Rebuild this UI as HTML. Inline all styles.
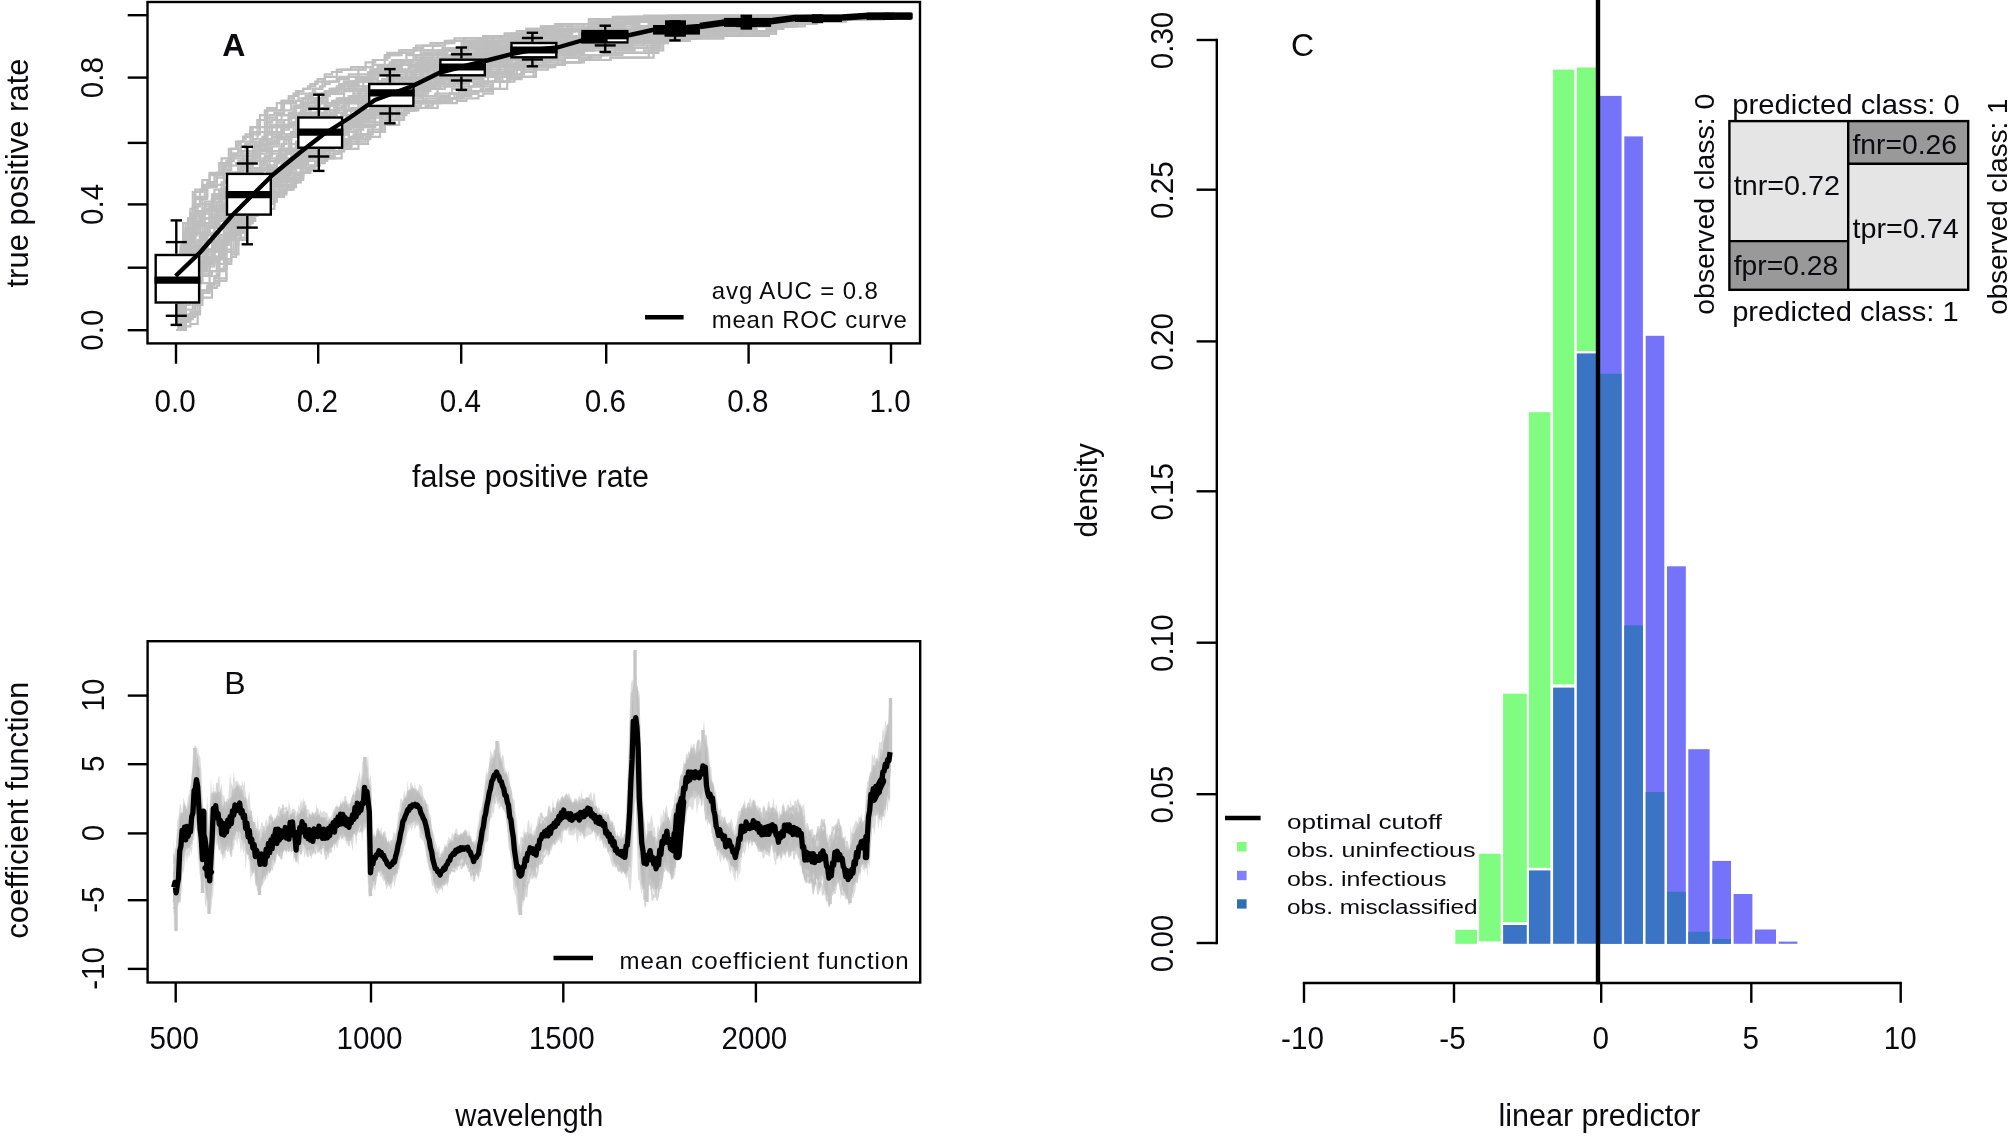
<!DOCTYPE html>
<html lang="en">
<head>
<meta charset="utf-8">
<title>Figure: ROC curves, coefficient function and linear predictor densities</title>
<style>
html,body{margin:0;padding:0;background:#fff;}
body{width:2010px;height:1136px;overflow:hidden;}
svg{display:block;filter:blur(0.55px);font-family:"Liberation Sans",Arial,sans-serif;fill:#000;}
svg text{fill:#0b0b0f;}
</style>
</head>
<body>
<svg width="2010" height="1136" viewBox="0 0 2010 1136">
<rect x="0" y="0" width="2010" height="1136" fill="#ffffff"/>
<g id="panelA">
<path d="M176 330 L183.2 330 L183.2 326.4 L185.6 326.4 L190.4 326.4 L190.4 324 L197.6 324 L197.6 300 L200 300 L202.4 300 L202.4 297.6 L204.8 297.6 L212 297.6 L212 288 L214.4 288 L216.8 288 L216.8 285.6 L219.2 285.6 L219.2 278.4 L226.4 278.4 L226.4 261.6 L228.8 261.6 L231.2 261.6 L231.2 256.8 L236 256.8 L236 244.8 L238.4 244.8 L238.4 240 L245.6 240 L245.6 220.8 L255.2 220.8 L255.2 211.2 L262.4 211.2 L262.4 206.4 L269.6 206.4 L269.6 201.6 L276.8 201.6 L276.8 194.4 L279.2 194.4 L284 194.4 L284 189.6 L291.2 189.6 L291.2 180 L296 180 L296 175.2 L303.2 175.2 L303.2 168 L305.6 168 L315.2 168 L315.2 160.8 L317.6 160.8 L324.8 160.8 L324.8 158.4 L329.6 158.4 L341.6 158.4 L341.6 146.4 L344 146.4 L346.4 146.4 L351.2 146.4 L351.2 144 L356 144 L368 144 L368 132 L370.4 132 L384.8 132 L384.8 120 L389.6 120 L396.8 120 L396.8 115.2 L406.4 115.2 L406.4 110.4 L408.8 110.4 L413.6 110.4 L413.6 108 L416 108 L428 108 L428 103.2 L440 103.2 L440 98.4 L454.4 98.4 L454.4 93.6 L466.4 93.6 L466.4 91.2 L471.2 91.2 L476 91.2 L485.6 91.2 L485.6 88.8 L500 88.8 L500 81.6 L504.8 81.6 L514.4 81.6 L514.4 76.8 L533.6 76.8 L533.6 67.2 L543.2 67.2 L555.2 67.2 L555.2 64.8 L564.8 64.8 L564.8 62.4 L584 62.4 L584 60 L591.2 60 L605.6 60 L610.4 60 L610.4 57.6 L612.8 57.6 L617.6 57.6 L620 57.6 L627.2 57.6 L634.4 57.6 L641.6 57.6 L653.6 57.6 L653.6 43.2 L668 43.2 L668 40.8 L687.2 40.8 L687.2 38.4 L701.6 38.4 L701.6 36 L716 36 L735.2 36 L754.4 36 L754.4 33.6 L764 33.6 L764 31.2 L773.6 31.2 L773.6 28.8 L783.2 28.8 L783.2 26.4 L785.6 26.4 L795.2 26.4 L795.2 24 L800 24 L802.4 24 L804.8 24 L812 24 L812 21.6 L824 21.6 L836 21.6 L845.6 21.6 L845.6 19.2 L852.8 19.2 L864.8 19.2 L884 19.2 L884 16.8 L888 16.8 L888 15.5" fill="none" stroke="#bebebe" stroke-width="2.2" stroke-linejoin="miter"/>
<path d="M176 330 L180.8 330 L180.8 321.6 L188 321.6 L188 319.2 L192.8 319.2 L192.8 314.4 L200 314.4 L200 290.4 L202.4 290.4 L209.6 290.4 L209.6 283.2 L214.4 283.2 L214.4 280.8 L216.8 280.8 L226.4 280.8 L226.4 252 L236 252 L236 232.8 L238.4 232.8 L243.2 232.8 L243.2 225.6 L245.6 225.6 L245.6 223.2 L252.8 223.2 L252.8 213.6 L262.4 213.6 L262.4 201.6 L269.6 201.6 L269.6 196.8 L279.2 196.8 L279.2 189.6 L281.6 189.6 L291.2 189.6 L291.2 177.6 L300.8 177.6 L300.8 168 L303.2 168 L310.4 168 L310.4 165.6 L312.8 165.6 L317.6 165.6 L317.6 163.2 L322.4 163.2 L322.4 160.8 L327.2 160.8 L327.2 158.4 L334.4 158.4 L334.4 153.6 L339.2 153.6 L339.2 151.2 L344 151.2 L344 148.8 L351.2 148.8 L351.2 144 L356 144 L356 141.6 L365.6 141.6 L365.6 136.8 L380 136.8 L380 124.8 L384.8 124.8 L399.2 124.8 L399.2 112.8 L401.6 112.8 L408.8 112.8 L408.8 110.4 L416 110.4 L416 105.6 L420.8 105.6 L420.8 103.2 L423.2 103.2 L437.6 103.2 L437.6 100.8 L444.8 100.8 L452 100.8 L452 98.4 L456.8 98.4 L456.8 96 L461.6 96 L471.2 96 L471.2 93.6 L478.4 93.6 L478.4 91.2 L492.8 91.2 L492.8 81.6 L502.4 81.6 L509.6 81.6 L509.6 79.2 L514.4 79.2 L514.4 76.8 L516.8 76.8 L536 76.8 L536 67.2 L548 67.2 L548 64.8 L562.4 64.8 L562.4 62.4 L581.6 62.4 L581.6 60 L586.4 60 L593.6 60 L598.4 60 L610.4 60 L610.4 57.6 L617.6 57.6 L622.4 57.6 L624.8 57.6 L634.4 57.6 L648.8 57.6 L648.8 50.4 L658.4 50.4 L658.4 40.8 L677.6 40.8 L689.6 40.8 L689.6 38.4 L694.4 38.4 L704 38.4 L723.2 38.4 L723.2 36 L742.4 36 L742.4 33.6 L747.2 33.6 L761.6 33.6 L764 33.6 L776 33.6 L776 26.4 L788 26.4 L788 24 L790.4 24 L802.4 24 L802.4 21.6 L804.8 21.6 L824 21.6 L826.4 21.6 L845.6 21.6 L845.6 19.2 L852.8 19.2 L864.8 19.2 L869.6 19.2 L884 19.2 L884 16.8 L888 16.8 L888 15.5" fill="none" stroke="#bebebe" stroke-width="2.2" stroke-linejoin="miter"/>
<path d="M176 330 L183.2 330 L183.2 316.8 L190.4 316.8 L195.2 316.8 L195.2 304.8 L202.4 304.8 L202.4 290.4 L207.2 290.4 L207.2 285.6 L209.6 285.6 L209.6 283.2 L214.4 283.2 L214.4 278.4 L216.8 278.4 L216.8 273.6 L219.2 273.6 L219.2 268.8 L226.4 268.8 L226.4 252 L236 252 L236 232.8 L238.4 232.8 L243.2 232.8 L243.2 228 L245.6 228 L245.6 225.6 L250.4 225.6 L250.4 218.4 L252.8 218.4 L252.8 216 L257.6 216 L257.6 211.2 L260 211.2 L262.4 211.2 L269.6 211.2 L269.6 199.2 L274.4 199.2 L274.4 196.8 L279.2 196.8 L279.2 194.4 L286.4 194.4 L286.4 187.2 L291.2 187.2 L296 187.2 L296 180 L303.2 180 L303.2 172.8 L310.4 172.8 L310.4 165.6 L315.2 165.6 L315.2 163.2 L324.8 163.2 L324.8 156 L329.6 156 L334.4 156 L334.4 153.6 L339.2 153.6 L339.2 151.2 L344 151.2 L344 148.8 L358.4 148.8 L358.4 139.2 L370.4 139.2 L370.4 132 L384.8 132 L384.8 122.4 L394.4 122.4 L394.4 117.6 L404 117.6 L404 110.4 L406.4 110.4 L411.2 110.4 L418.4 110.4 L418.4 108 L420.8 108 L423.2 108 L437.6 108 L437.6 103.2 L442.4 103.2 L444.8 103.2 L447.2 103.2 L452 103.2 L456.8 103.2 L456.8 100.8 L466.4 100.8 L466.4 98.4 L471.2 98.4 L473.6 98.4 L478.4 98.4 L478.4 96 L483.2 96 L483.2 93.6 L492.8 93.6 L492.8 88.8 L507.2 88.8 L507.2 79.2 L521.6 79.2 L521.6 72 L526.4 72 L533.6 72 L533.6 69.6 L536 69.6 L548 69.6 L548 67.2 L552.8 67.2 L552.8 64.8 L562.4 64.8 L564.8 64.8 L564.8 62.4 L579.2 62.4 L579.2 60 L588.8 60 L588.8 57.6 L600.8 57.6 L600.8 55.2 L608 55.2 L608 52.8 L615.2 52.8 L615.2 50.4 L620 50.4 L634.4 50.4 L634.4 48 L639.2 48 L641.6 48 L660.8 48 L660.8 38.4 L675.2 38.4 L682.4 38.4 L696.8 38.4 L696.8 36 L716 36 L716 33.6 L723.2 33.6 L735.2 33.6 L744.8 33.6 L749.6 33.6 L756.8 33.6 L764 33.6 L776 33.6 L776 26.4 L783.2 26.4 L790.4 26.4 L795.2 26.4 L804.8 26.4 L804.8 24 L807.2 24 L812 24 L812 21.6 L816.8 21.6 L824 21.6 L843.2 21.6 L843.2 19.2 L845.6 19.2 L855.2 19.2 L860 19.2 L862.4 19.2 L881.6 19.2 L881.6 16.8 L886.4 16.8 L888 16.8 L888 15.5" fill="none" stroke="#bebebe" stroke-width="2.2" stroke-linejoin="miter"/>
<path d="M176 330 L180.8 330 L180.8 244.8 L183.2 244.8 L183.2 237.6 L185.6 237.6 L185.6 228 L188 228 L188 218.4 L195.2 218.4 L195.2 192 L202.4 192 L202.4 180 L209.6 180 L209.6 172.8 L212 172.8 L219.2 172.8 L219.2 163.2 L228.8 163.2 L228.8 148.8 L236 148.8 L236 141.6 L243.2 141.6 L243.2 136.8 L250.4 136.8 L250.4 127.2 L257.6 127.2 L257.6 120 L260 120 L267.2 120 L267.2 108 L276.8 108 L276.8 103.2 L281.6 103.2 L281.6 100.8 L288.8 100.8 L288.8 96 L296 96 L296 91.2 L298.4 91.2 L303.2 91.2 L303.2 88.8 L310.4 88.8 L310.4 84 L317.6 84 L317.6 79.2 L324.8 79.2 L324.8 76.8 L336.8 76.8 L336.8 69.6 L351.2 69.6 L351.2 67.2 L356 67.2 L360.8 67.2 L372.8 67.2 L372.8 60 L387.2 60 L387.2 52.8 L394.4 52.8 L399.2 52.8 L413.6 52.8 L413.6 50.4 L418.4 50.4 L420.8 50.4 L432.8 50.4 L432.8 45.6 L444.8 45.6 L444.8 43.2 L449.6 43.2 L449.6 40.8 L452 40.8 L464 40.8 L464 38.4 L466.4 38.4 L471.2 38.4 L483.2 38.4 L483.2 36 L490.4 36 L504.8 36 L504.8 33.6 L509.6 33.6 L516.8 33.6 L519.2 33.6 L526.4 33.6 L526.4 28.8 L536 28.8 L543.2 28.8 L543.2 26.4 L548 26.4 L550.4 26.4 L562.4 26.4 L562.4 24 L569.6 24 L588.8 24 L588.8 19.2 L603.2 19.2 L617.6 19.2 L617.6 16.8 L624.8 16.8 L634.4 16.8 L644 16.8 L653.6 16.8 L668 16.8 L668 15.5 L672.8 15.5 L682.4 15.5 L701.6 15.5 L708.8 15.5 L728 15.5 L737.6 15.5 L752 15.5 L754.4 15.5 L761.6 15.5 L764 15.5 L776 15.5 L778.4 15.5 L785.6 15.5 L804.8 15.5 L824 15.5 L838.4 15.5 L843.2 15.5 L850.4 15.5 L869.6 15.5 L876.8 15.5 L879.2 15.5 L888 15.5 L888 15.5" fill="none" stroke="#bebebe" stroke-width="2.2" stroke-linejoin="miter"/>
<path d="M176 330 L183.2 330 L183.2 223.2 L185.6 223.2 L192.8 223.2 L192.8 192 L195.2 192 L202.4 192 L202.4 184.8 L209.6 184.8 L209.6 175.2 L212 175.2 L216.8 175.2 L216.8 172.8 L221.6 172.8 L221.6 165.6 L228.8 165.6 L228.8 160.8 L233.6 160.8 L233.6 153.6 L238.4 153.6 L238.4 151.2 L245.6 151.2 L245.6 141.6 L252.8 141.6 L252.8 132 L255.2 132 L264.8 132 L264.8 122.4 L269.6 122.4 L269.6 115.2 L274.4 115.2 L274.4 112.8 L284 112.8 L284 103.2 L286.4 103.2 L288.8 103.2 L291.2 103.2 L296 103.2 L296 100.8 L303.2 100.8 L303.2 98.4 L305.6 98.4 L310.4 98.4 L310.4 93.6 L315.2 93.6 L315.2 88.8 L320 88.8 L320 86.4 L324.8 86.4 L324.8 84 L329.6 84 L329.6 81.6 L339.2 81.6 L339.2 76.8 L348.8 76.8 L348.8 74.4 L358.4 74.4 L358.4 69.6 L363.2 69.6 L363.2 67.2 L365.6 67.2 L372.8 67.2 L372.8 64.8 L384.8 64.8 L384.8 55.2 L399.2 55.2 L399.2 50.4 L413.6 50.4 L413.6 48 L416 48 L423.2 48 L423.2 45.6 L430.4 45.6 L430.4 43.2 L440 43.2 L454.4 43.2 L454.4 38.4 L464 38.4 L468.8 38.4 L483.2 38.4 L483.2 36 L492.8 36 L504.8 36 L519.2 36 L519.2 33.6 L533.6 33.6 L533.6 31.2 L536 31.2 L548 31.2 L548 26.4 L552.8 26.4 L557.6 26.4 L572 26.4 L572 24 L579.2 24 L591.2 24 L591.2 21.6 L605.6 21.6 L605.6 19.2 L608 19.2 L610.4 19.2 L615.2 19.2 L624.8 19.2 L627.2 19.2 L629.6 19.2 L629.6 16.8 L636.8 16.8 L644 16.8 L644 15.5 L653.6 15.5 L665.6 15.5 L675.2 15.5 L689.6 15.5 L694.4 15.5 L704 15.5 L706.4 15.5 L713.6 15.5 L720.8 15.5 L725.6 15.5 L740 15.5 L749.6 15.5 L752 15.5 L771.2 15.5 L773.6 15.5 L778.4 15.5 L797.6 15.5 L816.8 15.5 L824 15.5 L843.2 15.5 L855.2 15.5 L864.8 15.5 L874.4 15.5 L884 15.5 L888 15.5 L888 15.5" fill="none" stroke="#bebebe" stroke-width="2.2" stroke-linejoin="miter"/>
<path d="M176 330 L178.4 330 L178.4 290.4 L180.8 290.4 L180.8 259.2 L183.2 259.2 L183.2 244.8 L190.4 244.8 L190.4 213.6 L197.6 213.6 L197.6 204 L202.4 204 L202.4 199.2 L204.8 199.2 L204.8 187.2 L209.6 187.2 L209.6 182.4 L216.8 182.4 L216.8 175.2 L224 175.2 L224 163.2 L231.2 163.2 L231.2 156 L236 156 L240.8 156 L240.8 146.4 L243.2 146.4 L245.6 146.4 L245.6 144 L250.4 144 L250.4 134.4 L257.6 134.4 L257.6 127.2 L267.2 127.2 L267.2 117.6 L276.8 117.6 L276.8 115.2 L281.6 115.2 L284 115.2 L284 110.4 L291.2 110.4 L291.2 103.2 L296 103.2 L296 100.8 L298.4 100.8 L298.4 98.4 L303.2 98.4 L305.6 98.4 L305.6 96 L312.8 96 L312.8 88.8 L322.4 88.8 L322.4 81.6 L329.6 81.6 L332 81.6 L336.8 81.6 L336.8 79.2 L348.8 79.2 L348.8 76.8 L353.6 76.8 L358.4 76.8 L358.4 74.4 L360.8 74.4 L365.6 74.4 L370.4 74.4 L370.4 69.6 L375.2 69.6 L389.6 69.6 L389.6 62.4 L401.6 62.4 L401.6 60 L416 60 L416 55.2 L420.8 55.2 L428 55.2 L442.4 55.2 L442.4 50.4 L449.6 50.4 L449.6 48 L464 48 L464 43.2 L468.8 43.2 L471.2 43.2 L485.6 43.2 L485.6 38.4 L497.6 38.4 L502.4 38.4 L502.4 36 L521.6 36 L521.6 31.2 L540.8 31.2 L540.8 28.8 L552.8 28.8 L572 28.8 L572 24 L576.8 24 L579.2 24 L588.8 24 L598.4 24 L598.4 21.6 L600.8 21.6 L603.2 21.6 L608 21.6 L622.4 21.6 L632 21.6 L632 19.2 L641.6 19.2 L653.6 19.2 L665.6 19.2 L684.8 19.2 L704 19.2 L704 16.8 L723.2 16.8 L730.4 16.8 L737.6 16.8 L747.2 16.8 L752 16.8 L759.2 16.8 L771.2 16.8 L778.4 16.8 L783.2 16.8 L802.4 16.8 L804.8 16.8 L807.2 16.8 L807.2 15.5 L809.6 15.5 L828.8 15.5 L838.4 15.5 L845.6 15.5 L850.4 15.5 L869.6 15.5 L881.6 15.5 L888 15.5 L888 15.5" fill="none" stroke="#bebebe" stroke-width="2.2" stroke-linejoin="miter"/>
<path d="M176 330 L180.8 330 L180.8 249.6 L190.4 249.6 L190.4 208.8 L192.8 208.8 L192.8 206.4 L200 206.4 L200 189.6 L202.4 189.6 L204.8 189.6 L204.8 187.2 L207.2 187.2 L212 187.2 L212 184.8 L214.4 184.8 L224 184.8 L224 170.4 L231.2 170.4 L231.2 165.6 L236 165.6 L236 163.2 L238.4 163.2 L240.8 163.2 L240.8 160.8 L243.2 160.8 L243.2 156 L248 156 L248 151.2 L255.2 151.2 L255.2 144 L257.6 144 L260 144 L260 139.2 L264.8 139.2 L264.8 132 L269.6 132 L269.6 124.8 L276.8 124.8 L276.8 115.2 L281.6 115.2 L288.8 115.2 L288.8 112.8 L293.6 112.8 L293.6 108 L296 108 L300.8 108 L300.8 103.2 L308 103.2 L308 98.4 L310.4 98.4 L312.8 98.4 L315.2 98.4 L324.8 98.4 L324.8 93.6 L329.6 93.6 L336.8 93.6 L336.8 91.2 L339.2 91.2 L339.2 88.8 L348.8 88.8 L348.8 86.4 L356 86.4 L358.4 86.4 L358.4 81.6 L370.4 81.6 L370.4 72 L380 72 L380 69.6 L384.8 69.6 L394.4 69.6 L394.4 64.8 L401.6 64.8 L401.6 62.4 L408.8 62.4 L408.8 60 L423.2 60 L423.2 52.8 L428 52.8 L430.4 52.8 L437.6 52.8 L437.6 50.4 L449.6 50.4 L456.8 50.4 L468.8 50.4 L468.8 48 L483.2 48 L483.2 45.6 L497.6 45.6 L497.6 43.2 L502.4 43.2 L502.4 40.8 L507.2 40.8 L507.2 38.4 L526.4 38.4 L526.4 33.6 L528.8 33.6 L538.4 33.6 L545.6 33.6 L545.6 31.2 L548 31.2 L567.2 31.2 L572 31.2 L591.2 31.2 L591.2 26.4 L605.6 26.4 L608 26.4 L617.6 26.4 L617.6 24 L632 24 L632 21.6 L651.2 21.6 L663.2 21.6 L668 21.6 L668 19.2 L677.6 19.2 L689.6 19.2 L701.6 19.2 L711.2 19.2 L711.2 16.8 L723.2 16.8 L742.4 16.8 L761.6 16.8 L771.2 16.8 L778.4 16.8 L788 16.8 L800 16.8 L812 16.8 L816.8 16.8 L819.2 16.8 L833.6 16.8 L845.6 16.8 L855.2 16.8 L869.6 16.8 L888 16.8 L888 15.5" fill="none" stroke="#bebebe" stroke-width="2.2" stroke-linejoin="miter"/>
<path d="M176 330 L183.2 330 L183.2 240 L192.8 240 L192.8 216 L197.6 216 L197.6 213.6 L202.4 213.6 L204.8 213.6 L204.8 211.2 L212 211.2 L212 199.2 L214.4 199.2 L214.4 194.4 L224 194.4 L224 172.8 L226.4 172.8 L231.2 172.8 L240.8 172.8 L240.8 160.8 L245.6 160.8 L250.4 160.8 L250.4 158.4 L252.8 158.4 L252.8 153.6 L255.2 153.6 L255.2 146.4 L260 146.4 L260 139.2 L264.8 139.2 L264.8 136.8 L267.2 136.8 L267.2 134.4 L272 134.4 L272 127.2 L276.8 127.2 L279.2 127.2 L288.8 127.2 L288.8 117.6 L293.6 117.6 L293.6 115.2 L303.2 115.2 L303.2 103.2 L310.4 103.2 L310.4 100.8 L312.8 100.8 L322.4 100.8 L322.4 96 L329.6 96 L329.6 93.6 L336.8 93.6 L336.8 88.8 L341.6 88.8 L341.6 84 L356 84 L356 76.8 L358.4 76.8 L370.4 76.8 L370.4 72 L372.8 72 L377.6 72 L389.6 72 L389.6 69.6 L401.6 69.6 L401.6 64.8 L406.4 64.8 L411.2 64.8 L411.2 60 L416 60 L416 57.6 L423.2 57.6 L432.8 57.6 L432.8 52.8 L440 52.8 L444.8 52.8 L447.2 52.8 L447.2 50.4 L449.6 50.4 L459.2 50.4 L459.2 48 L464 48 L464 45.6 L468.8 45.6 L478.4 45.6 L478.4 43.2 L492.8 43.2 L500 43.2 L500 40.8 L519.2 40.8 L519.2 36 L524 36 L526.4 36 L540.8 36 L540.8 33.6 L548 33.6 L557.6 33.6 L560 33.6 L560 31.2 L574.4 31.2 L574.4 28.8 L586.4 28.8 L586.4 26.4 L600.8 26.4 L600.8 21.6 L612.8 21.6 L627.2 21.6 L627.2 19.2 L629.6 19.2 L632 19.2 L636.8 19.2 L641.6 19.2 L644 19.2 L646.4 19.2 L651.2 19.2 L656 19.2 L670.4 19.2 L682.4 19.2 L694.4 19.2 L699.2 19.2 L699.2 16.8 L713.6 16.8 L716 16.8 L725.6 16.8 L740 16.8 L749.6 16.8 L764 16.8 L778.4 16.8 L788 16.8 L795.2 16.8 L800 16.8 L814.4 16.8 L828.8 16.8 L831.2 16.8 L838.4 16.8 L852.8 16.8 L872 16.8 L879.2 16.8 L888 16.8 L888 15.5" fill="none" stroke="#bebebe" stroke-width="2.2" stroke-linejoin="miter"/>
<path d="M176 330 L178.4 330 L178.4 290.4 L183.2 290.4 L183.2 247.2 L185.6 247.2 L185.6 244.8 L188 244.8 L188 235.2 L195.2 235.2 L195.2 218.4 L200 218.4 L200 213.6 L204.8 213.6 L204.8 206.4 L214.4 206.4 L214.4 189.6 L221.6 189.6 L231.2 189.6 L231.2 172.8 L238.4 172.8 L238.4 160.8 L245.6 160.8 L245.6 156 L248 156 L255.2 156 L255.2 146.4 L257.6 146.4 L257.6 144 L260 144 L260 141.6 L264.8 141.6 L264.8 134.4 L267.2 134.4 L269.6 134.4 L276.8 134.4 L276.8 127.2 L279.2 127.2 L281.6 127.2 L284 127.2 L291.2 127.2 L291.2 124.8 L293.6 124.8 L293.6 122.4 L296 122.4 L296 117.6 L305.6 117.6 L305.6 105.6 L315.2 105.6 L315.2 98.4 L324.8 98.4 L324.8 91.2 L339.2 91.2 L339.2 84 L353.6 84 L356 84 L356 81.6 L360.8 81.6 L363.2 81.6 L377.6 81.6 L377.6 74.4 L380 74.4 L394.4 74.4 L394.4 67.2 L401.6 67.2 L401.6 64.8 L404 64.8 L416 64.8 L416 62.4 L420.8 62.4 L425.6 62.4 L428 62.4 L428 60 L430.4 60 L442.4 60 L442.4 55.2 L456.8 55.2 L456.8 50.4 L466.4 50.4 L466.4 45.6 L476 45.6 L488 45.6 L495.2 45.6 L495.2 43.2 L504.8 43.2 L519.2 43.2 L519.2 38.4 L521.6 38.4 L540.8 38.4 L540.8 33.6 L560 33.6 L560 31.2 L564.8 31.2 L574.4 31.2 L593.6 31.2 L593.6 28.8 L612.8 28.8 L612.8 26.4 L622.4 26.4 L624.8 26.4 L624.8 24 L629.6 24 L639.2 24 L639.2 21.6 L651.2 21.6 L651.2 19.2 L658.4 19.2 L677.6 19.2 L682.4 19.2 L687.2 19.2 L689.6 19.2 L699.2 19.2 L718.4 19.2 L720.8 19.2 L735.2 19.2 L744.8 19.2 L759.2 19.2 L761.6 19.2 L768.8 19.2 L780.8 19.2 L780.8 16.8 L792.8 16.8 L807.2 16.8 L812 16.8 L824 16.8 L843.2 16.8 L845.6 16.8 L852.8 16.8 L872 16.8 L888 16.8 L888 15.5" fill="none" stroke="#bebebe" stroke-width="2.2" stroke-linejoin="miter"/>
<path d="M176 330 L180.8 330 L180.8 280.8 L190.4 280.8 L190.4 268.8 L195.2 268.8 L195.2 266.4 L200 266.4 L200 256.8 L207.2 256.8 L207.2 249.6 L209.6 249.6 L214.4 249.6 L214.4 240 L224 240 L224 228 L231.2 228 L231.2 220.8 L233.6 220.8 L240.8 220.8 L240.8 208.8 L243.2 208.8 L245.6 208.8 L245.6 206.4 L252.8 206.4 L252.8 196.8 L255.2 196.8 L257.6 196.8 L262.4 196.8 L262.4 192 L267.2 192 L267.2 187.2 L274.4 187.2 L274.4 177.6 L276.8 177.6 L284 177.6 L284 172.8 L288.8 172.8 L288.8 168 L293.6 168 L293.6 165.6 L303.2 165.6 L303.2 153.6 L308 153.6 L308 151.2 L315.2 151.2 L315.2 144 L320 144 L320 139.2 L329.6 139.2 L329.6 132 L341.6 132 L341.6 122.4 L356 122.4 L356 112.8 L363.2 112.8 L363.2 110.4 L375.2 110.4 L375.2 100.8 L382.4 100.8 L382.4 98.4 L394.4 98.4 L394.4 91.2 L408.8 91.2 L408.8 84 L413.6 84 L425.6 84 L425.6 76.8 L432.8 76.8 L437.6 76.8 L437.6 74.4 L444.8 74.4 L449.6 74.4 L461.6 74.4 L461.6 67.2 L466.4 67.2 L473.6 67.2 L476 67.2 L488 67.2 L488 60 L500 60 L500 57.6 L514.4 57.6 L514.4 55.2 L521.6 55.2 L521.6 52.8 L531.2 52.8 L531.2 50.4 L533.6 50.4 L538.4 50.4 L552.8 50.4 L564.8 50.4 L564.8 45.6 L572 45.6 L584 45.6 L584 43.2 L588.8 43.2 L603.2 43.2 L603.2 38.4 L622.4 38.4 L622.4 36 L632 36 L646.4 36 L646.4 33.6 L660.8 33.6 L660.8 31.2 L665.6 31.2 L665.6 28.8 L668 28.8 L682.4 28.8 L684.8 28.8 L692 28.8 L694.4 28.8 L696.8 28.8 L711.2 28.8 L711.2 26.4 L725.6 26.4 L725.6 24 L730.4 24 L737.6 24 L749.6 24 L749.6 21.6 L754.4 21.6 L764 21.6 L768.8 21.6 L771.2 21.6 L790.4 21.6 L790.4 19.2 L804.8 19.2 L816.8 19.2 L821.6 19.2 L828.8 19.2 L828.8 16.8 L848 16.8 L867.2 16.8 L886.4 16.8 L888 16.8 L888 15.5" fill="none" stroke="#bebebe" stroke-width="2.2" stroke-linejoin="miter"/>
<path d="M176 330 L180.8 330 L180.8 252 L185.6 252 L185.6 237.6 L192.8 237.6 L192.8 216 L197.6 216 L197.6 213.6 L204.8 213.6 L204.8 204 L212 204 L212 194.4 L221.6 194.4 L221.6 182.4 L226.4 182.4 L226.4 180 L231.2 180 L231.2 172.8 L238.4 172.8 L238.4 163.2 L240.8 163.2 L245.6 163.2 L245.6 153.6 L255.2 153.6 L255.2 141.6 L262.4 141.6 L262.4 136.8 L267.2 136.8 L267.2 132 L276.8 132 L276.8 122.4 L281.6 122.4 L284 122.4 L284 120 L286.4 120 L291.2 120 L291.2 117.6 L298.4 117.6 L298.4 112.8 L300.8 112.8 L303.2 112.8 L305.6 112.8 L305.6 110.4 L308 110.4 L310.4 110.4 L310.4 108 L317.6 108 L317.6 103.2 L327.2 103.2 L327.2 96 L329.6 96 L329.6 93.6 L344 93.6 L344 81.6 L356 81.6 L356 79.2 L368 79.2 L368 72 L372.8 72 L372.8 69.6 L380 69.6 L380 67.2 L392 67.2 L392 62.4 L396.8 62.4 L404 62.4 L404 60 L411.2 60 L420.8 60 L420.8 57.6 L425.6 57.6 L437.6 57.6 L437.6 52.8 L447.2 52.8 L447.2 50.4 L456.8 50.4 L456.8 48 L471.2 48 L471.2 45.6 L476 45.6 L488 45.6 L488 43.2 L492.8 43.2 L500 43.2 L500 40.8 L512 40.8 L526.4 40.8 L526.4 38.4 L540.8 38.4 L540.8 36 L555.2 36 L555.2 33.6 L569.6 33.6 L569.6 31.2 L572 31.2 L584 31.2 L584 28.8 L588.8 28.8 L591.2 28.8 L596 28.8 L603.2 28.8 L603.2 26.4 L610.4 26.4 L620 26.4 L624.8 26.4 L624.8 24 L632 24 L632 21.6 L644 21.6 L646.4 21.6 L665.6 21.6 L665.6 19.2 L675.2 19.2 L682.4 19.2 L701.6 19.2 L701.6 16.8 L716 16.8 L725.6 16.8 L732.8 16.8 L747.2 16.8 L761.6 16.8 L764 16.8 L778.4 16.8 L790.4 16.8 L792.8 16.8 L802.4 16.8 L807.2 16.8 L826.4 16.8 L840.8 16.8 L843.2 16.8 L855.2 16.8 L864.8 16.8 L879.2 16.8 L888 16.8 L888 15.5 L888 15.5" fill="none" stroke="#bebebe" stroke-width="2.2" stroke-linejoin="miter"/>
<path d="M176 330 L178.4 330 L178.4 290.4 L185.6 290.4 L185.6 247.2 L195.2 247.2 L195.2 232.8 L204.8 232.8 L204.8 225.6 L207.2 225.6 L214.4 225.6 L214.4 213.6 L216.8 213.6 L216.8 208.8 L226.4 208.8 L226.4 196.8 L231.2 196.8 L231.2 192 L236 192 L236 184.8 L238.4 184.8 L238.4 182.4 L243.2 182.4 L243.2 177.6 L250.4 177.6 L250.4 163.2 L252.8 163.2 L252.8 158.4 L257.6 158.4 L257.6 153.6 L260 153.6 L260 151.2 L269.6 151.2 L269.6 141.6 L274.4 141.6 L274.4 136.8 L279.2 136.8 L286.4 136.8 L286.4 134.4 L293.6 134.4 L296 134.4 L296 132 L300.8 132 L300.8 129.6 L303.2 129.6 L303.2 124.8 L310.4 124.8 L310.4 112.8 L317.6 112.8 L317.6 108 L320 108 L327.2 108 L327.2 103.2 L329.6 103.2 L334.4 103.2 L348.8 103.2 L348.8 96 L353.6 96 L365.6 96 L365.6 88.8 L377.6 88.8 L377.6 81.6 L382.4 81.6 L394.4 81.6 L394.4 76.8 L406.4 76.8 L406.4 72 L420.8 72 L420.8 64.8 L423.2 64.8 L430.4 64.8 L437.6 64.8 L437.6 60 L440 60 L440 57.6 L452 57.6 L452 55.2 L464 55.2 L464 52.8 L476 52.8 L476 50.4 L480.8 50.4 L485.6 50.4 L500 50.4 L500 45.6 L514.4 45.6 L514.4 43.2 L521.6 43.2 L521.6 40.8 L533.6 40.8 L533.6 38.4 L538.4 38.4 L543.2 38.4 L557.6 38.4 L557.6 36 L562.4 36 L562.4 33.6 L572 33.6 L572 31.2 L591.2 31.2 L591.2 28.8 L610.4 28.8 L610.4 24 L629.6 24 L629.6 21.6 L632 21.6 L644 21.6 L663.2 21.6 L675.2 21.6 L677.6 21.6 L696.8 21.6 L708.8 21.6 L718.4 21.6 L728 21.6 L728 19.2 L742.4 19.2 L747.2 19.2 L766.4 19.2 L773.6 19.2 L780.8 19.2 L780.8 16.8 L800 16.8 L819.2 16.8 L838.4 16.8 L843.2 16.8 L855.2 16.8 L860 16.8 L879.2 16.8 L888 16.8 L888 15.5" fill="none" stroke="#bebebe" stroke-width="2.2" stroke-linejoin="miter"/>
<path d="M176 330 L180.8 330 L180.8 247.2 L185.6 247.2 L185.6 223.2 L195.2 223.2 L195.2 189.6 L202.4 189.6 L202.4 187.2 L204.8 187.2 L209.6 187.2 L209.6 182.4 L214.4 182.4 L214.4 175.2 L221.6 175.2 L221.6 158.4 L231.2 158.4 L231.2 148.8 L238.4 148.8 L238.4 144 L240.8 144 L240.8 141.6 L243.2 141.6 L243.2 139.2 L245.6 139.2 L245.6 134.4 L250.4 134.4 L250.4 132 L260 132 L260 115.2 L267.2 115.2 L267.2 110.4 L269.6 110.4 L272 110.4 L281.6 110.4 L281.6 103.2 L288.8 103.2 L288.8 98.4 L293.6 98.4 L293.6 93.6 L296 93.6 L298.4 93.6 L303.2 93.6 L312.8 93.6 L322.4 93.6 L324.8 93.6 L329.6 93.6 L334.4 93.6 L334.4 88.8 L336.8 88.8 L341.6 88.8 L348.8 88.8 L348.8 86.4 L358.4 86.4 L358.4 79.2 L372.8 79.2 L372.8 69.6 L377.6 69.6 L377.6 67.2 L392 67.2 L392 60 L401.6 60 L406.4 60 L406.4 55.2 L420.8 55.2 L420.8 50.4 L425.6 50.4 L432.8 50.4 L442.4 50.4 L442.4 48 L447.2 48 L461.6 48 L461.6 43.2 L464 43.2 L466.4 43.2 L478.4 43.2 L478.4 40.8 L488 40.8 L492.8 40.8 L492.8 38.4 L504.8 38.4 L504.8 33.6 L516.8 33.6 L516.8 31.2 L521.6 31.2 L528.8 31.2 L533.6 31.2 L538.4 31.2 L545.6 31.2 L548 31.2 L567.2 31.2 L567.2 26.4 L569.6 26.4 L584 26.4 L584 24 L598.4 24 L600.8 24 L600.8 21.6 L605.6 21.6 L610.4 21.6 L624.8 21.6 L624.8 19.2 L634.4 19.2 L634.4 16.8 L653.6 16.8 L660.8 16.8 L668 16.8 L677.6 16.8 L682.4 16.8 L682.4 15.5 L696.8 15.5 L699.2 15.5 L718.4 15.5 L720.8 15.5 L723.2 15.5 L735.2 15.5 L740 15.5 L759.2 15.5 L768.8 15.5 L788 15.5 L795.2 15.5 L802.4 15.5 L816.8 15.5 L824 15.5 L826.4 15.5 L831.2 15.5 L836 15.5 L845.6 15.5 L855.2 15.5 L860 15.5 L879.2 15.5 L886.4 15.5 L888 15.5 L888 15.5" fill="none" stroke="#bebebe" stroke-width="2.2" stroke-linejoin="miter"/>
<path d="M176 330 L180.8 330 L180.8 292.8 L183.2 292.8 L190.4 292.8 L190.4 285.6 L200 285.6 L200 266.4 L204.8 266.4 L204.8 264 L214.4 264 L214.4 247.2 L216.8 247.2 L221.6 247.2 L221.6 242.4 L224 242.4 L226.4 242.4 L226.4 240 L228.8 240 L228.8 237.6 L231.2 237.6 L233.6 237.6 L233.6 228 L240.8 228 L240.8 216 L245.6 216 L245.6 211.2 L252.8 211.2 L252.8 201.6 L262.4 201.6 L262.4 192 L269.6 192 L269.6 187.2 L272 187.2 L276.8 187.2 L276.8 182.4 L279.2 182.4 L288.8 182.4 L288.8 172.8 L296 172.8 L296 168 L298.4 168 L300.8 168 L300.8 165.6 L308 165.6 L308 156 L310.4 156 L310.4 153.6 L312.8 153.6 L320 153.6 L320 148.8 L329.6 148.8 L329.6 141.6 L332 141.6 L334.4 141.6 L348.8 141.6 L348.8 124.8 L360.8 124.8 L360.8 120 L365.6 120 L365.6 117.6 L370.4 117.6 L370.4 115.2 L377.6 115.2 L377.6 112.8 L380 112.8 L387.2 112.8 L387.2 110.4 L392 110.4 L392 108 L396.8 108 L396.8 103.2 L406.4 103.2 L406.4 98.4 L411.2 98.4 L411.2 96 L423.2 96 L423.2 88.8 L425.6 88.8 L430.4 88.8 L430.4 86.4 L440 86.4 L440 84 L442.4 84 L456.8 84 L456.8 81.6 L471.2 81.6 L471.2 79.2 L483.2 79.2 L483.2 74.4 L497.6 74.4 L497.6 64.8 L500 64.8 L504.8 64.8 L514.4 64.8 L514.4 62.4 L524 62.4 L524 57.6 L536 57.6 L536 55.2 L540.8 55.2 L545.6 55.2 L557.6 55.2 L557.6 52.8 L564.8 52.8 L576.8 52.8 L576.8 50.4 L579.2 50.4 L593.6 50.4 L593.6 48 L612.8 48 L612.8 43.2 L624.8 43.2 L629.6 43.2 L629.6 40.8 L644 40.8 L644 36 L646.4 36 L660.8 36 L660.8 33.6 L670.4 33.6 L680 33.6 L680 31.2 L682.4 31.2 L684.8 31.2 L696.8 31.2 L708.8 31.2 L708.8 28.8 L723.2 28.8 L735.2 28.8 L735.2 26.4 L754.4 26.4 L756.8 26.4 L766.4 26.4 L778.4 26.4 L778.4 21.6 L788 21.6 L790.4 21.6 L795.2 21.6 L795.2 19.2 L814.4 19.2 L826.4 19.2 L845.6 19.2 L845.6 16.8 L855.2 16.8 L874.4 16.8 L879.2 16.8 L888 16.8 L888 15.5" fill="none" stroke="#bebebe" stroke-width="2.2" stroke-linejoin="miter"/>
<path d="M176 330 L180.8 330 L180.8 268.8 L183.2 268.8 L183.2 266.4 L190.4 266.4 L190.4 249.6 L192.8 249.6 L200 249.6 L200 240 L204.8 240 L204.8 232.8 L209.6 232.8 L209.6 228 L216.8 228 L216.8 211.2 L219.2 211.2 L221.6 211.2 L221.6 206.4 L224 206.4 L231.2 206.4 L231.2 194.4 L238.4 194.4 L238.4 187.2 L240.8 187.2 L248 187.2 L248 182.4 L250.4 182.4 L255.2 182.4 L255.2 180 L257.6 180 L257.6 177.6 L262.4 177.6 L262.4 170.4 L264.8 170.4 L272 170.4 L272 168 L276.8 168 L276.8 163.2 L279.2 163.2 L279.2 158.4 L281.6 158.4 L286.4 158.4 L286.4 153.6 L291.2 153.6 L291.2 151.2 L296 151.2 L296 144 L303.2 144 L303.2 136.8 L305.6 136.8 L310.4 136.8 L310.4 129.6 L317.6 129.6 L317.6 124.8 L322.4 124.8 L322.4 120 L327.2 120 L327.2 115.2 L336.8 115.2 L336.8 108 L341.6 108 L341.6 105.6 L346.4 105.6 L346.4 103.2 L348.8 103.2 L358.4 103.2 L358.4 98.4 L368 98.4 L368 91.2 L370.4 91.2 L375.2 91.2 L380 91.2 L389.6 91.2 L389.6 88.8 L394.4 88.8 L399.2 88.8 L399.2 86.4 L408.8 86.4 L408.8 81.6 L411.2 81.6 L423.2 81.6 L423.2 72 L425.6 72 L430.4 72 L430.4 69.6 L442.4 69.6 L442.4 64.8 L454.4 64.8 L454.4 60 L466.4 60 L466.4 57.6 L478.4 57.6 L478.4 55.2 L483.2 55.2 L492.8 55.2 L492.8 52.8 L507.2 52.8 L507.2 50.4 L509.6 50.4 L524 50.4 L524 48 L533.6 48 L533.6 45.6 L540.8 45.6 L555.2 45.6 L555.2 40.8 L560 40.8 L569.6 40.8 L569.6 38.4 L588.8 38.4 L588.8 33.6 L598.4 33.6 L610.4 33.6 L617.6 33.6 L636.8 33.6 L636.8 28.8 L656 28.8 L656 26.4 L665.6 26.4 L672.8 26.4 L680 26.4 L680 24 L692 24 L701.6 24 L716 24 L716 21.6 L735.2 21.6 L742.4 21.6 L747.2 21.6 L756.8 21.6 L756.8 19.2 L768.8 19.2 L788 19.2 L788 16.8 L795.2 16.8 L814.4 16.8 L819.2 16.8 L828.8 16.8 L831.2 16.8 L840.8 16.8 L848 16.8 L860 16.8 L872 16.8 L884 16.8 L888 16.8 L888 15.5" fill="none" stroke="#bebebe" stroke-width="2.2" stroke-linejoin="miter"/>
<path d="M176 330 L180.8 330 L180.8 261.6 L185.6 261.6 L185.6 249.6 L188 249.6 L188 247.2 L190.4 247.2 L190.4 237.6 L195.2 237.6 L195.2 225.6 L202.4 225.6 L202.4 218.4 L209.6 218.4 L209.6 211.2 L214.4 211.2 L214.4 208.8 L219.2 208.8 L219.2 199.2 L226.4 199.2 L226.4 192 L231.2 192 L231.2 184.8 L233.6 184.8 L233.6 180 L236 180 L236 177.6 L238.4 177.6 L248 177.6 L248 163.2 L255.2 163.2 L255.2 158.4 L260 158.4 L260 153.6 L267.2 153.6 L267.2 139.2 L272 139.2 L272 136.8 L281.6 136.8 L281.6 124.8 L288.8 124.8 L293.6 124.8 L296 124.8 L298.4 124.8 L303.2 124.8 L303.2 122.4 L310.4 122.4 L310.4 115.2 L312.8 115.2 L315.2 115.2 L315.2 112.8 L320 112.8 L320 108 L324.8 108 L324.8 103.2 L332 103.2 L332 100.8 L344 100.8 L344 91.2 L346.4 91.2 L356 91.2 L365.6 91.2 L365.6 86.4 L375.2 86.4 L375.2 84 L384.8 84 L384.8 81.6 L392 81.6 L392 79.2 L401.6 79.2 L401.6 76.8 L416 76.8 L416 69.6 L425.6 69.6 L425.6 67.2 L430.4 67.2 L440 67.2 L440 60 L447.2 60 L461.6 60 L461.6 55.2 L473.6 55.2 L473.6 52.8 L488 52.8 L488 48 L492.8 48 L497.6 48 L509.6 48 L509.6 43.2 L512 43.2 L514.4 43.2 L521.6 43.2 L524 43.2 L526.4 43.2 L545.6 43.2 L545.6 40.8 L548 40.8 L552.8 40.8 L552.8 38.4 L557.6 38.4 L576.8 38.4 L576.8 36 L581.6 36 L581.6 33.6 L600.8 33.6 L600.8 31.2 L610.4 31.2 L620 31.2 L622.4 31.2 L636.8 31.2 L636.8 28.8 L648.8 28.8 L648.8 26.4 L663.2 26.4 L672.8 26.4 L675.2 26.4 L680 26.4 L682.4 26.4 L689.6 26.4 L689.6 24 L696.8 24 L708.8 24 L708.8 21.6 L723.2 21.6 L725.6 21.6 L732.8 21.6 L744.8 21.6 L744.8 19.2 L752 19.2 L759.2 19.2 L773.6 19.2 L776 19.2 L790.4 19.2 L790.4 16.8 L795.2 16.8 L814.4 16.8 L833.6 16.8 L852.8 16.8 L872 16.8 L879.2 16.8 L884 16.8 L888 16.8 L888 15.5" fill="none" stroke="#bebebe" stroke-width="2.2" stroke-linejoin="miter"/>
<path d="M176 330 L183.2 330 L183.2 288 L185.6 288 L188 288 L195.2 288 L195.2 276 L200 276 L200 268.8 L207.2 268.8 L207.2 264 L212 264 L212 259.2 L219.2 259.2 L219.2 244.8 L228.8 244.8 L228.8 230.4 L231.2 230.4 L240.8 230.4 L240.8 211.2 L245.6 211.2 L245.6 208.8 L248 208.8 L248 204 L255.2 204 L255.2 194.4 L257.6 194.4 L262.4 194.4 L262.4 187.2 L272 187.2 L272 175.2 L281.6 175.2 L281.6 168 L284 168 L286.4 168 L293.6 168 L293.6 158.4 L303.2 158.4 L303.2 148.8 L308 148.8 L310.4 148.8 L317.6 148.8 L317.6 141.6 L322.4 141.6 L322.4 139.2 L329.6 139.2 L329.6 134.4 L344 134.4 L344 122.4 L358.4 122.4 L358.4 110.4 L363.2 110.4 L368 110.4 L380 110.4 L380 103.2 L387.2 103.2 L387.2 98.4 L389.6 98.4 L394.4 98.4 L394.4 93.6 L408.8 93.6 L408.8 84 L411.2 84 L416 84 L425.6 84 L425.6 81.6 L437.6 81.6 L437.6 76.8 L444.8 76.8 L447.2 76.8 L461.6 76.8 L461.6 72 L466.4 72 L476 72 L480.8 72 L480.8 69.6 L490.4 69.6 L490.4 62.4 L504.8 62.4 L504.8 57.6 L516.8 57.6 L524 57.6 L536 57.6 L536 52.8 L543.2 52.8 L562.4 52.8 L562.4 48 L581.6 48 L581.6 43.2 L600.8 43.2 L600.8 38.4 L612.8 38.4 L617.6 38.4 L632 38.4 L636.8 38.4 L656 38.4 L656 33.6 L658.4 33.6 L668 33.6 L668 31.2 L682.4 31.2 L682.4 28.8 L694.4 28.8 L696.8 28.8 L704 28.8 L711.2 28.8 L711.2 26.4 L725.6 26.4 L725.6 24 L744.8 24 L759.2 24 L773.6 24 L773.6 21.6 L788 21.6 L788 19.2 L807.2 19.2 L826.4 19.2 L828.8 19.2 L843.2 19.2 L843.2 16.8 L848 16.8 L860 16.8 L864.8 16.8 L876.8 16.8 L881.6 16.8 L888 16.8 L888 15.5" fill="none" stroke="#bebebe" stroke-width="2.2" stroke-linejoin="miter"/>
<path d="M176 330 L183.2 330 L183.2 276 L190.4 276 L190.4 268.8 L195.2 268.8 L195.2 261.6 L197.6 261.6 L197.6 259.2 L200 259.2 L200 254.4 L207.2 254.4 L207.2 242.4 L212 242.4 L212 237.6 L219.2 237.6 L219.2 228 L221.6 228 L228.8 228 L228.8 216 L238.4 216 L238.4 206.4 L240.8 206.4 L248 206.4 L248 196.8 L252.8 196.8 L252.8 192 L262.4 192 L262.4 180 L264.8 180 L272 180 L272 170.4 L274.4 170.4 L276.8 170.4 L279.2 170.4 L281.6 170.4 L281.6 168 L284 168 L284 165.6 L286.4 165.6 L286.4 163.2 L291.2 163.2 L291.2 160.8 L296 160.8 L296 156 L298.4 156 L303.2 156 L303.2 153.6 L305.6 153.6 L305.6 151.2 L312.8 151.2 L312.8 144 L320 144 L320 134.4 L324.8 134.4 L332 134.4 L332 129.6 L339.2 129.6 L339.2 124.8 L341.6 124.8 L346.4 124.8 L358.4 124.8 L358.4 112.8 L368 112.8 L368 110.4 L372.8 110.4 L372.8 108 L384.8 108 L384.8 100.8 L387.2 100.8 L389.6 100.8 L394.4 100.8 L394.4 96 L399.2 96 L399.2 93.6 L413.6 93.6 L413.6 86.4 L425.6 86.4 L425.6 84 L440 84 L440 79.2 L444.8 79.2 L449.6 79.2 L449.6 76.8 L461.6 76.8 L461.6 72 L466.4 72 L471.2 72 L471.2 69.6 L485.6 69.6 L485.6 62.4 L490.4 62.4 L500 62.4 L500 60 L514.4 60 L514.4 52.8 L528.8 52.8 L528.8 50.4 L538.4 50.4 L548 50.4 L548 48 L557.6 48 L557.6 45.6 L564.8 45.6 L576.8 45.6 L576.8 40.8 L591.2 40.8 L591.2 38.4 L596 38.4 L605.6 38.4 L608 38.4 L617.6 38.4 L622.4 38.4 L624.8 38.4 L644 38.4 L644 33.6 L656 33.6 L656 31.2 L665.6 31.2 L665.6 28.8 L668 28.8 L680 28.8 L682.4 28.8 L682.4 26.4 L692 26.4 L696.8 26.4 L711.2 26.4 L720.8 26.4 L740 26.4 L740 24 L744.8 24 L754.4 24 L764 24 L773.6 24 L773.6 21.6 L792.8 21.6 L792.8 19.2 L797.6 19.2 L809.6 19.2 L812 19.2 L826.4 19.2 L833.6 19.2 L845.6 19.2 L845.6 16.8 L855.2 16.8 L869.6 16.8 L874.4 16.8 L888 16.8 L888 15.5" fill="none" stroke="#bebebe" stroke-width="2.2" stroke-linejoin="miter"/>
<path d="M176 330 L183.2 330 L183.2 283.2 L190.4 283.2 L190.4 273.6 L197.6 273.6 L197.6 261.6 L204.8 261.6 L204.8 252 L209.6 252 L214.4 252 L214.4 242.4 L219.2 242.4 L219.2 235.2 L224 235.2 L224 232.8 L226.4 232.8 L233.6 232.8 L233.6 218.4 L243.2 218.4 L243.2 204 L248 204 L248 201.6 L255.2 201.6 L255.2 192 L260 192 L260 189.6 L264.8 189.6 L264.8 184.8 L267.2 184.8 L267.2 182.4 L274.4 182.4 L274.4 172.8 L281.6 172.8 L281.6 168 L291.2 168 L291.2 158.4 L296 158.4 L296 156 L298.4 156 L298.4 153.6 L308 153.6 L308 141.6 L317.6 141.6 L317.6 134.4 L327.2 134.4 L327.2 132 L339.2 132 L339.2 122.4 L348.8 122.4 L348.8 120 L356 120 L356 117.6 L365.6 117.6 L365.6 112.8 L375.2 112.8 L375.2 110.4 L382.4 110.4 L382.4 108 L396.8 108 L396.8 98.4 L406.4 98.4 L406.4 96 L411.2 96 L411.2 93.6 L413.6 93.6 L418.4 93.6 L425.6 93.6 L425.6 88.8 L432.8 88.8 L435.2 88.8 L435.2 84 L444.8 84 L444.8 79.2 L447.2 79.2 L452 79.2 L456.8 79.2 L456.8 76.8 L471.2 76.8 L471.2 69.6 L483.2 69.6 L483.2 67.2 L485.6 67.2 L485.6 64.8 L490.4 64.8 L490.4 62.4 L495.2 62.4 L507.2 62.4 L507.2 55.2 L514.4 55.2 L516.8 55.2 L528.8 55.2 L528.8 52.8 L531.2 52.8 L536 52.8 L543.2 52.8 L545.6 52.8 L564.8 52.8 L564.8 48 L584 48 L584 45.6 L586.4 45.6 L593.6 45.6 L598.4 45.6 L617.6 45.6 L632 45.6 L632 40.8 L644 40.8 L644 38.4 L651.2 38.4 L651.2 36 L670.4 36 L670.4 31.2 L677.6 31.2 L684.8 31.2 L684.8 28.8 L689.6 28.8 L692 28.8 L711.2 28.8 L711.2 26.4 L723.2 26.4 L723.2 24 L742.4 24 L761.6 24 L761.6 21.6 L771.2 21.6 L780.8 21.6 L790.4 21.6 L790.4 19.2 L802.4 19.2 L804.8 19.2 L812 19.2 L816.8 19.2 L821.6 19.2 L840.8 19.2 L840.8 16.8 L852.8 16.8 L862.4 16.8 L864.8 16.8 L872 16.8 L874.4 16.8 L879.2 16.8 L881.6 16.8 L888 16.8 L888 15.5" fill="none" stroke="#bebebe" stroke-width="2.2" stroke-linejoin="miter"/>
<path d="M176 330 L180.8 330 L180.8 297.6 L185.6 297.6 L185.6 295.2 L190.4 295.2 L190.4 288 L192.8 288 L192.8 285.6 L200 285.6 L200 271.2 L209.6 271.2 L209.6 261.6 L212 261.6 L219.2 261.6 L219.2 249.6 L226.4 249.6 L226.4 237.6 L231.2 237.6 L231.2 232.8 L240.8 232.8 L240.8 216 L243.2 216 L250.4 216 L250.4 206.4 L255.2 206.4 L255.2 204 L262.4 204 L262.4 194.4 L264.8 194.4 L269.6 194.4 L269.6 192 L274.4 192 L274.4 187.2 L276.8 187.2 L276.8 184.8 L286.4 184.8 L286.4 172.8 L291.2 172.8 L291.2 168 L300.8 168 L300.8 156 L303.2 156 L305.6 156 L308 156 L312.8 156 L312.8 151.2 L317.6 151.2 L317.6 146.4 L320 146.4 L329.6 146.4 L329.6 141.6 L334.4 141.6 L334.4 139.2 L339.2 139.2 L339.2 136.8 L344 136.8 L344 132 L346.4 132 L348.8 132 L358.4 132 L358.4 122.4 L365.6 122.4 L370.4 122.4 L382.4 122.4 L382.4 112.8 L396.8 112.8 L396.8 105.6 L401.6 105.6 L401.6 103.2 L406.4 103.2 L406.4 100.8 L408.8 100.8 L423.2 100.8 L423.2 96 L435.2 96 L435.2 93.6 L437.6 93.6 L442.4 93.6 L452 93.6 L452 88.8 L454.4 88.8 L459.2 88.8 L464 88.8 L464 86.4 L473.6 86.4 L473.6 84 L488 84 L488 76.8 L497.6 76.8 L497.6 74.4 L502.4 74.4 L509.6 74.4 L509.6 67.2 L524 67.2 L524 60 L531.2 60 L538.4 60 L538.4 57.6 L557.6 57.6 L557.6 52.8 L567.2 52.8 L579.2 52.8 L579.2 48 L581.6 48 L600.8 48 L600.8 45.6 L615.2 45.6 L627.2 45.6 L627.2 43.2 L639.2 43.2 L648.8 43.2 L648.8 40.8 L651.2 40.8 L653.6 40.8 L660.8 40.8 L660.8 36 L663.2 36 L682.4 36 L682.4 33.6 L689.6 33.6 L694.4 33.6 L699.2 33.6 L699.2 31.2 L706.4 31.2 L725.6 31.2 L725.6 28.8 L740 28.8 L740 26.4 L752 26.4 L764 26.4 L776 26.4 L776 24 L783.2 24 L783.2 21.6 L802.4 21.6 L802.4 19.2 L821.6 19.2 L836 19.2 L850.4 19.2 L850.4 16.8 L860 16.8 L872 16.8 L879.2 16.8 L888 16.8 L888 15.5" fill="none" stroke="#bebebe" stroke-width="2.2" stroke-linejoin="miter"/>
<path d="M176 330 L180.8 330 L180.8 309.6 L183.2 309.6 L192.8 309.6 L192.8 292.8 L195.2 292.8 L197.6 292.8 L200 292.8 L200 283.2 L209.6 283.2 L209.6 271.2 L212 271.2 L219.2 271.2 L219.2 259.2 L221.6 259.2 L231.2 259.2 L231.2 240 L240.8 240 L240.8 223.2 L250.4 223.2 L250.4 211.2 L257.6 211.2 L257.6 206.4 L262.4 206.4 L264.8 206.4 L264.8 204 L274.4 204 L274.4 189.6 L279.2 189.6 L279.2 187.2 L281.6 187.2 L284 187.2 L284 184.8 L293.6 184.8 L293.6 172.8 L300.8 172.8 L300.8 168 L305.6 168 L305.6 163.2 L308 163.2 L308 160.8 L312.8 160.8 L312.8 158.4 L320 158.4 L320 153.6 L324.8 153.6 L324.8 148.8 L327.2 148.8 L332 148.8 L332 146.4 L336.8 146.4 L336.8 144 L348.8 144 L348.8 136.8 L353.6 136.8 L353.6 134.4 L358.4 134.4 L368 134.4 L368 129.6 L382.4 129.6 L382.4 115.2 L396.8 115.2 L396.8 108 L411.2 108 L411.2 103.2 L416 103.2 L423.2 103.2 L423.2 100.8 L437.6 100.8 L437.6 98.4 L449.6 98.4 L449.6 93.6 L459.2 93.6 L459.2 88.8 L468.8 88.8 L468.8 86.4 L471.2 86.4 L483.2 86.4 L483.2 81.6 L488 81.6 L495.2 81.6 L495.2 79.2 L500 79.2 L500 76.8 L507.2 76.8 L507.2 74.4 L521.6 74.4 L521.6 67.2 L524 67.2 L528.8 67.2 L528.8 64.8 L543.2 64.8 L543.2 60 L550.4 60 L564.8 60 L564.8 57.6 L574.4 57.6 L588.8 57.6 L588.8 55.2 L603.2 55.2 L603.2 52.8 L605.6 52.8 L617.6 52.8 L632 52.8 L634.4 52.8 L639.2 52.8 L651.2 52.8 L651.2 45.6 L653.6 45.6 L656 45.6 L658.4 45.6 L658.4 43.2 L660.8 43.2 L660.8 40.8 L672.8 40.8 L672.8 38.4 L682.4 38.4 L694.4 38.4 L694.4 36 L699.2 36 L701.6 36 L713.6 36 L713.6 33.6 L716 33.6 L723.2 33.6 L728 33.6 L742.4 33.6 L742.4 31.2 L744.8 31.2 L752 31.2 L756.8 31.2 L768.8 31.2 L776 31.2 L776 28.8 L783.2 28.8 L783.2 26.4 L797.6 26.4 L797.6 24 L807.2 24 L807.2 21.6 L821.6 21.6 L821.6 19.2 L831.2 19.2 L845.6 19.2 L852.8 19.2 L862.4 19.2 L872 19.2 L872 16.8 L881.6 16.8 L888 16.8 L888 15.5" fill="none" stroke="#bebebe" stroke-width="2.2" stroke-linejoin="miter"/>
<path d="M176 330 L183.2 330 L183.2 232.8 L188 232.8 L188 218.4 L195.2 218.4 L195.2 199.2 L197.6 199.2 L207.2 199.2 L207.2 182.4 L216.8 182.4 L216.8 172.8 L224 172.8 L224 168 L226.4 168 L226.4 160.8 L231.2 160.8 L231.2 153.6 L238.4 153.6 L238.4 141.6 L243.2 141.6 L243.2 136.8 L250.4 136.8 L250.4 129.6 L252.8 129.6 L252.8 127.2 L257.6 127.2 L257.6 120 L264.8 120 L264.8 110.4 L269.6 110.4 L272 110.4 L281.6 110.4 L281.6 100.8 L286.4 100.8 L293.6 100.8 L293.6 96 L298.4 96 L298.4 91.2 L303.2 91.2 L303.2 88.8 L305.6 88.8 L308 88.8 L308 86.4 L315.2 86.4 L315.2 81.6 L324.8 81.6 L324.8 74.4 L332 74.4 L332 72 L341.6 72 L341.6 69.6 L348.8 69.6 L351.2 69.6 L365.6 69.6 L365.6 62.4 L375.2 62.4 L375.2 60 L380 60 L384.8 60 L384.8 57.6 L389.6 57.6 L389.6 55.2 L401.6 55.2 L401.6 50.4 L416 50.4 L416 45.6 L418.4 45.6 L423.2 45.6 L437.6 45.6 L437.6 43.2 L444.8 43.2 L444.8 40.8 L449.6 40.8 L456.8 40.8 L471.2 40.8 L480.8 40.8 L480.8 38.4 L483.2 38.4 L488 38.4 L488 36 L500 36 L502.4 36 L521.6 36 L521.6 31.2 L526.4 31.2 L540.8 31.2 L540.8 26.4 L545.6 26.4 L550.4 26.4 L562.4 26.4 L562.4 24 L572 24 L579.2 24 L591.2 24 L591.2 21.6 L598.4 21.6 L612.8 21.6 L612.8 19.2 L624.8 19.2 L629.6 19.2 L636.8 19.2 L651.2 19.2 L660.8 19.2 L670.4 19.2 L670.4 16.8 L689.6 16.8 L692 16.8 L706.4 16.8 L720.8 16.8 L740 16.8 L754.4 16.8 L766.4 16.8 L776 16.8 L795.2 16.8 L800 16.8 L819.2 16.8 L819.2 15.5 L833.6 15.5 L838.4 15.5 L857.6 15.5 L867.2 15.5 L876.8 15.5 L888 15.5 L888 15.5" fill="none" stroke="#bebebe" stroke-width="2.2" stroke-linejoin="miter"/>
<path d="M176 330 L183.2 330 L183.2 259.2 L190.4 259.2 L190.4 242.4 L200 242.4 L200 223.2 L202.4 223.2 L204.8 223.2 L212 223.2 L212 216 L221.6 216 L221.6 206.4 L228.8 206.4 L228.8 196.8 L231.2 196.8 L238.4 196.8 L238.4 187.2 L243.2 187.2 L243.2 180 L252.8 180 L252.8 168 L257.6 168 L260 168 L267.2 168 L267.2 160.8 L269.6 160.8 L279.2 160.8 L279.2 151.2 L281.6 151.2 L281.6 148.8 L291.2 148.8 L291.2 136.8 L296 136.8 L296 134.4 L305.6 134.4 L305.6 129.6 L310.4 129.6 L320 129.6 L320 115.2 L334.4 115.2 L334.4 100.8 L336.8 100.8 L341.6 100.8 L346.4 100.8 L356 100.8 L356 96 L360.8 96 L368 96 L368 91.2 L372.8 91.2 L372.8 88.8 L380 88.8 L380 84 L389.6 84 L394.4 84 L394.4 81.6 L399.2 81.6 L399.2 79.2 L406.4 79.2 L420.8 79.2 L420.8 69.6 L425.6 69.6 L428 69.6 L435.2 69.6 L447.2 69.6 L447.2 62.4 L452 62.4 L466.4 62.4 L466.4 57.6 L478.4 57.6 L488 57.6 L488 55.2 L490.4 55.2 L490.4 52.8 L500 52.8 L519.2 52.8 L519.2 48 L526.4 48 L536 48 L543.2 48 L555.2 48 L555.2 45.6 L567.2 45.6 L567.2 40.8 L576.8 40.8 L576.8 38.4 L581.6 38.4 L591.2 38.4 L591.2 36 L610.4 36 L610.4 33.6 L629.6 33.6 L629.6 31.2 L632 31.2 L634.4 31.2 L648.8 31.2 L648.8 26.4 L658.4 26.4 L663.2 26.4 L670.4 26.4 L670.4 24 L689.6 24 L694.4 24 L713.6 24 L713.6 21.6 L716 21.6 L725.6 21.6 L728 21.6 L737.6 21.6 L752 21.6 L761.6 21.6 L764 21.6 L778.4 21.6 L778.4 19.2 L788 19.2 L795.2 19.2 L795.2 16.8 L814.4 16.8 L821.6 16.8 L828.8 16.8 L836 16.8 L840.8 16.8 L860 16.8 L862.4 16.8 L869.6 16.8 L874.4 16.8 L888 16.8 L888 15.5" fill="none" stroke="#bebebe" stroke-width="2.2" stroke-linejoin="miter"/>
<path d="M176 330 L180.8 330 L180.8 271.2 L185.6 271.2 L185.6 264 L192.8 264 L192.8 252 L197.6 252 L197.6 249.6 L200 249.6 L200 247.2 L207.2 247.2 L207.2 232.8 L214.4 232.8 L214.4 223.2 L219.2 223.2 L219.2 218.4 L221.6 218.4 L224 218.4 L224 211.2 L226.4 211.2 L226.4 204 L233.6 204 L233.6 194.4 L240.8 194.4 L240.8 187.2 L243.2 187.2 L248 187.2 L248 182.4 L257.6 182.4 L257.6 177.6 L260 177.6 L267.2 177.6 L267.2 165.6 L274.4 165.6 L274.4 160.8 L276.8 160.8 L279.2 160.8 L279.2 158.4 L284 158.4 L284 153.6 L288.8 153.6 L288.8 148.8 L296 148.8 L296 144 L300.8 144 L305.6 144 L315.2 144 L315.2 136.8 L317.6 136.8 L324.8 136.8 L324.8 127.2 L334.4 127.2 L334.4 120 L341.6 120 L341.6 115.2 L351.2 115.2 L351.2 108 L360.8 108 L360.8 105.6 L365.6 105.6 L372.8 105.6 L372.8 98.4 L377.6 98.4 L377.6 96 L389.6 96 L389.6 88.8 L394.4 88.8 L394.4 86.4 L406.4 86.4 L406.4 84 L420.8 84 L420.8 74.4 L432.8 74.4 L432.8 72 L437.6 72 L437.6 69.6 L442.4 69.6 L444.8 69.6 L449.6 69.6 L449.6 67.2 L452 67.2 L456.8 67.2 L456.8 64.8 L466.4 64.8 L466.4 62.4 L468.8 62.4 L473.6 62.4 L473.6 60 L478.4 60 L483.2 60 L483.2 57.6 L488 57.6 L492.8 57.6 L492.8 55.2 L495.2 55.2 L502.4 55.2 L521.6 55.2 L521.6 50.4 L536 50.4 L536 48 L550.4 48 L550.4 45.6 L555.2 45.6 L574.4 45.6 L574.4 40.8 L584 40.8 L584 38.4 L596 38.4 L596 36 L598.4 36 L600.8 36 L605.6 36 L617.6 36 L617.6 33.6 L636.8 33.6 L636.8 28.8 L639.2 28.8 L646.4 28.8 L648.8 28.8 L663.2 28.8 L663.2 26.4 L668 26.4 L687.2 26.4 L687.2 24 L706.4 24 L706.4 21.6 L708.8 21.6 L716 21.6 L725.6 21.6 L728 21.6 L742.4 21.6 L754.4 21.6 L761.6 21.6 L780.8 21.6 L780.8 19.2 L785.6 19.2 L800 19.2 L800 16.8 L802.4 16.8 L821.6 16.8 L833.6 16.8 L852.8 16.8 L864.8 16.8 L879.2 16.8 L881.6 16.8 L888 16.8 L888 15.5" fill="none" stroke="#bebebe" stroke-width="2.2" stroke-linejoin="miter"/>
<path d="M176 330 L183.2 330 L183.2 285.6 L185.6 285.6 L185.6 283.2 L195.2 283.2 L195.2 268.8 L202.4 268.8 L202.4 261.6 L207.2 261.6 L212 261.6 L212 259.2 L214.4 259.2 L214.4 256.8 L224 256.8 L224 232.8 L231.2 232.8 L231.2 223.2 L240.8 223.2 L240.8 208.8 L248 208.8 L248 201.6 L252.8 201.6 L252.8 196.8 L260 196.8 L260 189.6 L267.2 189.6 L267.2 182.4 L269.6 182.4 L279.2 182.4 L279.2 175.2 L284 175.2 L284 172.8 L286.4 172.8 L286.4 170.4 L288.8 170.4 L288.8 168 L293.6 168 L293.6 160.8 L300.8 160.8 L300.8 156 L308 156 L308 148.8 L310.4 148.8 L320 148.8 L320 139.2 L327.2 139.2 L327.2 134.4 L341.6 134.4 L341.6 120 L348.8 120 L360.8 120 L360.8 110.4 L372.8 110.4 L372.8 103.2 L382.4 103.2 L382.4 100.8 L396.8 100.8 L396.8 91.2 L401.6 91.2 L408.8 91.2 L408.8 88.8 L423.2 88.8 L423.2 79.2 L430.4 79.2 L430.4 76.8 L437.6 76.8 L437.6 74.4 L442.4 74.4 L447.2 74.4 L454.4 74.4 L459.2 74.4 L459.2 72 L464 72 L476 72 L476 69.6 L483.2 69.6 L483.2 67.2 L488 67.2 L490.4 67.2 L497.6 67.2 L497.6 64.8 L512 64.8 L512 60 L519.2 60 L524 60 L524 57.6 L543.2 57.6 L543.2 52.8 L555.2 52.8 L562.4 52.8 L562.4 50.4 L572 50.4 L572 48 L591.2 48 L591.2 45.6 L603.2 45.6 L608 45.6 L617.6 45.6 L622.4 45.6 L624.8 45.6 L644 45.6 L644 40.8 L658.4 40.8 L658.4 36 L660.8 36 L672.8 36 L672.8 33.6 L687.2 33.6 L687.2 31.2 L696.8 31.2 L704 31.2 L718.4 31.2 L718.4 28.8 L725.6 28.8 L735.2 28.8 L735.2 26.4 L742.4 26.4 L756.8 26.4 L768.8 26.4 L768.8 24 L788 24 L788 19.2 L797.6 19.2 L807.2 19.2 L809.6 19.2 L828.8 19.2 L838.4 19.2 L848 19.2 L848 16.8 L852.8 16.8 L867.2 16.8 L874.4 16.8 L884 16.8 L888 16.8 L888 15.5" fill="none" stroke="#bebebe" stroke-width="2.2" stroke-linejoin="miter"/>
<path d="M176 330 L183.2 330 L183.2 290.4 L190.4 290.4 L190.4 285.6 L197.6 285.6 L197.6 271.2 L204.8 271.2 L204.8 261.6 L214.4 261.6 L214.4 247.2 L216.8 247.2 L221.6 247.2 L221.6 242.4 L228.8 242.4 L228.8 235.2 L238.4 235.2 L238.4 218.4 L245.6 218.4 L245.6 208.8 L252.8 208.8 L252.8 199.2 L257.6 199.2 L257.6 196.8 L260 196.8 L260 194.4 L269.6 194.4 L269.6 180 L279.2 180 L279.2 170.4 L286.4 170.4 L286.4 165.6 L293.6 165.6 L293.6 160.8 L303.2 160.8 L303.2 151.2 L310.4 151.2 L310.4 146.4 L317.6 146.4 L317.6 144 L320 144 L327.2 144 L327.2 136.8 L332 136.8 L344 136.8 L344 127.2 L351.2 127.2 L351.2 124.8 L356 124.8 L356 120 L363.2 120 L363.2 112.8 L365.6 112.8 L370.4 112.8 L370.4 108 L377.6 108 L377.6 105.6 L380 105.6 L380 103.2 L384.8 103.2 L394.4 103.2 L394.4 96 L408.8 96 L408.8 88.8 L413.6 88.8 L416 88.8 L423.2 88.8 L435.2 88.8 L435.2 81.6 L449.6 81.6 L449.6 76.8 L452 76.8 L459.2 76.8 L468.8 76.8 L471.2 76.8 L471.2 74.4 L476 74.4 L476 72 L485.6 72 L485.6 67.2 L500 67.2 L500 62.4 L509.6 62.4 L509.6 60 L516.8 60 L516.8 57.6 L519.2 57.6 L531.2 57.6 L531.2 55.2 L550.4 55.2 L550.4 52.8 L560 52.8 L567.2 52.8 L567.2 50.4 L572 50.4 L572 48 L586.4 48 L586.4 43.2 L600.8 43.2 L600.8 40.8 L610.4 40.8 L610.4 38.4 L629.6 38.4 L636.8 38.4 L636.8 36 L646.4 36 L646.4 33.6 L653.6 33.6 L672.8 33.6 L672.8 31.2 L684.8 31.2 L699.2 31.2 L699.2 28.8 L706.4 28.8 L711.2 28.8 L720.8 28.8 L723.2 28.8 L723.2 26.4 L737.6 26.4 L742.4 26.4 L754.4 26.4 L754.4 24 L768.8 24 L768.8 21.6 L788 21.6 L788 19.2 L807.2 19.2 L821.6 19.2 L840.8 19.2 L840.8 16.8 L848 16.8 L850.4 16.8 L864.8 16.8 L874.4 16.8 L888 16.8 L888 15.5" fill="none" stroke="#bebebe" stroke-width="2.2" stroke-linejoin="miter"/>
<path d="M176 330 L180.8 330 L180.8 285.6 L188 285.6 L188 280.8 L197.6 280.8 L197.6 264 L204.8 264 L204.8 259.2 L207.2 259.2 L212 259.2 L212 256.8 L221.6 256.8 L221.6 240 L224 240 L226.4 240 L228.8 240 L228.8 237.6 L231.2 237.6 L231.2 232.8 L236 232.8 L236 220.8 L240.8 220.8 L240.8 213.6 L248 213.6 L248 204 L255.2 204 L255.2 199.2 L262.4 199.2 L262.4 192 L272 192 L272 180 L276.8 180 L284 180 L284 172.8 L288.8 172.8 L291.2 172.8 L291.2 170.4 L293.6 170.4 L293.6 165.6 L298.4 165.6 L298.4 158.4 L308 158.4 L308 151.2 L315.2 151.2 L315.2 146.4 L317.6 146.4 L327.2 146.4 L327.2 139.2 L336.8 139.2 L336.8 132 L348.8 132 L348.8 124.8 L353.6 124.8 L360.8 124.8 L360.8 115.2 L368 115.2 L368 110.4 L372.8 110.4 L372.8 108 L384.8 108 L384.8 103.2 L399.2 103.2 L399.2 93.6 L404 93.6 L408.8 93.6 L411.2 93.6 L411.2 91.2 L418.4 91.2 L418.4 86.4 L425.6 86.4 L435.2 86.4 L435.2 81.6 L442.4 81.6 L442.4 79.2 L444.8 79.2 L452 79.2 L454.4 79.2 L466.4 79.2 L480.8 79.2 L480.8 72 L485.6 72 L500 72 L500 64.8 L504.8 64.8 L524 64.8 L524 57.6 L531.2 57.6 L545.6 57.6 L545.6 52.8 L560 52.8 L560 50.4 L567.2 50.4 L567.2 48 L572 48 L572 45.6 L586.4 45.6 L586.4 43.2 L600.8 43.2 L612.8 43.2 L612.8 40.8 L620 40.8 L620 38.4 L627.2 38.4 L634.4 38.4 L634.4 36 L639.2 36 L653.6 36 L653.6 31.2 L672.8 31.2 L687.2 31.2 L687.2 28.8 L689.6 28.8 L708.8 28.8 L708.8 26.4 L718.4 26.4 L728 26.4 L747.2 26.4 L754.4 26.4 L759.2 26.4 L778.4 26.4 L778.4 21.6 L790.4 21.6 L800 21.6 L800 19.2 L802.4 19.2 L807.2 19.2 L819.2 19.2 L828.8 19.2 L833.6 19.2 L852.8 19.2 L852.8 16.8 L857.6 16.8 L860 16.8 L872 16.8 L881.6 16.8 L888 16.8 L888 15.5" fill="none" stroke="#bebebe" stroke-width="2.2" stroke-linejoin="miter"/>
<path d="M176 330 L178.4 330 L178.4 314.4 L185.6 314.4 L185.6 304.8 L190.4 304.8 L190.4 300 L195.2 300 L195.2 288 L200 288 L200 273.6 L209.6 273.6 L209.6 261.6 L212 261.6 L214.4 261.6 L216.8 261.6 L216.8 259.2 L219.2 259.2 L219.2 254.4 L221.6 254.4 L221.6 252 L226.4 252 L226.4 240 L233.6 240 L233.6 228 L240.8 228 L240.8 218.4 L243.2 218.4 L250.4 218.4 L250.4 206.4 L255.2 206.4 L255.2 201.6 L257.6 201.6 L264.8 201.6 L264.8 192 L267.2 192 L272 192 L272 187.2 L279.2 187.2 L279.2 182.4 L286.4 182.4 L286.4 177.6 L291.2 177.6 L293.6 177.6 L293.6 175.2 L296 175.2 L296 172.8 L305.6 172.8 L305.6 160.8 L308 160.8 L310.4 160.8 L310.4 156 L312.8 156 L322.4 156 L322.4 151.2 L324.8 151.2 L329.6 151.2 L329.6 148.8 L334.4 148.8 L334.4 146.4 L344 146.4 L344 139.2 L356 139.2 L356 129.6 L358.4 129.6 L363.2 129.6 L363.2 124.8 L365.6 124.8 L380 124.8 L380 115.2 L384.8 115.2 L389.6 115.2 L389.6 112.8 L399.2 112.8 L399.2 105.6 L404 105.6 L411.2 105.6 L411.2 103.2 L413.6 103.2 L425.6 103.2 L425.6 98.4 L440 98.4 L440 96 L449.6 96 L449.6 93.6 L459.2 93.6 L459.2 91.2 L471.2 91.2 L471.2 86.4 L473.6 86.4 L480.8 86.4 L480.8 81.6 L488 81.6 L488 76.8 L492.8 76.8 L492.8 74.4 L495.2 74.4 L509.6 74.4 L509.6 69.6 L519.2 69.6 L519.2 67.2 L533.6 67.2 L533.6 62.4 L538.4 62.4 L550.4 62.4 L550.4 57.6 L552.8 57.6 L555.2 57.6 L555.2 55.2 L557.6 55.2 L576.8 55.2 L576.8 48 L579.2 48 L586.4 48 L605.6 48 L617.6 48 L624.8 48 L627.2 48 L629.6 48 L641.6 48 L646.4 48 L646.4 45.6 L656 45.6 L656 38.4 L668 38.4 L668 36 L687.2 36 L687.2 33.6 L701.6 33.6 L704 33.6 L723.2 33.6 L723.2 31.2 L737.6 31.2 L752 31.2 L771.2 31.2 L771.2 26.4 L773.6 26.4 L783.2 26.4 L790.4 26.4 L790.4 24 L797.6 24 L816.8 24 L816.8 19.2 L819.2 19.2 L824 19.2 L838.4 19.2 L852.8 19.2 L872 19.2 L872 16.8 L888 16.8 L888 15.5" fill="none" stroke="#bebebe" stroke-width="2.2" stroke-linejoin="miter"/>
<path d="M176 330 L180.8 330 L180.8 271.2 L188 271.2 L188 259.2 L190.4 259.2 L190.4 256.8 L195.2 256.8 L195.2 252 L204.8 252 L204.8 235.2 L214.4 235.2 L214.4 228 L216.8 228 L224 228 L224 218.4 L226.4 218.4 L231.2 218.4 L236 218.4 L236 211.2 L243.2 211.2 L243.2 199.2 L245.6 199.2 L252.8 199.2 L252.8 192 L255.2 192 L255.2 189.6 L260 189.6 L260 180 L267.2 180 L267.2 168 L269.6 168 L269.6 160.8 L276.8 160.8 L276.8 156 L279.2 156 L286.4 156 L286.4 151.2 L288.8 151.2 L296 151.2 L296 144 L303.2 144 L303.2 141.6 L310.4 141.6 L310.4 136.8 L315.2 136.8 L320 136.8 L320 134.4 L329.6 134.4 L329.6 124.8 L334.4 124.8 L334.4 122.4 L346.4 122.4 L346.4 110.4 L358.4 110.4 L358.4 100.8 L360.8 100.8 L370.4 100.8 L370.4 96 L372.8 96 L375.2 96 L377.6 96 L377.6 93.6 L382.4 93.6 L394.4 93.6 L394.4 88.8 L401.6 88.8 L401.6 86.4 L406.4 86.4 L406.4 84 L420.8 84 L420.8 72 L425.6 72 L430.4 72 L430.4 69.6 L435.2 69.6 L442.4 69.6 L456.8 69.6 L456.8 64.8 L464 64.8 L464 62.4 L466.4 62.4 L473.6 62.4 L488 62.4 L488 57.6 L492.8 57.6 L497.6 57.6 L497.6 55.2 L507.2 55.2 L507.2 52.8 L509.6 52.8 L514.4 52.8 L521.6 52.8 L521.6 48 L536 48 L536 45.6 L545.6 45.6 L548 45.6 L555.2 45.6 L569.6 45.6 L569.6 40.8 L572 40.8 L574.4 40.8 L579.2 40.8 L586.4 40.8 L586.4 38.4 L591.2 38.4 L598.4 38.4 L605.6 38.4 L605.6 36 L610.4 36 L615.2 36 L634.4 36 L634.4 31.2 L653.6 31.2 L653.6 28.8 L656 28.8 L660.8 28.8 L680 28.8 L680 26.4 L694.4 26.4 L704 26.4 L704 24 L706.4 24 L720.8 24 L720.8 21.6 L728 21.6 L730.4 21.6 L732.8 21.6 L742.4 21.6 L752 21.6 L754.4 21.6 L759.2 21.6 L759.2 19.2 L768.8 19.2 L771.2 19.2 L778.4 19.2 L785.6 19.2 L797.6 19.2 L797.6 16.8 L807.2 16.8 L821.6 16.8 L840.8 16.8 L850.4 16.8 L862.4 16.8 L864.8 16.8 L884 16.8 L888 16.8 L888 15.5" fill="none" stroke="#bebebe" stroke-width="2.2" stroke-linejoin="miter"/>
<path d="M176 330 L180.8 330 L180.8 276 L190.4 276 L190.4 261.6 L197.6 261.6 L197.6 256.8 L204.8 256.8 L204.8 252 L209.6 252 L209.6 249.6 L219.2 249.6 L219.2 235.2 L224 235.2 L228.8 235.2 L228.8 230.4 L233.6 230.4 L233.6 223.2 L240.8 223.2 L240.8 213.6 L248 213.6 L248 204 L255.2 204 L255.2 194.4 L260 194.4 L260 192 L267.2 192 L267.2 182.4 L269.6 182.4 L272 182.4 L272 177.6 L279.2 177.6 L279.2 170.4 L284 170.4 L284 168 L291.2 168 L291.2 163.2 L298.4 163.2 L298.4 158.4 L305.6 158.4 L305.6 151.2 L312.8 151.2 L312.8 146.4 L317.6 146.4 L317.6 144 L320 144 L320 141.6 L329.6 141.6 L329.6 134.4 L334.4 134.4 L348.8 134.4 L348.8 122.4 L358.4 122.4 L358.4 120 L363.2 120 L363.2 117.6 L375.2 117.6 L375.2 108 L380 108 L384.8 108 L387.2 108 L387.2 105.6 L399.2 105.6 L399.2 96 L406.4 96 L406.4 93.6 L411.2 93.6 L411.2 91.2 L416 91.2 L416 88.8 L430.4 88.8 L430.4 79.2 L437.6 79.2 L452 79.2 L452 76.8 L456.8 76.8 L464 76.8 L476 76.8 L476 69.6 L490.4 69.6 L490.4 64.8 L495.2 64.8 L500 64.8 L509.6 64.8 L509.6 60 L519.2 60 L519.2 57.6 L531.2 57.6 L531.2 52.8 L538.4 52.8 L543.2 52.8 L543.2 50.4 L552.8 50.4 L557.6 50.4 L562.4 50.4 L562.4 48 L574.4 48 L574.4 43.2 L579.2 43.2 L584 43.2 L603.2 43.2 L603.2 40.8 L612.8 40.8 L624.8 40.8 L624.8 38.4 L639.2 38.4 L639.2 36 L653.6 36 L653.6 31.2 L660.8 31.2 L663.2 31.2 L665.6 31.2 L668 31.2 L675.2 31.2 L680 31.2 L699.2 31.2 L699.2 28.8 L708.8 28.8 L728 28.8 L728 26.4 L742.4 26.4 L754.4 26.4 L754.4 24 L764 24 L778.4 24 L778.4 19.2 L785.6 19.2 L797.6 19.2 L800 19.2 L812 19.2 L816.8 19.2 L836 19.2 L836 16.8 L840.8 16.8 L850.4 16.8 L864.8 16.8 L884 16.8 L888 16.8 L888 15.5" fill="none" stroke="#bebebe" stroke-width="2.2" stroke-linejoin="miter"/>
<path d="M176 330 L180.8 330 L180.8 268.8 L190.4 268.8 L190.4 249.6 L195.2 249.6 L195.2 244.8 L202.4 244.8 L202.4 235.2 L204.8 235.2 L204.8 228 L209.6 228 L212 228 L212 225.6 L216.8 225.6 L224 225.6 L224 218.4 L228.8 218.4 L228.8 211.2 L236 211.2 L236 204 L238.4 204 L238.4 201.6 L243.2 201.6 L243.2 196.8 L250.4 196.8 L250.4 184.8 L252.8 184.8 L260 184.8 L260 175.2 L262.4 175.2 L269.6 175.2 L269.6 170.4 L274.4 170.4 L274.4 168 L281.6 168 L281.6 163.2 L286.4 163.2 L286.4 160.8 L293.6 160.8 L293.6 151.2 L303.2 151.2 L303.2 141.6 L308 141.6 L308 139.2 L315.2 139.2 L315.2 136.8 L317.6 136.8 L317.6 134.4 L322.4 134.4 L322.4 124.8 L327.2 124.8 L332 124.8 L332 122.4 L346.4 122.4 L346.4 110.4 L351.2 110.4 L363.2 110.4 L363.2 96 L368 96 L368 93.6 L382.4 93.6 L382.4 86.4 L387.2 86.4 L401.6 86.4 L401.6 81.6 L413.6 81.6 L413.6 76.8 L428 76.8 L428 69.6 L430.4 69.6 L440 69.6 L440 64.8 L444.8 64.8 L444.8 62.4 L447.2 62.4 L452 62.4 L454.4 62.4 L459.2 62.4 L459.2 60 L464 60 L468.8 60 L471.2 60 L473.6 60 L478.4 60 L488 60 L488 57.6 L492.8 57.6 L492.8 55.2 L500 55.2 L519.2 55.2 L519.2 48 L521.6 48 L528.8 48 L540.8 48 L543.2 48 L562.4 48 L562.4 40.8 L581.6 40.8 L581.6 36 L591.2 36 L596 36 L608 36 L627.2 36 L627.2 33.6 L641.6 33.6 L641.6 31.2 L651.2 31.2 L651.2 28.8 L656 28.8 L663.2 28.8 L665.6 28.8 L665.6 26.4 L668 26.4 L682.4 26.4 L682.4 24 L692 24 L696.8 24 L708.8 24 L708.8 21.6 L720.8 21.6 L730.4 21.6 L742.4 21.6 L747.2 21.6 L752 21.6 L771.2 21.6 L771.2 19.2 L783.2 19.2 L790.4 19.2 L804.8 19.2 L804.8 16.8 L807.2 16.8 L821.6 16.8 L836 16.8 L840.8 16.8 L845.6 16.8 L852.8 16.8 L857.6 16.8 L876.8 16.8 L884 16.8 L888 16.8 L888 15.5" fill="none" stroke="#bebebe" stroke-width="2.2" stroke-linejoin="miter"/>
<path d="M176 330 L180.8 330 L180.8 276 L188 276 L188 264 L195.2 264 L195.2 254.4 L200 254.4 L200 252 L207.2 252 L207.2 242.4 L209.6 242.4 L212 242.4 L216.8 242.4 L226.4 242.4 L226.4 225.6 L233.6 225.6 L233.6 216 L240.8 216 L240.8 204 L248 204 L248 196.8 L250.4 196.8 L252.8 196.8 L252.8 194.4 L257.6 194.4 L257.6 184.8 L262.4 184.8 L269.6 184.8 L269.6 177.6 L272 177.6 L272 175.2 L279.2 175.2 L279.2 168 L284 168 L284 165.6 L288.8 165.6 L288.8 160.8 L298.4 160.8 L298.4 151.2 L305.6 151.2 L305.6 146.4 L308 146.4 L315.2 146.4 L315.2 141.6 L320 141.6 L320 139.2 L327.2 139.2 L327.2 136.8 L332 136.8 L332 134.4 L334.4 134.4 L339.2 134.4 L339.2 129.6 L351.2 129.6 L351.2 115.2 L365.6 115.2 L365.6 103.2 L370.4 103.2 L377.6 103.2 L377.6 100.8 L389.6 100.8 L389.6 93.6 L392 93.6 L404 93.6 L404 91.2 L408.8 91.2 L408.8 88.8 L413.6 88.8 L413.6 86.4 L418.4 86.4 L418.4 84 L425.6 84 L425.6 79.2 L430.4 79.2 L430.4 76.8 L444.8 76.8 L444.8 72 L452 72 L456.8 72 L456.8 69.6 L464 69.6 L464 67.2 L468.8 67.2 L480.8 67.2 L480.8 64.8 L488 64.8 L488 62.4 L495.2 62.4 L495.2 60 L509.6 60 L509.6 55.2 L516.8 55.2 L521.6 55.2 L521.6 52.8 L536 52.8 L536 50.4 L545.6 50.4 L545.6 48 L548 48 L567.2 48 L567.2 40.8 L572 40.8 L591.2 40.8 L591.2 38.4 L605.6 38.4 L612.8 38.4 L620 38.4 L627.2 38.4 L641.6 38.4 L660.8 38.4 L660.8 33.6 L663.2 33.6 L665.6 33.6 L665.6 31.2 L684.8 31.2 L684.8 28.8 L687.2 28.8 L694.4 28.8 L701.6 28.8 L708.8 28.8 L708.8 26.4 L718.4 26.4 L728 26.4 L728 24 L730.4 24 L744.8 24 L756.8 24 L776 24 L776 21.6 L790.4 21.6 L790.4 19.2 L809.6 19.2 L814.4 19.2 L833.6 19.2 L845.6 19.2 L845.6 16.8 L860 16.8 L867.2 16.8 L872 16.8 L886.4 16.8 L888 16.8 L888 15.5" fill="none" stroke="#bebebe" stroke-width="2.2" stroke-linejoin="miter"/>
<path d="M176 330 L178.4 330 L178.4 302.4 L180.8 302.4 L180.8 288 L190.4 288 L190.4 276 L197.6 276 L197.6 264 L204.8 264 L204.8 256.8 L214.4 256.8 L214.4 242.4 L224 242.4 L224 228 L228.8 228 L228.8 225.6 L233.6 225.6 L233.6 220.8 L243.2 220.8 L243.2 204 L252.8 204 L252.8 194.4 L255.2 194.4 L257.6 194.4 L260 194.4 L269.6 194.4 L269.6 182.4 L276.8 182.4 L276.8 177.6 L279.2 177.6 L288.8 177.6 L288.8 165.6 L293.6 165.6 L293.6 163.2 L298.4 163.2 L298.4 158.4 L303.2 158.4 L303.2 153.6 L310.4 153.6 L310.4 148.8 L315.2 148.8 L315.2 146.4 L324.8 146.4 L324.8 139.2 L329.6 139.2 L329.6 136.8 L332 136.8 L341.6 136.8 L341.6 124.8 L351.2 124.8 L351.2 117.6 L353.6 117.6 L365.6 117.6 L365.6 105.6 L370.4 105.6 L375.2 105.6 L387.2 105.6 L387.2 98.4 L396.8 98.4 L396.8 96 L399.2 96 L399.2 93.6 L401.6 93.6 L413.6 93.6 L413.6 91.2 L418.4 91.2 L428 91.2 L428 88.8 L440 88.8 L440 86.4 L444.8 86.4 L454.4 86.4 L454.4 84 L468.8 84 L468.8 81.6 L480.8 81.6 L480.8 76.8 L488 76.8 L490.4 76.8 L497.6 76.8 L497.6 72 L502.4 72 L514.4 72 L514.4 64.8 L526.4 64.8 L526.4 60 L545.6 60 L545.6 55.2 L550.4 55.2 L562.4 55.2 L574.4 55.2 L574.4 50.4 L593.6 50.4 L593.6 48 L608 48 L620 48 L620 45.6 L632 45.6 L632 43.2 L639.2 43.2 L651.2 43.2 L651.2 38.4 L653.6 38.4 L668 38.4 L668 33.6 L682.4 33.6 L687.2 33.6 L699.2 33.6 L699.2 31.2 L708.8 31.2 L728 31.2 L728 28.8 L742.4 28.8 L742.4 26.4 L749.6 26.4 L754.4 26.4 L766.4 26.4 L766.4 24 L785.6 24 L785.6 19.2 L788 19.2 L792.8 19.2 L807.2 19.2 L812 19.2 L824 19.2 L828.8 19.2 L848 19.2 L848 16.8 L862.4 16.8 L864.8 16.8 L879.2 16.8 L884 16.8 L888 16.8 L888 15.5" fill="none" stroke="#bebebe" stroke-width="2.2" stroke-linejoin="miter"/>
<path d="M176 330 L180.8 330 L180.8 321.6 L190.4 321.6 L190.4 312 L200 312 L200 292.8 L207.2 292.8 L207.2 288 L212 288 L212 283.2 L214.4 283.2 L214.4 276 L219.2 276 L219.2 259.2 L224 259.2 L224 254.4 L226.4 254.4 L226.4 252 L228.8 252 L236 252 L236 235.2 L240.8 235.2 L240.8 230.4 L243.2 230.4 L243.2 228 L248 228 L248 218.4 L252.8 218.4 L252.8 216 L255.2 216 L255.2 213.6 L260 213.6 L260 208.8 L269.6 208.8 L269.6 194.4 L274.4 194.4 L279.2 194.4 L279.2 192 L281.6 192 L286.4 192 L286.4 184.8 L288.8 184.8 L291.2 184.8 L293.6 184.8 L293.6 182.4 L298.4 182.4 L298.4 177.6 L303.2 177.6 L303.2 172.8 L308 172.8 L308 168 L315.2 168 L315.2 160.8 L317.6 160.8 L317.6 158.4 L324.8 158.4 L324.8 153.6 L327.2 153.6 L334.4 153.6 L334.4 151.2 L339.2 151.2 L339.2 146.4 L351.2 146.4 L351.2 136.8 L358.4 136.8 L363.2 136.8 L363.2 134.4 L372.8 134.4 L372.8 124.8 L375.2 124.8 L387.2 124.8 L387.2 115.2 L401.6 115.2 L401.6 108 L408.8 108 L420.8 108 L420.8 103.2 L425.6 103.2 L425.6 100.8 L435.2 100.8 L444.8 100.8 L444.8 98.4 L447.2 98.4 L452 98.4 L454.4 98.4 L464 98.4 L464 93.6 L471.2 93.6 L476 93.6 L476 91.2 L480.8 91.2 L490.4 91.2 L490.4 81.6 L502.4 81.6 L502.4 76.8 L512 76.8 L512 74.4 L524 74.4 L524 69.6 L536 69.6 L536 64.8 L538.4 64.8 L545.6 64.8 L545.6 62.4 L564.8 62.4 L564.8 57.6 L579.2 57.6 L579.2 55.2 L586.4 55.2 L593.6 55.2 L608 55.2 L608 52.8 L617.6 52.8 L620 52.8 L634.4 52.8 L639.2 52.8 L644 52.8 L658.4 52.8 L658.4 40.8 L672.8 40.8 L677.6 40.8 L689.6 40.8 L689.6 36 L708.8 36 L708.8 33.6 L713.6 33.6 L728 33.6 L737.6 33.6 L740 33.6 L740 31.2 L754.4 31.2 L766.4 31.2 L766.4 28.8 L771.2 28.8 L773.6 28.8 L778.4 28.8 L778.4 26.4 L792.8 26.4 L792.8 24 L807.2 24 L807.2 21.6 L812 21.6 L814.4 21.6 L828.8 21.6 L828.8 19.2 L833.6 19.2 L843.2 19.2 L850.4 19.2 L855.2 19.2 L864.8 19.2 L879.2 19.2 L879.2 16.8 L884 16.8 L888 16.8 L888 15.5" fill="none" stroke="#bebebe" stroke-width="2.2" stroke-linejoin="miter"/>
<path d="M176 330 L178.4 330 L178.4 290.4 L183.2 290.4 L183.2 252 L185.6 252 L185.6 249.6 L195.2 249.6 L195.2 216 L202.4 216 L202.4 213.6 L204.8 213.6 L204.8 208.8 L212 208.8 L212 199.2 L219.2 199.2 L219.2 189.6 L221.6 189.6 L231.2 189.6 L231.2 182.4 L238.4 182.4 L238.4 180 L240.8 180 L240.8 175.2 L243.2 175.2 L243.2 172.8 L250.4 172.8 L250.4 160.8 L260 160.8 L260 146.4 L267.2 146.4 L267.2 141.6 L276.8 141.6 L276.8 134.4 L281.6 134.4 L281.6 129.6 L288.8 129.6 L288.8 124.8 L293.6 124.8 L298.4 124.8 L298.4 117.6 L305.6 117.6 L305.6 115.2 L310.4 115.2 L310.4 112.8 L315.2 112.8 L317.6 112.8 L327.2 112.8 L327.2 108 L329.6 108 L329.6 105.6 L339.2 105.6 L339.2 98.4 L353.6 98.4 L353.6 88.8 L363.2 88.8 L363.2 86.4 L368 86.4 L377.6 86.4 L377.6 81.6 L382.4 81.6 L382.4 79.2 L396.8 79.2 L396.8 72 L411.2 72 L411.2 67.2 L425.6 67.2 L425.6 62.4 L428 62.4 L437.6 62.4 L437.6 60 L447.2 60 L447.2 57.6 L454.4 57.6 L464 57.6 L464 55.2 L478.4 55.2 L478.4 50.4 L480.8 50.4 L490.4 50.4 L502.4 50.4 L502.4 45.6 L521.6 45.6 L521.6 43.2 L536 43.2 L536 40.8 L543.2 40.8 L557.6 40.8 L557.6 38.4 L564.8 38.4 L572 38.4 L591.2 38.4 L591.2 31.2 L603.2 31.2 L615.2 31.2 L615.2 28.8 L634.4 28.8 L634.4 26.4 L648.8 26.4 L648.8 24 L668 24 L675.2 24 L675.2 21.6 L684.8 21.6 L687.2 21.6 L706.4 21.6 L720.8 21.6 L720.8 19.2 L740 19.2 L752 19.2 L759.2 19.2 L773.6 19.2 L780.8 19.2 L780.8 16.8 L800 16.8 L802.4 16.8 L804.8 16.8 L807.2 16.8 L812 16.8 L826.4 16.8 L828.8 16.8 L840.8 16.8 L845.6 16.8 L864.8 16.8 L867.2 16.8 L874.4 16.8 L881.6 16.8 L886.4 16.8 L888 16.8 L888 15.5" fill="none" stroke="#bebebe" stroke-width="2.2" stroke-linejoin="miter"/>
<path d="M176 330 L180.8 330 L180.8 266.4 L188 266.4 L188 247.2 L192.8 247.2 L200 247.2 L200 235.2 L204.8 235.2 L204.8 225.6 L209.6 225.6 L209.6 218.4 L212 218.4 L221.6 218.4 L221.6 211.2 L226.4 211.2 L226.4 204 L228.8 204 L228.8 199.2 L236 199.2 L236 182.4 L238.4 182.4 L243.2 182.4 L250.4 182.4 L250.4 177.6 L255.2 177.6 L255.2 172.8 L257.6 172.8 L262.4 172.8 L262.4 158.4 L269.6 158.4 L269.6 153.6 L274.4 153.6 L281.6 153.6 L281.6 148.8 L286.4 148.8 L291.2 148.8 L296 148.8 L298.4 148.8 L303.2 148.8 L303.2 136.8 L308 136.8 L308 129.6 L315.2 129.6 L315.2 120 L317.6 120 L322.4 120 L322.4 117.6 L327.2 117.6 L327.2 115.2 L334.4 115.2 L334.4 108 L346.4 108 L346.4 98.4 L358.4 98.4 L358.4 91.2 L370.4 91.2 L370.4 86.4 L375.2 86.4 L375.2 84 L387.2 84 L387.2 76.8 L392 76.8 L396.8 76.8 L401.6 76.8 L411.2 76.8 L411.2 72 L413.6 72 L416 72 L420.8 72 L420.8 67.2 L435.2 67.2 L435.2 60 L449.6 60 L449.6 57.6 L454.4 57.6 L456.8 57.6 L468.8 57.6 L480.8 57.6 L480.8 55.2 L488 55.2 L488 52.8 L490.4 52.8 L500 52.8 L500 50.4 L514.4 50.4 L514.4 48 L528.8 48 L528.8 45.6 L540.8 45.6 L540.8 43.2 L552.8 43.2 L552.8 40.8 L557.6 40.8 L562.4 40.8 L564.8 40.8 L576.8 40.8 L576.8 38.4 L591.2 38.4 L591.2 33.6 L600.8 33.6 L610.4 33.6 L610.4 31.2 L622.4 31.2 L641.6 31.2 L641.6 26.4 L660.8 26.4 L660.8 24 L675.2 24 L684.8 24 L692 24 L694.4 24 L696.8 24 L711.2 24 L711.2 21.6 L720.8 21.6 L732.8 21.6 L737.6 21.6 L744.8 21.6 L756.8 21.6 L761.6 21.6 L764 21.6 L764 19.2 L768.8 19.2 L776 19.2 L788 19.2 L788 16.8 L797.6 16.8 L800 16.8 L814.4 16.8 L819.2 16.8 L838.4 16.8 L845.6 16.8 L850.4 16.8 L862.4 16.8 L872 16.8 L874.4 16.8 L879.2 16.8 L881.6 16.8 L888 16.8 L888 15.5" fill="none" stroke="#bebebe" stroke-width="2.2" stroke-linejoin="miter"/>
<path d="M176 330 L178.4 330 L178.4 288 L180.8 288 L180.8 273.6 L185.6 273.6 L185.6 264 L188 264 L192.8 264 L192.8 254.4 L197.6 254.4 L197.6 244.8 L200 244.8 L200 237.6 L202.4 237.6 L202.4 235.2 L209.6 235.2 L209.6 225.6 L214.4 225.6 L216.8 225.6 L216.8 223.2 L219.2 223.2 L219.2 218.4 L226.4 218.4 L226.4 208.8 L236 208.8 L236 199.2 L243.2 199.2 L243.2 192 L250.4 192 L250.4 184.8 L260 184.8 L260 177.6 L264.8 177.6 L264.8 175.2 L267.2 175.2 L274.4 175.2 L274.4 170.4 L276.8 170.4 L284 170.4 L284 163.2 L286.4 163.2 L286.4 158.4 L288.8 158.4 L291.2 158.4 L291.2 156 L293.6 156 L293.6 153.6 L300.8 153.6 L300.8 144 L303.2 144 L310.4 144 L310.4 134.4 L315.2 134.4 L315.2 124.8 L317.6 124.8 L320 124.8 L322.4 124.8 L329.6 124.8 L329.6 120 L332 120 L341.6 120 L341.6 115.2 L346.4 115.2 L348.8 115.2 L356 115.2 L356 108 L360.8 108 L360.8 105.6 L363.2 105.6 L363.2 103.2 L377.6 103.2 L377.6 91.2 L384.8 91.2 L384.8 88.8 L399.2 88.8 L399.2 86.4 L406.4 86.4 L413.6 86.4 L413.6 84 L418.4 84 L418.4 81.6 L423.2 81.6 L423.2 79.2 L432.8 79.2 L432.8 74.4 L447.2 74.4 L447.2 69.6 L459.2 69.6 L459.2 67.2 L473.6 67.2 L473.6 62.4 L478.4 62.4 L490.4 62.4 L490.4 57.6 L495.2 57.6 L500 57.6 L507.2 57.6 L507.2 55.2 L516.8 55.2 L516.8 50.4 L526.4 50.4 L538.4 50.4 L538.4 48 L552.8 48 L552.8 45.6 L557.6 45.6 L572 45.6 L572 40.8 L574.4 40.8 L593.6 40.8 L593.6 36 L596 36 L600.8 36 L620 36 L627.2 36 L641.6 36 L641.6 31.2 L660.8 31.2 L660.8 26.4 L670.4 26.4 L684.8 26.4 L696.8 26.4 L696.8 24 L701.6 24 L716 24 L716 21.6 L723.2 21.6 L735.2 21.6 L747.2 21.6 L761.6 21.6 L773.6 21.6 L773.6 19.2 L783.2 19.2 L797.6 19.2 L797.6 16.8 L804.8 16.8 L812 16.8 L821.6 16.8 L840.8 16.8 L855.2 16.8 L874.4 16.8 L881.6 16.8 L888 16.8 L888 15.5" fill="none" stroke="#bebebe" stroke-width="2.2" stroke-linejoin="miter"/>
<path d="M176 330 L185.6 330 L185.6 285.6 L192.8 285.6 L192.8 280.8 L195.2 280.8 L202.4 280.8 L202.4 259.2 L207.2 259.2 L207.2 256.8 L212 256.8 L212 252 L219.2 252 L219.2 237.6 L228.8 237.6 L228.8 220.8 L233.6 220.8 L233.6 218.4 L240.8 218.4 L240.8 206.4 L245.6 206.4 L245.6 204 L248 204 L248 201.6 L252.8 201.6 L252.8 196.8 L260 196.8 L260 189.6 L267.2 189.6 L267.2 184.8 L272 184.8 L272 180 L281.6 180 L281.6 170.4 L286.4 170.4 L286.4 168 L288.8 168 L291.2 168 L291.2 163.2 L296 163.2 L296 158.4 L300.8 158.4 L300.8 156 L303.2 156 L312.8 156 L312.8 141.6 L317.6 141.6 L322.4 141.6 L322.4 139.2 L327.2 139.2 L327.2 134.4 L332 134.4 L344 134.4 L344 127.2 L356 127.2 L356 120 L370.4 120 L370.4 110.4 L375.2 110.4 L377.6 110.4 L392 110.4 L392 100.8 L406.4 100.8 L406.4 93.6 L411.2 93.6 L418.4 93.6 L418.4 86.4 L423.2 86.4 L425.6 86.4 L425.6 84 L440 84 L440 79.2 L442.4 79.2 L447.2 79.2 L447.2 76.8 L452 76.8 L464 76.8 L464 74.4 L468.8 74.4 L478.4 74.4 L488 74.4 L488 69.6 L500 69.6 L500 67.2 L519.2 67.2 L519.2 60 L528.8 60 L528.8 57.6 L540.8 57.6 L540.8 55.2 L543.2 55.2 L545.6 55.2 L545.6 52.8 L564.8 52.8 L564.8 48 L576.8 48 L581.6 48 L586.4 48 L586.4 43.2 L593.6 43.2 L596 43.2 L605.6 43.2 L610.4 43.2 L617.6 43.2 L617.6 40.8 L629.6 40.8 L641.6 40.8 L641.6 38.4 L660.8 38.4 L660.8 33.6 L670.4 33.6 L670.4 31.2 L689.6 31.2 L689.6 28.8 L692 28.8 L694.4 28.8 L706.4 28.8 L706.4 26.4 L718.4 26.4 L728 26.4 L740 26.4 L742.4 26.4 L749.6 26.4 L752 26.4 L759.2 26.4 L759.2 24 L761.6 24 L764 24 L771.2 24 L773.6 24 L780.8 24 L780.8 21.6 L795.2 21.6 L795.2 19.2 L809.6 19.2 L814.4 19.2 L816.8 19.2 L824 19.2 L828.8 19.2 L838.4 19.2 L850.4 19.2 L850.4 16.8 L862.4 16.8 L864.8 16.8 L876.8 16.8 L879.2 16.8 L886.4 16.8 L888 16.8 L888 15.5" fill="none" stroke="#bebebe" stroke-width="2.2" stroke-linejoin="miter"/>
<path d="M176 330 L178.4 330 L178.4 307.2 L183.2 307.2 L183.2 295.2 L188 295.2 L188 290.4 L190.4 290.4 L190.4 288 L197.6 288 L197.6 271.2 L200 271.2 L204.8 271.2 L204.8 261.6 L209.6 261.6 L209.6 259.2 L214.4 259.2 L214.4 256.8 L216.8 256.8 L224 256.8 L224 240 L226.4 240 L231.2 240 L231.2 232.8 L238.4 232.8 L238.4 220.8 L245.6 220.8 L245.6 208.8 L250.4 208.8 L250.4 206.4 L252.8 206.4 L252.8 204 L260 204 L260 194.4 L269.6 194.4 L269.6 184.8 L276.8 184.8 L276.8 177.6 L286.4 177.6 L286.4 170.4 L288.8 170.4 L293.6 170.4 L293.6 163.2 L300.8 163.2 L300.8 153.6 L308 153.6 L308 148.8 L315.2 148.8 L315.2 144 L320 144 L320 141.6 L332 141.6 L332 134.4 L346.4 134.4 L346.4 127.2 L360.8 127.2 L360.8 122.4 L372.8 122.4 L372.8 112.8 L380 112.8 L380 110.4 L384.8 110.4 L384.8 108 L399.2 108 L399.2 98.4 L408.8 98.4 L408.8 96 L413.6 96 L416 96 L416 93.6 L418.4 93.6 L418.4 91.2 L430.4 91.2 L430.4 86.4 L440 86.4 L440 84 L454.4 84 L454.4 76.8 L456.8 76.8 L466.4 76.8 L468.8 76.8 L476 76.8 L478.4 76.8 L488 76.8 L488 74.4 L492.8 74.4 L504.8 74.4 L504.8 67.2 L512 67.2 L512 64.8 L519.2 64.8 L519.2 62.4 L521.6 62.4 L536 62.4 L536 57.6 L538.4 57.6 L552.8 57.6 L552.8 55.2 L560 55.2 L560 52.8 L562.4 52.8 L581.6 52.8 L581.6 50.4 L593.6 50.4 L612.8 50.4 L615.2 50.4 L634.4 50.4 L634.4 48 L641.6 48 L644 48 L653.6 48 L653.6 40.8 L665.6 40.8 L665.6 36 L675.2 36 L675.2 33.6 L689.6 33.6 L689.6 31.2 L708.8 31.2 L708.8 28.8 L718.4 28.8 L723.2 28.8 L730.4 28.8 L730.4 26.4 L742.4 26.4 L747.2 26.4 L749.6 26.4 L754.4 26.4 L773.6 26.4 L773.6 24 L780.8 24 L790.4 24 L790.4 21.6 L792.8 21.6 L812 21.6 L812 19.2 L826.4 19.2 L833.6 19.2 L843.2 19.2 L852.8 19.2 L852.8 16.8 L857.6 16.8 L862.4 16.8 L872 16.8 L876.8 16.8 L888 16.8 L888 15.5" fill="none" stroke="#bebebe" stroke-width="2.2" stroke-linejoin="miter"/>
<path d="M176 330 L185.6 330 L185.6 240 L190.4 240 L190.4 235.2 L197.6 235.2 L197.6 225.6 L204.8 225.6 L204.8 218.4 L212 218.4 L212 211.2 L221.6 211.2 L221.6 196.8 L224 196.8 L233.6 196.8 L233.6 182.4 L243.2 182.4 L243.2 175.2 L250.4 175.2 L250.4 170.4 L257.6 170.4 L257.6 168 L260 168 L260 163.2 L264.8 163.2 L264.8 156 L272 156 L272 146.4 L276.8 146.4 L284 146.4 L284 136.8 L291.2 136.8 L291.2 132 L293.6 132 L296 132 L296 127.2 L298.4 127.2 L303.2 127.2 L303.2 124.8 L308 124.8 L312.8 124.8 L312.8 122.4 L320 122.4 L320 117.6 L329.6 117.6 L329.6 110.4 L339.2 110.4 L339.2 108 L344 108 L344 103.2 L358.4 103.2 L358.4 93.6 L360.8 93.6 L365.6 93.6 L372.8 93.6 L382.4 93.6 L382.4 88.8 L384.8 88.8 L384.8 86.4 L399.2 86.4 L399.2 79.2 L404 79.2 L404 76.8 L413.6 76.8 L413.6 69.6 L418.4 69.6 L418.4 67.2 L425.6 67.2 L425.6 62.4 L440 62.4 L440 60 L452 60 L452 57.6 L456.8 57.6 L468.8 57.6 L468.8 55.2 L483.2 55.2 L483.2 52.8 L497.6 52.8 L497.6 50.4 L500 50.4 L504.8 50.4 L512 50.4 L512 48 L516.8 48 L524 48 L528.8 48 L528.8 45.6 L536 45.6 L545.6 45.6 L548 45.6 L550.4 45.6 L550.4 40.8 L557.6 40.8 L567.2 40.8 L567.2 36 L586.4 36 L586.4 31.2 L593.6 31.2 L596 31.2 L610.4 31.2 L610.4 28.8 L622.4 28.8 L624.8 28.8 L636.8 28.8 L636.8 26.4 L646.4 26.4 L660.8 26.4 L660.8 24 L680 24 L680 21.6 L699.2 21.6 L708.8 21.6 L728 21.6 L728 19.2 L740 19.2 L744.8 19.2 L749.6 19.2 L761.6 19.2 L776 19.2 L776 16.8 L783.2 16.8 L785.6 16.8 L788 16.8 L792.8 16.8 L812 16.8 L831.2 16.8 L838.4 16.8 L843.2 16.8 L848 16.8 L862.4 16.8 L869.6 16.8 L876.8 16.8 L888 16.8 L888 15.5" fill="none" stroke="#bebebe" stroke-width="2.2" stroke-linejoin="miter"/>
<path d="M176 330 L178.4 330 L178.4 288 L180.8 288 L180.8 271.2 L190.4 271.2 L190.4 242.4 L197.6 242.4 L197.6 240 L207.2 240 L207.2 228 L214.4 228 L214.4 220.8 L216.8 220.8 L226.4 220.8 L226.4 206.4 L233.6 206.4 L233.6 204 L240.8 204 L240.8 192 L245.6 192 L245.6 184.8 L248 184.8 L248 180 L250.4 180 L250.4 175.2 L255.2 175.2 L255.2 170.4 L260 170.4 L264.8 170.4 L267.2 170.4 L267.2 165.6 L276.8 165.6 L276.8 158.4 L281.6 158.4 L281.6 151.2 L286.4 151.2 L296 151.2 L296 141.6 L300.8 141.6 L300.8 139.2 L305.6 139.2 L305.6 136.8 L310.4 136.8 L310.4 132 L315.2 132 L315.2 127.2 L317.6 127.2 L317.6 124.8 L324.8 124.8 L324.8 115.2 L329.6 115.2 L329.6 112.8 L344 112.8 L344 103.2 L351.2 103.2 L353.6 103.2 L368 103.2 L368 93.6 L372.8 93.6 L387.2 93.6 L387.2 86.4 L389.6 86.4 L396.8 86.4 L401.6 86.4 L401.6 81.6 L416 81.6 L416 74.4 L423.2 74.4 L423.2 69.6 L425.6 69.6 L428 69.6 L440 69.6 L440 67.2 L442.4 67.2 L452 67.2 L452 62.4 L461.6 62.4 L461.6 60 L468.8 60 L476 60 L476 57.6 L490.4 57.6 L490.4 55.2 L492.8 55.2 L492.8 52.8 L502.4 52.8 L502.4 48 L516.8 48 L516.8 43.2 L536 43.2 L536 40.8 L538.4 40.8 L552.8 40.8 L557.6 40.8 L557.6 38.4 L564.8 38.4 L564.8 36 L579.2 36 L579.2 33.6 L588.8 33.6 L588.8 31.2 L591.2 31.2 L598.4 31.2 L610.4 31.2 L612.8 31.2 L615.2 31.2 L620 31.2 L627.2 31.2 L639.2 31.2 L639.2 28.8 L646.4 28.8 L646.4 26.4 L656 26.4 L668 26.4 L668 24 L672.8 24 L682.4 24 L701.6 24 L720.8 24 L720.8 21.6 L732.8 21.6 L747.2 21.6 L749.6 21.6 L752 21.6 L759.2 21.6 L766.4 21.6 L776 21.6 L776 19.2 L785.6 19.2 L785.6 16.8 L792.8 16.8 L807.2 16.8 L821.6 16.8 L836 16.8 L840.8 16.8 L850.4 16.8 L857.6 16.8 L872 16.8 L886.4 16.8 L888 16.8 L888 15.5" fill="none" stroke="#bebebe" stroke-width="2.2" stroke-linejoin="miter"/>
<path d="M176 330 L183.2 330 L183.2 283.2 L185.6 283.2 L192.8 283.2 L192.8 276 L197.6 276 L197.6 261.6 L200 261.6 L207.2 261.6 L207.2 249.6 L209.6 249.6 L219.2 249.6 L219.2 228 L224 228 L233.6 228 L233.6 213.6 L238.4 213.6 L238.4 208.8 L243.2 208.8 L243.2 206.4 L252.8 206.4 L252.8 194.4 L260 194.4 L260 187.2 L267.2 187.2 L267.2 182.4 L274.4 182.4 L274.4 175.2 L281.6 175.2 L281.6 170.4 L284 170.4 L291.2 170.4 L291.2 165.6 L293.6 165.6 L303.2 165.6 L303.2 156 L308 156 L308 151.2 L312.8 151.2 L312.8 148.8 L315.2 148.8 L320 148.8 L320 144 L324.8 144 L324.8 141.6 L339.2 141.6 L339.2 129.6 L341.6 129.6 L346.4 129.6 L346.4 124.8 L356 124.8 L356 117.6 L358.4 117.6 L370.4 117.6 L370.4 108 L380 108 L380 105.6 L384.8 105.6 L387.2 105.6 L387.2 100.8 L401.6 100.8 L401.6 96 L404 96 L416 96 L416 88.8 L428 88.8 L428 81.6 L435.2 81.6 L435.2 76.8 L444.8 76.8 L454.4 76.8 L454.4 74.4 L461.6 74.4 L466.4 74.4 L468.8 74.4 L483.2 74.4 L483.2 67.2 L495.2 67.2 L495.2 62.4 L500 62.4 L500 60 L514.4 60 L514.4 55.2 L516.8 55.2 L528.8 55.2 L536 55.2 L543.2 55.2 L543.2 52.8 L557.6 52.8 L557.6 48 L564.8 48 L564.8 45.6 L584 45.6 L584 38.4 L596 38.4 L615.2 38.4 L615.2 36 L627.2 36 L639.2 36 L639.2 33.6 L644 33.6 L658.4 33.6 L658.4 31.2 L672.8 31.2 L672.8 28.8 L677.6 28.8 L682.4 28.8 L689.6 28.8 L704 28.8 L704 26.4 L718.4 26.4 L718.4 24 L737.6 24 L742.4 24 L752 24 L754.4 24 L764 24 L766.4 24 L776 24 L776 21.6 L778.4 21.6 L790.4 21.6 L790.4 19.2 L804.8 19.2 L814.4 19.2 L826.4 19.2 L828.8 19.2 L838.4 19.2 L843.2 19.2 L845.6 19.2 L848 19.2 L867.2 19.2 L867.2 16.8 L886.4 16.8 L888 16.8 L888 15.5" fill="none" stroke="#bebebe" stroke-width="2.2" stroke-linejoin="miter"/>
<path d="M176 330 L183.2 330 L183.2 280.8 L188 280.8 L192.8 280.8 L192.8 273.6 L197.6 273.6 L197.6 266.4 L204.8 266.4 L204.8 254.4 L212 254.4 L212 244.8 L216.8 244.8 L216.8 242.4 L224 242.4 L224 235.2 L233.6 235.2 L233.6 220.8 L240.8 220.8 L240.8 213.6 L248 213.6 L248 204 L252.8 204 L262.4 204 L262.4 187.2 L267.2 187.2 L274.4 187.2 L274.4 182.4 L281.6 182.4 L281.6 175.2 L291.2 175.2 L291.2 168 L296 168 L303.2 168 L303.2 158.4 L308 158.4 L308 153.6 L317.6 153.6 L317.6 146.4 L324.8 146.4 L324.8 141.6 L334.4 141.6 L334.4 134.4 L339.2 134.4 L348.8 134.4 L348.8 124.8 L363.2 124.8 L363.2 112.8 L370.4 112.8 L370.4 110.4 L380 110.4 L380 105.6 L384.8 105.6 L384.8 103.2 L394.4 103.2 L394.4 96 L404 96 L404 91.2 L406.4 91.2 L408.8 91.2 L408.8 88.8 L413.6 88.8 L413.6 86.4 L416 86.4 L430.4 86.4 L430.4 79.2 L442.4 79.2 L442.4 76.8 L447.2 76.8 L454.4 76.8 L454.4 74.4 L468.8 74.4 L468.8 69.6 L478.4 69.6 L488 69.6 L488 67.2 L492.8 67.2 L492.8 64.8 L507.2 64.8 L507.2 60 L512 60 L512 57.6 L521.6 57.6 L521.6 52.8 L528.8 52.8 L533.6 52.8 L545.6 52.8 L545.6 50.4 L564.8 50.4 L564.8 45.6 L576.8 45.6 L584 45.6 L584 43.2 L586.4 43.2 L591.2 43.2 L610.4 43.2 L610.4 40.8 L622.4 40.8 L622.4 38.4 L629.6 38.4 L629.6 36 L636.8 36 L644 36 L656 36 L656 31.2 L658.4 31.2 L677.6 31.2 L677.6 28.8 L682.4 28.8 L692 28.8 L696.8 28.8 L701.6 28.8 L701.6 26.4 L704 26.4 L706.4 26.4 L708.8 26.4 L728 26.4 L728 24 L740 24 L759.2 24 L778.4 24 L778.4 19.2 L783.2 19.2 L797.6 19.2 L807.2 19.2 L819.2 19.2 L819.2 16.8 L828.8 16.8 L840.8 16.8 L845.6 16.8 L850.4 16.8 L855.2 16.8 L874.4 16.8 L876.8 16.8 L879.2 16.8 L886.4 16.8 L888 16.8 L888 15.5" fill="none" stroke="#bebebe" stroke-width="2.2" stroke-linejoin="miter"/>
<path d="M176 330 L183.2 330 L183.2 247.2 L185.6 247.2 L190.4 247.2 L190.4 235.2 L192.8 235.2 L192.8 232.8 L202.4 232.8 L202.4 218.4 L204.8 218.4 L207.2 218.4 L209.6 218.4 L219.2 218.4 L219.2 208.8 L224 208.8 L224 204 L228.8 204 L228.8 196.8 L233.6 196.8 L233.6 192 L238.4 192 L245.6 192 L245.6 180 L250.4 180 L250.4 177.6 L257.6 177.6 L257.6 172.8 L260 172.8 L260 165.6 L264.8 165.6 L264.8 158.4 L267.2 158.4 L269.6 158.4 L269.6 151.2 L272 151.2 L281.6 151.2 L281.6 144 L286.4 144 L286.4 139.2 L291.2 139.2 L291.2 134.4 L293.6 134.4 L293.6 132 L298.4 132 L303.2 132 L303.2 129.6 L308 129.6 L308 122.4 L310.4 122.4 L317.6 122.4 L317.6 115.2 L324.8 115.2 L324.8 105.6 L332 105.6 L332 103.2 L339.2 103.2 L339.2 100.8 L353.6 100.8 L353.6 93.6 L360.8 93.6 L360.8 88.8 L372.8 88.8 L372.8 84 L384.8 84 L384.8 81.6 L387.2 81.6 L392 81.6 L392 79.2 L399.2 79.2 L399.2 74.4 L406.4 74.4 L406.4 72 L420.8 72 L420.8 62.4 L435.2 62.4 L435.2 60 L444.8 60 L444.8 55.2 L449.6 55.2 L454.4 55.2 L468.8 55.2 L468.8 50.4 L471.2 50.4 L473.6 50.4 L478.4 50.4 L483.2 50.4 L497.6 50.4 L497.6 45.6 L500 45.6 L507.2 45.6 L521.6 45.6 L521.6 43.2 L540.8 43.2 L540.8 38.4 L555.2 38.4 L555.2 36 L560 36 L567.2 36 L579.2 36 L579.2 31.2 L588.8 31.2 L603.2 31.2 L603.2 26.4 L608 26.4 L610.4 26.4 L624.8 26.4 L634.4 26.4 L648.8 26.4 L648.8 21.6 L656 21.6 L660.8 21.6 L675.2 21.6 L675.2 19.2 L684.8 19.2 L692 19.2 L701.6 19.2 L716 19.2 L728 19.2 L740 19.2 L744.8 19.2 L747.2 19.2 L752 19.2 L756.8 19.2 L768.8 19.2 L778.4 19.2 L778.4 16.8 L780.8 16.8 L785.6 16.8 L795.2 16.8 L800 16.8 L807.2 16.8 L814.4 16.8 L828.8 16.8 L838.4 16.8 L848 16.8 L855.2 16.8 L869.6 16.8 L884 16.8 L888 16.8 L888 15.5" fill="none" stroke="#bebebe" stroke-width="2.2" stroke-linejoin="miter"/>
<path d="M176 330 L178.4 330 L178.4 288 L188 288 L188 259.2 L192.8 259.2 L192.8 249.6 L202.4 249.6 L202.4 235.2 L209.6 235.2 L209.6 225.6 L219.2 225.6 L219.2 211.2 L221.6 211.2 L226.4 211.2 L233.6 211.2 L233.6 204 L236 204 L240.8 204 L240.8 196.8 L245.6 196.8 L245.6 192 L248 192 L250.4 192 L250.4 189.6 L260 189.6 L260 177.6 L267.2 177.6 L267.2 170.4 L269.6 170.4 L269.6 168 L276.8 168 L276.8 160.8 L284 160.8 L284 153.6 L291.2 153.6 L291.2 144 L298.4 144 L303.2 144 L308 144 L308 134.4 L310.4 134.4 L320 134.4 L320 124.8 L322.4 124.8 L322.4 122.4 L334.4 122.4 L334.4 110.4 L348.8 110.4 L348.8 100.8 L356 100.8 L356 98.4 L370.4 98.4 L370.4 88.8 L375.2 88.8 L375.2 86.4 L382.4 86.4 L387.2 86.4 L392 86.4 L392 84 L396.8 84 L401.6 84 L401.6 79.2 L413.6 79.2 L413.6 72 L428 72 L428 64.8 L440 64.8 L440 62.4 L454.4 62.4 L454.4 60 L464 60 L468.8 60 L473.6 60 L473.6 57.6 L480.8 57.6 L485.6 57.6 L485.6 55.2 L497.6 55.2 L497.6 52.8 L504.8 52.8 L519.2 52.8 L519.2 48 L531.2 48 L536 48 L555.2 48 L555.2 43.2 L567.2 43.2 L567.2 40.8 L576.8 40.8 L576.8 38.4 L584 38.4 L596 38.4 L596 36 L603.2 36 L603.2 33.6 L617.6 33.6 L620 33.6 L639.2 33.6 L639.2 31.2 L644 31.2 L651.2 31.2 L651.2 28.8 L653.6 28.8 L660.8 28.8 L660.8 26.4 L663.2 26.4 L668 26.4 L672.8 26.4 L672.8 24 L680 24 L682.4 24 L684.8 24 L696.8 24 L704 24 L716 24 L716 21.6 L718.4 21.6 L725.6 21.6 L732.8 21.6 L744.8 21.6 L749.6 21.6 L754.4 21.6 L756.8 21.6 L761.6 21.6 L764 21.6 L768.8 21.6 L780.8 21.6 L780.8 19.2 L795.2 19.2 L795.2 16.8 L804.8 16.8 L812 16.8 L826.4 16.8 L831.2 16.8 L836 16.8 L838.4 16.8 L845.6 16.8 L852.8 16.8 L864.8 16.8 L869.6 16.8 L881.6 16.8 L888 16.8 L888 15.5" fill="none" stroke="#bebebe" stroke-width="2.2" stroke-linejoin="miter"/>
<path d="M176 330 L180.8 330 L180.8 290.4 L185.6 290.4 L188 290.4 L192.8 290.4 L192.8 283.2 L195.2 283.2 L200 283.2 L200 268.8 L204.8 268.8 L204.8 266.4 L207.2 266.4 L214.4 266.4 L214.4 256.8 L221.6 256.8 L221.6 242.4 L224 242.4 L226.4 242.4 L226.4 237.6 L228.8 237.6 L228.8 235.2 L236 235.2 L236 223.2 L240.8 223.2 L240.8 218.4 L243.2 218.4 L243.2 216 L252.8 216 L252.8 199.2 L260 199.2 L260 194.4 L264.8 194.4 L264.8 189.6 L269.6 189.6 L269.6 184.8 L279.2 184.8 L279.2 172.8 L288.8 172.8 L288.8 168 L291.2 168 L293.6 168 L303.2 168 L303.2 153.6 L305.6 153.6 L312.8 153.6 L312.8 151.2 L315.2 151.2 L322.4 151.2 L322.4 144 L332 144 L332 134.4 L336.8 134.4 L344 134.4 L344 132 L353.6 132 L353.6 122.4 L356 122.4 L363.2 122.4 L363.2 117.6 L365.6 117.6 L370.4 117.6 L370.4 115.2 L382.4 115.2 L382.4 110.4 L396.8 110.4 L396.8 103.2 L408.8 103.2 L408.8 98.4 L420.8 98.4 L420.8 93.6 L428 93.6 L428 88.8 L435.2 88.8 L435.2 84 L442.4 84 L449.6 84 L449.6 81.6 L452 81.6 L459.2 81.6 L471.2 81.6 L471.2 76.8 L485.6 76.8 L485.6 72 L492.8 72 L507.2 72 L507.2 64.8 L519.2 64.8 L519.2 60 L528.8 60 L528.8 57.6 L538.4 57.6 L538.4 55.2 L545.6 55.2 L555.2 55.2 L555.2 52.8 L569.6 52.8 L569.6 50.4 L588.8 50.4 L588.8 45.6 L600.8 45.6 L612.8 45.6 L612.8 43.2 L617.6 43.2 L622.4 43.2 L629.6 43.2 L634.4 43.2 L636.8 43.2 L656 43.2 L656 36 L670.4 36 L670.4 33.6 L689.6 33.6 L689.6 31.2 L699.2 31.2 L699.2 28.8 L704 28.8 L708.8 28.8 L728 28.8 L728 26.4 L737.6 26.4 L756.8 26.4 L761.6 26.4 L764 26.4 L764 24 L778.4 24 L778.4 21.6 L792.8 21.6 L792.8 19.2 L807.2 19.2 L826.4 19.2 L838.4 19.2 L838.4 16.8 L852.8 16.8 L867.2 16.8 L869.6 16.8 L879.2 16.8 L881.6 16.8 L886.4 16.8 L888 16.8 L888 15.5" fill="none" stroke="#bebebe" stroke-width="2.2" stroke-linejoin="miter"/>
<path d="M176 330 L180.8 330 L180.8 259.2 L188 259.2 L188 228 L192.8 228 L192.8 225.6 L197.6 225.6 L197.6 220.8 L200 220.8 L200 218.4 L204.8 218.4 L204.8 211.2 L209.6 211.2 L209.6 204 L212 204 L212 199.2 L214.4 199.2 L214.4 196.8 L221.6 196.8 L221.6 189.6 L228.8 189.6 L228.8 182.4 L233.6 182.4 L236 182.4 L236 177.6 L238.4 177.6 L238.4 175.2 L243.2 175.2 L243.2 168 L252.8 168 L252.8 153.6 L257.6 153.6 L257.6 146.4 L262.4 146.4 L262.4 139.2 L272 139.2 L272 132 L281.6 132 L281.6 129.6 L284 129.6 L284 124.8 L288.8 124.8 L288.8 115.2 L296 115.2 L296 105.6 L305.6 105.6 L305.6 98.4 L308 98.4 L312.8 98.4 L322.4 98.4 L322.4 93.6 L329.6 93.6 L329.6 88.8 L344 88.8 L344 81.6 L353.6 81.6 L356 81.6 L363.2 81.6 L363.2 79.2 L375.2 79.2 L375.2 74.4 L387.2 74.4 L387.2 72 L394.4 72 L394.4 69.6 L399.2 69.6 L401.6 69.6 L408.8 69.6 L408.8 67.2 L420.8 67.2 L420.8 60 L432.8 60 L432.8 52.8 L444.8 52.8 L444.8 50.4 L447.2 50.4 L449.6 50.4 L454.4 50.4 L466.4 50.4 L466.4 48 L476 48 L478.4 48 L483.2 48 L483.2 45.6 L488 45.6 L497.6 45.6 L497.6 40.8 L507.2 40.8 L507.2 38.4 L514.4 38.4 L521.6 38.4 L531.2 38.4 L531.2 36 L538.4 36 L552.8 36 L552.8 31.2 L557.6 31.2 L569.6 31.2 L569.6 28.8 L574.4 28.8 L588.8 28.8 L588.8 26.4 L608 26.4 L615.2 26.4 L615.2 24 L624.8 24 L629.6 24 L639.2 24 L639.2 21.6 L658.4 21.6 L670.4 21.6 L670.4 19.2 L677.6 19.2 L684.8 19.2 L704 19.2 L711.2 19.2 L725.6 19.2 L737.6 19.2 L742.4 19.2 L756.8 19.2 L776 19.2 L776 16.8 L790.4 16.8 L804.8 16.8 L812 16.8 L814.4 16.8 L826.4 16.8 L836 16.8 L843.2 16.8 L862.4 16.8 L881.6 16.8 L888 16.8 L888 15.5" fill="none" stroke="#bebebe" stroke-width="2.2" stroke-linejoin="miter"/>
<path d="M176 330 L183.2 330 L183.2 237.6 L185.6 237.6 L188 237.6 L188 230.4 L195.2 230.4 L195.2 211.2 L197.6 211.2 L202.4 211.2 L202.4 204 L204.8 204 L204.8 201.6 L214.4 201.6 L214.4 194.4 L224 194.4 L224 182.4 L228.8 182.4 L228.8 180 L233.6 180 L233.6 177.6 L238.4 177.6 L238.4 172.8 L245.6 172.8 L245.6 163.2 L252.8 163.2 L252.8 151.2 L257.6 151.2 L257.6 144 L267.2 144 L267.2 127.2 L276.8 127.2 L276.8 124.8 L284 124.8 L284 120 L288.8 120 L288.8 117.6 L291.2 117.6 L293.6 117.6 L300.8 117.6 L300.8 110.4 L305.6 110.4 L305.6 108 L310.4 108 L310.4 105.6 L315.2 105.6 L317.6 105.6 L317.6 103.2 L327.2 103.2 L327.2 91.2 L336.8 91.2 L336.8 86.4 L341.6 86.4 L344 86.4 L353.6 86.4 L363.2 86.4 L363.2 81.6 L372.8 81.6 L372.8 74.4 L384.8 74.4 L384.8 69.6 L392 69.6 L394.4 69.6 L394.4 67.2 L399.2 67.2 L399.2 64.8 L404 64.8 L418.4 64.8 L418.4 60 L432.8 60 L432.8 55.2 L437.6 55.2 L452 55.2 L452 52.8 L466.4 52.8 L466.4 50.4 L478.4 50.4 L478.4 48 L483.2 48 L488 48 L488 45.6 L497.6 45.6 L497.6 43.2 L502.4 43.2 L502.4 40.8 L512 40.8 L512 38.4 L516.8 38.4 L524 38.4 L524 36 L536 36 L540.8 36 L540.8 33.6 L543.2 33.6 L555.2 33.6 L555.2 31.2 L574.4 31.2 L574.4 28.8 L588.8 28.8 L600.8 28.8 L600.8 26.4 L612.8 26.4 L612.8 24 L615.2 24 L627.2 24 L627.2 21.6 L634.4 21.6 L641.6 21.6 L644 21.6 L646.4 21.6 L656 21.6 L675.2 21.6 L677.6 21.6 L682.4 21.6 L684.8 21.6 L684.8 19.2 L692 19.2 L711.2 19.2 L720.8 19.2 L720.8 16.8 L728 16.8 L735.2 16.8 L749.6 16.8 L756.8 16.8 L771.2 16.8 L783.2 16.8 L802.4 16.8 L814.4 16.8 L821.6 16.8 L826.4 16.8 L833.6 16.8 L848 16.8 L857.6 16.8 L860 16.8 L867.2 16.8 L879.2 16.8 L888 16.8 L888 15.5" fill="none" stroke="#bebebe" stroke-width="2.2" stroke-linejoin="miter"/>
<path d="M176 330 L178.4 330 L178.4 290.4 L180.8 290.4 L180.8 268.8 L185.6 268.8 L185.6 247.2 L192.8 247.2 L192.8 228 L195.2 228 L195.2 225.6 L197.6 225.6 L200 225.6 L200 223.2 L209.6 223.2 L209.6 208.8 L216.8 208.8 L216.8 201.6 L226.4 201.6 L226.4 192 L236 192 L236 189.6 L245.6 189.6 L245.6 180 L250.4 180 L250.4 175.2 L260 175.2 L260 160.8 L269.6 160.8 L269.6 158.4 L272 158.4 L279.2 158.4 L279.2 148.8 L288.8 148.8 L288.8 136.8 L293.6 136.8 L298.4 136.8 L303.2 136.8 L303.2 129.6 L305.6 129.6 L305.6 124.8 L312.8 124.8 L312.8 117.6 L317.6 117.6 L317.6 115.2 L324.8 115.2 L324.8 110.4 L336.8 110.4 L336.8 98.4 L341.6 98.4 L344 98.4 L358.4 98.4 L358.4 91.2 L365.6 91.2 L365.6 86.4 L377.6 86.4 L377.6 84 L384.8 84 L387.2 84 L389.6 84 L389.6 81.6 L394.4 81.6 L394.4 79.2 L406.4 79.2 L406.4 74.4 L416 74.4 L416 69.6 L430.4 69.6 L430.4 64.8 L440 64.8 L440 62.4 L444.8 62.4 L444.8 60 L452 60 L452 57.6 L466.4 57.6 L466.4 55.2 L480.8 55.2 L480.8 52.8 L488 52.8 L492.8 52.8 L504.8 52.8 L504.8 48 L519.2 48 L519.2 45.6 L538.4 45.6 L538.4 43.2 L543.2 43.2 L548 43.2 L555.2 43.2 L557.6 43.2 L572 43.2 L572 38.4 L591.2 38.4 L591.2 33.6 L598.4 33.6 L617.6 33.6 L617.6 31.2 L632 31.2 L632 26.4 L636.8 26.4 L644 26.4 L653.6 26.4 L665.6 26.4 L665.6 24 L672.8 24 L675.2 24 L694.4 24 L713.6 24 L713.6 21.6 L718.4 21.6 L730.4 21.6 L742.4 21.6 L749.6 21.6 L749.6 19.2 L756.8 19.2 L776 19.2 L783.2 19.2 L802.4 19.2 L802.4 16.8 L809.6 16.8 L812 16.8 L824 16.8 L833.6 16.8 L845.6 16.8 L850.4 16.8 L862.4 16.8 L872 16.8 L884 16.8 L888 16.8 L888 15.5" fill="none" stroke="#bebebe" stroke-width="2.2" stroke-linejoin="miter"/>
<path d="M176 330 L180.8 330 L180.8 321.6 L188 321.6 L188 314.4 L195.2 314.4 L195.2 297.6 L202.4 297.6 L202.4 292.8 L209.6 292.8 L209.6 285.6 L214.4 285.6 L214.4 283.2 L219.2 283.2 L219.2 271.2 L224 271.2 L224 266.4 L226.4 266.4 L226.4 264 L231.2 264 L231.2 254.4 L238.4 254.4 L238.4 237.6 L245.6 237.6 L245.6 220.8 L252.8 220.8 L252.8 213.6 L257.6 213.6 L262.4 213.6 L262.4 211.2 L264.8 211.2 L264.8 208.8 L274.4 208.8 L274.4 196.8 L284 196.8 L284 189.6 L286.4 189.6 L288.8 189.6 L293.6 189.6 L293.6 182.4 L300.8 182.4 L300.8 172.8 L305.6 172.8 L305.6 170.4 L312.8 170.4 L312.8 165.6 L320 165.6 L320 158.4 L327.2 158.4 L327.2 153.6 L329.6 153.6 L329.6 151.2 L344 151.2 L344 141.6 L358.4 141.6 L358.4 134.4 L368 134.4 L368 132 L382.4 132 L382.4 122.4 L389.6 122.4 L389.6 120 L404 120 L404 110.4 L413.6 110.4 L413.6 108 L425.6 108 L425.6 105.6 L428 105.6 L432.8 105.6 L432.8 103.2 L437.6 103.2 L437.6 100.8 L449.6 100.8 L449.6 98.4 L461.6 98.4 L461.6 93.6 L476 93.6 L476 91.2 L478.4 91.2 L480.8 91.2 L480.8 88.8 L483.2 88.8 L483.2 86.4 L492.8 86.4 L492.8 81.6 L495.2 81.6 L497.6 81.6 L509.6 81.6 L509.6 74.4 L514.4 74.4 L516.8 74.4 L516.8 69.6 L524 69.6 L524 67.2 L533.6 67.2 L533.6 64.8 L538.4 64.8 L557.6 64.8 L557.6 57.6 L564.8 57.6 L574.4 57.6 L576.8 57.6 L591.2 57.6 L591.2 55.2 L600.8 55.2 L603.2 55.2 L622.4 55.2 L622.4 52.8 L629.6 52.8 L644 52.8 L644 50.4 L663.2 50.4 L663.2 38.4 L672.8 38.4 L687.2 38.4 L696.8 38.4 L701.6 38.4 L704 38.4 L716 38.4 L723.2 38.4 L723.2 36 L730.4 36 L744.8 36 L749.6 36 L768.8 36 L768.8 28.8 L778.4 28.8 L778.4 26.4 L790.4 26.4 L790.4 24 L804.8 24 L804.8 21.6 L809.6 21.6 L816.8 21.6 L819.2 21.6 L826.4 21.6 L836 21.6 L836 19.2 L850.4 19.2 L860 19.2 L862.4 19.2 L874.4 19.2 L874.4 16.8 L884 16.8 L888 16.8 L888 15.5" fill="none" stroke="#bebebe" stroke-width="2.2" stroke-linejoin="miter"/>
<path d="M176 330 L180.8 330 L180.8 302.4 L185.6 302.4 L185.6 297.6 L192.8 297.6 L192.8 288 L200 288 L200 276 L202.4 276 L212 276 L212 271.2 L216.8 271.2 L216.8 264 L224 264 L224 252 L226.4 252 L226.4 249.6 L233.6 249.6 L233.6 232.8 L243.2 232.8 L243.2 216 L245.6 216 L252.8 216 L252.8 211.2 L262.4 211.2 L262.4 199.2 L272 199.2 L272 192 L274.4 192 L281.6 192 L281.6 184.8 L286.4 184.8 L286.4 180 L296 180 L296 168 L305.6 168 L305.6 158.4 L310.4 158.4 L310.4 156 L317.6 156 L317.6 148.8 L324.8 148.8 L332 148.8 L332 144 L336.8 144 L336.8 141.6 L339.2 141.6 L346.4 141.6 L346.4 139.2 L360.8 139.2 L360.8 127.2 L375.2 127.2 L375.2 117.6 L377.6 117.6 L392 117.6 L392 105.6 L406.4 105.6 L406.4 100.8 L411.2 100.8 L413.6 100.8 L423.2 100.8 L423.2 96 L437.6 96 L437.6 88.8 L444.8 88.8 L444.8 86.4 L459.2 86.4 L459.2 81.6 L468.8 81.6 L471.2 81.6 L483.2 81.6 L483.2 74.4 L497.6 74.4 L497.6 69.6 L502.4 69.6 L514.4 69.6 L514.4 64.8 L516.8 64.8 L516.8 62.4 L519.2 62.4 L524 62.4 L531.2 62.4 L531.2 60 L550.4 60 L550.4 55.2 L552.8 55.2 L564.8 55.2 L564.8 52.8 L584 52.8 L584 48 L596 48 L598.4 48 L608 48 L608 45.6 L612.8 45.6 L617.6 45.6 L617.6 43.2 L624.8 43.2 L634.4 43.2 L646.4 43.2 L646.4 40.8 L656 40.8 L656 38.4 L658.4 38.4 L670.4 38.4 L670.4 36 L672.8 36 L675.2 36 L689.6 36 L689.6 33.6 L692 33.6 L706.4 33.6 L706.4 31.2 L718.4 31.2 L723.2 31.2 L728 31.2 L728 28.8 L735.2 28.8 L742.4 28.8 L756.8 28.8 L756.8 26.4 L766.4 26.4 L773.6 26.4 L773.6 24 L792.8 24 L792.8 21.6 L800 21.6 L807.2 21.6 L807.2 19.2 L819.2 19.2 L838.4 19.2 L857.6 19.2 L857.6 16.8 L872 16.8 L884 16.8 L886.4 16.8 L888 16.8 L888 15.5" fill="none" stroke="#bebebe" stroke-width="2.2" stroke-linejoin="miter"/>
<path d="M176 330 L185.6 330 L185.6 230.4 L188 230.4 L195.2 230.4 L195.2 216 L197.6 216 L202.4 216 L202.4 213.6 L204.8 213.6 L204.8 211.2 L214.4 211.2 L214.4 194.4 L219.2 194.4 L224 194.4 L224 187.2 L233.6 187.2 L233.6 172.8 L238.4 172.8 L238.4 170.4 L240.8 170.4 L240.8 165.6 L248 165.6 L248 156 L252.8 156 L260 156 L260 148.8 L262.4 148.8 L264.8 148.8 L267.2 148.8 L269.6 148.8 L269.6 144 L276.8 144 L276.8 139.2 L279.2 139.2 L279.2 134.4 L284 134.4 L284 127.2 L291.2 127.2 L291.2 122.4 L300.8 122.4 L300.8 112.8 L308 112.8 L310.4 112.8 L310.4 108 L320 108 L320 100.8 L322.4 100.8 L327.2 100.8 L327.2 93.6 L341.6 93.6 L341.6 84 L348.8 84 L348.8 81.6 L356 81.6 L365.6 81.6 L365.6 79.2 L370.4 79.2 L377.6 79.2 L377.6 74.4 L387.2 74.4 L387.2 69.6 L392 69.6 L396.8 69.6 L408.8 69.6 L408.8 64.8 L423.2 64.8 L423.2 60 L437.6 60 L437.6 52.8 L444.8 52.8 L444.8 48 L454.4 48 L459.2 48 L464 48 L464 45.6 L476 45.6 L480.8 45.6 L485.6 45.6 L485.6 43.2 L488 43.2 L490.4 43.2 L490.4 40.8 L502.4 40.8 L514.4 40.8 L514.4 38.4 L533.6 38.4 L533.6 36 L538.4 36 L550.4 36 L550.4 33.6 L557.6 33.6 L572 33.6 L572 28.8 L584 28.8 L603.2 28.8 L603.2 24 L617.6 24 L629.6 24 L632 24 L632 21.6 L639.2 21.6 L651.2 21.6 L651.2 19.2 L660.8 19.2 L680 19.2 L689.6 19.2 L699.2 19.2 L718.4 19.2 L718.4 16.8 L732.8 16.8 L740 16.8 L759.2 16.8 L773.6 16.8 L783.2 16.8 L797.6 16.8 L804.8 16.8 L816.8 16.8 L828.8 16.8 L848 16.8 L857.6 16.8 L860 16.8 L869.6 16.8 L876.8 16.8 L884 16.8 L888 16.8 L888 15.5" fill="none" stroke="#bebebe" stroke-width="2.2" stroke-linejoin="miter"/>
<path d="M176 330 L183.2 330 L183.2 247.2 L188 247.2 L188 235.2 L190.4 235.2 L190.4 232.8 L197.6 232.8 L197.6 220.8 L202.4 220.8 L202.4 213.6 L204.8 213.6 L207.2 213.6 L212 213.6 L212 208.8 L214.4 208.8 L214.4 206.4 L221.6 206.4 L221.6 194.4 L226.4 194.4 L226.4 189.6 L228.8 189.6 L228.8 187.2 L236 187.2 L236 172.8 L238.4 172.8 L238.4 170.4 L243.2 170.4 L243.2 163.2 L245.6 163.2 L245.6 160.8 L252.8 160.8 L252.8 156 L260 156 L260 148.8 L264.8 148.8 L264.8 144 L269.6 144 L274.4 144 L279.2 144 L279.2 139.2 L286.4 139.2 L286.4 134.4 L291.2 134.4 L291.2 132 L293.6 132 L293.6 124.8 L296 124.8 L298.4 124.8 L298.4 117.6 L303.2 117.6 L303.2 115.2 L310.4 115.2 L310.4 112.8 L320 112.8 L320 103.2 L322.4 103.2 L327.2 103.2 L334.4 103.2 L341.6 103.2 L341.6 98.4 L346.4 98.4 L353.6 98.4 L353.6 96 L358.4 96 L372.8 96 L372.8 84 L377.6 84 L377.6 81.6 L382.4 81.6 L382.4 79.2 L387.2 79.2 L387.2 76.8 L389.6 76.8 L396.8 76.8 L396.8 72 L408.8 72 L413.6 72 L413.6 69.6 L428 69.6 L428 62.4 L430.4 62.4 L432.8 62.4 L437.6 62.4 L442.4 62.4 L442.4 60 L454.4 60 L454.4 57.6 L464 57.6 L471.2 57.6 L471.2 55.2 L476 55.2 L488 55.2 L488 52.8 L492.8 52.8 L492.8 50.4 L507.2 50.4 L507.2 45.6 L514.4 45.6 L524 45.6 L533.6 45.6 L533.6 43.2 L538.4 43.2 L540.8 43.2 L545.6 43.2 L550.4 43.2 L569.6 43.2 L569.6 38.4 L579.2 38.4 L579.2 36 L586.4 36 L586.4 33.6 L591.2 33.6 L596 33.6 L596 31.2 L598.4 31.2 L617.6 31.2 L636.8 31.2 L636.8 26.4 L639.2 26.4 L644 26.4 L658.4 26.4 L658.4 24 L660.8 24 L668 24 L677.6 24 L689.6 24 L689.6 21.6 L692 21.6 L711.2 21.6 L711.2 19.2 L713.6 19.2 L723.2 19.2 L730.4 19.2 L732.8 19.2 L735.2 19.2 L744.8 19.2 L752 19.2 L764 19.2 L771.2 19.2 L771.2 16.8 L790.4 16.8 L809.6 16.8 L828.8 16.8 L833.6 16.8 L845.6 16.8 L860 16.8 L864.8 16.8 L884 16.8 L888 16.8 L888 15.5" fill="none" stroke="#bebebe" stroke-width="2.2" stroke-linejoin="miter"/>
<path d="M176 330 L178.4 330 L178.4 290.4 L183.2 290.4 L183.2 237.6 L185.6 237.6 L185.6 232.8 L195.2 232.8 L195.2 196.8 L200 196.8 L207.2 196.8 L207.2 187.2 L216.8 187.2 L216.8 177.6 L224 177.6 L224 170.4 L228.8 170.4 L228.8 165.6 L231.2 165.6 L231.2 160.8 L233.6 160.8 L233.6 158.4 L236 158.4 L243.2 158.4 L243.2 151.2 L252.8 151.2 L252.8 139.2 L257.6 139.2 L257.6 134.4 L260 134.4 L260 132 L267.2 132 L267.2 122.4 L272 122.4 L272 120 L281.6 120 L281.6 115.2 L286.4 115.2 L293.6 115.2 L293.6 105.6 L298.4 105.6 L300.8 105.6 L308 105.6 L308 103.2 L312.8 103.2 L322.4 103.2 L322.4 93.6 L332 93.6 L332 88.8 L339.2 88.8 L353.6 88.8 L353.6 84 L356 84 L356 81.6 L360.8 81.6 L360.8 79.2 L363.2 79.2 L372.8 79.2 L372.8 72 L387.2 72 L387.2 64.8 L394.4 64.8 L394.4 62.4 L399.2 62.4 L413.6 62.4 L413.6 55.2 L418.4 55.2 L423.2 55.2 L432.8 55.2 L432.8 52.8 L435.2 52.8 L440 52.8 L444.8 52.8 L444.8 50.4 L449.6 50.4 L449.6 48 L454.4 48 L456.8 48 L468.8 48 L468.8 43.2 L471.2 43.2 L476 43.2 L476 40.8 L480.8 40.8 L480.8 38.4 L492.8 38.4 L492.8 36 L500 36 L512 36 L512 33.6 L514.4 33.6 L526.4 33.6 L526.4 28.8 L528.8 28.8 L538.4 28.8 L543.2 28.8 L545.6 28.8 L545.6 26.4 L555.2 26.4 L555.2 24 L562.4 24 L564.8 24 L574.4 24 L586.4 24 L588.8 24 L591.2 24 L591.2 21.6 L600.8 21.6 L600.8 19.2 L612.8 19.2 L612.8 16.8 L617.6 16.8 L620 16.8 L632 16.8 L651.2 16.8 L670.4 16.8 L672.8 16.8 L680 16.8 L687.2 16.8 L701.6 16.8 L716 16.8 L723.2 16.8 L735.2 16.8 L754.4 16.8 L756.8 16.8 L768.8 16.8 L776 16.8 L780.8 16.8 L795.2 16.8 L814.4 16.8 L833.6 16.8 L833.6 15.5 L836 15.5 L848 15.5 L857.6 15.5 L860 15.5 L867.2 15.5 L886.4 15.5 L888 15.5 L888 15.5" fill="none" stroke="#bebebe" stroke-width="2.2" stroke-linejoin="miter"/>
<line x1="176.3" y1="220.4" x2="176.3" y2="253.8" stroke="#000" stroke-width="2.4"/>
<line x1="176.3" y1="303.7" x2="176.3" y2="324.9" stroke="#000" stroke-width="2.4"/>
<line x1="170.6" y1="220.4" x2="182" y2="220.4" stroke="#000" stroke-width="2.4"/>
<line x1="165.8" y1="242.1" x2="186.8" y2="242.1" stroke="#000" stroke-width="2.4"/>
<line x1="165.8" y1="315.8" x2="186.8" y2="315.8" stroke="#000" stroke-width="2.4"/>
<line x1="170.6" y1="324.9" x2="182" y2="324.9" stroke="#000" stroke-width="2.4"/>
<rect x="155.7" y="255" width="43.4" height="47.5" fill="#fff" stroke="#000" stroke-width="2.4"/>
<line x1="154.5" y1="280.2" x2="200.3" y2="280.2" stroke="#000" stroke-width="7.2"/>
<line x1="247.3" y1="146.8" x2="247.3" y2="172.7" stroke="#000" stroke-width="2.4"/>
<line x1="247.3" y1="215.8" x2="247.3" y2="244.3" stroke="#000" stroke-width="2.4"/>
<line x1="241.6" y1="146.8" x2="253" y2="146.8" stroke="#000" stroke-width="2.4"/>
<line x1="236.8" y1="163.5" x2="257.8" y2="163.5" stroke="#000" stroke-width="2.4"/>
<line x1="236.8" y1="227.6" x2="257.8" y2="227.6" stroke="#000" stroke-width="2.4"/>
<line x1="241.6" y1="244.3" x2="253" y2="244.3" stroke="#000" stroke-width="2.4"/>
<rect x="227" y="173.9" width="43.8" height="40.7" fill="#fff" stroke="#000" stroke-width="2.4"/>
<line x1="225.8" y1="194.7" x2="272" y2="194.7" stroke="#000" stroke-width="7.2"/>
<line x1="318.8" y1="94.7" x2="318.8" y2="116.3" stroke="#000" stroke-width="2.4"/>
<line x1="318.8" y1="148.9" x2="318.8" y2="170.9" stroke="#000" stroke-width="2.4"/>
<line x1="313.1" y1="94.7" x2="324.5" y2="94.7" stroke="#000" stroke-width="2.4"/>
<line x1="308.3" y1="108.8" x2="329.3" y2="108.8" stroke="#000" stroke-width="2.4"/>
<line x1="308.3" y1="156.5" x2="329.3" y2="156.5" stroke="#000" stroke-width="2.4"/>
<line x1="313.1" y1="170.9" x2="324.5" y2="170.9" stroke="#000" stroke-width="2.4"/>
<rect x="298.3" y="117.5" width="43.8" height="30.2" fill="#fff" stroke="#000" stroke-width="2.4"/>
<line x1="297.1" y1="132.2" x2="343.3" y2="132.2" stroke="#000" stroke-width="7.2"/>
<line x1="389.9" y1="69.1" x2="389.9" y2="82.8" stroke="#000" stroke-width="2.4"/>
<line x1="389.9" y1="107.1" x2="389.9" y2="123.3" stroke="#000" stroke-width="2.4"/>
<line x1="384.2" y1="69.1" x2="395.6" y2="69.1" stroke="#000" stroke-width="2.4"/>
<line x1="379.4" y1="75.4" x2="400.4" y2="75.4" stroke="#000" stroke-width="2.4"/>
<line x1="379.4" y1="113.5" x2="400.4" y2="113.5" stroke="#000" stroke-width="2.4"/>
<line x1="384.2" y1="123.3" x2="395.6" y2="123.3" stroke="#000" stroke-width="2.4"/>
<rect x="369.2" y="84" width="44.2" height="21.9" fill="#fff" stroke="#000" stroke-width="2.4"/>
<line x1="368" y1="92.9" x2="414.6" y2="92.9" stroke="#000" stroke-width="7.2"/>
<line x1="461.4" y1="47.5" x2="461.4" y2="58.5" stroke="#000" stroke-width="2.4"/>
<line x1="461.4" y1="76.5" x2="461.4" y2="89.9" stroke="#000" stroke-width="2.4"/>
<line x1="455.7" y1="47.5" x2="467.1" y2="47.5" stroke="#000" stroke-width="2.4"/>
<line x1="450.9" y1="54.3" x2="471.9" y2="54.3" stroke="#000" stroke-width="2.4"/>
<line x1="450.9" y1="80.5" x2="471.9" y2="80.5" stroke="#000" stroke-width="2.4"/>
<line x1="455.7" y1="89.9" x2="467.1" y2="89.9" stroke="#000" stroke-width="2.4"/>
<rect x="440.4" y="59.7" width="44.4" height="15.6" fill="#fff" stroke="#000" stroke-width="2.4"/>
<line x1="439.2" y1="67" x2="486" y2="67" stroke="#000" stroke-width="7.2"/>
<line x1="532.4" y1="32.8" x2="532.4" y2="41.8" stroke="#000" stroke-width="2.4"/>
<line x1="532.4" y1="58.5" x2="532.4" y2="66.3" stroke="#000" stroke-width="2.4"/>
<line x1="526.7" y1="32.8" x2="538.1" y2="32.8" stroke="#000" stroke-width="2.4"/>
<line x1="521.9" y1="38" x2="542.9" y2="38" stroke="#000" stroke-width="2.4"/>
<line x1="521.9" y1="59.5" x2="542.9" y2="59.5" stroke="#000" stroke-width="2.4"/>
<line x1="526.7" y1="66.3" x2="538.1" y2="66.3" stroke="#000" stroke-width="2.4"/>
<rect x="511.5" y="43" width="44.8" height="14.3" fill="#fff" stroke="#000" stroke-width="2.4"/>
<line x1="510.3" y1="50" x2="557.5" y2="50" stroke="#000" stroke-width="7.2"/>
<line x1="605.2" y1="25.7" x2="605.2" y2="29.9" stroke="#000" stroke-width="2.4"/>
<line x1="605.2" y1="43.6" x2="605.2" y2="52" stroke="#000" stroke-width="2.4"/>
<line x1="599.5" y1="25.7" x2="610.9" y2="25.7" stroke="#000" stroke-width="2.4"/>
<line x1="594.7" y1="33" x2="615.7" y2="33" stroke="#000" stroke-width="2.4"/>
<line x1="594.7" y1="45.4" x2="615.7" y2="45.4" stroke="#000" stroke-width="2.4"/>
<line x1="599.5" y1="52" x2="610.9" y2="52" stroke="#000" stroke-width="2.4"/>
<rect x="582.5" y="31.1" width="44.8" height="11.3" fill="#000" stroke="#000" stroke-width="2.4"/>
<line x1="581.3" y1="36" x2="628.5" y2="36" stroke="#000" stroke-width="7.2"/>
<line x1="675" y1="21.3" x2="675" y2="25" stroke="#000" stroke-width="2.4"/>
<line x1="675" y1="34.6" x2="675" y2="40.4" stroke="#000" stroke-width="2.4"/>
<line x1="669.3" y1="21.3" x2="680.7" y2="21.3" stroke="#000" stroke-width="2.4"/>
<line x1="664.5" y1="28" x2="685.5" y2="28" stroke="#000" stroke-width="2.4"/>
<line x1="664.5" y1="35.4" x2="685.5" y2="35.4" stroke="#000" stroke-width="2.4"/>
<line x1="669.3" y1="40.4" x2="680.7" y2="40.4" stroke="#000" stroke-width="2.4"/>
<rect x="654.2" y="26.2" width="44.6" height="7.2" fill="#000" stroke="#000" stroke-width="2.4"/>
<line x1="653" y1="29.5" x2="700" y2="29.5" stroke="#000" stroke-width="7.2"/>
<line x1="746.4" y1="15.9" x2="746.4" y2="17.9" stroke="#000" stroke-width="2.4"/>
<line x1="746.4" y1="26.9" x2="746.4" y2="28.3" stroke="#000" stroke-width="2.4"/>
<line x1="740.7" y1="15.9" x2="752.1" y2="15.9" stroke="#000" stroke-width="2.4"/>
<line x1="735.9" y1="20" x2="756.9" y2="20" stroke="#000" stroke-width="2.4"/>
<line x1="735.9" y1="26" x2="756.9" y2="26" stroke="#000" stroke-width="2.4"/>
<line x1="740.7" y1="28.3" x2="752.1" y2="28.3" stroke="#000" stroke-width="2.4"/>
<rect x="725.1" y="19.1" width="44.8" height="6.6" fill="#000" stroke="#000" stroke-width="2.4"/>
<line x1="723.9" y1="22" x2="771.1" y2="22" stroke="#000" stroke-width="7.2"/>
<line x1="817.5" y1="15.5" x2="817.5" y2="15.5" stroke="#000" stroke-width="2.4"/>
<line x1="817.5" y1="22" x2="817.5" y2="22" stroke="#000" stroke-width="2.4"/>
<line x1="811.8" y1="15.5" x2="823.2" y2="15.5" stroke="#000" stroke-width="2.4"/>
<line x1="807" y1="18" x2="828" y2="18" stroke="#000" stroke-width="2.4"/>
<line x1="807" y1="20" x2="828" y2="20" stroke="#000" stroke-width="2.4"/>
<line x1="811.8" y1="22" x2="823.2" y2="22" stroke="#000" stroke-width="2.4"/>
<rect x="796.2" y="16.7" width="44.6" height="4.1" fill="#000" stroke="#000" stroke-width="2.4"/>
<line x1="795" y1="18.5" x2="842" y2="18.5" stroke="#000" stroke-width="7.2"/>
<line x1="888.5" y1="13.9" x2="888.5" y2="12.9" stroke="#000" stroke-width="2.4"/>
<line x1="888.5" y1="19.7" x2="888.5" y2="18.7" stroke="#000" stroke-width="2.4"/>
<line x1="882.8" y1="13.9" x2="894.2" y2="13.9" stroke="#000" stroke-width="2.4"/>
<line x1="878" y1="15.5" x2="899" y2="15.5" stroke="#000" stroke-width="2.4"/>
<line x1="878" y1="17" x2="899" y2="17" stroke="#000" stroke-width="2.4"/>
<line x1="882.8" y1="18.7" x2="894.2" y2="18.7" stroke="#000" stroke-width="2.4"/>
<rect x="867.9" y="14.1" width="42.4" height="4.4" fill="#000" stroke="#000" stroke-width="2.4"/>
<line x1="866.7" y1="16" x2="911.5" y2="16" stroke="#000" stroke-width="7.2"/>
<rect x="665" y="20.3" width="21" height="16.1" fill="#000"/>
<rect x="740.7" y="14.9" width="11.3" height="14.4" fill="#000"/>
<line x1="607.6" y1="40.3" x2="626.5" y2="40.3" stroke="#fff" stroke-width="1.9"/>
<path d="M175.6 276 L200 252.5 L232.5 215 L250 197.5 L272.5 175 L300 152.5 L322.5 135 L350 117.5 L375 100 L412.5 86 L440 72.5 L461 67 L485 61 L512.5 53.8 L532 50 L557.5 47.5 L580 41 L605 37 L630 35 L652.5 30 L675 28 L700 26 L725 22.5 L746 22 L772.5 21 L795 18 L842.5 17.5 L865 16 L912.5 16" fill="none" stroke="#000" stroke-width="4.4" stroke-linejoin="round"/>
<path d="M700 26 L725 22.5 L746 22 L772.5 21 L795 18 L842.5 17.5 L865 16 L912.5 16" fill="none" stroke="#000" stroke-width="6.4" stroke-linejoin="round"/>
<rect x="147.5" y="2" width="772.5" height="341.4" fill="none" stroke="#000" stroke-width="2.4"/>
<line x1="176" y1="343.4" x2="176" y2="363.7" stroke="#000" stroke-width="2.4"/>
<text x="175.2" y="411.6" font-size="31" text-anchor="middle" textLength="41.2" lengthAdjust="spacingAndGlyphs">0.0</text>
<line x1="127.7" y1="330.2" x2="147.5" y2="330.2" stroke="#000" stroke-width="2.4"/>
<text transform="translate(103 330.2) rotate(-90)" font-size="31" text-anchor="middle" textLength="41.2" lengthAdjust="spacingAndGlyphs">0.0</text>
<line x1="318.2" y1="343.4" x2="318.2" y2="363.7" stroke="#000" stroke-width="2.4"/>
<text x="317.4" y="411.6" font-size="31" text-anchor="middle" textLength="41.2" lengthAdjust="spacingAndGlyphs">0.2</text>
<line x1="127.7" y1="267.7" x2="147.5" y2="267.7" stroke="#000" stroke-width="2.4"/>
<line x1="461.2" y1="343.4" x2="461.2" y2="363.7" stroke="#000" stroke-width="2.4"/>
<text x="460.4" y="411.6" font-size="31" text-anchor="middle" textLength="41.2" lengthAdjust="spacingAndGlyphs">0.4</text>
<line x1="127.7" y1="204.4" x2="147.5" y2="204.4" stroke="#000" stroke-width="2.4"/>
<text transform="translate(103 204.4) rotate(-90)" font-size="31" text-anchor="middle" textLength="41.2" lengthAdjust="spacingAndGlyphs">0.4</text>
<line x1="606.2" y1="343.4" x2="606.2" y2="363.7" stroke="#000" stroke-width="2.4"/>
<text x="605.4" y="411.6" font-size="31" text-anchor="middle" textLength="41.2" lengthAdjust="spacingAndGlyphs">0.6</text>
<line x1="127.7" y1="142.9" x2="147.5" y2="142.9" stroke="#000" stroke-width="2.4"/>
<line x1="748.6" y1="343.4" x2="748.6" y2="363.7" stroke="#000" stroke-width="2.4"/>
<text x="747.8" y="411.6" font-size="31" text-anchor="middle" textLength="41.2" lengthAdjust="spacingAndGlyphs">0.8</text>
<line x1="127.7" y1="77.6" x2="147.5" y2="77.6" stroke="#000" stroke-width="2.4"/>
<text transform="translate(103 77.6) rotate(-90)" font-size="31" text-anchor="middle" textLength="41.2" lengthAdjust="spacingAndGlyphs">0.8</text>
<line x1="891" y1="343.4" x2="891" y2="363.7" stroke="#000" stroke-width="2.4"/>
<text x="890.2" y="411.6" font-size="31" text-anchor="middle" textLength="41.2" lengthAdjust="spacingAndGlyphs">1.0</text>
<line x1="127.7" y1="15.2" x2="147.5" y2="15.2" stroke="#000" stroke-width="2.4"/>
<text x="530.5" y="487.3" font-size="31" text-anchor="middle" textLength="237" lengthAdjust="spacingAndGlyphs">false positive rate</text>
<text transform="translate(27.9 173) rotate(-90)" font-size="31" text-anchor="middle" textLength="229" lengthAdjust="spacingAndGlyphs">true positive rate</text>
<text x="222.3" y="55.6" font-size="32" font-weight="bold">A</text>
<line x1="645" y1="317.2" x2="683.6" y2="317.2" stroke="#000" stroke-width="4.4"/>
<text x="711.8" y="299" font-size="24" textLength="166" lengthAdjust="spacing">avg AUC = 0.8</text>
<text x="711.8" y="328.2" font-size="24" textLength="195" lengthAdjust="spacing">mean ROC curve</text>
</g>
<g id="panelB">
<path d="M173.7 840.7 L174.9 856.3 L176.1 843.8 L177.3 820.3 L178.5 817.7 L179.7 804.9 L180.9 804.3 L182.1 813.8 L183.3 797.9 L184.5 800.6 L185.7 807.9 L186.9 805.2 L188.1 796.3 L189.3 793.8 L190.5 785.2 L191.7 776 L192.9 754.6 L194.1 756.6 L195.3 755.3 L196.5 764.8 L197.7 745.8 L198.9 753.9 L200.1 756.6 L201.3 768.2 L202.5 797.4 L203.7 815 L204.9 807.1 L206.1 814.3 L207.3 794.9 L208.5 824.3 L209.7 809 L210.9 777.6 L212.1 796.4 L213.3 782.8 L214.5 797.2 L215.7 791.8 L216.9 795.4 L218.1 777.9 L219.3 775.9 L220.5 789.8 L221.7 782.7 L222.9 796.8 L224.1 794.2 L225.3 802.2 L226.5 806.5 L227.7 805 L228.9 789.2 L230.1 773.7 L231.3 783 L232.5 787 L233.7 770.8 L234.9 781.1 L236.1 781.5 L237.3 780.6 L238.5 783.1 L239.7 784.3 L240.9 791.5 L242.1 779.9 L243.3 786.2 L244.5 780.4 L245.7 792.8 L246.9 802.4 L248.1 797.6 L249.3 790.3 L250.5 807.4 L251.7 814.6 L252.9 820.5 L254.1 822.7 L255.3 820.8 L256.5 829.1 L257.7 815.2 L258.9 829 L260.1 829.4 L261.3 822.5 L262.5 821.9 L263.7 830.6 L264.9 824.3 L266.1 819 L267.3 821.1 L268.5 827.2 L269.7 815 L270.9 813.3 L272.1 815.4 L273.3 821.6 L274.5 817.5 L275.7 818.7 L276.9 816.4 L278.1 807.6 L279.3 805.4 L280.5 808.4 L281.7 807.9 L282.9 807.3 L284.1 810.6 L285.3 811 L286.5 813.9 L287.7 811 L288.9 800.2 L290.1 807.1 L291.3 813 L292.5 813.9 L293.7 816 L294.9 810.4 L296.1 810.6 L297.3 816.9 L298.5 804.3 L299.7 807.7 L300.9 798.6 L302.1 804.6 L303.3 797.6 L304.5 807.6 L305.7 809.6 L306.9 809.7 L308.1 808.8 L309.3 810.6 L310.5 818 L311.7 811.5 L312.9 811.8 L314.1 813.4 L315.3 814 L316.5 804.2 L317.7 813.2 L318.9 815.2 L320.1 809.3 L321.3 811.8 L322.5 813.1 L323.7 810.2 L324.9 811.8 L326.1 812.7 L327.3 813.1 L328.5 816.4 L329.7 818.5 L330.9 816 L332.1 814.2 L333.3 808.8 L334.5 811.2 L335.7 810.3 L336.9 803.3 L338.1 808.1 L339.3 808 L340.5 799.6 L341.7 803.9 L342.9 798.8 L344.1 802.9 L345.3 805.2 L346.5 805.6 L347.7 804.1 L348.9 802.7 L350.1 803.4 L351.3 797.1 L352.5 799.2 L353.7 788 L354.9 794.1 L356.1 786.4 L357.3 780.7 L358.5 776.9 L359.7 770.2 L360.9 783.2 L362.1 763.2 L363.3 758.4 L364.5 758.2 L365.7 770.7 L366.9 761.9 L368.1 754.2 L369.3 781.1 L370.5 773.9 L371.7 786.7 L372.9 838.6 L374.1 830.3 L375.3 837.2 L376.5 834.2 L377.7 834.4 L378.9 829.4 L380.1 830.9 L381.3 825.9 L382.5 835.9 L383.7 833.6 L384.9 830 L386.1 833.7 L387.3 845.1 L388.5 838.2 L389.7 845.9 L390.9 840.8 L392.1 840.2 L393.3 832.6 L394.5 832.2 L395.7 834 L396.9 827.7 L398.1 812.3 L399.3 810.7 L400.5 798.4 L401.7 798.7 L402.9 800.4 L404.1 789.3 L405.3 794.8 L406.5 796.8 L407.7 779.8 L408.9 794.9 L410.1 784.3 L411.3 781.9 L412.5 785.3 L413.7 792.8 L414.9 781.1 L416.1 792.6 L417.3 792.2 L418.5 788.1 L419.7 783.4 L420.9 786.1 L422.1 786.4 L423.3 795.7 L424.5 798.1 L425.7 805.2 L426.9 804.3 L428.1 803.5 L429.3 813.2 L430.5 815.5 L431.7 825.8 L432.9 831.7 L434.1 834.8 L435.3 841.7 L436.5 844.2 L437.7 849.9 L438.9 844.6 L440.1 853.9 L441.3 852.5 L442.5 854.4 L443.7 848.5 L444.9 843.5 L446.1 847 L447.3 841.9 L448.5 836.6 L449.7 838.5 L450.9 839.1 L452.1 832.4 L453.3 834.9 L454.5 832.9 L455.7 829.1 L456.9 828.7 L458.1 834.2 L459.3 834.9 L460.5 832 L461.7 833.5 L462.9 838.4 L464.1 828.7 L465.3 833.1 L466.5 830.8 L467.7 837.4 L468.9 829.3 L470.1 835.7 L471.3 835.7 L472.5 842.7 L473.7 840.8 L474.9 841.5 L476.1 838 L477.3 828 L478.5 821.9 L479.7 810.5 L480.9 809.2 L482.1 804.7 L483.3 793.9 L484.5 784.3 L485.7 774.7 L486.9 770.6 L488.1 775.8 L489.3 761.2 L490.5 749.7 L491.7 754.1 L492.9 755 L494.1 748.1 L495.3 751.1 L496.5 742.6 L497.7 747.1 L498.9 739.9 L500.1 746.9 L501.3 757.5 L502.5 754.2 L503.7 756.6 L504.9 767.7 L506.1 770.1 L507.3 778.2 L508.5 769.4 L509.7 779.7 L510.9 790.2 L512.1 797.9 L513.3 798.4 L514.5 800.2 L515.7 814.2 L516.9 820.2 L518.1 839.6 L519.3 847 L520.5 836.8 L521.7 837.2 L522.9 836.9 L524.1 826.8 L525.3 837.9 L526.5 832.6 L527.7 822.7 L528.9 819.3 L530.1 829.8 L531.3 822.2 L532.5 834.2 L533.7 830.5 L534.9 829.6 L536.1 831.7 L537.3 820.2 L538.5 815.5 L539.7 819.3 L540.9 818.1 L542.1 810.9 L543.3 821.4 L544.5 821.6 L545.7 817.1 L546.9 818.5 L548.1 806.7 L549.3 810 L550.5 813.7 L551.7 811.6 L552.9 797.7 L554.1 809.3 L555.3 808.2 L556.5 801.9 L557.7 798.7 L558.9 798.4 L560.1 801.4 L561.3 802.3 L562.5 795.1 L563.7 797.7 L564.9 803.5 L566.1 792.6 L567.3 794.4 L568.5 798.7 L569.7 798.9 L570.9 797 L572.1 801 L573.3 804 L574.5 796.9 L575.7 804.7 L576.9 796.9 L578.1 805 L579.3 799.2 L580.5 798.8 L581.7 790.1 L582.9 801.8 L584.1 802.7 L585.3 799 L586.5 800.4 L587.7 798.6 L588.9 795 L590.1 794 L591.3 791.2 L592.5 801.2 L593.7 791.5 L594.9 795.2 L596.1 804.4 L597.3 810.3 L598.5 807.2 L599.7 808.1 L600.9 814 L602.1 809.9 L603.3 811.9 L604.5 815 L605.7 811.6 L606.9 811.5 L608.1 817.7 L609.3 816.4 L610.5 820.7 L611.7 822.6 L612.9 822.3 L614.1 823.4 L615.3 830 L616.5 836.2 L617.7 831.2 L618.9 840.1 L620.1 834.9 L621.3 829.4 L622.5 837.1 L623.7 837.8 L624.9 833.1 L626.1 807.5 L627.3 783.7 L628.5 749.1 L629.7 710 L630.9 684.1 L632.1 679.3 L633.3 682.6 L634.5 689.4 L635.7 693.4 L636.9 683 L638.1 690 L639.3 691.9 L640.5 729.2 L641.7 768.8 L642.9 792.3 L644.1 819.8 L645.3 827.9 L646.5 837.3 L647.7 818.5 L648.9 824.4 L650.1 821.2 L651.3 814.7 L652.5 818.2 L653.7 828.7 L654.9 826.6 L656.1 842.8 L657.3 827.4 L658.5 825.3 L659.7 831.5 L660.9 811.4 L662.1 820.1 L663.3 808.8 L664.5 813.8 L665.7 806.2 L666.9 804.9 L668.1 816.9 L669.3 820.8 L670.5 817.8 L671.7 809.5 L672.9 808.1 L674.1 801.5 L675.3 790.8 L676.5 797.8 L677.7 789.6 L678.9 789.8 L680.1 775.4 L681.3 774.6 L682.5 770.2 L683.7 760.7 L684.9 764.5 L686.1 753.8 L687.3 755.1 L688.5 751.1 L689.7 752.9 L690.9 743 L692.1 748.4 L693.3 743.9 L694.5 743.6 L695.7 751.2 L696.9 741.7 L698.1 741.3 L699.3 739.1 L700.5 741.7 L701.7 739.6 L702.9 730.3 L704.1 719.3 L705.3 741.5 L706.5 733.2 L707.7 744.2 L708.9 751.8 L710.1 766.4 L711.3 767 L712.5 784.7 L713.7 783.7 L714.9 789.2 L716.1 792.5 L717.3 802.4 L718.5 809.2 L719.7 810.4 L720.9 807.5 L722.1 824 L723.3 819.7 L724.5 817.9 L725.7 820.4 L726.9 823.1 L728.1 828.7 L729.3 827.4 L730.5 820.1 L731.7 818.9 L732.9 824.3 L734.1 831.6 L735.3 826.9 L736.5 823.2 L737.7 814.1 L738.9 810.8 L740.1 811.3 L741.3 806.7 L742.5 812.7 L743.7 802.4 L744.9 800.1 L746.1 811.1 L747.3 802.8 L748.5 809.1 L749.7 798.5 L750.9 798.8 L752.1 804.2 L753.3 798.2 L754.5 805.1 L755.7 806.2 L756.9 805.8 L758.1 805.4 L759.3 808 L760.5 807.4 L761.7 812.9 L762.9 806.7 L764.1 804.3 L765.3 810.5 L766.5 814 L767.7 803 L768.9 800.5 L770.1 806.4 L771.3 811.4 L772.5 803.8 L773.7 797.7 L774.9 812.4 L776.1 802.8 L777.3 808.9 L778.5 815.1 L779.7 810 L780.9 816.7 L782.1 807.6 L783.3 802.2 L784.5 807.3 L785.7 812.2 L786.9 814.9 L788.1 813.4 L789.3 814.2 L790.5 798.1 L791.7 807.4 L792.9 811.4 L794.1 812.6 L795.3 811.3 L796.5 807.8 L797.7 813 L798.9 797.6 L800.1 810.7 L801.3 811.1 L802.5 805.5 L803.7 803.8 L804.9 810.9 L806.1 827.2 L807.3 829.7 L808.5 830.8 L809.7 829.3 L810.9 831.4 L812.1 838.6 L813.3 841 L814.5 833.5 L815.7 841.6 L816.9 827.1 L818.1 832.6 L819.3 836.7 L820.5 830.6 L821.7 831.6 L822.9 829.3 L824.1 822.9 L825.3 836.8 L826.5 838.1 L827.7 832.5 L828.9 840.7 L830.1 837.7 L831.3 831.7 L832.5 832.2 L833.7 826.4 L834.9 836.5 L836.1 830.8 L837.3 836.1 L838.5 837.9 L839.7 827.5 L840.9 827.8 L842.1 840.1 L843.3 840.6 L844.5 836.4 L845.7 836 L846.9 850.5 L848.1 848.6 L849.3 853.3 L850.5 825.7 L851.7 833.6 L852.9 827 L854.1 825.5 L855.3 821.2 L856.5 820.4 L857.7 823.1 L858.9 815.2 L860.1 819.1 L861.3 812.5 L862.5 824 L863.7 823.1 L864.9 810.1 L866.1 791 L867.3 781.3 L868.5 780.9 L869.7 773.7 L870.9 770.8 L872.1 753.3 L873.3 757.8 L874.5 754.2 L875.7 759.1 L876.9 763.8 L878.1 751.5 L879.3 741.4 L880.5 742.7 L881.7 740.9 L882.9 726 L884.1 733.2 L885.3 719.1 L886.5 726.7 L887.7 724.2 L888.9 707.6 L890.1 707.8 L890.1 806 L888.9 795.4 L887.7 813 L886.5 804.4 L885.3 815.5 L884.1 819.1 L882.9 812.2 L881.7 829.9 L880.5 811.8 L879.3 823.6 L878.1 829.2 L876.9 809.8 L875.7 823.7 L874.5 834.7 L873.3 826.9 L872.1 828.6 L870.9 845.8 L869.7 869.4 L868.5 861.1 L867.3 879.1 L866.1 861.4 L864.9 874 L863.7 863.2 L862.5 865.7 L861.3 862.7 L860.1 881.2 L858.9 868.9 L857.7 884.2 L856.5 880.8 L855.3 891.4 L854.1 895 L852.9 899.4 L851.7 895.8 L850.5 898.5 L849.3 900.7 L848.1 903.4 L846.9 891.1 L845.7 895 L844.5 889.2 L843.3 889 L842.1 887.3 L840.9 900.4 L839.7 889 L838.5 882.3 L837.3 880.2 L836.1 885.7 L834.9 889.3 L833.7 891.8 L832.5 892.3 L831.3 902.5 L830.1 905.9 L828.9 907.9 L827.7 893.8 L826.5 905.1 L825.3 893.5 L824.1 896 L822.9 881.6 L821.7 878.9 L820.5 891.3 L819.3 890.9 L818.1 886.9 L816.9 877.2 L815.7 885.3 L814.5 880.5 L813.3 895.2 L812.1 883.9 L810.9 883.5 L809.7 882.2 L808.5 877.7 L807.3 874.7 L806.1 880.2 L804.9 872.8 L803.7 874.5 L802.5 875.3 L801.3 862.6 L800.1 867.5 L798.9 859.8 L797.7 850.6 L796.5 854.6 L795.3 854.2 L794.1 844.3 L792.9 850.1 L791.7 852 L790.5 851.6 L789.3 852.8 L788.1 855.4 L786.9 848.9 L785.7 858 L784.5 852.6 L783.3 855.4 L782.1 857.2 L780.9 862.3 L779.7 851.4 L778.5 857.6 L777.3 851.4 L776.1 866.1 L774.9 862.6 L773.7 858.6 L772.5 846.5 L771.3 846 L770.1 856.8 L768.9 856.4 L767.7 855.3 L766.5 855.1 L765.3 854 L764.1 858.4 L762.9 858.5 L761.7 852.9 L760.5 846.6 L759.3 852.2 L758.1 851.8 L756.9 847.4 L755.7 843.9 L754.5 840.9 L753.3 838 L752.1 839.7 L750.9 841.1 L749.7 839.1 L748.5 850.2 L747.3 840.1 L746.1 848.2 L744.9 854.4 L743.7 852 L742.5 853 L741.3 860.2 L740.1 874.9 L738.9 871.9 L737.7 882.6 L736.5 869.2 L735.3 881.9 L734.1 878.7 L732.9 874.2 L731.7 867.9 L730.5 874.8 L729.3 870.2 L728.1 862.7 L726.9 861.4 L725.7 857 L724.5 859.3 L723.3 861 L722.1 854.3 L720.9 862.6 L719.7 860.6 L718.5 851.5 L717.3 857.4 L716.1 847.2 L714.9 847 L713.7 839 L712.5 832.8 L711.3 833.3 L710.1 822.7 L708.9 817.8 L707.7 826.7 L706.5 821.8 L705.3 814.7 L704.1 810.5 L702.9 796.2 L701.7 807.9 L700.5 794.1 L699.3 804.1 L698.1 804.9 L696.9 815.5 L695.7 797.9 L694.5 800.3 L693.3 808.6 L692.1 810.4 L690.9 806.8 L689.7 806.3 L688.5 806.8 L687.3 808.8 L686.1 822.1 L684.9 824.3 L683.7 826.1 L682.5 834.3 L681.3 827.3 L680.1 833 L678.9 848.4 L677.7 858.4 L676.5 850.7 L675.3 873.9 L674.1 877.4 L672.9 872.1 L671.7 867.4 L670.5 874.8 L669.3 873.5 L668.1 866.3 L666.9 860.7 L665.7 869.5 L664.5 866.5 L663.3 871.5 L662.1 888.9 L660.9 888.9 L659.7 889.5 L658.5 898.6 L657.3 886.5 L656.1 897.9 L654.9 888.5 L653.7 889 L652.5 887.3 L651.3 891.6 L650.1 885.6 L648.9 883.6 L647.7 901.8 L646.5 898.6 L645.3 887.6 L644.1 888.8 L642.9 880.4 L641.7 894.4 L640.5 888.5 L639.3 880.1 L638.1 879.4 L636.9 843.8 L635.7 797.9 L634.5 806.1 L633.3 837.5 L632.1 870.7 L630.9 889.1 L629.7 891.2 L628.5 882.1 L627.3 875.9 L626.1 879.3 L624.9 874.2 L623.7 867.9 L622.5 872.3 L621.3 869.4 L620.1 869.6 L618.9 872.5 L617.7 871.1 L616.5 863.3 L615.3 868.8 L614.1 865.7 L612.9 867.6 L611.7 864.6 L610.5 860.2 L609.3 855.8 L608.1 853.1 L606.9 846.5 L605.7 849.1 L604.5 847 L603.3 848.5 L602.1 840.4 L600.9 840.6 L599.7 842.1 L598.5 835.9 L597.3 835.2 L596.1 842.3 L594.9 835.1 L593.7 829.6 L592.5 833.5 L591.3 834.6 L590.1 834.6 L588.9 835.1 L587.7 835.4 L586.5 836.6 L585.3 837.6 L584.1 839.8 L582.9 835.6 L581.7 833.2 L580.5 832.1 L579.3 832.2 L578.1 840.6 L576.9 843.2 L575.7 832.2 L574.5 834.5 L573.3 835.4 L572.1 835.2 L570.9 834.8 L569.7 835.4 L568.5 833.5 L567.3 828.9 L566.1 830 L564.9 829.3 L563.7 831.6 L562.5 840.1 L561.3 844.2 L560.1 841.6 L558.9 839.8 L557.7 842.3 L556.5 841.7 L555.3 839.3 L554.1 845.4 L552.9 845.3 L551.7 851.5 L550.5 848.5 L549.3 854.7 L548.1 857.6 L546.9 853.5 L545.7 847.1 L544.5 853.2 L543.3 857.8 L542.1 860.7 L540.9 864.8 L539.7 864.8 L538.5 866.1 L537.3 868.7 L536.1 869.6 L534.9 882.4 L533.7 866.3 L532.5 867.8 L531.3 880.7 L530.1 875.4 L528.9 881 L527.7 889.2 L526.5 886.2 L525.3 891.8 L524.1 898.6 L522.9 907.6 L521.7 895.8 L520.5 901.2 L519.3 898 L518.1 915.3 L516.9 904.5 L515.7 896.6 L514.5 892.3 L513.3 889.3 L512.1 868.4 L510.9 856.3 L509.7 851.8 L508.5 848.1 L507.3 829.9 L506.1 821.9 L504.9 812.4 L503.7 811.6 L502.5 808.4 L501.3 806.4 L500.1 807.6 L498.9 810.1 L497.7 795.7 L496.5 795.9 L495.3 794.6 L494.1 813.6 L492.9 812.7 L491.7 818 L490.5 818.1 L489.3 828.8 L488.1 841.4 L486.9 841.7 L485.7 842.6 L484.5 851.4 L483.3 850.2 L482.1 863.3 L480.9 872.3 L479.7 870.9 L478.5 880 L477.3 876.1 L476.1 874.1 L474.9 882.9 L473.7 877.9 L472.5 869.7 L471.3 881.1 L470.1 876.9 L468.9 869.1 L467.7 863.9 L466.5 866.1 L465.3 860.8 L464.1 864.6 L462.9 868.6 L461.7 863.3 L460.5 860 L459.3 868.8 L458.1 865.6 L456.9 865.1 L455.7 868 L454.5 870.2 L453.3 872.2 L452.1 871.5 L450.9 871.4 L449.7 875.7 L448.5 882 L447.3 887.3 L446.1 884.3 L444.9 885.8 L443.7 883 L442.5 893.5 L441.3 885.7 L440.1 889.9 L438.9 890.2 L437.7 894.3 L436.5 893.1 L435.3 891.8 L434.1 884.2 L432.9 887.3 L431.7 884 L430.5 874.8 L429.3 870.5 L428.1 864.9 L426.9 860.9 L425.7 853.3 L424.5 845 L423.3 841.2 L422.1 840.3 L420.9 838.6 L419.7 837 L418.5 824.6 L417.3 825.9 L416.1 826 L414.9 829.4 L413.7 824.4 L412.5 827.2 L411.3 830.9 L410.1 826.6 L408.9 830.2 L407.7 832.6 L406.5 838.6 L405.3 845.1 L404.1 846.8 L402.9 854.8 L401.7 856.6 L400.5 859.9 L399.3 870.4 L398.1 869.5 L396.9 876.5 L395.7 879.2 L394.5 887.9 L393.3 879.9 L392.1 885.5 L390.9 890 L389.7 886.9 L388.5 885.6 L387.3 887.3 L386.1 890.1 L384.9 876.8 L383.7 881.8 L382.5 879 L381.3 876.2 L380.1 877.1 L378.9 869.7 L377.7 873.6 L376.5 880 L375.3 890.7 L374.1 889.5 L372.9 885.2 L371.7 891.7 L370.5 893.8 L369.3 898 L368.1 891.9 L366.9 856.4 L365.7 828.2 L364.5 829.9 L363.3 831.8 L362.1 842.5 L360.9 826.1 L359.7 825.4 L358.5 829.9 L357.3 834.8 L356.1 847.8 L354.9 833.2 L353.7 839 L352.5 851.8 L351.3 844.4 L350.1 840.3 L348.9 836 L347.7 838.5 L346.5 845.8 L345.3 835.2 L344.1 840.7 L342.9 838.1 L341.7 840.4 L340.5 835.6 L339.3 837.3 L338.1 845.7 L336.9 848.7 L335.7 843.8 L334.5 851.1 L333.3 843.6 L332.1 845.6 L330.9 847.3 L329.7 853 L328.5 858.5 L327.3 852 L326.1 849 L324.9 857.3 L323.7 852.6 L322.5 843.4 L321.3 845 L320.1 840.7 L318.9 852.8 L317.7 845.9 L316.5 842 L315.3 846.1 L314.1 852.6 L312.9 852.2 L311.7 859.4 L310.5 856.1 L309.3 847.7 L308.1 849 L306.9 857.5 L305.7 852.7 L304.5 858.4 L303.3 849.6 L302.1 851.2 L300.9 857.1 L299.7 849.3 L298.5 865.3 L297.3 862.5 L296.1 859 L294.9 857.8 L293.7 861.9 L292.5 848.6 L291.3 852.8 L290.1 847 L288.9 850.7 L287.7 845.5 L286.5 854.9 L285.3 849.4 L284.1 849.7 L282.9 850.7 L281.7 860.5 L280.5 859.1 L279.3 856.8 L278.1 850.7 L276.9 855.9 L275.7 861.7 L274.5 866 L273.3 857.4 L272.1 860.9 L270.9 870.8 L269.7 872.6 L268.5 870.7 L267.3 879 L266.1 871.5 L264.9 880.4 L263.7 882.9 L262.5 885.6 L261.3 885.4 L260.1 877.8 L258.9 875.4 L257.7 880.4 L256.5 885.1 L255.3 884 L254.1 871.1 L252.9 874.8 L251.7 876 L250.5 881.3 L249.3 861.8 L248.1 858.2 L246.9 852 L245.7 870 L244.5 849.8 L243.3 854.3 L242.1 846.5 L240.9 853.8 L239.7 842.4 L238.5 835.1 L237.3 845.7 L236.1 838.5 L234.9 841.2 L233.7 849.7 L232.5 849.2 L231.3 853.2 L230.1 855.3 L228.9 849.2 L227.7 847.1 L226.5 846.9 L225.3 860 L224.1 856.3 L222.9 861.7 L221.7 853.6 L220.5 845.8 L219.3 851.3 L218.1 843.5 L216.9 847.1 L215.7 841.6 L214.5 869.9 L213.3 894.5 L212.1 900.2 L210.9 913.5 L209.7 894.2 L208.5 907.4 L207.3 898.8 L206.1 908.3 L204.9 904.1 L203.7 871.2 L202.5 885 L201.3 883.5 L200.1 877.6 L198.9 866 L197.7 852.8 L196.5 830.9 L195.3 826.7 L194.1 841.1 L192.9 839.7 L191.7 855.5 L190.5 849.6 L189.3 857.9 L188.1 854.4 L186.9 864 L185.7 854.2 L184.5 866.4 L183.3 873.5 L182.1 871.2 L180.9 903.8 L179.7 901 L178.5 902.3 L177.3 906.1 L176.1 915.7 L174.9 914.1 L173.7 930.9Z" fill="#dedede"/>
<path d="M173.7 865.8 L174.9 863.6 L176.1 845.3 L177.3 832.1 L178.5 826.2 L179.7 814.4 L180.9 816.2 L182.1 812.8 L183.3 812 L184.5 812.1 L185.7 811.9 L186.9 813.9 L188.1 805.1 L189.3 796.2 L190.5 793.2 L191.7 775.7 L192.9 764.7 L194.1 760.5 L195.3 760.7 L196.5 766.5 L197.7 763.3 L198.9 768.6 L200.1 766.3 L201.3 789.8 L202.5 803.5 L203.7 810.4 L204.9 815.1 L206.1 819.3 L207.3 810.9 L208.5 832.1 L209.7 811.6 L210.9 794.2 L212.1 792.3 L213.3 793 L214.5 792.7 L215.7 798.3 L216.9 792.4 L218.1 798.5 L219.3 796.2 L220.5 789 L221.7 795.7 L222.9 809.2 L224.1 800.7 L225.3 802.1 L226.5 801 L227.7 803.2 L228.9 799.2 L230.1 798 L231.3 796.4 L232.5 786.2 L233.7 793.3 L234.9 793.3 L236.1 792.7 L237.3 783.6 L238.5 787.5 L239.7 792.5 L240.9 791.2 L242.1 789.8 L243.3 790.8 L244.5 802.5 L245.7 795.6 L246.9 802.4 L248.1 808.2 L249.3 811 L250.5 810.4 L251.7 810.7 L252.9 820.9 L254.1 822.5 L255.3 830.6 L256.5 828.3 L257.7 829.8 L258.9 841.4 L260.1 840.4 L261.3 836.5 L262.5 844.5 L263.7 838.6 L264.9 831.9 L266.1 836 L267.3 828.9 L268.5 826.3 L269.7 822.8 L270.9 829.2 L272.1 820.9 L273.3 822.8 L274.5 819.6 L275.7 818.9 L276.9 820.5 L278.1 819 L279.3 823.8 L280.5 822.2 L281.7 820 L282.9 818.1 L284.1 814.3 L285.3 821.5 L286.5 818.1 L287.7 821 L288.9 821.8 L290.1 813.3 L291.3 817.6 L292.5 813.3 L293.7 814.9 L294.9 821.2 L296.1 823.1 L297.3 810.6 L298.5 814 L299.7 814.6 L300.9 809.4 L302.1 811.1 L303.3 813.5 L304.5 812.7 L305.7 813.9 L306.9 816.8 L308.1 817.3 L309.3 819.9 L310.5 819.5 L311.7 816.5 L312.9 816.9 L314.1 814.4 L315.3 817.6 L316.5 817.3 L317.7 820.1 L318.9 813.5 L320.1 820.9 L321.3 817.3 L322.5 820.4 L323.7 817.8 L324.9 817.2 L326.1 823 L327.3 822.5 L328.5 826.2 L329.7 818 L330.9 820.8 L332.1 820.9 L333.3 816.5 L334.5 809.2 L335.7 806.2 L336.9 805.9 L338.1 810.2 L339.3 807.8 L340.5 802.5 L341.7 808.4 L342.9 807.3 L344.1 808.8 L345.3 809.2 L346.5 802.9 L347.7 806.1 L348.9 806.3 L350.1 804.3 L351.3 799.2 L352.5 794 L353.7 794.8 L354.9 794.4 L356.1 795.7 L357.3 787.9 L358.5 791.9 L359.7 793.3 L360.9 783.4 L362.1 776.7 L363.3 772.3 L364.5 770.4 L365.7 777.2 L366.9 778.1 L368.1 777.2 L369.3 784.9 L370.5 785 L371.7 798.5 L372.9 842 L374.1 845.3 L375.3 842.6 L376.5 832.9 L377.7 840.3 L378.9 834.9 L380.1 835.4 L381.3 838.4 L382.5 841.1 L383.7 839 L384.9 844 L386.1 843.6 L387.3 845 L388.5 849.9 L389.7 850.8 L390.9 849.9 L392.1 851.5 L393.3 845.1 L394.5 840.8 L395.7 837.6 L396.9 828.6 L398.1 822.4 L399.3 817.2 L400.5 813.5 L401.7 803.8 L402.9 801.2 L404.1 798.4 L405.3 796.4 L406.5 799.7 L407.7 794.9 L408.9 796.9 L410.1 787.2 L411.3 793.9 L412.5 790.3 L413.7 796.5 L414.9 795.5 L416.1 793.7 L417.3 790.2 L418.5 791.2 L419.7 792.4 L420.9 797.8 L422.1 793.1 L423.3 802.4 L424.5 799 L425.7 801 L426.9 806.6 L428.1 809.4 L429.3 821.2 L430.5 816.8 L431.7 828.7 L432.9 832.3 L434.1 843.1 L435.3 846.8 L436.5 855.6 L437.7 857 L438.9 857.7 L440.1 858.1 L441.3 853.7 L442.5 854.5 L443.7 853.5 L444.9 851.7 L446.1 844.5 L447.3 848.6 L448.5 841.9 L449.7 846.9 L450.9 844.5 L452.1 840.4 L453.3 840.8 L454.5 833.7 L455.7 832.8 L456.9 841.4 L458.1 840.4 L459.3 838.3 L460.5 834.1 L461.7 835.4 L462.9 837.2 L464.1 840.9 L465.3 839.6 L466.5 841.1 L467.7 841.2 L468.9 837.3 L470.1 836.6 L471.3 842.7 L472.5 842.3 L473.7 841.4 L474.9 845.3 L476.1 843.2 L477.3 833.5 L478.5 826.2 L479.7 819.8 L480.9 814.3 L482.1 807.4 L483.3 799.4 L484.5 794.6 L485.7 782.7 L486.9 778.1 L488.1 771.9 L489.3 763.5 L490.5 758.9 L491.7 756.9 L492.9 758.5 L494.1 758.6 L495.3 747.6 L496.5 758.2 L497.7 758.2 L498.9 759.9 L500.1 756.8 L501.3 759.5 L502.5 761 L503.7 768.2 L504.9 775.3 L506.1 773.5 L507.3 774.6 L508.5 780.5 L509.7 784.1 L510.9 787.6 L512.1 792.3 L513.3 805 L514.5 817.6 L515.7 823.8 L516.9 832.1 L518.1 847.1 L519.3 844 L520.5 854.6 L521.7 847 L522.9 844.3 L524.1 843.9 L525.3 834.4 L526.5 839.9 L527.7 838.1 L528.9 835.3 L530.1 834.1 L531.3 837.3 L532.5 840.7 L533.7 836.3 L534.9 833.2 L536.1 825.5 L537.3 827.9 L538.5 824.9 L539.7 826.1 L540.9 827.6 L542.1 822.6 L543.3 819.6 L544.5 823.6 L545.7 821.8 L546.9 822.2 L548.1 814.6 L549.3 818.5 L550.5 814.3 L551.7 816.8 L552.9 813.3 L554.1 813.9 L555.3 814.4 L556.5 808.5 L557.7 805.4 L558.9 808.5 L560.1 803.6 L561.3 804.2 L562.5 805.7 L563.7 803.6 L564.9 806.7 L566.1 802.4 L567.3 800.2 L568.5 806.6 L569.7 803.7 L570.9 800 L572.1 803.5 L573.3 805.4 L574.5 806.6 L575.7 803.8 L576.9 804.8 L578.1 802.9 L579.3 808.9 L580.5 801.3 L581.7 804.7 L582.9 801.4 L584.1 804.3 L585.3 805.2 L586.5 802.7 L587.7 803.9 L588.9 802.7 L590.1 800.5 L591.3 799.8 L592.5 803 L593.7 806.2 L594.9 807.6 L596.1 807 L597.3 807.5 L598.5 811.9 L599.7 812.8 L600.9 815 L602.1 814.1 L603.3 813.7 L604.5 819.9 L605.7 817.6 L606.9 820.5 L608.1 823.7 L609.3 821.2 L610.5 823.3 L611.7 823.8 L612.9 830.4 L614.1 825.4 L615.3 832.6 L616.5 836.4 L617.7 834.9 L618.9 838.1 L620.1 838.6 L621.3 838.7 L622.5 845.9 L623.7 834.4 L624.9 833.5 L626.1 819.6 L627.3 788.7 L628.5 767.2 L629.7 728.9 L630.9 692.7 L632.1 691.8 L633.3 683.9 L634.5 699.6 L635.7 700.2 L636.9 703.1 L638.1 698.2 L639.3 693.5 L640.5 735.8 L641.7 778.9 L642.9 806.1 L644.1 819 L645.3 832 L646.5 841 L647.7 829.6 L648.9 833.7 L650.1 830.1 L651.3 839.7 L652.5 839.9 L653.7 834.7 L654.9 846 L656.1 840.9 L657.3 837.1 L658.5 833.8 L659.7 829.4 L660.9 826.4 L662.1 822.3 L663.3 822 L664.5 819.2 L665.7 810.7 L666.9 815.7 L668.1 817.8 L669.3 818.7 L670.5 826.7 L671.7 820.5 L672.9 814.2 L674.1 802.4 L675.3 803.8 L676.5 802.1 L677.7 795.3 L678.9 787.3 L680.1 776.2 L681.3 774.5 L682.5 774.9 L683.7 767.1 L684.9 767.2 L686.1 762.1 L687.3 762.1 L688.5 762 L689.7 755 L690.9 755.6 L692.1 756.5 L693.3 754.2 L694.5 747.2 L695.7 754.2 L696.9 755.8 L698.1 749.2 L699.3 756.9 L700.5 745.2 L701.7 749.7 L702.9 749.5 L704.1 745 L705.3 737.8 L706.5 749.7 L707.7 746.9 L708.9 763.9 L710.1 782.1 L711.3 777.3 L712.5 786.6 L713.7 791.7 L714.9 793 L716.1 800.1 L717.3 803.6 L718.5 814.4 L719.7 815.4 L720.9 821.6 L722.1 825.3 L723.3 826.8 L724.5 824.9 L725.7 831 L726.9 832.1 L728.1 831.3 L729.3 827.5 L730.5 829.3 L731.7 830.3 L732.9 831.8 L734.1 838.5 L735.3 834.8 L736.5 833 L737.7 820.8 L738.9 818 L740.1 815.2 L741.3 813 L742.5 812.6 L743.7 812.3 L744.9 811.4 L746.1 813.7 L747.3 815.4 L748.5 809.8 L749.7 806 L750.9 806.8 L752.1 810.3 L753.3 807.8 L754.5 811 L755.7 808.5 L756.9 811.5 L758.1 810.9 L759.3 807.1 L760.5 812.5 L761.7 812 L762.9 819.4 L764.1 817.9 L765.3 814.8 L766.5 812 L767.7 813.8 L768.9 809.6 L770.1 813.9 L771.3 807.6 L772.5 808.8 L773.7 815.1 L774.9 810 L776.1 812.4 L777.3 810.9 L778.5 819.2 L779.7 818.1 L780.9 815.4 L782.1 820.2 L783.3 819.9 L784.5 814.6 L785.7 815 L786.9 811.1 L788.1 813.1 L789.3 817.4 L790.5 812.1 L791.7 815.4 L792.9 813.7 L794.1 814.5 L795.3 811.7 L796.5 817.7 L797.7 817 L798.9 818.5 L800.1 806.9 L801.3 817.5 L802.5 817.3 L803.7 822.7 L804.9 827.6 L806.1 833.4 L807.3 836.4 L808.5 838.5 L809.7 838.6 L810.9 842.3 L812.1 841.2 L813.3 837.3 L814.5 842.2 L815.7 841.6 L816.9 847.8 L818.1 838.7 L819.3 837.7 L820.5 832 L821.7 841.8 L822.9 836.3 L824.1 836.8 L825.3 836 L826.5 839.6 L827.7 841.8 L828.9 845.2 L830.1 846.7 L831.3 843.6 L832.5 840.1 L833.7 840.8 L834.9 839.2 L836.1 842 L837.3 844.8 L838.5 834.3 L839.7 844.8 L840.9 839.8 L842.1 844.2 L843.3 843.2 L844.5 849.9 L845.7 850.7 L846.9 857.9 L848.1 860.5 L849.3 851.9 L850.5 843.9 L851.7 843.3 L852.9 840 L854.1 841.1 L855.3 834.9 L856.5 830.2 L857.7 831.4 L858.9 824.1 L860.1 827.5 L861.3 826.3 L862.5 829.3 L863.7 829.4 L864.9 820.6 L866.1 804.1 L867.3 788.4 L868.5 787.8 L869.7 782.8 L870.9 775.8 L872.1 777.3 L873.3 767.6 L874.5 769.5 L875.7 769.9 L876.9 772.3 L878.1 765.8 L879.3 764.6 L880.5 748.6 L881.7 749.6 L882.9 752.7 L884.1 737.9 L885.3 740.2 L886.5 735.6 L887.7 729.6 L888.9 727.7 L890.1 724 L890.1 797.7 L888.9 801.3 L887.7 796.2 L886.5 795.8 L885.3 805.4 L884.1 806.5 L882.9 813.8 L881.7 817.9 L880.5 814.1 L879.3 808.9 L878.1 807 L876.9 810.3 L875.7 811.9 L874.5 814.4 L873.3 815.5 L872.1 822.3 L870.9 843.7 L869.7 851.8 L868.5 863.8 L867.3 860.7 L866.1 862.1 L864.9 859.9 L863.7 860.4 L862.5 857.5 L861.3 868.5 L860.1 863.1 L858.9 875 L857.7 873.5 L856.5 877.9 L855.3 881.3 L854.1 884.2 L852.9 894.1 L851.7 892.7 L850.5 886.6 L849.3 894.7 L848.1 890.9 L846.9 896.4 L845.7 895.1 L844.5 892.8 L843.3 889.3 L842.1 882.6 L840.9 880 L839.7 880.6 L838.5 881.4 L837.3 867.5 L836.1 875.7 L834.9 881.8 L833.7 884.6 L832.5 887.8 L831.3 894 L830.1 890.6 L828.9 897.5 L827.7 894.5 L826.5 892.3 L825.3 889.4 L824.1 876.7 L822.9 873.4 L821.7 874.3 L820.5 875.8 L819.3 872.3 L818.1 881.6 L816.9 878.9 L815.7 874.8 L814.5 875.1 L813.3 873.5 L812.1 879 L810.9 873.3 L809.7 868.3 L808.5 869.9 L807.3 875.3 L806.1 878.3 L804.9 868.1 L803.7 869 L802.5 873.5 L801.3 865.8 L800.1 853.3 L798.9 849.5 L797.7 843.9 L796.5 847.2 L795.3 844.7 L794.1 841.3 L792.9 840.2 L791.7 839.7 L790.5 838.1 L789.3 843.5 L788.1 846.2 L786.9 840.1 L785.7 842.1 L784.5 852.3 L783.3 849.3 L782.1 849.3 L780.9 852.3 L779.7 851.2 L778.5 855.5 L777.3 856.2 L776.1 850.8 L774.9 853.1 L773.7 849.7 L772.5 843.2 L771.3 836.4 L770.1 839.5 L768.9 841.9 L767.7 841.9 L766.5 849.2 L765.3 850 L764.1 846.1 L762.9 843.6 L761.7 845.1 L760.5 848.4 L759.3 844.6 L758.1 852.1 L756.9 843.8 L755.7 838.6 L754.5 842.6 L753.3 841.6 L752.1 840.2 L750.9 834.7 L749.7 841.3 L748.5 845.4 L747.3 840.1 L746.1 838.5 L744.9 838.6 L743.7 845.3 L742.5 849 L741.3 858.1 L740.1 857.4 L738.9 861.6 L737.7 871.2 L736.5 867.7 L735.3 865.8 L734.1 868.2 L732.9 866.2 L731.7 864.7 L730.5 865.4 L729.3 861.1 L728.1 859.5 L726.9 857 L725.7 855.6 L724.5 857.4 L723.3 858.9 L722.1 853.9 L720.9 854.6 L719.7 847.1 L718.5 851.7 L717.3 849.4 L716.1 846 L714.9 846.2 L713.7 841 L712.5 837.4 L711.3 821 L710.1 825 L708.9 822.5 L707.7 818.7 L706.5 819 L705.3 821 L704.1 806.6 L702.9 787.1 L701.7 794.6 L700.5 799.5 L699.3 797.2 L698.1 791.6 L696.9 793.5 L695.7 789.7 L694.5 790.9 L693.3 790.1 L692.1 797.9 L690.9 793.9 L689.7 799.6 L688.5 796.8 L687.3 797.9 L686.1 808.5 L684.9 810.7 L683.7 822.4 L682.5 821.7 L681.3 831.3 L680.1 837.4 L678.9 843.4 L677.7 843 L676.5 854.6 L675.3 864.6 L674.1 870.4 L672.9 868 L671.7 868.8 L670.5 866.7 L669.3 861.9 L668.1 857.8 L666.9 858.9 L665.7 855.1 L664.5 858.2 L663.3 867.3 L662.1 870.9 L660.9 870.9 L659.7 876 L658.5 883.3 L657.3 886.3 L656.1 890.2 L654.9 884.3 L653.7 881.3 L652.5 883 L651.3 886.7 L650.1 874.2 L648.9 875.6 L647.7 880 L646.5 877.9 L645.3 876.2 L644.1 878.4 L642.9 882.7 L641.7 876.4 L640.5 866.8 L639.3 854.4 L638.1 848.6 L636.9 831 L635.7 785.9 L634.5 805 L633.3 818.5 L632.1 841 L630.9 867.6 L629.7 867.7 L628.5 864 L627.3 872.2 L626.1 875.5 L624.9 867.8 L623.7 869.6 L622.5 866.2 L621.3 868.8 L620.1 862.4 L618.9 865.2 L617.7 865.7 L616.5 862.7 L615.3 862.7 L614.1 859.2 L612.9 861 L611.7 853.3 L610.5 850.9 L609.3 851.4 L608.1 845.9 L606.9 844.6 L605.7 845.2 L604.5 837.6 L603.3 838.1 L602.1 840.5 L600.9 835.5 L599.7 832.7 L598.5 833.2 L597.3 837.6 L596.1 831.1 L594.9 832.1 L593.7 828.7 L592.5 830.2 L591.3 829.8 L590.1 828.7 L588.9 828.4 L587.7 822.3 L586.5 828.2 L585.3 830.5 L584.1 829.3 L582.9 830.3 L581.7 826 L580.5 829.4 L579.3 830.9 L578.1 829.3 L576.9 831.9 L575.7 825.5 L574.5 829.9 L573.3 828.8 L572.1 825.4 L570.9 832.1 L569.7 825.8 L568.5 827.2 L567.3 827.7 L566.1 827.2 L564.9 829.3 L563.7 829.9 L562.5 831.4 L561.3 831.4 L560.1 834.5 L558.9 835.3 L557.7 834.4 L556.5 833.8 L555.3 837 L554.1 841.1 L552.9 841.3 L551.7 848.8 L550.5 842.5 L549.3 846 L548.1 849 L546.9 848.8 L545.7 849.4 L544.5 850.3 L543.3 850.4 L542.1 851.3 L540.9 858.9 L539.7 860 L538.5 863.6 L537.3 868 L536.1 862.3 L534.9 868.7 L533.7 866.7 L532.5 868.4 L531.3 866.1 L530.1 867 L528.9 873 L527.7 878.5 L526.5 881.8 L525.3 889 L524.1 888.2 L522.9 897 L521.7 905.8 L520.5 895.5 L519.3 891 L518.1 890.7 L516.9 886.4 L515.7 888.6 L514.5 883.2 L513.3 875.8 L512.1 859.7 L510.9 858.6 L509.7 845.6 L508.5 839.9 L507.3 826.7 L506.1 816.1 L504.9 809.7 L503.7 809.5 L502.5 807.4 L501.3 804.6 L500.1 803.4 L498.9 800 L497.7 805.3 L496.5 798 L495.3 794 L494.1 796.1 L492.9 802 L491.7 803.6 L490.5 810.5 L489.3 817.9 L488.1 825.4 L486.9 831.3 L485.7 836.8 L484.5 840.1 L483.3 853.7 L482.1 857.6 L480.9 870.4 L479.7 865.9 L478.5 869 L477.3 870.9 L476.1 868.5 L474.9 871 L473.7 867.1 L472.5 872.3 L471.3 868.4 L470.1 866 L468.9 862 L467.7 858.7 L466.5 861.1 L465.3 856.9 L464.1 861.3 L462.9 854.9 L461.7 858.7 L460.5 860.7 L459.3 858.2 L458.1 861.5 L456.9 863.1 L455.7 864.3 L454.5 864.8 L453.3 863.6 L452.1 865.6 L450.9 875.3 L449.7 870.5 L448.5 873.9 L447.3 876.6 L446.1 880.5 L444.9 878.1 L443.7 884.2 L442.5 884.1 L441.3 889.7 L440.1 886.6 L438.9 882.3 L437.7 884 L436.5 880 L435.3 878.9 L434.1 880.7 L432.9 876.4 L431.7 872.8 L430.5 870.3 L429.3 869.8 L428.1 863.1 L426.9 856.6 L425.7 847.4 L424.5 844.1 L423.3 834.8 L422.1 835.4 L420.9 831.2 L419.7 828.2 L418.5 824.6 L417.3 822.8 L416.1 825 L414.9 823.2 L413.7 819.5 L412.5 821.2 L411.3 818.8 L410.1 819 L408.9 824.6 L407.7 824.1 L406.5 833.9 L405.3 837.2 L404.1 840.1 L402.9 848.6 L401.7 853.7 L400.5 858.1 L399.3 860.2 L398.1 867.4 L396.9 870.6 L395.7 871.7 L394.5 873.9 L393.3 873.3 L392.1 878.6 L390.9 879.6 L389.7 886.3 L388.5 882.4 L387.3 882.1 L386.1 875.6 L384.9 881.9 L383.7 877.5 L382.5 873.4 L381.3 868 L380.1 867.1 L378.9 869 L377.7 876 L376.5 877 L375.3 875.9 L374.1 882 L372.9 881.9 L371.7 880.8 L370.5 882 L369.3 885.9 L368.1 883.2 L366.9 836.3 L365.7 823.9 L364.5 822.3 L363.3 824.1 L362.1 822.9 L360.9 823.1 L359.7 828.2 L358.5 823 L357.3 829.8 L356.1 832.5 L354.9 831.7 L353.7 831.5 L352.5 836.4 L351.3 833.2 L350.1 834.8 L348.9 843.5 L347.7 832.9 L346.5 832.8 L345.3 837.1 L344.1 835.6 L342.9 829.4 L341.7 828.6 L340.5 831.6 L339.3 832.5 L338.1 838.5 L336.9 838 L335.7 839.9 L334.5 844.7 L333.3 842.7 L332.1 848.2 L330.9 845.3 L329.7 847.2 L328.5 847.7 L327.3 844.9 L326.1 850.8 L324.9 850.5 L323.7 845.2 L322.5 843.4 L321.3 842.9 L320.1 842.1 L318.9 841.3 L317.7 847.6 L316.5 841.7 L315.3 841.3 L314.1 843.2 L312.9 839.7 L311.7 842.3 L310.5 840.9 L309.3 844.4 L308.1 844.7 L306.9 841.6 L305.7 843.4 L304.5 847.2 L303.3 844 L302.1 843.3 L300.9 843.9 L299.7 851.2 L298.5 850.9 L297.3 857.5 L296.1 849.4 L294.9 854.5 L293.7 850.2 L292.5 848.4 L291.3 845.5 L290.1 845.5 L288.9 843.7 L287.7 846.9 L286.5 845.7 L285.3 840.6 L284.1 845.5 L282.9 849.4 L281.7 852.4 L280.5 850.6 L279.3 849.8 L278.1 846.9 L276.9 850 L275.7 860.2 L274.5 861.6 L273.3 851.1 L272.1 858.9 L270.9 859.9 L269.7 863 L268.5 863.9 L267.3 870.1 L266.1 878.1 L264.9 880.1 L263.7 872.4 L262.5 880.9 L261.3 878.5 L260.1 873.1 L258.9 875.4 L257.7 881.4 L256.5 879.1 L255.3 875.1 L254.1 868 L252.9 871.9 L251.7 869 L250.5 861.7 L249.3 856.6 L248.1 852.7 L246.9 847.2 L245.7 843.1 L244.5 841.7 L243.3 845.7 L242.1 840.8 L240.9 832.8 L239.7 829.4 L238.5 840 L237.3 825.3 L236.1 832.3 L234.9 832.9 L233.7 839.7 L232.5 841.3 L231.3 844.8 L230.1 839.7 L228.9 843.1 L227.7 843.6 L226.5 843.7 L225.3 845.7 L224.1 847 L222.9 853.2 L221.7 841.3 L220.5 848 L219.3 840 L218.1 843.8 L216.9 835.7 L215.7 831.3 L214.5 849.2 L213.3 880.4 L212.1 885.8 L210.9 894.9 L209.7 890.6 L208.5 901.2 L207.3 894.9 L206.1 891.9 L204.9 884.6 L203.7 871.4 L202.5 867.1 L201.3 874 L200.1 866.2 L198.9 855.6 L197.7 837.1 L196.5 821.8 L195.3 827.1 L194.1 833.6 L192.9 838.6 L191.7 840.7 L190.5 842.5 L189.3 843.5 L188.1 845.9 L186.9 845.1 L185.7 846.8 L184.5 849.7 L183.3 852.8 L182.1 876.8 L180.9 895.3 L179.7 903.2 L178.5 899.6 L177.3 898.5 L176.1 902.5 L174.9 908.1 L173.7 910Z" fill="#cacaca"/>
<path d="M173.7 863.9 L174.9 857.9 L176.1 864.1 L177.3 863.2 L178.5 848.8 L179.7 833.4 L180.9 813.7 L182.1 818.5 L183.3 823 L184.5 804.3 L185.7 810.4 L186.9 812.5 L188.1 811.8 L189.3 813.8 L190.5 814.3 L191.7 800.6 L192.9 791.2 L194.1 791.5 L195.3 773.5 L196.5 761.7 L197.7 765.3 L198.9 801.8 L200.1 808.3 L201.3 827 L202.5 846.9 L203.7 814.5 L204.9 833.4 L206.1 842.4 L207.3 847 L208.5 869.8 L209.7 871.1 L210.9 862.1 L212.1 808.9 L213.3 812 L214.5 818 L215.7 813 L216.9 797 L218.1 809.9 L219.3 811.7 L220.5 819.8 L221.7 816.1 L222.9 832.6 L224.1 825.2 L225.3 825.5 L226.5 823.7 L227.7 820.2 L228.9 819.1 L230.1 835.3 L231.3 817.1 L232.5 806.7 L233.7 808.4 L234.9 835 L236.1 815.3 L237.3 805.9 L238.5 801.8 L239.7 803.7 L240.9 811.2 L242.1 799.4 L243.3 814.8 L244.5 814.2 L245.7 814.6 L246.9 822 L248.1 821.6 L249.3 825 L250.5 823.5 L251.7 836.7 L252.9 830.6 L254.1 840.4 L255.3 840 L256.5 845.9 L257.7 840.6 L258.9 845.4 L260.1 850.2 L261.3 846.8 L262.5 838.1 L263.7 833.1 L264.9 831.3 L266.1 845.6 L267.3 830.9 L268.5 842.7 L269.7 833.7 L270.9 836.4 L272.1 835.4 L273.3 823.2 L274.5 835.8 L275.7 827.1 L276.9 825.7 L278.1 823 L279.3 827.3 L280.5 811 L281.7 818.3 L282.9 815.4 L284.1 819.7 L285.3 823.1 L286.5 817.9 L287.7 827.8 L288.9 819.8 L290.1 818.7 L291.3 825.7 L292.5 810.5 L293.7 809.4 L294.9 829.3 L296.1 824.2 L297.3 827.3 L298.5 828.4 L299.7 822.3 L300.9 823.4 L302.1 811.5 L303.3 821 L304.5 821.8 L305.7 819.1 L306.9 825.8 L308.1 829.7 L309.3 840.3 L310.5 816.7 L311.7 826 L312.9 825.2 L314.1 835.7 L315.3 829.2 L316.5 827.9 L317.7 821.1 L318.9 817.3 L320.1 824.7 L321.3 821 L322.5 829.8 L323.7 835.3 L324.9 824 L326.1 829.9 L327.3 834.8 L328.5 833.5 L329.7 829.4 L330.9 833.8 L332.1 826.6 L333.3 825.6 L334.5 822.1 L335.7 819.8 L336.9 833.2 L338.1 832.5 L339.3 808.3 L340.5 809.2 L341.7 828.7 L342.9 821.4 L344.1 833.5 L345.3 817.8 L346.5 815.1 L347.7 820.5 L348.9 829.1 L350.1 813.2 L351.3 821.9 L352.5 825.4 L353.7 812.2 L354.9 806.7 L356.1 806.3 L357.3 803.7 L358.5 804.2 L359.7 808.5 L360.9 816.7 L362.1 800.4 L363.3 802.3 L364.5 794.6 L365.7 788.8 L366.9 791 L368.1 792.5 L369.3 816.6 L370.5 875.6 L371.7 863.8 L372.9 865.4 L374.1 853.6 L375.3 857.7 L376.5 853.6 L377.7 847.4 L378.9 845.5 L380.1 846.3 L381.3 847.7 L382.5 846.9 L383.7 859.2 L384.9 855.7 L386.1 859.3 L387.3 853.9 L388.5 862.5 L389.7 858.8 L390.9 853.5 L392.1 862.2 L393.3 858.3 L394.5 850.2 L395.7 849.9 L396.9 842.9 L398.1 836.4 L399.3 828 L400.5 824.2 L401.7 821 L402.9 820.2 L404.1 821 L405.3 812.2 L406.5 804 L407.7 799.2 L408.9 797.8 L410.1 800 L411.3 791.4 L412.5 787.1 L413.7 801.5 L414.9 797 L416.1 793.4 L417.3 803.6 L418.5 794 L419.7 797.3 L420.9 807.9 L422.1 798.5 L423.3 814.3 L424.5 812.1 L425.7 803.5 L426.9 817.7 L428.1 819.7 L429.3 834.1 L430.5 835.6 L431.7 842.7 L432.9 849.4 L434.1 854.4 L435.3 850.3 L436.5 855.3 L437.7 857.8 L438.9 861.1 L440.1 860.3 L441.3 861.2 L442.5 851.9 L443.7 855.2 L444.9 847.8 L446.1 858.6 L447.3 850.6 L448.5 855.1 L449.7 847.8 L450.9 844.1 L452.1 846.9 L453.3 847.3 L454.5 842.2 L455.7 834.2 L456.9 839.4 L458.1 842.5 L459.3 840.1 L460.5 837.9 L461.7 834.8 L462.9 840.7 L464.1 837.6 L465.3 838.1 L466.5 840.2 L467.7 836.9 L468.9 841.2 L470.1 847.4 L471.3 842.1 L472.5 851.9 L473.7 853.8 L474.9 853.1 L476.1 852.5 L477.3 843.2 L478.5 840.9 L479.7 832.6 L480.9 828 L482.1 825.6 L483.3 810.8 L484.5 812 L485.7 806.5 L486.9 793 L488.1 785.9 L489.3 782.5 L490.5 781 L491.7 765.6 L492.9 765.5 L494.1 763.3 L495.3 759.1 L496.5 762.6 L497.7 752.9 L498.9 767.2 L500.1 760.8 L501.3 770.9 L502.5 769.1 L503.7 772.7 L504.9 778.4 L506.1 775 L507.3 787.7 L508.5 796.4 L509.7 800.9 L510.9 804.6 L512.1 812 L513.3 811.7 L514.5 835.1 L515.7 845.1 L516.9 850.2 L518.1 850.1 L519.3 853.1 L520.5 858.5 L521.7 863.7 L522.9 839.5 L524.1 841.2 L525.3 833.1 L526.5 844.3 L527.7 833 L528.9 837.7 L530.1 834.1 L531.3 836.3 L532.5 840.8 L533.7 838.3 L534.9 836.7 L536.1 842.4 L537.3 833.2 L538.5 826.4 L539.7 820.6 L540.9 813.3 L542.1 816.8 L543.3 817.8 L544.5 818.8 L545.7 820.4 L546.9 817.2 L548.1 816.9 L549.3 806.6 L550.5 814.2 L551.7 817.5 L552.9 811 L554.1 808.2 L555.3 810.4 L556.5 813.5 L557.7 803.6 L558.9 809.1 L560.1 801.1 L561.3 805.5 L562.5 797.2 L563.7 807.2 L564.9 802.1 L566.1 794.9 L567.3 805.1 L568.5 794.3 L569.7 799.4 L570.9 811.7 L572.1 809.6 L573.3 802.9 L574.5 806.4 L575.7 799.5 L576.9 807.1 L578.1 801.4 L579.3 806.2 L580.5 806.1 L581.7 800.3 L582.9 800 L584.1 799.5 L585.3 802.8 L586.5 800.5 L587.7 798.2 L588.9 801.1 L590.1 801.4 L591.3 802.6 L592.5 801.9 L593.7 809.2 L594.9 811.1 L596.1 807.5 L597.3 813.7 L598.5 817.5 L599.7 815.2 L600.9 816.9 L602.1 815.4 L603.3 820 L604.5 826.9 L605.7 823.6 L606.9 818.3 L608.1 814.8 L609.3 832.7 L610.5 838.1 L611.7 821.3 L612.9 831.6 L614.1 830.9 L615.3 843.3 L616.5 839.6 L617.7 843.5 L618.9 844 L620.1 849.8 L621.3 840.3 L622.5 838.4 L623.7 847.9 L624.9 847.1 L626.1 840.7 L627.3 828.5 L628.5 830.3 L629.7 775 L630.9 752.9 L632.1 743 L633.3 712.6 L634.5 700.1 L635.7 714.4 L636.9 716.1 L638.1 729.3 L639.3 788.1 L640.5 811.7 L641.7 824.2 L642.9 839.7 L644.1 846.9 L645.3 846.7 L646.5 839.8 L647.7 850.4 L648.9 835.2 L650.1 838.7 L651.3 835.4 L652.5 837.7 L653.7 854.9 L654.9 855.5 L656.1 853.2 L657.3 848.9 L658.5 842 L659.7 839.5 L660.9 832.3 L662.1 834.8 L663.3 831.9 L664.5 824.7 L665.7 821.6 L666.9 827.9 L668.1 828.3 L669.3 821.9 L670.5 832.6 L671.7 836 L672.9 826.7 L674.1 815.1 L675.3 815 L676.5 807.8 L677.7 803.5 L678.9 804 L680.1 805.9 L681.3 788.6 L682.5 789.1 L683.7 783 L684.9 777.9 L686.1 766.5 L687.3 764.3 L688.5 761.9 L689.7 770.9 L690.9 764.1 L692.1 762.8 L693.3 757.9 L694.5 754.5 L695.7 770.5 L696.9 750.1 L698.1 740.5 L699.3 755.6 L700.5 770 L701.7 754.9 L702.9 754.2 L704.1 761.8 L705.3 744.7 L706.5 757.7 L707.7 778.1 L708.9 784.9 L710.1 782.7 L711.3 798 L712.5 782.7 L713.7 795.4 L714.9 804.2 L716.1 816.3 L717.3 820.1 L718.5 819.7 L719.7 823.6 L720.9 822.3 L722.1 817.4 L723.3 824.9 L724.5 829.8 L725.7 828.1 L726.9 827.6 L728.1 829.7 L729.3 823 L730.5 827.4 L731.7 830.8 L732.9 833.7 L734.1 840.3 L735.3 844 L736.5 842.2 L737.7 836.8 L738.9 823.5 L740.1 819.6 L741.3 814.7 L742.5 808.4 L743.7 805.4 L744.9 813.9 L746.1 809.5 L747.3 810.1 L748.5 803.1 L749.7 812.3 L750.9 811.7 L752.1 812.9 L753.3 813.6 L754.5 801.4 L755.7 808.1 L756.9 810.2 L758.1 812.5 L759.3 816.6 L760.5 817.1 L761.7 826.7 L762.9 826.1 L764.1 808.4 L765.3 821.2 L766.5 811 L767.7 813.7 L768.9 807.3 L770.1 809 L771.3 811.9 L772.5 817.3 L773.7 808.7 L774.9 809.3 L776.1 814.1 L777.3 816.8 L778.5 824.3 L779.7 822 L780.9 822.1 L782.1 817.6 L783.3 806.1 L784.5 816.3 L785.7 814.6 L786.9 810.7 L788.1 805.4 L789.3 811.4 L790.5 808.2 L791.7 809.4 L792.9 806.8 L794.1 811.7 L795.3 801.7 L796.5 810.8 L797.7 818.3 L798.9 817.4 L800.1 804.8 L801.3 809.3 L802.5 824.3 L803.7 816.2 L804.9 831.8 L806.1 837.2 L807.3 823.9 L808.5 830.3 L809.7 839.3 L810.9 834.6 L812.1 842.8 L813.3 838.1 L814.5 841.7 L815.7 840.5 L816.9 839.8 L818.1 826.8 L819.3 839.5 L820.5 826.2 L821.7 836.7 L822.9 822.4 L824.1 819.8 L825.3 834.4 L826.5 842.1 L827.7 847.7 L828.9 852.2 L830.1 852.8 L831.3 839.7 L832.5 838.5 L833.7 838.5 L834.9 834.7 L836.1 839.3 L837.3 827 L838.5 830.4 L839.7 828.8 L840.9 837.9 L842.1 839.2 L843.3 841.2 L844.5 849.3 L845.7 855.2 L846.9 851 L848.1 858.5 L849.3 850.7 L850.5 850.8 L851.7 852.1 L852.9 833.8 L854.1 842.7 L855.3 834.2 L856.5 829.8 L857.7 839.7 L858.9 835 L860.1 833.8 L861.3 825.7 L862.5 830.1 L863.7 828.2 L864.9 834.8 L866.1 846.8 L867.3 819.9 L868.5 813.3 L869.7 792.2 L870.9 788.2 L872.1 780.7 L873.3 770.7 L874.5 779.3 L875.7 780.3 L876.9 788.9 L878.1 778.6 L879.3 776.7 L880.5 774.9 L881.7 763.8 L882.9 777.5 L884.1 754.5 L885.3 751.2 L886.5 747.1 L887.7 740.7 L888.9 738.8 L890.1 716.5" fill="none" stroke="#bcbcbc" stroke-width="1.8" stroke-linejoin="round" opacity="0.6"/>
<path d="M173.7 912.6 L174.9 910.8 L176.1 894.4 L177.3 889 L178.5 882.7 L179.7 868.5 L180.9 852.8 L182.1 845.5 L183.3 849.7 L184.5 850.7 L185.7 837 L186.9 840.6 L188.1 838.5 L189.3 838.5 L190.5 824.2 L191.7 843.7 L192.9 824.6 L194.1 801.5 L195.3 783.4 L196.5 786.3 L197.7 775 L198.9 817.5 L200.1 835.7 L201.3 843.1 L202.5 862.3 L203.7 840.3 L204.9 842.2 L206.1 845 L207.3 887.3 L208.5 878.5 L209.7 894.5 L210.9 875.3 L212.1 828.5 L213.3 828.2 L214.5 820.2 L215.7 815.3 L216.9 817.5 L218.1 826.4 L219.3 828.1 L220.5 826.2 L221.7 832.3 L222.9 837.7 L224.1 816.5 L225.3 821 L226.5 824.7 L227.7 827.8 L228.9 830.8 L230.1 810.2 L231.3 824.5 L232.5 817.6 L233.7 822.1 L234.9 812.7 L236.1 812.6 L237.3 806.5 L238.5 804.9 L239.7 809.6 L240.9 809.6 L242.1 810.3 L243.3 815.4 L244.5 818.7 L245.7 823.2 L246.9 829.2 L248.1 825.7 L249.3 847.8 L250.5 845.5 L251.7 847.2 L252.9 847 L254.1 850.8 L255.3 848.7 L256.5 854.3 L257.7 865.3 L258.9 864.6 L260.1 869.2 L261.3 857 L262.5 855 L263.7 865.6 L264.9 862 L266.1 865.5 L267.3 865.8 L268.5 862.5 L269.7 860.6 L270.9 847.3 L272.1 853.7 L273.3 848.2 L274.5 850.8 L275.7 846.5 L276.9 850.1 L278.1 836.7 L279.3 846.2 L280.5 838.9 L281.7 832.5 L282.9 845.8 L284.1 849.7 L285.3 844.5 L286.5 849 L287.7 843.3 L288.9 841.2 L290.1 843.6 L291.3 840.2 L292.5 838.3 L293.7 841.7 L294.9 849.6 L296.1 861.7 L297.3 847.4 L298.5 850.5 L299.7 841.2 L300.9 838.2 L302.1 839.5 L303.3 838.2 L304.5 834.7 L305.7 844.4 L306.9 845.1 L308.1 856.3 L309.3 847.4 L310.5 847.9 L311.7 848.9 L312.9 844.9 L314.1 846.9 L315.3 842.6 L316.5 844.2 L317.7 840 L318.9 843.1 L320.1 838.8 L321.3 835.8 L322.5 847.6 L323.7 835.9 L324.9 833.6 L326.1 842.3 L327.3 851.6 L328.5 839.9 L329.7 847 L330.9 834.1 L332.1 844.5 L333.3 842.7 L334.5 838 L335.7 828.9 L336.9 839.3 L338.1 838.2 L339.3 831.3 L340.5 825 L341.7 832 L342.9 823.3 L344.1 823.1 L345.3 830.6 L346.5 834.7 L347.7 835.8 L348.9 831.8 L350.1 824.1 L351.3 830.4 L352.5 830.7 L353.7 832.6 L354.9 827.6 L356.1 820.9 L357.3 813.4 L358.5 827.6 L359.7 822.5 L360.9 830.8 L362.1 818.9 L363.3 816.8 L364.5 813.6 L365.7 817.9 L366.9 819.5 L368.1 833.6 L369.3 839.9 L370.5 879.5 L371.7 879.7 L372.9 880.6 L374.1 878.5 L375.3 874.2 L376.5 870.6 L377.7 860 L378.9 859.1 L380.1 870.5 L381.3 864.8 L382.5 868 L383.7 873.9 L384.9 864.9 L386.1 866.2 L387.3 879.6 L388.5 877.3 L389.7 877.4 L390.9 883.2 L392.1 875.8 L393.3 874.5 L394.5 873.6 L395.7 863 L396.9 873.1 L398.1 861.7 L399.3 851 L400.5 851 L401.7 838.4 L402.9 832.8 L404.1 827.6 L405.3 829.3 L406.5 823.4 L407.7 824.5 L408.9 819.1 L410.1 822.7 L411.3 821.8 L412.5 822.1 L413.7 820.3 L414.9 820.2 L416.1 815.4 L417.3 811.4 L418.5 820.6 L419.7 816.9 L420.9 826.3 L422.1 829.6 L423.3 831.5 L424.5 832.6 L425.7 838.2 L426.9 838.6 L428.1 849.1 L429.3 859 L430.5 861.4 L431.7 868.7 L432.9 869 L434.1 875.5 L435.3 887.9 L436.5 882.4 L437.7 881.5 L438.9 887.7 L440.1 880.9 L441.3 881.1 L442.5 882.2 L443.7 879 L444.9 883.4 L446.1 878.3 L447.3 876.8 L448.5 868.1 L449.7 868.3 L450.9 866.6 L452.1 867.2 L453.3 866.4 L454.5 862.1 L455.7 864.1 L456.9 869.3 L458.1 862.4 L459.3 859.2 L460.5 863.2 L461.7 864.4 L462.9 862.1 L464.1 864.3 L465.3 855 L466.5 864.2 L467.7 860.2 L468.9 871.2 L470.1 867.4 L471.3 875.3 L472.5 871.4 L473.7 874.8 L474.9 874.9 L476.1 870.7 L477.3 872.2 L478.5 875.6 L479.7 858.6 L480.9 858.4 L482.1 855 L483.3 844.7 L484.5 839.4 L485.7 832.1 L486.9 827.4 L488.1 810.3 L489.3 820.5 L490.5 809.2 L491.7 799.6 L492.9 794.9 L494.1 797.4 L495.3 803.1 L496.5 788.9 L497.7 784.3 L498.9 788.5 L500.1 799.1 L501.3 792.3 L502.5 798.1 L503.7 795.2 L504.9 801.3 L506.1 802.4 L507.3 806.5 L508.5 819 L509.7 824.5 L510.9 825.2 L512.1 850.6 L513.3 842.4 L514.5 853.6 L515.7 858.5 L516.9 882.7 L518.1 882 L519.3 886.3 L520.5 894.5 L521.7 884 L522.9 884 L524.1 885.1 L525.3 873.2 L526.5 870.6 L527.7 866.6 L528.9 859.2 L530.1 865.7 L531.3 860.3 L532.5 862.1 L533.7 851.4 L534.9 860.9 L536.1 856.4 L537.3 855.7 L538.5 848.9 L539.7 846 L540.9 847.6 L542.1 845.6 L543.3 848.4 L544.5 846.3 L545.7 837.9 L546.9 845.1 L548.1 850.2 L549.3 846.8 L550.5 840.4 L551.7 834.5 L552.9 835.5 L554.1 843.1 L555.3 837.4 L556.5 828.8 L557.7 818.8 L558.9 833.2 L560.1 837.2 L561.3 819.3 L562.5 822.4 L563.7 827.7 L564.9 827.6 L566.1 829.9 L567.3 820.8 L568.5 826.5 L569.7 826.9 L570.9 830.5 L572.1 826.1 L573.3 829.1 L574.5 822 L575.7 823 L576.9 826.9 L578.1 821.5 L579.3 827.3 L580.5 826.1 L581.7 824.8 L582.9 823.2 L584.1 828.3 L585.3 822.8 L586.5 818.4 L587.7 826.8 L588.9 818.8 L590.1 826.3 L591.3 820.7 L592.5 831.1 L593.7 826 L594.9 825.7 L596.1 832.7 L597.3 832.9 L598.5 832.3 L599.7 823.4 L600.9 831.3 L602.1 830.9 L603.3 843 L604.5 835 L605.7 842.9 L606.9 841.5 L608.1 834.7 L609.3 840.2 L610.5 849.3 L611.7 850.2 L612.9 852.7 L614.1 854.3 L615.3 859.5 L616.5 857.3 L617.7 858.5 L618.9 852.6 L620.1 862.5 L621.3 863 L622.5 870 L623.7 859.3 L624.9 861.7 L626.1 853.8 L627.3 863.9 L628.5 832.9 L629.7 824.1 L630.9 781.6 L632.1 756.5 L633.3 742.2 L634.5 744.6 L635.7 734.6 L636.9 736.1 L638.1 762.2 L639.3 811.6 L640.5 831.7 L641.7 866.5 L642.9 874 L644.1 868.5 L645.3 882.2 L646.5 864.7 L647.7 875.9 L648.9 872 L650.1 876.6 L651.3 869.9 L652.5 880.7 L653.7 879.3 L654.9 884.9 L656.1 886.6 L657.3 885.8 L658.5 882.8 L659.7 880.2 L660.9 876.4 L662.1 860.7 L663.3 864.4 L664.5 858.2 L665.7 860.3 L666.9 861.7 L668.1 864.2 L669.3 860 L670.5 872.9 L671.7 870.4 L672.9 877.9 L674.1 854.7 L675.3 855.4 L676.5 839 L677.7 839.7 L678.9 835.4 L680.1 821.1 L681.3 827.5 L682.5 824.9 L683.7 817.4 L684.9 807.1 L686.1 810.8 L687.3 806.7 L688.5 790.4 L689.7 798.5 L690.9 788.1 L692.1 788.8 L693.3 790.1 L694.5 785.6 L695.7 788.4 L696.9 796.6 L698.1 788.8 L699.3 782.9 L700.5 781.2 L701.7 804.7 L702.9 778.6 L704.1 784.4 L705.3 786.5 L706.5 803.3 L707.7 801.5 L708.9 805.7 L710.1 811.6 L711.3 808.6 L712.5 806.9 L713.7 813.5 L714.9 826 L716.1 831.6 L717.3 848.7 L718.5 840.3 L719.7 846.1 L720.9 852.4 L722.1 843.6 L723.3 849.6 L724.5 849.7 L725.7 847.1 L726.9 855.4 L728.1 852.4 L729.3 847.4 L730.5 858 L731.7 865.3 L732.9 865.3 L734.1 865.4 L735.3 865.3 L736.5 859.3 L737.7 858.7 L738.9 850.1 L740.1 852 L741.3 847.6 L742.5 829.4 L743.7 834.4 L744.9 839.4 L746.1 835 L747.3 834.3 L748.5 837.6 L749.7 836.2 L750.9 832.3 L752.1 832.3 L753.3 830.5 L754.5 828.8 L755.7 830.6 L756.9 831.6 L758.1 821.6 L759.3 838.8 L760.5 841.1 L761.7 838.5 L762.9 847.9 L764.1 841.6 L765.3 841.1 L766.5 840.9 L767.7 831.7 L768.9 841.7 L770.1 843.9 L771.3 842.1 L772.5 841.4 L773.7 837.9 L774.9 844.2 L776.1 846 L777.3 841.2 L778.5 854.6 L779.7 853.1 L780.9 850.2 L782.1 849.6 L783.3 845.5 L784.5 851.4 L785.7 852 L786.9 841.6 L788.1 843.7 L789.3 840.2 L790.5 855 L791.7 846.7 L792.9 842.3 L794.1 849.7 L795.3 844 L796.5 838.5 L797.7 845.5 L798.9 848.5 L800.1 846.6 L801.3 855.4 L802.5 859.3 L803.7 872.3 L804.9 878.7 L806.1 880.4 L807.3 875.4 L808.5 875.8 L809.7 875.8 L810.9 871.9 L812.1 881.8 L813.3 893.4 L814.5 883.5 L815.7 882.3 L816.9 884.7 L818.1 894 L819.3 882.5 L820.5 883.2 L821.7 884.1 L822.9 894.6 L824.1 881.4 L825.3 881.1 L826.5 899.4 L827.7 900.6 L828.9 899.7 L830.1 892.8 L831.3 881.6 L832.5 894.5 L833.7 888.6 L834.9 893.1 L836.1 886.4 L837.3 881.6 L838.5 880.6 L839.7 883.5 L840.9 890.4 L842.1 894.2 L843.3 895.1 L844.5 882.8 L845.7 898 L846.9 898.8 L848.1 894.1 L849.3 903.9 L850.5 891.9 L851.7 889.7 L852.9 880.8 L854.1 883.9 L855.3 874.5 L856.5 882 L857.7 877.5 L858.9 869.2 L860.1 858.1 L861.3 857.6 L862.5 853.7 L863.7 868.8 L864.9 853.5 L866.1 852.4 L867.3 844.8 L868.5 839 L869.7 818 L870.9 822.1 L872.1 808.4 L873.3 815.8 L874.5 796.5 L875.7 804.4 L876.9 814.1 L878.1 808.5 L879.3 808 L880.5 819.4 L881.7 794.8 L882.9 794.5 L884.1 809.3 L885.3 807 L886.5 790.5 L887.7 779.2 L888.9 774.5 L890.1 776.4" fill="none" stroke="#bcbcbc" stroke-width="1.8" stroke-linejoin="round" opacity="0.6"/>
<path d="M173.7 901.8 L174.9 886.5 L176.1 895.6 L177.3 888.9 L178.5 881.3 L179.7 861.3 L180.9 849.8 L182.1 839.2 L183.3 826.2 L184.5 849.8 L185.7 836.1 L186.9 844.9 L188.1 841 L189.3 831.1 L190.5 822.6 L191.7 825.2 L192.9 809.6 L194.1 806 L195.3 782.5 L196.5 781.9 L197.7 776.5 L198.9 809.3 L200.1 823.3 L201.3 851 L202.5 849.2 L203.7 838.3 L204.9 835.4 L206.1 853.8 L207.3 866.7 L208.5 872.1 L209.7 884.8 L210.9 869.2 L212.1 833 L213.3 819 L214.5 823.8 L215.7 814.2 L216.9 829.7 L218.1 815.4 L219.3 805 L220.5 829.2 L221.7 824.6 L222.9 848 L224.1 824.3 L225.3 831.9 L226.5 827.2 L227.7 835.6 L228.9 825.3 L230.1 829.5 L231.3 828.5 L232.5 813.6 L233.7 826.7 L234.9 821.7 L236.1 813.1 L237.3 821.9 L238.5 831.1 L239.7 814.2 L240.9 822.4 L242.1 820.3 L243.3 832.9 L244.5 824.5 L245.7 827.2 L246.9 828.7 L248.1 841.2 L249.3 838.4 L250.5 841.3 L251.7 847.8 L252.9 858.5 L254.1 834.6 L255.3 850.2 L256.5 862 L257.7 848.7 L258.9 859.9 L260.1 858.7 L261.3 846 L262.5 861.1 L263.7 847.1 L264.9 853.1 L266.1 849.5 L267.3 850.4 L268.5 842.1 L269.7 835.2 L270.9 842.2 L272.1 842.9 L273.3 840.2 L274.5 838.6 L275.7 838.4 L276.9 837.1 L278.1 823.9 L279.3 834.5 L280.5 830.7 L281.7 818.1 L282.9 836.4 L284.1 831.1 L285.3 838.2 L286.5 822.3 L287.7 821.3 L288.9 818.7 L290.1 832.4 L291.3 829 L292.5 832.5 L293.7 824.9 L294.9 835 L296.1 841.4 L297.3 839.2 L298.5 837.6 L299.7 831 L300.9 828.6 L302.1 821.5 L303.3 819.9 L304.5 826.8 L305.7 827 L306.9 837.6 L308.1 832.3 L309.3 831.9 L310.5 835.3 L311.7 838.6 L312.9 824.2 L314.1 836.5 L315.3 821.2 L316.5 832.3 L317.7 825.9 L318.9 837.6 L320.1 827.4 L321.3 829.5 L322.5 833.4 L323.7 826.4 L324.9 831.4 L326.1 838.5 L327.3 846.7 L328.5 833.4 L329.7 835.4 L330.9 827.2 L332.1 836.3 L333.3 832.1 L334.5 839.2 L335.7 838.1 L336.9 824.7 L338.1 827.3 L339.3 828.9 L340.5 834.9 L341.7 821.8 L342.9 831.1 L344.1 821.6 L345.3 829.5 L346.5 840.3 L347.7 836.7 L348.9 833.3 L350.1 831.1 L351.3 828.2 L352.5 822.1 L353.7 822.3 L354.9 828.5 L356.1 825.9 L357.3 824.4 L358.5 815.5 L359.7 816.3 L360.9 815.1 L362.1 824.9 L363.3 809.2 L364.5 808.3 L365.7 812.8 L366.9 803.5 L368.1 822.6 L369.3 824.4 L370.5 870.5 L371.7 869.7 L372.9 869 L374.1 861.8 L375.3 867.5 L376.5 859.6 L377.7 850.7 L378.9 849.5 L380.1 852.9 L381.3 853.6 L382.5 862.6 L383.7 853.5 L384.9 850.6 L386.1 846.4 L387.3 863.5 L388.5 859.7 L389.7 860.6 L390.9 856 L392.1 859.4 L393.3 855.2 L394.5 859.9 L395.7 852.6 L396.9 850.6 L398.1 846.5 L399.3 837.4 L400.5 836.1 L401.7 825.8 L402.9 815.8 L404.1 811.5 L405.3 816.3 L406.5 815.9 L407.7 815.7 L408.9 810.8 L410.1 805.6 L411.3 806.5 L412.5 811.7 L413.7 803.3 L414.9 808.9 L416.1 805.5 L417.3 805.1 L418.5 812.9 L419.7 810.9 L420.9 807.6 L422.1 805.9 L423.3 822 L424.5 823.1 L425.7 834.8 L426.9 840.1 L428.1 845.3 L429.3 843.4 L430.5 856 L431.7 859.6 L432.9 864.7 L434.1 877.2 L435.3 868.8 L436.5 881.1 L437.7 878.5 L438.9 873.6 L440.1 875.7 L441.3 881.8 L442.5 878 L443.7 868.3 L444.9 872.1 L446.1 868.6 L447.3 866.2 L448.5 862.6 L449.7 865.2 L450.9 862.7 L452.1 854.6 L453.3 856.1 L454.5 859.9 L455.7 856.7 L456.9 858.8 L458.1 850.5 L459.3 851.7 L460.5 847 L461.7 856.4 L462.9 855.3 L464.1 853.3 L465.3 855.7 L466.5 851 L467.7 849.2 L468.9 852 L470.1 859.2 L471.3 848.5 L472.5 860.1 L473.7 868.5 L474.9 858.3 L476.1 866.6 L477.3 865.5 L478.5 862.7 L479.7 849.6 L480.9 844.1 L482.1 837 L483.3 826.8 L484.5 819.4 L485.7 813.7 L486.9 803.2 L488.1 797.8 L489.3 802.5 L490.5 787.7 L491.7 780.2 L492.9 779.8 L494.1 771.3 L495.3 769.9 L496.5 775.2 L497.7 775.8 L498.9 777.8 L500.1 777.6 L501.3 782.6 L502.5 784.2 L503.7 789 L504.9 789.5 L506.1 792.5 L507.3 801.4 L508.5 801.6 L509.7 814.6 L510.9 829.7 L512.1 824.8 L513.3 835.4 L514.5 847.4 L515.7 863.3 L516.9 864.8 L518.1 875.8 L519.3 877.3 L520.5 881.9 L521.7 877.2 L522.9 876.4 L524.1 877 L525.3 869.2 L526.5 860.7 L527.7 865.7 L528.9 858.2 L530.1 858.7 L531.3 855.5 L532.5 859.3 L533.7 860 L534.9 866 L536.1 859.6 L537.3 850.7 L538.5 850.5 L539.7 837.3 L540.9 842.4 L542.1 844.1 L543.3 839.8 L544.5 842.9 L545.7 835.5 L546.9 834 L548.1 829.6 L549.3 830.3 L550.5 831.4 L551.7 831.8 L552.9 829.1 L554.1 823.8 L555.3 824.7 L556.5 822.8 L557.7 819 L558.9 823.1 L560.1 819.9 L561.3 817.3 L562.5 819.1 L563.7 818.8 L564.9 823.9 L566.1 820 L567.3 827 L568.5 820.1 L569.7 822.9 L570.9 816.1 L572.1 819.8 L573.3 817.6 L574.5 824 L575.7 826 L576.9 819.7 L578.1 820.4 L579.3 819 L580.5 824.5 L581.7 821 L582.9 816.4 L584.1 817.4 L585.3 817.3 L586.5 823 L587.7 814.8 L588.9 820.9 L590.1 819.4 L591.3 811.2 L592.5 820.3 L593.7 821.6 L594.9 826.8 L596.1 821.3 L597.3 823.2 L598.5 829.2 L599.7 821.9 L600.9 830 L602.1 828.8 L603.3 835.4 L604.5 833.2 L605.7 825.7 L606.9 840.7 L608.1 836.3 L609.3 838.4 L610.5 841.2 L611.7 841.9 L612.9 849.8 L614.1 851.5 L615.3 853.6 L616.5 865.2 L617.7 855.7 L618.9 859.8 L620.1 863.8 L621.3 865.7 L622.5 871.3 L623.7 869.9 L624.9 866.8 L626.1 862.2 L627.3 864.9 L628.5 852.8 L629.7 835.8 L630.9 820.3 L632.1 801.6 L633.3 764.9 L634.5 752.4 L635.7 777.3 L636.9 758.1 L638.1 791 L639.3 820.5 L640.5 854.2 L641.7 852.9 L642.9 888.3 L644.1 880 L645.3 881.3 L646.5 881.9 L647.7 879.3 L648.9 870.4 L650.1 873.3 L651.3 877.5 L652.5 869.1 L653.7 878.8 L654.9 881 L656.1 882.2 L657.3 876.3 L658.5 871.3 L659.7 868.4 L660.9 858.4 L662.1 857.7 L663.3 854.7 L664.5 849.2 L665.7 842.8 L666.9 834.4 L668.1 849 L669.3 848.5 L670.5 852.4 L671.7 862.5 L672.9 841.8 L674.1 848.6 L675.3 826 L676.5 818.1 L677.7 825.1 L678.9 816.2 L680.1 803 L681.3 811.2 L682.5 798.4 L683.7 783.7 L684.9 784.1 L686.1 794.1 L687.3 783.3 L688.5 782 L689.7 779.1 L690.9 772.6 L692.1 783.9 L693.3 775.3 L694.5 777.9 L695.7 768.6 L696.9 780.4 L698.1 775.4 L699.3 764.6 L700.5 778 L701.7 781.6 L702.9 763.1 L704.1 760.9 L705.3 774.4 L706.5 801.5 L707.7 797.5 L708.9 810.2 L710.1 801.7 L711.3 807.1 L712.5 815.7 L713.7 816.5 L714.9 820 L716.1 840.2 L717.3 838.1 L718.5 839.3 L719.7 845.3 L720.9 839.2 L722.1 845.3 L723.3 845 L724.5 845.3 L725.7 849.9 L726.9 859.3 L728.1 855.4 L729.3 848.1 L730.5 853.6 L731.7 855.6 L732.9 865 L734.1 862.1 L735.3 861.4 L736.5 863.1 L737.7 851.8 L738.9 853.1 L740.1 844.7 L741.3 842.3 L742.5 841 L743.7 832.3 L744.9 826.1 L746.1 837.3 L747.3 834.3 L748.5 830.2 L749.7 842.5 L750.9 831.6 L752.1 841.4 L753.3 829.7 L754.5 841.1 L755.7 840.1 L756.9 838.5 L758.1 845.2 L759.3 836.6 L760.5 850.6 L761.7 843.4 L762.9 846.8 L764.1 848 L765.3 834.8 L766.5 851.3 L767.7 851.2 L768.9 836 L770.1 833 L771.3 841.1 L772.5 839.4 L773.7 851.6 L774.9 839.7 L776.1 845.5 L777.3 843.5 L778.5 851.7 L779.7 833.6 L780.9 847.9 L782.1 847.2 L783.3 842.8 L784.5 846.5 L785.7 838.1 L786.9 847.4 L788.1 841.6 L789.3 841.5 L790.5 834.8 L791.7 838.1 L792.9 842.4 L794.1 842.4 L795.3 838.9 L796.5 839.6 L797.7 836.3 L798.9 840.3 L800.1 846.8 L801.3 847.8 L802.5 855.2 L803.7 857.9 L804.9 868.1 L806.1 858.1 L807.3 866.8 L808.5 870.1 L809.7 868 L810.9 863.8 L812.1 870.5 L813.3 855.3 L814.5 863.6 L815.7 870.3 L816.9 862.4 L818.1 857.3 L819.3 867.5 L820.5 861.9 L821.7 861.1 L822.9 860.1 L824.1 852.5 L825.3 861.6 L826.5 866.8 L827.7 871.5 L828.9 873.1 L830.1 866.7 L831.3 871.7 L832.5 878 L833.7 854.1 L834.9 858.8 L836.1 873.6 L837.3 856.9 L838.5 858.3 L839.7 855.9 L840.9 861.2 L842.1 876.5 L843.3 869.1 L844.5 871.6 L845.7 881.9 L846.9 877.5 L848.1 878.2 L849.3 883.3 L850.5 875.5 L851.7 875.4 L852.9 878.2 L854.1 864.7 L855.3 862.8 L856.5 858.9 L857.7 848.7 L858.9 844.6 L860.1 857.8 L861.3 848.6 L862.5 849.6 L863.7 860 L864.9 862.2 L866.1 847.2 L867.3 843.5 L868.5 826.4 L869.7 802.5 L870.9 798.8 L872.1 805.1 L873.3 787.5 L874.5 799.4 L875.7 797.9 L876.9 799.3 L878.1 795.3 L879.3 803.3 L880.5 796.2 L881.7 780.9 L882.9 783.8 L884.1 785.1 L885.3 763.4 L886.5 756.8 L887.7 772.3 L888.9 755.2 L890.1 757.3" fill="none" stroke="#bcbcbc" stroke-width="1.8" stroke-linejoin="round" opacity="0.6"/>
<path d="M173.7 886 L174.9 882.8 L176.1 878.3 L177.3 883.2 L178.5 865.1 L179.7 840.8 L180.9 845 L182.1 821.1 L183.3 824.4 L184.5 818.6 L185.7 825.1 L186.9 823.4 L188.1 816.4 L189.3 816.5 L190.5 817.4 L191.7 807.1 L192.9 797.7 L194.1 785.8 L195.3 771.7 L196.5 758.7 L197.7 772.5 L198.9 790.8 L200.1 809.5 L201.3 823.3 L202.5 838.5 L203.7 838.8 L204.9 814.8 L206.1 852.6 L207.3 853 L208.5 865.4 L209.7 868.3 L210.9 858.6 L212.1 817.8 L213.3 799.8 L214.5 810.9 L215.7 804.2 L216.9 783.3 L218.1 800.7 L219.3 801.6 L220.5 810.8 L221.7 823.5 L222.9 814.9 L224.1 808.1 L225.3 829.2 L226.5 811.7 L227.7 814.1 L228.9 820.7 L230.1 808.2 L231.3 802.2 L232.5 801.6 L233.7 806.7 L234.9 802.8 L236.1 808.5 L237.3 796.3 L238.5 797.5 L239.7 807.7 L240.9 806.8 L242.1 795.2 L243.3 798.8 L244.5 808.7 L245.7 812.8 L246.9 816.4 L248.1 822.1 L249.3 823.6 L250.5 815.8 L251.7 847.2 L252.9 850.9 L254.1 844.2 L255.3 838.5 L256.5 838.6 L257.7 850.7 L258.9 845.7 L260.1 864.6 L261.3 843.9 L262.5 859.6 L263.7 848.2 L264.9 847 L266.1 849 L267.3 842 L268.5 840.9 L269.7 837.1 L270.9 834.4 L272.1 829.8 L273.3 831 L274.5 834.5 L275.7 839.9 L276.9 829.3 L278.1 825.6 L279.3 833 L280.5 832.8 L281.7 833.1 L282.9 830.4 L284.1 834.2 L285.3 831.6 L286.5 824.6 L287.7 826.7 L288.9 836.4 L290.1 834.5 L291.3 832.2 L292.5 834.4 L293.7 832.1 L294.9 832.5 L296.1 845.8 L297.3 832 L298.5 834.5 L299.7 831.8 L300.9 829.1 L302.1 822.7 L303.3 830.5 L304.5 834.5 L305.7 826.3 L306.9 836.2 L308.1 837.6 L309.3 836.2 L310.5 844.2 L311.7 838.6 L312.9 828.5 L314.1 841.5 L315.3 836.5 L316.5 826.5 L317.7 825.1 L318.9 832.1 L320.1 828.4 L321.3 831.8 L322.5 830.2 L323.7 830.8 L324.9 826.3 L326.1 836.5 L327.3 840.5 L328.5 838.4 L329.7 831.9 L330.9 838 L332.1 828.2 L333.3 830.2 L334.5 819.5 L335.7 821.6 L336.9 815.3 L338.1 822 L339.3 824.4 L340.5 811.9 L341.7 823.9 L342.9 810.1 L344.1 811.1 L345.3 811.8 L346.5 815.8 L347.7 804.7 L348.9 817.4 L350.1 813.8 L351.3 811.6 L352.5 807.3 L353.7 805 L354.9 802.1 L356.1 803.1 L357.3 787.5 L358.5 791.7 L359.7 794.6 L360.9 789.1 L362.1 788.9 L363.3 783.7 L364.5 782.5 L365.7 765.7 L366.9 768.3 L368.1 790.5 L369.3 791.4 L370.5 856.1 L371.7 847.1 L372.9 848.7 L374.1 842.6 L375.3 842.2 L376.5 856.5 L377.7 840.6 L378.9 847.8 L380.1 841.8 L381.3 846.2 L382.5 843 L383.7 849 L384.9 846.9 L386.1 840.8 L387.3 843.5 L388.5 857.1 L389.7 859.8 L390.9 852.4 L392.1 850.6 L393.3 851 L394.5 860.8 L395.7 842.9 L396.9 848.7 L398.1 843.6 L399.3 827.6 L400.5 824.3 L401.7 819.2 L402.9 812.9 L404.1 814.9 L405.3 807.6 L406.5 803.2 L407.7 803.9 L408.9 806.8 L410.1 798.5 L411.3 796 L412.5 802.1 L413.7 803.5 L414.9 802.2 L416.1 799.5 L417.3 795 L418.5 800.4 L419.7 802 L420.9 804.8 L422.1 805.2 L423.3 811.4 L424.5 814.4 L425.7 809 L426.9 820 L428.1 821.6 L429.3 831.1 L430.5 834 L431.7 842.4 L432.9 844.3 L434.1 850.6 L435.3 853.2 L436.5 854.9 L437.7 852.6 L438.9 862.5 L440.1 857.7 L441.3 859.7 L442.5 858 L443.7 857.3 L444.9 856.5 L446.1 848 L447.3 849.7 L448.5 848.4 L449.7 842.9 L450.9 840.6 L452.1 842.9 L453.3 846.6 L454.5 841.9 L455.7 841 L456.9 838.6 L458.1 844.4 L459.3 836.5 L460.5 839.8 L461.7 846.3 L462.9 836.5 L464.1 836.8 L465.3 830.7 L466.5 831.9 L467.7 843.8 L468.9 838.5 L470.1 838.8 L471.3 842.5 L472.5 842.9 L473.7 848.8 L474.9 844.9 L476.1 847.5 L477.3 849.3 L478.5 843.1 L479.7 834.1 L480.9 826.4 L482.1 823.6 L483.3 807.2 L484.5 802.4 L485.7 797.1 L486.9 787.6 L488.1 790.5 L489.3 777.2 L490.5 771.6 L491.7 772.2 L492.9 764.6 L494.1 765.8 L495.3 760.9 L496.5 755.2 L497.7 753 L498.9 763.1 L500.1 760.6 L501.3 772.7 L502.5 773.9 L503.7 774.3 L504.9 777.4 L506.1 791.4 L507.3 786.3 L508.5 795.7 L509.7 797.8 L510.9 814.9 L512.1 821.9 L513.3 831.8 L514.5 840.1 L515.7 845.6 L516.9 848.6 L518.1 859.9 L519.3 858.9 L520.5 866.8 L521.7 877.4 L522.9 865.7 L524.1 860.2 L525.3 857.3 L526.5 858.1 L527.7 852.2 L528.9 847.8 L530.1 844.1 L531.3 847.8 L532.5 855.7 L533.7 843.1 L534.9 847.9 L536.1 845.5 L537.3 853.5 L538.5 838.3 L539.7 839.4 L540.9 835.8 L542.1 832.9 L543.3 835 L544.5 833.9 L545.7 828.7 L546.9 836 L548.1 825.8 L549.3 819.1 L550.5 822.9 L551.7 824.3 L552.9 822.3 L554.1 821.8 L555.3 825.3 L556.5 823 L557.7 818.5 L558.9 820 L560.1 810.4 L561.3 813.6 L562.5 806.2 L563.7 816.5 L564.9 814.4 L566.1 812.4 L567.3 816.5 L568.5 816.2 L569.7 812.8 L570.9 808.8 L572.1 805.4 L573.3 812.9 L574.5 815.6 L575.7 818.5 L576.9 807.2 L578.1 809.5 L579.3 803.6 L580.5 805.2 L581.7 816.2 L582.9 807.5 L584.1 816 L585.3 816.6 L586.5 804.8 L587.7 809.5 L588.9 806.1 L590.1 809.3 L591.3 816.2 L592.5 813.7 L593.7 813.3 L594.9 815.4 L596.1 816 L597.3 823.8 L598.5 816.4 L599.7 823.5 L600.9 824.2 L602.1 822.2 L603.3 820.8 L604.5 825.2 L605.7 825.9 L606.9 826.9 L608.1 825.2 L609.3 838 L610.5 837.5 L611.7 832.9 L612.9 835.3 L614.1 841.2 L615.3 845.6 L616.5 844 L617.7 842.7 L618.9 842.5 L620.1 844.2 L621.3 849 L622.5 848.4 L623.7 856.6 L624.9 847.8 L626.1 832.1 L627.3 821.9 L628.5 814 L629.7 792.2 L630.9 765.2 L632.1 735.8 L633.3 708.5 L634.5 690.7 L635.7 689.6 L636.9 702.3 L638.1 743.1 L639.3 778.3 L640.5 827.9 L641.7 813.2 L642.9 830.6 L644.1 846.9 L645.3 846.1 L646.5 841.3 L647.7 846.9 L648.9 852.1 L650.1 840.7 L651.3 843.9 L652.5 852.4 L653.7 842 L654.9 847.4 L656.1 855.8 L657.3 851.5 L658.5 846.7 L659.7 846.1 L660.9 841.7 L662.1 830.8 L663.3 828.9 L664.5 829.3 L665.7 832.1 L666.9 830.4 L668.1 834.2 L669.3 823.1 L670.5 833.2 L671.7 837.5 L672.9 836.2 L674.1 832.7 L675.3 821 L676.5 812.9 L677.7 805.1 L678.9 808.9 L680.1 807.2 L681.3 796.3 L682.5 791.4 L683.7 797.7 L684.9 782.4 L686.1 779.3 L687.3 774.4 L688.5 769.1 L689.7 766.8 L690.9 756.1 L692.1 760 L693.3 755.4 L694.5 767.2 L695.7 756 L696.9 760.3 L698.1 758.7 L699.3 762.3 L700.5 761 L701.7 773.5 L702.9 763.8 L704.1 766.2 L705.3 761.2 L706.5 763.6 L707.7 792.2 L708.9 800 L710.1 786.6 L711.3 800.7 L712.5 792.8 L713.7 806.5 L714.9 812.7 L716.1 818.7 L717.3 822.7 L718.5 819.4 L719.7 831.7 L720.9 831 L722.1 834.3 L723.3 832.9 L724.5 834.8 L725.7 842.9 L726.9 842 L728.1 837.7 L729.3 840.8 L730.5 839.8 L731.7 847.8 L732.9 843.7 L734.1 852 L735.3 853 L736.5 835.3 L737.7 839.8 L738.9 834.7 L740.1 830.2 L741.3 828.6 L742.5 823.9 L743.7 833.6 L744.9 822.3 L746.1 820.6 L747.3 823.3 L748.5 820.3 L749.7 813.6 L750.9 816.7 L752.1 809.8 L753.3 815.5 L754.5 811.1 L755.7 819.5 L756.9 813.2 L758.1 816.7 L759.3 824.8 L760.5 818.1 L761.7 826.3 L762.9 826.1 L764.1 832.6 L765.3 824.1 L766.5 827.3 L767.7 821.8 L768.9 826.1 L770.1 816.8 L771.3 819.2 L772.5 808 L773.7 824.1 L774.9 823.5 L776.1 817.7 L777.3 834.6 L778.5 839.3 L779.7 832.1 L780.9 831.4 L782.1 824.1 L783.3 816.7 L784.5 811.8 L785.7 826.8 L786.9 811.1 L788.1 812 L789.3 826.8 L790.5 818.3 L791.7 813.5 L792.9 815.5 L794.1 828.3 L795.3 812.8 L796.5 819.2 L797.7 812.7 L798.9 818.4 L800.1 814 L801.3 831.4 L802.5 831.4 L803.7 836.7 L804.9 837.2 L806.1 853.7 L807.3 855.9 L808.5 846.9 L809.7 851.6 L810.9 849.9 L812.1 858.1 L813.3 847.7 L814.5 849.9 L815.7 862.4 L816.9 853.7 L818.1 856.2 L819.3 847.7 L820.5 852.3 L821.7 853.1 L822.9 842.5 L824.1 837.9 L825.3 848.7 L826.5 857.7 L827.7 861.1 L828.9 861.9 L830.1 859.8 L831.3 851.5 L832.5 842.7 L833.7 846.4 L834.9 843.6 L836.1 843.8 L837.3 848.3 L838.5 837.3 L839.7 825.7 L840.9 846.4 L842.1 842.2 L843.3 838.6 L844.5 852.8 L845.7 857.5 L846.9 859.9 L848.1 854.6 L849.3 849.4 L850.5 851 L851.7 845.7 L852.9 857 L854.1 835.5 L855.3 841.7 L856.5 837.4 L857.7 833.3 L858.9 828.5 L860.1 828.8 L861.3 823.1 L862.5 825 L863.7 821.5 L864.9 821 L866.1 824.7 L867.3 822.5 L868.5 807.2 L869.7 792.7 L870.9 773.4 L872.1 782.3 L873.3 774.6 L874.5 768.2 L875.7 777.6 L876.9 761.6 L878.1 761.6 L879.3 781.9 L880.5 755.8 L881.7 761.4 L882.9 766.2 L884.1 751.3 L885.3 759.3 L886.5 739.6 L887.7 732.2 L888.9 747.5 L890.1 738.2" fill="none" stroke="#bcbcbc" stroke-width="1.8" stroke-linejoin="round" opacity="0.6"/>
<path d="M173.7 882.9 L174.9 872.5 L176.1 864.4 L177.3 865.8 L178.5 875.6 L179.7 857.8 L180.9 829.9 L182.1 817.1 L183.3 823.5 L184.5 832.1 L185.7 812.1 L186.9 825.1 L188.1 825.9 L189.3 821 L190.5 824.2 L191.7 810.6 L192.9 811.5 L194.1 784.1 L195.3 771.4 L196.5 772.3 L197.7 767.7 L198.9 811.2 L200.1 814.3 L201.3 817.6 L202.5 848.9 L203.7 814.1 L204.9 832.7 L206.1 829.9 L207.3 844 L208.5 855.5 L209.7 858.3 L210.9 858.7 L212.1 822.3 L213.3 810.8 L214.5 792 L215.7 793.4 L216.9 810.7 L218.1 792.3 L219.3 803.5 L220.5 818.2 L221.7 808.1 L222.9 814.6 L224.1 825 L225.3 817.6 L226.5 812.8 L227.7 811.8 L228.9 808.5 L230.1 810.5 L231.3 811.8 L232.5 805.4 L233.7 790.4 L234.9 790.4 L236.1 787.7 L237.3 799.5 L238.5 795.4 L239.7 789.8 L240.9 800.8 L242.1 808.4 L243.3 799.1 L244.5 797.6 L245.7 799.6 L246.9 817.6 L248.1 825.5 L249.3 817 L250.5 818.9 L251.7 831.6 L252.9 834.6 L254.1 843.5 L255.3 834 L256.5 841.2 L257.7 851 L258.9 842.4 L260.1 855.2 L261.3 844.7 L262.5 841.3 L263.7 860.3 L264.9 849 L266.1 844.6 L267.3 841.1 L268.5 849.3 L269.7 834.3 L270.9 829.2 L272.1 833.7 L273.3 834.1 L274.5 834.8 L275.7 830.6 L276.9 834.1 L278.1 823 L279.3 838.2 L280.5 833.9 L281.7 822.4 L282.9 825.8 L284.1 827.1 L285.3 814.9 L286.5 826.7 L287.7 823.2 L288.9 825.6 L290.1 828.2 L291.3 820.3 L292.5 816.1 L293.7 821.8 L294.9 836.1 L296.1 839.5 L297.3 822.7 L298.5 833.4 L299.7 822.8 L300.9 816.4 L302.1 817 L303.3 825.2 L304.5 832.9 L305.7 833.6 L306.9 831.4 L308.1 832.1 L309.3 833.5 L310.5 834.5 L311.7 827.2 L312.9 835.6 L314.1 831.3 L315.3 830.5 L316.5 831.4 L317.7 826.4 L318.9 835.8 L320.1 825.7 L321.3 827.5 L322.5 831.4 L323.7 832.5 L324.9 832.3 L326.1 847.1 L327.3 850.3 L328.5 838.9 L329.7 838.4 L330.9 832.7 L332.1 828.5 L333.3 832.9 L334.5 829.3 L335.7 836.8 L336.9 830.7 L338.1 823.4 L339.3 820.6 L340.5 827.7 L341.7 822 L342.9 818.2 L344.1 824.5 L345.3 820.3 L346.5 824.1 L347.7 817.8 L348.9 822.1 L350.1 825.8 L351.3 823.9 L352.5 815.2 L353.7 814.2 L354.9 819.4 L356.1 810.2 L357.3 806.7 L358.5 800.4 L359.7 797.5 L360.9 800.1 L362.1 798.8 L363.3 797.2 L364.5 787.4 L365.7 785.3 L366.9 800.2 L368.1 798.4 L369.3 798.6 L370.5 858.2 L371.7 863.7 L372.9 854 L374.1 856.9 L375.3 847.9 L376.5 844.2 L377.7 830.4 L378.9 836.8 L380.1 835.7 L381.3 850.3 L382.5 836.6 L383.7 852.4 L384.9 842.5 L386.1 843.9 L387.3 849.1 L388.5 857.2 L389.7 850.7 L390.9 855.9 L392.1 857.9 L393.3 856.3 L394.5 851.1 L395.7 843.1 L396.9 838.8 L398.1 836.1 L399.3 830.6 L400.5 820 L401.7 817.5 L402.9 819 L404.1 809.7 L405.3 807.8 L406.5 801.4 L407.7 810.5 L408.9 791 L410.1 792.3 L411.3 799 L412.5 789.9 L413.7 789.2 L414.9 792.7 L416.1 798.5 L417.3 799 L418.5 802 L419.7 804 L420.9 808.9 L422.1 804 L423.3 809.3 L424.5 817.8 L425.7 823.2 L426.9 824.6 L428.1 819.4 L429.3 831.1 L430.5 836.1 L431.7 848.6 L432.9 849.7 L434.1 859.7 L435.3 863.6 L436.5 870.6 L437.7 871 L438.9 868.5 L440.1 863 L441.3 870.4 L442.5 865.7 L443.7 860.1 L444.9 860.3 L446.1 862.6 L447.3 860.3 L448.5 860.5 L449.7 853.9 L450.9 845.7 L452.1 843.9 L453.3 850.1 L454.5 847.6 L455.7 851.5 L456.9 843.5 L458.1 846.7 L459.3 850.3 L460.5 855.4 L461.7 844.4 L462.9 847.7 L464.1 841.3 L465.3 840 L466.5 847.6 L467.7 847.7 L468.9 850.1 L470.1 851.7 L471.3 853.3 L472.5 850.9 L473.7 854.7 L474.9 852.5 L476.1 851.6 L477.3 852.7 L478.5 848.6 L479.7 842.1 L480.9 842.1 L482.1 833.2 L483.3 815.5 L484.5 808.3 L485.7 807.2 L486.9 797.6 L488.1 797.9 L489.3 785.6 L490.5 784.3 L491.7 771.8 L492.9 770.4 L494.1 757.1 L495.3 774.7 L496.5 770.8 L497.7 760.6 L498.9 753.4 L500.1 768.3 L501.3 767.1 L502.5 775.4 L503.7 776 L504.9 786.4 L506.1 786.2 L507.3 795.5 L508.5 802.9 L509.7 815.1 L510.9 814.6 L512.1 818.6 L513.3 831.4 L514.5 843.6 L515.7 852.5 L516.9 869.1 L518.1 866 L519.3 873.3 L520.5 864.3 L521.7 871 L522.9 863.3 L524.1 865.2 L525.3 861.6 L526.5 857.4 L527.7 852.3 L528.9 854.7 L530.1 857.2 L531.3 846.6 L532.5 863.6 L533.7 859.4 L534.9 852.3 L536.1 859.2 L537.3 853 L538.5 852.4 L539.7 844.4 L540.9 834.1 L542.1 832.1 L543.3 836 L544.5 829.2 L545.7 832.2 L546.9 830.4 L548.1 828 L549.3 826.5 L550.5 822.7 L551.7 827.1 L552.9 824.3 L554.1 823.3 L555.3 819.7 L556.5 828.2 L557.7 814 L558.9 813 L560.1 804.3 L561.3 807.5 L562.5 816.3 L563.7 816.4 L564.9 810.3 L566.1 813.4 L567.3 811.7 L568.5 812.5 L569.7 810.4 L570.9 816.8 L572.1 816.9 L573.3 813.4 L574.5 823.3 L575.7 810.7 L576.9 816.3 L578.1 809.7 L579.3 818.3 L580.5 814.8 L581.7 820.8 L582.9 811.4 L584.1 813.3 L585.3 811.1 L586.5 820.1 L587.7 812.5 L588.9 807.6 L590.1 810.7 L591.3 806.4 L592.5 813.7 L593.7 817.1 L594.9 816.4 L596.1 827.4 L597.3 825.5 L598.5 818.3 L599.7 821.4 L600.9 822.5 L602.1 824.2 L603.3 829.6 L604.5 832.8 L605.7 827.9 L606.9 830.1 L608.1 829.5 L609.3 825.1 L610.5 831.1 L611.7 836 L612.9 839 L614.1 844.6 L615.3 847.6 L616.5 842.5 L617.7 847.8 L618.9 848.1 L620.1 849.8 L621.3 849.1 L622.5 850.5 L623.7 847.9 L624.9 855.7 L626.1 845.5 L627.3 823.9 L628.5 816 L629.7 785.8 L630.9 769.1 L632.1 733.2 L633.3 702.8 L634.5 712.5 L635.7 702 L636.9 695.7 L638.1 727.9 L639.3 773.5 L640.5 811.3 L641.7 828.9 L642.9 837.9 L644.1 850.3 L645.3 865.6 L646.5 847.4 L647.7 837.2 L648.9 845.7 L650.1 841.3 L651.3 831.5 L652.5 853.7 L653.7 839.7 L654.9 864.6 L656.1 864 L657.3 861 L658.5 857.7 L659.7 841.1 L660.9 848 L662.1 851 L663.3 834.6 L664.5 836.4 L665.7 833.7 L666.9 830.6 L668.1 833.4 L669.3 837.7 L670.5 852 L671.7 853.4 L672.9 845.1 L674.1 834.8 L675.3 836.3 L676.5 826.8 L677.7 811.5 L678.9 816.9 L680.1 801.7 L681.3 800.1 L682.5 801.4 L683.7 792.2 L684.9 802.2 L686.1 793.2 L687.3 786.5 L688.5 778.3 L689.7 785.9 L690.9 771.4 L692.1 770.4 L693.3 775.6 L694.5 781.2 L695.7 772 L696.9 779.2 L698.1 780.1 L699.3 774.9 L700.5 774.4 L701.7 758.1 L702.9 763 L704.1 759.8 L705.3 769.1 L706.5 770.6 L707.7 788.4 L708.9 791.4 L710.1 798.5 L711.3 797.1 L712.5 790.1 L713.7 804.3 L714.9 810 L716.1 829.9 L717.3 819.7 L718.5 827 L719.7 824.9 L720.9 832.5 L722.1 830.3 L723.3 827.7 L724.5 832.8 L725.7 834.3 L726.9 839.5 L728.1 837.8 L729.3 838 L730.5 835 L731.7 843.8 L732.9 840.4 L734.1 835.4 L735.3 847.8 L736.5 844.9 L737.7 842.6 L738.9 829.7 L740.1 823.5 L741.3 821.4 L742.5 812.8 L743.7 811.5 L744.9 826.6 L746.1 822.9 L747.3 821.9 L748.5 817.9 L749.7 816 L750.9 812.5 L752.1 820.5 L753.3 814.3 L754.5 821.1 L755.7 817.5 L756.9 823 L758.1 818.4 L759.3 815.4 L760.5 824.7 L761.7 829.8 L762.9 840.1 L764.1 829.8 L765.3 827.5 L766.5 821.8 L767.7 825.1 L768.9 818.4 L770.1 819.1 L771.3 822.8 L772.5 823.1 L773.7 819.2 L774.9 824.1 L776.1 829.6 L777.3 835.2 L778.5 833.5 L779.7 837 L780.9 828.8 L782.1 838 L783.3 830.9 L784.5 822.1 L785.7 831.5 L786.9 828.6 L788.1 834.6 L789.3 830.5 L790.5 817.3 L791.7 825.6 L792.9 823.6 L794.1 825.1 L795.3 830.2 L796.5 827.8 L797.7 845.6 L798.9 836 L800.1 839.1 L801.3 832.1 L802.5 847.6 L803.7 848.6 L804.9 850.6 L806.1 867.9 L807.3 858.1 L808.5 865.8 L809.7 871.5 L810.9 856.9 L812.1 862.5 L813.3 862.7 L814.5 860.4 L815.7 866.2 L816.9 865.4 L818.1 865.2 L819.3 855.6 L820.5 870 L821.7 862.1 L822.9 855.9 L824.1 867.8 L825.3 862.6 L826.5 859.8 L827.7 867.5 L828.9 889.2 L830.1 881.7 L831.3 859.2 L832.5 855.6 L833.7 862.5 L834.9 843.7 L836.1 855.1 L837.3 852.7 L838.5 854 L839.7 861 L840.9 842.2 L842.1 861.5 L843.3 856 L844.5 861.2 L845.7 868.6 L846.9 858.7 L848.1 865.6 L849.3 869.1 L850.5 866.5 L851.7 862 L852.9 861 L854.1 856.1 L855.3 848.5 L856.5 845.6 L857.7 837.6 L858.9 850.5 L860.1 840.3 L861.3 830.7 L862.5 841.5 L863.7 840.3 L864.9 832.6 L866.1 844.2 L867.3 831.8 L868.5 821.8 L869.7 797.8 L870.9 784.1 L872.1 794.6 L873.3 787.8 L874.5 790.7 L875.7 783.9 L876.9 784.3 L878.1 783.2 L879.3 782 L880.5 787.8 L881.7 777.3 L882.9 780.8 L884.1 777.2 L885.3 758.3 L886.5 747.6 L887.7 744.4 L888.9 752.3 L890.1 738.1" fill="none" stroke="#bcbcbc" stroke-width="1.8" stroke-linejoin="round" opacity="0.6"/>
<path d="M173.7 909.1 L174.9 906.6 L176.1 904.8 L177.3 906.4 L178.5 894.7 L179.7 874.6 L180.9 864 L182.1 852.9 L183.3 856.4 L184.5 845.5 L185.7 846.5 L186.9 846.2 L188.1 839.7 L189.3 835.3 L190.5 843.6 L191.7 837.8 L192.9 820.7 L194.1 801.3 L195.3 795.4 L196.5 801.2 L197.7 800.9 L198.9 818.6 L200.1 847.4 L201.3 871.7 L202.5 865.9 L203.7 849 L204.9 858.7 L206.1 881.1 L207.3 898.4 L208.5 889.9 L209.7 890.8 L210.9 870.7 L212.1 842.6 L213.3 826.1 L214.5 829.7 L215.7 831.8 L216.9 831.3 L218.1 820.3 L219.3 822.7 L220.5 833.3 L221.7 840.7 L222.9 824.5 L224.1 829.1 L225.3 830.4 L226.5 844 L227.7 825.5 L228.9 829 L230.1 828.2 L231.3 821.1 L232.5 815.7 L233.7 807.1 L234.9 811.3 L236.1 807.3 L237.3 803 L238.5 813.5 L239.7 794.4 L240.9 820.9 L242.1 811.5 L243.3 819.6 L244.5 819.9 L245.7 828.1 L246.9 833.9 L248.1 842.1 L249.3 835.2 L250.5 848 L251.7 852.4 L252.9 848.6 L254.1 837.1 L255.3 850.8 L256.5 850.4 L257.7 862.4 L258.9 850.5 L260.1 864.8 L261.3 856.7 L262.5 867 L263.7 856.7 L264.9 864.9 L266.1 859.2 L267.3 857.5 L268.5 861.6 L269.7 842.7 L270.9 840.9 L272.1 850.2 L273.3 845.3 L274.5 842.4 L275.7 852 L276.9 843 L278.1 840.8 L279.3 839 L280.5 840.8 L281.7 847.5 L282.9 835 L284.1 844.9 L285.3 839.2 L286.5 841.8 L287.7 831.6 L288.9 843.6 L290.1 843.7 L291.3 845.9 L292.5 832.4 L293.7 830 L294.9 846.1 L296.1 837.6 L297.3 853.6 L298.5 842.8 L299.7 836.2 L300.9 830 L302.1 833.5 L303.3 839 L304.5 838.3 L305.7 843.9 L306.9 849.8 L308.1 847.8 L309.3 847.9 L310.5 842.3 L311.7 828.8 L312.9 837.5 L314.1 842.4 L315.3 835.5 L316.5 838.7 L317.7 851.8 L318.9 851.7 L320.1 847.1 L321.3 835.8 L322.5 838.6 L323.7 837.4 L324.9 842 L326.1 845.8 L327.3 840.8 L328.5 847.7 L329.7 839.5 L330.9 852.3 L332.1 837.8 L333.3 842.7 L334.5 839.7 L335.7 841 L336.9 830.4 L338.1 826.2 L339.3 822.4 L340.5 829.8 L341.7 837.7 L342.9 836.2 L344.1 830.5 L345.3 834.3 L346.5 821.5 L347.7 829.9 L348.9 824.2 L350.1 826.4 L351.3 836.1 L352.5 829.3 L353.7 824 L354.9 830.1 L356.1 823.9 L357.3 824.5 L358.5 823.1 L359.7 818 L360.9 815 L362.1 827.6 L363.3 812.7 L364.5 812.9 L365.7 808.7 L366.9 801.8 L368.1 808 L369.3 823.9 L370.5 874 L371.7 874.1 L372.9 864.3 L374.1 860.2 L375.3 866.4 L376.5 857.4 L377.7 863.1 L378.9 857.1 L380.1 847.3 L381.3 852.3 L382.5 854.3 L383.7 864.6 L384.9 859.8 L386.1 867.2 L387.3 871.6 L388.5 868.9 L389.7 864 L390.9 866.7 L392.1 867.8 L393.3 863.7 L394.5 864.1 L395.7 856.4 L396.9 847.2 L398.1 845.7 L399.3 843.9 L400.5 830.6 L401.7 832.1 L402.9 819.3 L404.1 815 L405.3 818.8 L406.5 821.8 L407.7 806 L408.9 821.9 L410.1 810.5 L411.3 805.9 L412.5 809 L413.7 800.1 L414.9 808 L416.1 807.8 L417.3 799.2 L418.5 799.2 L419.7 806.4 L420.9 811.7 L422.1 818 L423.3 818.2 L424.5 817.5 L425.7 828.7 L426.9 830.9 L428.1 834.8 L429.3 838.6 L430.5 842 L431.7 851 L432.9 863.1 L434.1 864.1 L435.3 870.3 L436.5 862.2 L437.7 869.9 L438.9 863.6 L440.1 870.5 L441.3 871.1 L442.5 868.9 L443.7 870.6 L444.9 862 L446.1 867.1 L447.3 860.9 L448.5 856.5 L449.7 856.2 L450.9 856 L452.1 849.9 L453.3 853.3 L454.5 850.9 L455.7 845.2 L456.9 839.3 L458.1 847 L459.3 851.1 L460.5 845.8 L461.7 849 L462.9 843.8 L464.1 850.3 L465.3 851.5 L466.5 848.5 L467.7 849.6 L468.9 845.3 L470.1 855.6 L471.3 853.4 L472.5 861.1 L473.7 867.6 L474.9 860.2 L476.1 859.4 L477.3 860.6 L478.5 852.6 L479.7 845.7 L480.9 844.4 L482.1 830.7 L483.3 824.6 L484.5 815.5 L485.7 813.7 L486.9 802.5 L488.1 803 L489.3 795.1 L490.5 792.2 L491.7 782.6 L492.9 781.1 L494.1 785.5 L495.3 784 L496.5 784.2 L497.7 782.5 L498.9 769.3 L500.1 780.9 L501.3 786.8 L502.5 791 L503.7 793.8 L504.9 789.2 L506.1 798 L507.3 801.1 L508.5 810.6 L509.7 821.4 L510.9 827.6 L512.1 828.5 L513.3 837.9 L514.5 856.5 L515.7 852.7 L516.9 862.6 L518.1 860.4 L519.3 875.1 L520.5 877.2 L521.7 874.9 L522.9 867.4 L524.1 882.9 L525.3 870.1 L526.5 868.9 L527.7 856.5 L528.9 861.7 L530.1 857.2 L531.3 853.5 L532.5 848.4 L533.7 855.2 L534.9 845.6 L536.1 854.2 L537.3 843.8 L538.5 850 L539.7 848 L540.9 848.6 L542.1 839.3 L543.3 844.8 L544.5 847.9 L545.7 842.8 L546.9 837.4 L548.1 839.3 L549.3 836.3 L550.5 839.5 L551.7 833.9 L552.9 840.1 L554.1 834.6 L555.3 833 L556.5 834.4 L557.7 829.1 L558.9 828.2 L560.1 828.7 L561.3 827.1 L562.5 826.5 L563.7 812.8 L564.9 822.7 L566.1 827.9 L567.3 825.2 L568.5 824.2 L569.7 818.5 L570.9 823.2 L572.1 822.4 L573.3 814.1 L574.5 822.8 L575.7 820.3 L576.9 812.7 L578.1 814.4 L579.3 823.4 L580.5 823.5 L581.7 828 L582.9 832.4 L584.1 808.1 L585.3 817.1 L586.5 822.6 L587.7 817.8 L588.9 818.4 L590.1 821.1 L591.3 816.3 L592.5 821.3 L593.7 818.2 L594.9 818.6 L596.1 822.7 L597.3 828.3 L598.5 826.6 L599.7 822.7 L600.9 829.8 L602.1 835.9 L603.3 836.3 L604.5 827.8 L605.7 833.2 L606.9 831.7 L608.1 837.5 L609.3 829.8 L610.5 839.9 L611.7 848.5 L612.9 845.1 L614.1 856 L615.3 855.3 L616.5 855.5 L617.7 860.8 L618.9 857.9 L620.1 864.2 L621.3 864.4 L622.5 864.5 L623.7 870.1 L624.9 873.1 L626.1 857.4 L627.3 870.6 L628.5 857 L629.7 831.5 L630.9 827.4 L632.1 810.7 L633.3 764.5 L634.5 772.2 L635.7 758.9 L636.9 770.8 L638.1 784.1 L639.3 827.4 L640.5 837.6 L641.7 865.8 L642.9 876 L644.1 899.3 L645.3 896.9 L646.5 881.1 L647.7 869.6 L648.9 881 L650.1 874.7 L651.3 880.4 L652.5 886.8 L653.7 889.1 L654.9 893.1 L656.1 894.4 L657.3 877.5 L658.5 876 L659.7 876.3 L660.9 873.1 L662.1 857.9 L663.3 857.7 L664.5 858.5 L665.7 838.6 L666.9 846.6 L668.1 849.6 L669.3 851.2 L670.5 854.7 L671.7 861.8 L672.9 850.1 L674.1 846.2 L675.3 835.1 L676.5 819.4 L677.7 809.4 L678.9 813.6 L680.1 813.6 L681.3 811.4 L682.5 799.2 L683.7 799.3 L684.9 794 L686.1 781.9 L687.3 778.1 L688.5 786.5 L689.7 778 L690.9 775.7 L692.1 774.2 L693.3 776.2 L694.5 782.9 L695.7 768.3 L696.9 772.1 L698.1 773 L699.3 765 L700.5 782.9 L701.7 766 L702.9 771.9 L704.1 763.2 L705.3 767.9 L706.5 783.1 L707.7 789.5 L708.9 795.5 L710.1 788.1 L711.3 796.4 L712.5 802.8 L713.7 817.7 L714.9 820.1 L716.1 822.7 L717.3 838.8 L718.5 840.4 L719.7 835.2 L720.9 839.7 L722.1 837 L723.3 849.9 L724.5 839.5 L725.7 843.3 L726.9 849.1 L728.1 853.6 L729.3 851.5 L730.5 853.5 L731.7 848.6 L732.9 861.3 L734.1 862.2 L735.3 864.4 L736.5 851.4 L737.7 858.7 L738.9 848.6 L740.1 842.9 L741.3 834.8 L742.5 841.6 L743.7 831.4 L744.9 840.3 L746.1 836.7 L747.3 833.8 L748.5 834.6 L749.7 835.8 L750.9 839 L752.1 829.4 L753.3 838.9 L754.5 830 L755.7 831.4 L756.9 828.9 L758.1 832.8 L759.3 838.8 L760.5 838.8 L761.7 842.2 L762.9 834 L764.1 848.6 L765.3 835.6 L766.5 839.2 L767.7 835.1 L768.9 840.8 L770.1 840.1 L771.3 835.1 L772.5 826.6 L773.7 833.5 L774.9 829.5 L776.1 837.3 L777.3 833.5 L778.5 846.5 L779.7 838.6 L780.9 841.6 L782.1 837.1 L783.3 831.9 L784.5 831.9 L785.7 833.9 L786.9 832.3 L788.1 830.2 L789.3 838.4 L790.5 826.3 L791.7 838.5 L792.9 823.9 L794.1 827.6 L795.3 827.8 L796.5 829.5 L797.7 835.2 L798.9 823.4 L800.1 822.2 L801.3 832.5 L802.5 835.4 L803.7 849.1 L804.9 853.8 L806.1 849.9 L807.3 861 L808.5 854.6 L809.7 846.4 L810.9 850.7 L812.1 855.6 L813.3 856.3 L814.5 853.4 L815.7 861.9 L816.9 849.8 L818.1 852 L819.3 861.7 L820.5 864.7 L821.7 863.6 L822.9 860.8 L824.1 855.7 L825.3 868.4 L826.5 872.6 L827.7 874.3 L828.9 879 L830.1 869.3 L831.3 867.4 L832.5 873.4 L833.7 869.2 L834.9 856.7 L836.1 861.7 L837.3 862.9 L838.5 854.1 L839.7 868.5 L840.9 865.2 L842.1 870 L843.3 870.9 L844.5 869.4 L845.7 880.8 L846.9 887.3 L848.1 897.7 L849.3 872 L850.5 884.6 L851.7 883.1 L852.9 875.6 L854.1 875.1 L855.3 855.9 L856.5 856 L857.7 864.2 L858.9 843.2 L860.1 848.2 L861.3 843.2 L862.5 846.8 L863.7 853.6 L864.9 857.5 L866.1 846.4 L867.3 848.9 L868.5 824.4 L869.7 804.1 L870.9 794.2 L872.1 802.8 L873.3 793.4 L874.5 797.9 L875.7 792.6 L876.9 795.1 L878.1 798.6 L879.3 780.6 L880.5 788.6 L881.7 790.7 L882.9 783 L884.1 775.8 L885.3 783.5 L886.5 774.6 L887.7 770.8 L888.9 770.2 L890.1 742.4" fill="none" stroke="#bcbcbc" stroke-width="1.8" stroke-linejoin="round" opacity="0.6"/>
<path d="M173.7 873.6 L174.9 870.4 L176.1 886.3 L177.3 876.3 L178.5 861.2 L179.7 855.2 L180.9 844.9 L182.1 827.7 L183.3 820.7 L184.5 829.2 L185.7 828.9 L186.9 825.9 L188.1 825.7 L189.3 819.7 L190.5 817.6 L191.7 808.9 L192.9 805 L194.1 788.4 L195.3 772.1 L196.5 767.6 L197.7 771.1 L198.9 796.7 L200.1 807.8 L201.3 817.3 L202.5 841.4 L203.7 829.7 L204.9 821.1 L206.1 830.2 L207.3 866.1 L208.5 862.5 L209.7 872.9 L210.9 852.4 L212.1 817.9 L213.3 818.3 L214.5 799.6 L215.7 798.3 L216.9 801.5 L218.1 798.4 L219.3 803.6 L220.5 814.9 L221.7 824.7 L222.9 807 L224.1 806.3 L225.3 820.7 L226.5 817.7 L227.7 799.5 L228.9 805.3 L230.1 821.5 L231.3 798.4 L232.5 798.8 L233.7 805.3 L234.9 802.5 L236.1 792.7 L237.3 787.4 L238.5 792.9 L239.7 796.9 L240.9 800.9 L242.1 812.2 L243.3 809.8 L244.5 806 L245.7 828.7 L246.9 811.5 L248.1 818.5 L249.3 826 L250.5 832.4 L251.7 845.9 L252.9 840.1 L254.1 834.2 L255.3 844.4 L256.5 834 L257.7 858.1 L258.9 852.7 L260.1 852.3 L261.3 854 L262.5 833.3 L263.7 843.8 L264.9 846.6 L266.1 853.2 L267.3 849.1 L268.5 842.3 L269.7 838.5 L270.9 839.4 L272.1 844.1 L273.3 840.4 L274.5 823.5 L275.7 834.6 L276.9 822.1 L278.1 820.8 L279.3 817.3 L280.5 823 L281.7 827.2 L282.9 819.4 L284.1 819 L285.3 823.7 L286.5 828.8 L287.7 825.9 L288.9 819.3 L290.1 834.8 L291.3 823.2 L292.5 819.5 L293.7 821.8 L294.9 821.5 L296.1 828.5 L297.3 816.5 L298.5 830.2 L299.7 814.4 L300.9 819.9 L302.1 813 L303.3 826.3 L304.5 814.1 L305.7 806.1 L306.9 822.2 L308.1 819.9 L309.3 828.3 L310.5 829.9 L311.7 831.4 L312.9 821.3 L314.1 824 L315.3 819.1 L316.5 816.9 L317.7 827.8 L318.9 822.3 L320.1 823.7 L321.3 817.1 L322.5 823.5 L323.7 828 L324.9 828.5 L326.1 830.7 L327.3 826.5 L328.5 820.8 L329.7 828.8 L330.9 829.6 L332.1 826.2 L333.3 819.1 L334.5 825.3 L335.7 814.5 L336.9 812.6 L338.1 816.5 L339.3 807.4 L340.5 808.2 L341.7 816 L342.9 803.1 L344.1 802.6 L345.3 811.2 L346.5 822.8 L347.7 819.8 L348.9 824 L350.1 818.4 L351.3 818.9 L352.5 805.8 L353.7 804.4 L354.9 806.1 L356.1 796.1 L357.3 799.7 L358.5 792.6 L359.7 813.7 L360.9 801.7 L362.1 791.4 L363.3 783.6 L364.5 781.2 L365.7 785.4 L366.9 785.8 L368.1 793.1 L369.3 811.4 L370.5 843.4 L371.7 856.6 L372.9 845.8 L374.1 845.2 L375.3 849.2 L376.5 853.1 L377.7 841 L378.9 846 L380.1 842.3 L381.3 841.3 L382.5 850.3 L383.7 852.4 L384.9 850.1 L386.1 850.5 L387.3 857.3 L388.5 857 L389.7 862.4 L390.9 867 L392.1 860.4 L393.3 857.2 L394.5 861.7 L395.7 852.3 L396.9 851.9 L398.1 840.6 L399.3 835.5 L400.5 837 L401.7 821.3 L402.9 817.9 L404.1 820 L405.3 816.5 L406.5 805.4 L407.7 810.8 L408.9 806.7 L410.1 808 L411.3 799.5 L412.5 807.7 L413.7 803.4 L414.9 805.9 L416.1 807.9 L417.3 806.5 L418.5 809.2 L419.7 803.2 L420.9 812.9 L422.1 819.4 L423.3 820.9 L424.5 818.1 L425.7 827.1 L426.9 826.4 L428.1 831.6 L429.3 839.6 L430.5 847.9 L431.7 848 L432.9 856.9 L434.1 866.6 L435.3 870.1 L436.5 864.7 L437.7 865.1 L438.9 872.1 L440.1 874.5 L441.3 864 L442.5 863.1 L443.7 860.8 L444.9 864 L446.1 859.1 L447.3 856 L448.5 856.8 L449.7 852.4 L450.9 853.8 L452.1 846 L453.3 848 L454.5 850.3 L455.7 849.4 L456.9 849.7 L458.1 844.5 L459.3 844.8 L460.5 845.5 L461.7 846.8 L462.9 841.6 L464.1 845.3 L465.3 851.1 L466.5 845.9 L467.7 850.3 L468.9 846.4 L470.1 844.1 L471.3 850.7 L472.5 851.3 L473.7 855.8 L474.9 862.7 L476.1 852.2 L477.3 851.9 L478.5 844.7 L479.7 842.2 L480.9 833.9 L482.1 822.2 L483.3 820.4 L484.5 816.4 L485.7 809.9 L486.9 795.5 L488.1 794.1 L489.3 785.7 L490.5 782.2 L491.7 769.2 L492.9 770.7 L494.1 776.3 L495.3 751 L496.5 762.3 L497.7 747.4 L498.9 762.5 L500.1 766.7 L501.3 767.8 L502.5 772.2 L503.7 775.4 L504.9 777.2 L506.1 772.9 L507.3 788.8 L508.5 798.7 L509.7 795.1 L510.9 806.5 L512.1 810.9 L513.3 819.2 L514.5 835.6 L515.7 847.9 L516.9 852.6 L518.1 852.4 L519.3 859.1 L520.5 860.9 L521.7 860.6 L522.9 864.1 L524.1 847.8 L525.3 838.9 L526.5 843.4 L527.7 853.9 L528.9 849.2 L530.1 847.9 L531.3 835.3 L532.5 841.3 L533.7 836 L534.9 843.3 L536.1 843.2 L537.3 843.7 L538.5 825.2 L539.7 823.5 L540.9 825.4 L542.1 829.7 L543.3 830.5 L544.5 825.8 L545.7 820.8 L546.9 820.7 L548.1 823.9 L549.3 814.7 L550.5 816.4 L551.7 818.7 L552.9 819.1 L554.1 817.7 L555.3 820.5 L556.5 810.8 L557.7 818.6 L558.9 805.7 L560.1 812.5 L561.3 798.1 L562.5 802 L563.7 803.1 L564.9 796.4 L566.1 810 L567.3 805 L568.5 806.4 L569.7 802.8 L570.9 803.1 L572.1 805.7 L573.3 805.5 L574.5 805.4 L575.7 801.4 L576.9 805.4 L578.1 813.9 L579.3 803.9 L580.5 807.2 L581.7 806.8 L582.9 799.1 L584.1 809.4 L585.3 805.1 L586.5 810.6 L587.7 813.8 L588.9 806.2 L590.1 808.5 L591.3 811.2 L592.5 816.8 L593.7 813.3 L594.9 819.9 L596.1 811.4 L597.3 814.2 L598.5 818.7 L599.7 816.8 L600.9 820.6 L602.1 821.8 L603.3 827.1 L604.5 823.6 L605.7 825.1 L606.9 833.1 L608.1 825.8 L609.3 827.6 L610.5 832.2 L611.7 835.7 L612.9 835 L614.1 833.8 L615.3 841.7 L616.5 853.2 L617.7 843 L618.9 849.1 L620.1 852.5 L621.3 855.2 L622.5 842.6 L623.7 849.1 L624.9 850.3 L626.1 840.6 L627.3 831.4 L628.5 817.1 L629.7 790.1 L630.9 770.2 L632.1 718.6 L633.3 715.5 L634.5 690.4 L635.7 703.6 L636.9 707.3 L638.1 747.9 L639.3 783.8 L640.5 819.2 L641.7 838.7 L642.9 851.7 L644.1 850.3 L645.3 846 L646.5 851.9 L647.7 855.2 L648.9 831.3 L650.1 836.6 L651.3 846 L652.5 836.8 L653.7 852.3 L654.9 858.2 L656.1 861.1 L657.3 846.8 L658.5 846.1 L659.7 852.2 L660.9 840.3 L662.1 832.2 L663.3 839 L664.5 833.8 L665.7 832.2 L666.9 838.7 L668.1 840 L669.3 832.1 L670.5 839.6 L671.7 843.5 L672.9 848.5 L674.1 838.2 L675.3 826.9 L676.5 824.8 L677.7 814.3 L678.9 814.7 L680.1 798.3 L681.3 807.9 L682.5 807.1 L683.7 787.6 L684.9 788.1 L686.1 788.1 L687.3 775.4 L688.5 778 L689.7 765.8 L690.9 761 L692.1 767.3 L693.3 782 L694.5 783.6 L695.7 775.5 L696.9 779.3 L698.1 775.3 L699.3 774.9 L700.5 778.3 L701.7 779.2 L702.9 781.1 L704.1 764.9 L705.3 775.8 L706.5 789.1 L707.7 795.1 L708.9 807 L710.1 807.3 L711.3 796.5 L712.5 809.1 L713.7 817.3 L714.9 817.6 L716.1 824.2 L717.3 839.8 L718.5 843.9 L719.7 840.8 L720.9 842.5 L722.1 834.2 L723.3 843 L724.5 845 L725.7 852.5 L726.9 850.7 L728.1 851 L729.3 845.4 L730.5 848 L731.7 855.2 L732.9 858.8 L734.1 860.8 L735.3 863 L736.5 869.8 L737.7 849.7 L738.9 847.6 L740.1 847.6 L741.3 840 L742.5 833.8 L743.7 832.5 L744.9 840.2 L746.1 836 L747.3 835.5 L748.5 832.3 L749.7 830.5 L750.9 824.6 L752.1 837.1 L753.3 827.8 L754.5 836.2 L755.7 835.3 L756.9 817.9 L758.1 842.8 L759.3 836.4 L760.5 843.3 L761.7 841.1 L762.9 846.7 L764.1 840.7 L765.3 842 L766.5 834.7 L767.7 839.7 L768.9 847.9 L770.1 838.4 L771.3 837 L772.5 842.8 L773.7 840.6 L774.9 843 L776.1 842.6 L777.3 843.8 L778.5 854.9 L779.7 849 L780.9 844.4 L782.1 834.7 L783.3 841.1 L784.5 831.9 L785.7 834.8 L786.9 846.2 L788.1 838.2 L789.3 833.6 L790.5 837.9 L791.7 825.8 L792.9 826.1 L794.1 833.1 L795.3 834.3 L796.5 831.1 L797.7 835.4 L798.9 840.6 L800.1 836 L801.3 842.4 L802.5 848 L803.7 852.5 L804.9 864.4 L806.1 857.9 L807.3 862.5 L808.5 859.8 L809.7 855.7 L810.9 858.3 L812.1 849.9 L813.3 857.7 L814.5 872 L815.7 856.3 L816.9 848.7 L818.1 862.9 L819.3 860.7 L820.5 859.9 L821.7 850.7 L822.9 841.1 L824.1 851.1 L825.3 851.8 L826.5 850.3 L827.7 864.5 L828.9 868.3 L830.1 873.5 L831.3 858.8 L832.5 848.4 L833.7 840.3 L834.9 840 L836.1 840.3 L837.3 838.6 L838.5 836.6 L839.7 848.9 L840.9 851.9 L842.1 839.5 L843.3 863.5 L844.5 858.1 L845.7 858.7 L846.9 866.9 L848.1 860.6 L849.3 858.1 L850.5 861.2 L851.7 854.1 L852.9 853.4 L854.1 849 L855.3 839.2 L856.5 828.8 L857.7 836.2 L858.9 835 L860.1 836.9 L861.3 846.4 L862.5 835.5 L863.7 838 L864.9 850.7 L866.1 841.5 L867.3 827.2 L868.5 823.5 L869.7 799.9 L870.9 797.3 L872.1 805.7 L873.3 789.7 L874.5 792.4 L875.7 775.6 L876.9 776.3 L878.1 793 L879.3 785.9 L880.5 788.1 L881.7 781.1 L882.9 776.3 L884.1 783.8 L885.3 762.3 L886.5 771.8 L887.7 741.6 L888.9 763.9 L890.1 737.2" fill="none" stroke="#bcbcbc" stroke-width="1.8" stroke-linejoin="round" opacity="0.6"/>
<path d="M173.7 894.8 L174.9 896.3 L176.1 892.6 L177.3 891.1 L178.5 895 L179.7 866.4 L180.9 842.3 L182.1 837.9 L183.3 832.5 L184.5 838.6 L185.7 828.5 L186.9 825.9 L188.1 836.7 L189.3 847.2 L190.5 829.8 L191.7 824.4 L192.9 812.2 L194.1 801.6 L195.3 788.1 L196.5 782.3 L197.7 787.3 L198.9 817.2 L200.1 825.3 L201.3 859.1 L202.5 853.4 L203.7 831.3 L204.9 855.8 L206.1 871 L207.3 874.5 L208.5 889.2 L209.7 884.2 L210.9 875.8 L212.1 852 L213.3 824.7 L214.5 818.9 L215.7 813.9 L216.9 819.4 L218.1 826 L219.3 829.1 L220.5 829.4 L221.7 843.1 L222.9 827.1 L224.1 838.4 L225.3 833.3 L226.5 825.7 L227.7 841.9 L228.9 838.7 L230.1 837.6 L231.3 845.9 L232.5 815.4 L233.7 826.6 L234.9 821.4 L236.1 828.9 L237.3 824.8 L238.5 828.6 L239.7 823.8 L240.9 831.2 L242.1 839.3 L243.3 829.4 L244.5 826.4 L245.7 832 L246.9 839.3 L248.1 854.2 L249.3 843.2 L250.5 858.2 L251.7 859.1 L252.9 856 L254.1 864 L255.3 860.9 L256.5 869.3 L257.7 890.5 L258.9 864.4 L260.1 876.3 L261.3 885.7 L262.5 875.2 L263.7 863.2 L264.9 866.4 L266.1 864.1 L267.3 856.1 L268.5 858.8 L269.7 855.2 L270.9 844.7 L272.1 838.6 L273.3 850.6 L274.5 842.4 L275.7 847.9 L276.9 839.4 L278.1 839.4 L279.3 846.6 L280.5 845.2 L281.7 835.3 L282.9 829.3 L284.1 835.4 L285.3 828.6 L286.5 837.7 L287.7 831.9 L288.9 833.1 L290.1 837.3 L291.3 828.8 L292.5 835.1 L293.7 829.7 L294.9 844.4 L296.1 834.7 L297.3 835.4 L298.5 825.6 L299.7 835.6 L300.9 835.1 L302.1 829.5 L303.3 832.5 L304.5 824.9 L305.7 823.2 L306.9 827.9 L308.1 831.7 L309.3 832.2 L310.5 829.7 L311.7 834.3 L312.9 830.9 L314.1 824.6 L315.3 841.6 L316.5 829.6 L317.7 830.3 L318.9 825.7 L320.1 836.3 L321.3 829.3 L322.5 830.4 L323.7 831.8 L324.9 832.6 L326.1 839.9 L327.3 833.6 L328.5 836.1 L329.7 838.1 L330.9 831.1 L332.1 843.7 L333.3 831.1 L334.5 832.5 L335.7 833 L336.9 835.9 L338.1 826.6 L339.3 831.9 L340.5 829.8 L341.7 827.1 L342.9 828 L344.1 830.8 L345.3 823.2 L346.5 836 L347.7 829.8 L348.9 836 L350.1 830.2 L351.3 833.3 L352.5 828.9 L353.7 824.7 L354.9 825.5 L356.1 823.3 L357.3 817.6 L358.5 816.4 L359.7 820.4 L360.9 820.4 L362.1 819.4 L363.3 818.1 L364.5 826.2 L365.7 820.7 L366.9 802.5 L368.1 814.4 L369.3 834.9 L370.5 882.4 L371.7 889.1 L372.9 880.1 L374.1 871.8 L375.3 884.3 L376.5 860.3 L377.7 869.5 L378.9 871.6 L380.1 869.2 L381.3 863.5 L382.5 863.3 L383.7 873.4 L384.9 869.5 L386.1 872.6 L387.3 877 L388.5 876.6 L389.7 882.3 L390.9 878 L392.1 867.7 L393.3 872.8 L394.5 867 L395.7 858.2 L396.9 859.7 L398.1 851.4 L399.3 843.1 L400.5 840.6 L401.7 839.2 L402.9 822.2 L404.1 817.5 L405.3 817.1 L406.5 817.7 L407.7 818.2 L408.9 807.7 L410.1 805.8 L411.3 803.3 L412.5 804.6 L413.7 813.5 L414.9 808.5 L416.1 794.6 L417.3 803.4 L418.5 806.9 L419.7 804.4 L420.9 809.6 L422.1 813.1 L423.3 819.1 L424.5 827.2 L425.7 810.9 L426.9 829.1 L428.1 841.5 L429.3 843.6 L430.5 846 L431.7 855.7 L432.9 863 L434.1 868.1 L435.3 871.2 L436.5 864.6 L437.7 873.2 L438.9 876.7 L440.1 870.2 L441.3 865 L442.5 874.6 L443.7 875.1 L444.9 865.5 L446.1 870 L447.3 863.8 L448.5 862.7 L449.7 863.6 L450.9 853.5 L452.1 857.7 L453.3 853.8 L454.5 860.5 L455.7 852.3 L456.9 854.7 L458.1 852.3 L459.3 847.8 L460.5 849.8 L461.7 850.2 L462.9 854.8 L464.1 847.2 L465.3 847.7 L466.5 848.3 L467.7 846.9 L468.9 853.3 L470.1 852.5 L471.3 855.3 L472.5 857 L473.7 861.4 L474.9 863.5 L476.1 856.8 L477.3 861.3 L478.5 862.2 L479.7 845.4 L480.9 844.2 L482.1 826.4 L483.3 823.1 L484.5 820.8 L485.7 814.5 L486.9 802 L488.1 800.6 L489.3 805.7 L490.5 791.5 L491.7 777.2 L492.9 773 L494.1 769.7 L495.3 775.3 L496.5 781.6 L497.7 777 L498.9 788.2 L500.1 777.9 L501.3 783.9 L502.5 789.7 L503.7 786.4 L504.9 797.2 L506.1 799.5 L507.3 791 L508.5 802.7 L509.7 809.9 L510.9 818.2 L512.1 830 L513.3 833.8 L514.5 853.1 L515.7 862.6 L516.9 870 L518.1 874.3 L519.3 866.5 L520.5 884.4 L521.7 872.9 L522.9 882 L524.1 861.8 L525.3 869.9 L526.5 856.7 L527.7 856 L528.9 858.6 L530.1 851.7 L531.3 847.8 L532.5 858.1 L533.7 848.9 L534.9 846.3 L536.1 854.3 L537.3 853.1 L538.5 848.6 L539.7 846.6 L540.9 842 L542.1 846 L543.3 839.8 L544.5 841.4 L545.7 828.2 L546.9 836.7 L548.1 835.3 L549.3 831.7 L550.5 834.7 L551.7 830.8 L552.9 837.8 L554.1 839.5 L555.3 832.3 L556.5 837.9 L557.7 827.9 L558.9 816.1 L560.1 820.9 L561.3 824 L562.5 821 L563.7 823.5 L564.9 821.9 L566.1 812.7 L567.3 824.6 L568.5 823.1 L569.7 823.9 L570.9 825.3 L572.1 817.6 L573.3 825.2 L574.5 815.2 L575.7 824.7 L576.9 825.5 L578.1 828.6 L579.3 825.4 L580.5 835.2 L581.7 822.2 L582.9 820.5 L584.1 822.3 L585.3 823.2 L586.5 819.6 L587.7 807.4 L588.9 820.5 L590.1 819.2 L591.3 813.1 L592.5 816.9 L593.7 824.1 L594.9 825.1 L596.1 825.4 L597.3 827.7 L598.5 819.7 L599.7 829.8 L600.9 828.1 L602.1 825.9 L603.3 830.6 L604.5 832.7 L605.7 837 L606.9 835.9 L608.1 839.4 L609.3 838.2 L610.5 839.2 L611.7 845.7 L612.9 849.3 L614.1 855.2 L615.3 857.2 L616.5 856.9 L617.7 855.3 L618.9 859.8 L620.1 856.9 L621.3 866.2 L622.5 855.1 L623.7 867.3 L624.9 859.6 L626.1 851.4 L627.3 854.1 L628.5 855.9 L629.7 834.6 L630.9 803.7 L632.1 767.3 L633.3 742.9 L634.5 759.5 L635.7 738.8 L636.9 742.9 L638.1 775.8 L639.3 809.5 L640.5 816.7 L641.7 852.6 L642.9 848.8 L644.1 872.6 L645.3 874.5 L646.5 868.4 L647.7 855 L648.9 859.4 L650.1 856.8 L651.3 863.8 L652.5 866.4 L653.7 880.7 L654.9 870.4 L656.1 866.5 L657.3 877.7 L658.5 856.4 L659.7 850.7 L660.9 862.5 L662.1 857.6 L663.3 848.4 L664.5 845.2 L665.7 846.4 L666.9 831.5 L668.1 838.5 L669.3 844.6 L670.5 844.5 L671.7 859.6 L672.9 834.7 L674.1 829.4 L675.3 822.6 L676.5 811 L677.7 808.5 L678.9 808.8 L680.1 812.1 L681.3 790.8 L682.5 793.5 L683.7 779.5 L684.9 777.4 L686.1 770.3 L687.3 763.3 L688.5 766.3 L689.7 769.4 L690.9 759.1 L692.1 767.7 L693.3 758 L694.5 772.9 L695.7 766.8 L696.9 775.6 L698.1 777.9 L699.3 768.8 L700.5 756.1 L701.7 770.5 L702.9 755.9 L704.1 769.1 L705.3 762 L706.5 787 L707.7 794.7 L708.9 790.5 L710.1 809.6 L711.3 817.1 L712.5 803.6 L713.7 812.1 L714.9 817.8 L716.1 830.6 L717.3 837.6 L718.5 843.8 L719.7 843.9 L720.9 844.1 L722.1 844.3 L723.3 836.5 L724.5 850.9 L725.7 850.1 L726.9 854.9 L728.1 857.2 L729.3 851.3 L730.5 850.4 L731.7 855.6 L732.9 855.3 L734.1 859.4 L735.3 861.9 L736.5 860.1 L737.7 851.7 L738.9 843.4 L740.1 846.1 L741.3 840.5 L742.5 831.2 L743.7 827.8 L744.9 823.9 L746.1 828.6 L747.3 834.2 L748.5 831.2 L749.7 828.7 L750.9 831.7 L752.1 828 L753.3 833.5 L754.5 824.2 L755.7 833.8 L756.9 835.3 L758.1 819.5 L759.3 835.5 L760.5 835.3 L761.7 841.9 L762.9 826.2 L764.1 828 L765.3 826.8 L766.5 821.9 L767.7 823.6 L768.9 822.9 L770.1 817.7 L771.3 820.4 L772.5 813.6 L773.7 812.5 L774.9 816.2 L776.1 830.4 L777.3 834 L778.5 831.8 L779.7 829.8 L780.9 815.8 L782.1 823.9 L783.3 825.8 L784.5 824.9 L785.7 825.2 L786.9 823.2 L788.1 819.5 L789.3 820.1 L790.5 832.6 L791.7 824.8 L792.9 815.5 L794.1 822.2 L795.3 824.9 L796.5 830.6 L797.7 834.9 L798.9 818.4 L800.1 817.2 L801.3 834.7 L802.5 833.6 L803.7 846.5 L804.9 853.8 L806.1 856.8 L807.3 866.7 L808.5 860.9 L809.7 858.7 L810.9 859.2 L812.1 870.4 L813.3 861.1 L814.5 857.3 L815.7 874.1 L816.9 863.8 L818.1 870.5 L819.3 873.2 L820.5 860.6 L821.7 867.1 L822.9 860.2 L824.1 859.9 L825.3 879.7 L826.5 863.8 L827.7 878.4 L828.9 895.2 L830.1 879.9 L831.3 875.8 L832.5 872 L833.7 870.9 L834.9 875.2 L836.1 873.2 L837.3 876.6 L838.5 870.1 L839.7 872.5 L840.9 874.6 L842.1 868.9 L843.3 883.5 L844.5 890.6 L845.7 877.2 L846.9 886.5 L848.1 887.4 L849.3 882.6 L850.5 885.5 L851.7 867.1 L852.9 871.3 L854.1 871 L855.3 876.6 L856.5 857.7 L857.7 866.6 L858.9 854.4 L860.1 841.9 L861.3 836.3 L862.5 845 L863.7 852.5 L864.9 844.9 L866.1 849.8 L867.3 839.2 L868.5 827.3 L869.7 808.9 L870.9 802.1 L872.1 809 L873.3 796.2 L874.5 789.1 L875.7 791 L876.9 792.7 L878.1 783.1 L879.3 801 L880.5 784.9 L881.7 797.6 L882.9 784.8 L884.1 779.8 L885.3 765.9 L886.5 776.6 L887.7 764.5 L888.9 748.2 L890.1 747.8" fill="none" stroke="#bcbcbc" stroke-width="1.8" stroke-linejoin="round" opacity="0.6"/>
<path d="M173.7 853.7 L174.9 873.8 L176.1 849 L177.3 859.9 L178.5 861.5 L179.7 833 L180.9 828.4 L182.1 813.6 L183.3 816.3 L184.5 806.9 L185.7 815.6 L186.9 809.6 L188.1 818.3 L189.3 806.5 L190.5 815.1 L191.7 796 L192.9 790.9 L194.1 770.2 L195.3 746.6 L196.5 755.1 L197.7 758.5 L198.9 787.4 L200.1 805.1 L201.3 813.1 L202.5 825.2 L203.7 812.7 L204.9 818.5 L206.1 837.7 L207.3 851.4 L208.5 862.9 L209.7 854.6 L210.9 843.8 L212.1 817.9 L213.3 820.2 L214.5 802.8 L215.7 802.9 L216.9 794.9 L218.1 817.9 L219.3 792.6 L220.5 803.8 L221.7 819.6 L222.9 810.7 L224.1 820 L225.3 836 L226.5 821.6 L227.7 818.6 L228.9 813 L230.1 814.8 L231.3 809.3 L232.5 829.1 L233.7 798.1 L234.9 789.5 L236.1 808.2 L237.3 802.4 L238.5 811.1 L239.7 808.5 L240.9 807.8 L242.1 801.2 L243.3 808.4 L244.5 800.7 L245.7 824.1 L246.9 810.7 L248.1 816.2 L249.3 825.7 L250.5 816.4 L251.7 845.2 L252.9 847.9 L254.1 823.2 L255.3 832.2 L256.5 840 L257.7 839.4 L258.9 831.9 L260.1 844 L261.3 838.6 L262.5 847.4 L263.7 826.9 L264.9 847.6 L266.1 844.2 L267.3 827.8 L268.5 832.2 L269.7 816.6 L270.9 819.6 L272.1 817.8 L273.3 823.4 L274.5 828.4 L275.7 821 L276.9 816.2 L278.1 816.5 L279.3 820.4 L280.5 821.1 L281.7 822.5 L282.9 805.2 L284.1 809.1 L285.3 809.5 L286.5 807.6 L287.7 822.1 L288.9 828 L290.1 815.7 L291.3 817.7 L292.5 816.3 L293.7 812.9 L294.9 832.6 L296.1 828.3 L297.3 825.9 L298.5 817.2 L299.7 814.1 L300.9 828.3 L302.1 817.3 L303.3 822.7 L304.5 801.9 L305.7 822.4 L306.9 821.9 L308.1 827 L309.3 822.8 L310.5 814.6 L311.7 817.6 L312.9 818.5 L314.1 824.5 L315.3 813 L316.5 824.2 L317.7 827.9 L318.9 821 L320.1 828.9 L321.3 826.5 L322.5 821.2 L323.7 817.8 L324.9 827.6 L326.1 821.3 L327.3 827.5 L328.5 831.4 L329.7 821.9 L330.9 823.2 L332.1 820.1 L333.3 820.9 L334.5 820.1 L335.7 816.9 L336.9 812.9 L338.1 814.8 L339.3 815.5 L340.5 817.9 L341.7 813.3 L342.9 807.7 L344.1 814.6 L345.3 796.9 L346.5 815.5 L347.7 812.9 L348.9 813.4 L350.1 811.2 L351.3 811.4 L352.5 806 L353.7 808.1 L354.9 806 L356.1 791.6 L357.3 793.5 L358.5 801.3 L359.7 793.7 L360.9 795.6 L362.1 794 L363.3 788.7 L364.5 775.1 L365.7 780.3 L366.9 796.5 L368.1 788.9 L369.3 786.8 L370.5 850.2 L371.7 857 L372.9 851.6 L374.1 848.9 L375.3 844.1 L376.5 851.7 L377.7 846.2 L378.9 844.4 L380.1 852.1 L381.3 839.5 L382.5 837 L383.7 846 L384.9 852.3 L386.1 838.5 L387.3 856.5 L388.5 856.8 L389.7 853.3 L390.9 854.2 L392.1 846.8 L393.3 855.5 L394.5 850.2 L395.7 854.5 L396.9 842.3 L398.1 836.4 L399.3 828.3 L400.5 831.7 L401.7 816.2 L402.9 804.9 L404.1 810.8 L405.3 813.4 L406.5 810.6 L407.7 799.6 L408.9 804.1 L410.1 799.6 L411.3 800.6 L412.5 804.1 L413.7 800.1 L414.9 800.4 L416.1 798.8 L417.3 802 L418.5 807.7 L419.7 799.8 L420.9 807.8 L422.1 811.1 L423.3 827.2 L424.5 814.6 L425.7 825.4 L426.9 819.6 L428.1 826.1 L429.3 836.9 L430.5 845.5 L431.7 849.3 L432.9 858.4 L434.1 857.6 L435.3 858.4 L436.5 863.5 L437.7 863.4 L438.9 865.5 L440.1 862.4 L441.3 858.2 L442.5 865 L443.7 858.2 L444.9 858.3 L446.1 858.6 L447.3 852.3 L448.5 852.1 L449.7 848.9 L450.9 843 L452.1 843.7 L453.3 844.9 L454.5 848.7 L455.7 843.3 L456.9 839.5 L458.1 838.9 L459.3 838.1 L460.5 839.1 L461.7 839.8 L462.9 833.1 L464.1 840.4 L465.3 834 L466.5 841.8 L467.7 840.8 L468.9 841.3 L470.1 838.3 L471.3 850.2 L472.5 849 L473.7 856.6 L474.9 851 L476.1 850.1 L477.3 842 L478.5 844.3 L479.7 837.6 L480.9 828.4 L482.1 822.9 L483.3 807.2 L484.5 813.7 L485.7 806 L486.9 794.4 L488.1 793.1 L489.3 786.3 L490.5 780.8 L491.7 781.9 L492.9 773.7 L494.1 761.4 L495.3 766.6 L496.5 764 L497.7 761.3 L498.9 767.5 L500.1 764 L501.3 782.3 L502.5 780.7 L503.7 797.4 L504.9 789.6 L506.1 790.6 L507.3 790.1 L508.5 807.6 L509.7 807.6 L510.9 824.9 L512.1 818.6 L513.3 835.6 L514.5 846 L515.7 850 L516.9 861.9 L518.1 863.3 L519.3 870.1 L520.5 869.9 L521.7 876.7 L522.9 860.5 L524.1 865 L525.3 852.1 L526.5 851.1 L527.7 846.8 L528.9 846.6 L530.1 847.4 L531.3 842.2 L532.5 852.8 L533.7 847.9 L534.9 845.6 L536.1 844.3 L537.3 844.2 L538.5 840.2 L539.7 830.9 L540.9 823.9 L542.1 826.5 L543.3 821.2 L544.5 819.4 L545.7 817.1 L546.9 818.6 L548.1 819 L549.3 821.5 L550.5 820 L551.7 820.4 L552.9 809 L554.1 809.2 L555.3 818.4 L556.5 811.7 L557.7 802.5 L558.9 814.4 L560.1 812.6 L561.3 812.7 L562.5 803 L563.7 803.1 L564.9 808.6 L566.1 812.2 L567.3 811.4 L568.5 798.4 L569.7 803.8 L570.9 808.2 L572.1 804 L573.3 810.8 L574.5 813 L575.7 813.8 L576.9 806.9 L578.1 815.2 L579.3 821 L580.5 812.5 L581.7 813.3 L582.9 809.3 L584.1 807.5 L585.3 812.7 L586.5 807.4 L587.7 814.3 L588.9 818 L590.1 811.9 L591.3 822.9 L592.5 814.1 L593.7 816.7 L594.9 812.6 L596.1 816.2 L597.3 817.9 L598.5 817 L599.7 826.7 L600.9 826.4 L602.1 823.9 L603.3 828.9 L604.5 828.4 L605.7 824.7 L606.9 825.6 L608.1 824.2 L609.3 841.1 L610.5 832.9 L611.7 835.5 L612.9 837.7 L614.1 846.5 L615.3 840.6 L616.5 847.7 L617.7 845.2 L618.9 848.1 L620.1 850.6 L621.3 855.8 L622.5 849.8 L623.7 840 L624.9 854.2 L626.1 839.1 L627.3 835.7 L628.5 826.2 L629.7 798.9 L630.9 773.2 L632.1 727.3 L633.3 724.5 L634.5 700.7 L635.7 676.3 L636.9 704.8 L638.1 723.4 L639.3 773.5 L640.5 806.2 L641.7 814.9 L642.9 832 L644.1 842 L645.3 847.6 L646.5 847.8 L647.7 834.9 L648.9 835.5 L650.1 833.5 L651.3 845 L652.5 840.4 L653.7 837.7 L654.9 853.5 L656.1 862.7 L657.3 854.4 L658.5 857.6 L659.7 857.4 L660.9 841.5 L662.1 845.7 L663.3 836 L664.5 838.1 L665.7 830.4 L666.9 828.3 L668.1 841.9 L669.3 836.8 L670.5 839.2 L671.7 855.7 L672.9 851.2 L674.1 839.3 L675.3 828.6 L676.5 828.7 L677.7 821 L678.9 817.6 L680.1 808.3 L681.3 815.4 L682.5 807 L683.7 794.7 L684.9 797.3 L686.1 787.7 L687.3 779.9 L688.5 787.4 L689.7 778.4 L690.9 788.6 L692.1 770 L693.3 779 L694.5 775.2 L695.7 767.4 L696.9 763.3 L698.1 782.6 L699.3 763.6 L700.5 775 L701.7 771.9 L702.9 764.8 L704.1 772 L705.3 755.4 L706.5 789.3 L707.7 791.3 L708.9 794.6 L710.1 796.3 L711.3 803.1 L712.5 803.4 L713.7 802.1 L714.9 819.7 L716.1 822.2 L717.3 821.7 L718.5 832.9 L719.7 831.3 L720.9 825.4 L722.1 835 L723.3 834.4 L724.5 835.9 L725.7 828.7 L726.9 842.3 L728.1 841.1 L729.3 834.3 L730.5 833.3 L731.7 845.9 L732.9 846.3 L734.1 846.9 L735.3 847.7 L736.5 846.1 L737.7 848.1 L738.9 846.6 L740.1 828.4 L741.3 821.1 L742.5 823.1 L743.7 824.9 L744.9 820.8 L746.1 826.1 L747.3 824.8 L748.5 818 L749.7 818.9 L750.9 823.6 L752.1 816 L753.3 821.4 L754.5 815.8 L755.7 817.7 L756.9 819.7 L758.1 830.7 L759.3 824.3 L760.5 819.9 L761.7 828.6 L762.9 821.3 L764.1 819.7 L765.3 821.6 L766.5 825.2 L767.7 826.5 L768.9 812.2 L770.1 818.9 L771.3 817 L772.5 814.5 L773.7 821.9 L774.9 819.3 L776.1 819.8 L777.3 824 L778.5 827.1 L779.7 832.4 L780.9 815.2 L782.1 824.5 L783.3 813.6 L784.5 822.1 L785.7 824.4 L786.9 821.3 L788.1 824.4 L789.3 815.6 L790.5 813.8 L791.7 818.8 L792.9 816 L794.1 822 L795.3 827 L796.5 820 L797.7 815.7 L798.9 823.8 L800.1 826.1 L801.3 830 L802.5 841.8 L803.7 846.3 L804.9 846.5 L806.1 836.5 L807.3 850.1 L808.5 845.2 L809.7 850.2 L810.9 852.5 L812.1 855.9 L813.3 837.4 L814.5 856.4 L815.7 850.6 L816.9 855.4 L818.1 847.8 L819.3 859.9 L820.5 842.9 L821.7 836.7 L822.9 831.8 L824.1 846.5 L825.3 850.9 L826.5 844.6 L827.7 854.5 L828.9 847.8 L830.1 868 L831.3 854.9 L832.5 842.5 L833.7 853.1 L834.9 845.7 L836.1 842.9 L837.3 851.3 L838.5 843.4 L839.7 844.3 L840.9 849.7 L842.1 847.1 L843.3 855.3 L844.5 873.9 L845.7 858 L846.9 847.4 L848.1 858 L849.3 867.7 L850.5 863.2 L851.7 861.4 L852.9 848.2 L854.1 862.7 L855.3 844.9 L856.5 850.2 L857.7 850.5 L858.9 839.5 L860.1 834.8 L861.3 828 L862.5 829 L863.7 832.9 L864.9 833.6 L866.1 831.3 L867.3 824.8 L868.5 807.9 L869.7 794.4 L870.9 788.5 L872.1 790 L873.3 786.4 L874.5 773.4 L875.7 775.8 L876.9 778.4 L878.1 776.3 L879.3 774.9 L880.5 768 L881.7 767.3 L882.9 759.3 L884.1 746.6 L885.3 742.5 L886.5 732 L887.7 756.5 L888.9 738 L890.1 742" fill="none" stroke="#bcbcbc" stroke-width="1.8" stroke-linejoin="round" opacity="0.6"/>
<path d="M173.7 872.3 L174.9 893 L176.1 890.6 L177.3 892.2 L178.5 875.8 L179.7 848.8 L180.9 847.7 L182.1 832.2 L183.3 835.5 L184.5 824.6 L185.7 833 L186.9 838.2 L188.1 827 L189.3 825.2 L190.5 824.3 L191.7 819.5 L192.9 803 L194.1 784.2 L195.3 777.9 L196.5 778.5 L197.7 779.6 L198.9 809.4 L200.1 812.7 L201.3 832.2 L202.5 854.7 L203.7 841.2 L204.9 839.5 L206.1 855.3 L207.3 876.2 L208.5 866.9 L209.7 860.5 L210.9 873.6 L212.1 828.6 L213.3 811.3 L214.5 814.9 L215.7 796.7 L216.9 810.4 L218.1 807.7 L219.3 823.8 L220.5 822.2 L221.7 827 L222.9 836.3 L224.1 823.6 L225.3 837.3 L226.5 825.6 L227.7 827.7 L228.9 817.3 L230.1 819.5 L231.3 819 L232.5 814.4 L233.7 815.3 L234.9 809.6 L236.1 809.1 L237.3 813.2 L238.5 809.7 L239.7 810.9 L240.9 815.4 L242.1 821.6 L243.3 820.6 L244.5 818.9 L245.7 833.1 L246.9 830.6 L248.1 830 L249.3 842.2 L250.5 845.7 L251.7 838.8 L252.9 839.1 L254.1 839.3 L255.3 850.6 L256.5 850.6 L257.7 858.7 L258.9 860.6 L260.1 860.7 L261.3 850.1 L262.5 852.5 L263.7 867.9 L264.9 844.8 L266.1 849.3 L267.3 830.8 L268.5 841.8 L269.7 836.7 L270.9 841.6 L272.1 829.5 L273.3 834 L274.5 828.6 L275.7 830.2 L276.9 836.2 L278.1 834 L279.3 831.3 L280.5 826.5 L281.7 835.8 L282.9 824.9 L284.1 828.4 L285.3 823.8 L286.5 823.7 L287.7 828 L288.9 828.8 L290.1 824 L291.3 818.8 L292.5 831 L293.7 821.7 L294.9 836.5 L296.1 820.7 L297.3 833.2 L298.5 836.2 L299.7 822.8 L300.9 813.3 L302.1 808.7 L303.3 829.3 L304.5 818.1 L305.7 828.3 L306.9 822.7 L308.1 834.9 L309.3 828.2 L310.5 827.1 L311.7 820.7 L312.9 822.2 L314.1 820.6 L315.3 818.1 L316.5 822.4 L317.7 809.1 L318.9 825.8 L320.1 819.1 L321.3 823.1 L322.5 821.6 L323.7 818.9 L324.9 828.9 L326.1 828.8 L327.3 835.9 L328.5 834 L329.7 825.3 L330.9 832.4 L332.1 839.3 L333.3 819.4 L334.5 829.6 L335.7 823.9 L336.9 824.6 L338.1 822.9 L339.3 820.1 L340.5 817.2 L341.7 814.3 L342.9 810.3 L344.1 822.2 L345.3 822.9 L346.5 821.3 L347.7 830.7 L348.9 822.9 L350.1 821 L351.3 820.2 L352.5 806.1 L353.7 814.8 L354.9 811.8 L356.1 808.1 L357.3 796.2 L358.5 812.9 L359.7 796 L360.9 797.6 L362.1 810.4 L363.3 798.7 L364.5 792.7 L365.7 787.9 L366.9 794.6 L368.1 792.1 L369.3 802.8 L370.5 865 L371.7 847.5 L372.9 856.8 L374.1 835.5 L375.3 842.9 L376.5 841.6 L377.7 835.5 L378.9 832.3 L380.1 838.4 L381.3 842.9 L382.5 837.1 L383.7 843.5 L384.9 838.8 L386.1 844.5 L387.3 848.5 L388.5 858.8 L389.7 852.8 L390.9 846.3 L392.1 849.1 L393.3 840.4 L394.5 843 L395.7 848.7 L396.9 837.7 L398.1 834.6 L399.3 827.4 L400.5 814.1 L401.7 813.8 L402.9 813 L404.1 803.8 L405.3 806.7 L406.5 801.9 L407.7 797.7 L408.9 791.2 L410.1 804.1 L411.3 794.3 L412.5 799.6 L413.7 790.6 L414.9 799 L416.1 789.5 L417.3 798.6 L418.5 794.8 L419.7 797.4 L420.9 804.8 L422.1 810.9 L423.3 818.6 L424.5 815.2 L425.7 820.9 L426.9 819.2 L428.1 828.3 L429.3 836.3 L430.5 846 L431.7 851.7 L432.9 855.3 L434.1 855 L435.3 864.9 L436.5 865.1 L437.7 860.5 L438.9 858.8 L440.1 864.4 L441.3 865 L442.5 861 L443.7 856.4 L444.9 855.6 L446.1 851.8 L447.3 856.1 L448.5 855.5 L449.7 860.4 L450.9 848.9 L452.1 844.3 L453.3 843.7 L454.5 843.4 L455.7 839.2 L456.9 839.2 L458.1 835.3 L459.3 842 L460.5 835.3 L461.7 838 L462.9 839.9 L464.1 832.5 L465.3 833.9 L466.5 838.6 L467.7 837.6 L468.9 836.3 L470.1 842.9 L471.3 847.9 L472.5 848.6 L473.7 847.7 L474.9 852.6 L476.1 843.1 L477.3 843.2 L478.5 844.6 L479.7 836.2 L480.9 821.7 L482.1 819.8 L483.3 819.7 L484.5 802.3 L485.7 800.7 L486.9 781.7 L488.1 782.3 L489.3 780.7 L490.5 778.1 L491.7 781.9 L492.9 768.1 L494.1 759 L495.3 770.4 L496.5 759.3 L497.7 760.6 L498.9 766 L500.1 767.5 L501.3 764 L502.5 776.2 L503.7 774.8 L504.9 779.7 L506.1 786.1 L507.3 785.4 L508.5 794.4 L509.7 803.9 L510.9 820.2 L512.1 816.2 L513.3 828.1 L514.5 845.2 L515.7 852 L516.9 854.8 L518.1 868.5 L519.3 862.6 L520.5 872.1 L521.7 869.9 L522.9 863.5 L524.1 857.8 L525.3 868 L526.5 846.6 L527.7 854.4 L528.9 851.9 L530.1 857.7 L531.3 849.9 L532.5 855.1 L533.7 857.8 L534.9 855.4 L536.1 847.5 L537.3 845.4 L538.5 846.5 L539.7 843.2 L540.9 837.3 L542.1 838.8 L543.3 839.1 L544.5 839.5 L545.7 838.7 L546.9 838.9 L548.1 839.1 L549.3 834.7 L550.5 835.3 L551.7 830.6 L552.9 828.4 L554.1 839.3 L555.3 825.4 L556.5 822.5 L557.7 824.7 L558.9 821.8 L560.1 818.3 L561.3 822.6 L562.5 821.3 L563.7 812.1 L564.9 818.3 L566.1 816.5 L567.3 811.5 L568.5 821 L569.7 822.9 L570.9 819.6 L572.1 816.3 L573.3 819.8 L574.5 809.6 L575.7 817.3 L576.9 822.4 L578.1 815.1 L579.3 817.5 L580.5 827.2 L581.7 818 L582.9 820.4 L584.1 822.8 L585.3 826.3 L586.5 821.2 L587.7 815 L588.9 816.4 L590.1 810 L591.3 819.2 L592.5 823.6 L593.7 823.3 L594.9 819.2 L596.1 818.9 L597.3 829.4 L598.5 828.6 L599.7 826.4 L600.9 828.6 L602.1 828.8 L603.3 827 L604.5 829.9 L605.7 835.3 L606.9 833.1 L608.1 827.5 L609.3 841.6 L610.5 841.5 L611.7 839.7 L612.9 848.1 L614.1 840 L615.3 848.2 L616.5 852.7 L617.7 854.7 L618.9 856.5 L620.1 866 L621.3 862.4 L622.5 850.2 L623.7 862.3 L624.9 856.5 L626.1 848.4 L627.3 842.9 L628.5 841.8 L629.7 802.6 L630.9 796 L632.1 756.6 L633.3 742.6 L634.5 722.4 L635.7 733.7 L636.9 690.2 L638.1 750.4 L639.3 794 L640.5 819.3 L641.7 839.4 L642.9 854.6 L644.1 845.6 L645.3 853.8 L646.5 856.7 L647.7 851.7 L648.9 853.3 L650.1 842.1 L651.3 852 L652.5 841.4 L653.7 856.7 L654.9 849.7 L656.1 861 L657.3 862.4 L658.5 849.9 L659.7 840.7 L660.9 835.5 L662.1 843.3 L663.3 831.4 L664.5 837.7 L665.7 824.7 L666.9 829.8 L668.1 827.5 L669.3 832.5 L670.5 834.6 L671.7 839 L672.9 839.9 L674.1 829.4 L675.3 809.9 L676.5 808.7 L677.7 803.1 L678.9 796.9 L680.1 805 L681.3 801 L682.5 790.6 L683.7 775.5 L684.9 764.3 L686.1 774.1 L687.3 770.1 L688.5 766.8 L689.7 763.4 L690.9 753.8 L692.1 760.3 L693.3 757.1 L694.5 767.3 L695.7 765.5 L696.9 768.2 L698.1 763.6 L699.3 771.1 L700.5 767.5 L701.7 757.2 L702.9 756.9 L704.1 758.9 L705.3 762.6 L706.5 780.2 L707.7 787.7 L708.9 788.3 L710.1 803.8 L711.3 801.8 L712.5 809.8 L713.7 804.1 L714.9 817 L716.1 821.3 L717.3 827.4 L718.5 827.3 L719.7 825.1 L720.9 829 L722.1 833.2 L723.3 835.2 L724.5 834.8 L725.7 832.8 L726.9 835.9 L728.1 841.5 L729.3 843.6 L730.5 837.1 L731.7 857.2 L732.9 855.2 L734.1 853.2 L735.3 849.4 L736.5 840.4 L737.7 839.9 L738.9 843.7 L740.1 830.5 L741.3 833.3 L742.5 825.9 L743.7 825.5 L744.9 823.2 L746.1 823.5 L747.3 813.9 L748.5 817.2 L749.7 824.5 L750.9 814.6 L752.1 815.1 L753.3 813.1 L754.5 824.7 L755.7 827.7 L756.9 822.4 L758.1 832.8 L759.3 824.1 L760.5 837.2 L761.7 832.8 L762.9 834.5 L764.1 829.1 L765.3 827.6 L766.5 828.5 L767.7 824.4 L768.9 825.4 L770.1 822.8 L771.3 823.4 L772.5 828 L773.7 820.5 L774.9 841.8 L776.1 839.2 L777.3 837.6 L778.5 846.1 L779.7 836.3 L780.9 834.9 L782.1 835.7 L783.3 841.1 L784.5 836.3 L785.7 838.4 L786.9 834.1 L788.1 838.2 L789.3 830.2 L790.5 836.6 L791.7 834.6 L792.9 843.2 L794.1 829.8 L795.3 840.7 L796.5 835.5 L797.7 837.6 L798.9 833.6 L800.1 845.4 L801.3 837.6 L802.5 845.3 L803.7 862.2 L804.9 851.1 L806.1 854.3 L807.3 854.2 L808.5 866.2 L809.7 850.1 L810.9 873.9 L812.1 861.9 L813.3 869.5 L814.5 863 L815.7 862.4 L816.9 852 L818.1 864 L819.3 857.6 L820.5 861.3 L821.7 847.5 L822.9 849 L824.1 859.2 L825.3 862.4 L826.5 863.1 L827.7 878.2 L828.9 868.2 L830.1 877.9 L831.3 864.1 L832.5 867.6 L833.7 862.8 L834.9 863.1 L836.1 850.3 L837.3 857.7 L838.5 853.3 L839.7 854.9 L840.9 853.4 L842.1 862.8 L843.3 875.8 L844.5 871.3 L845.7 867.4 L846.9 870.8 L848.1 873.8 L849.3 867 L850.5 871.5 L851.7 863.7 L852.9 876.6 L854.1 859.1 L855.3 858.8 L856.5 850.5 L857.7 850.5 L858.9 848.4 L860.1 846.6 L861.3 830.5 L862.5 835.2 L863.7 847.1 L864.9 840.5 L866.1 850.9 L867.3 830 L868.5 820.3 L869.7 797.1 L870.9 792.9 L872.1 782.9 L873.3 791.8 L874.5 799 L875.7 787.4 L876.9 779.4 L878.1 791.3 L879.3 779.7 L880.5 771.7 L881.7 779.8 L882.9 777.4 L884.1 757.6 L885.3 765.5 L886.5 759.8 L887.7 748.2 L888.9 753 L890.1 734.5" fill="none" stroke="#bcbcbc" stroke-width="1.8" stroke-linejoin="round" opacity="0.6"/>
<path d="M173.7 890.7 L174.9 888.5 L176.1 885.6 L177.3 891.9 L178.5 880.8 L179.7 861.9 L180.9 856.6 L182.1 835.8 L183.3 849.4 L184.5 826.3 L185.7 835.2 L186.9 835.6 L188.1 847.5 L189.3 835.2 L190.5 830.3 L191.7 821.2 L192.9 809.3 L194.1 791 L195.3 786.7 L196.5 775.7 L197.7 792.1 L198.9 805.9 L200.1 824.2 L201.3 837.8 L202.5 854.3 L203.7 831.8 L204.9 828.7 L206.1 853.3 L207.3 876.7 L208.5 870.2 L209.7 877.5 L210.9 864.2 L212.1 839.2 L213.3 795.2 L214.5 803.3 L215.7 810.1 L216.9 809.9 L218.1 821.5 L219.3 818.2 L220.5 814.2 L221.7 829.4 L222.9 833.5 L224.1 822.3 L225.3 839.5 L226.5 830 L227.7 830.8 L228.9 845.2 L230.1 827.8 L231.3 835.3 L232.5 822.5 L233.7 818.6 L234.9 816 L236.1 828.1 L237.3 821 L238.5 826.4 L239.7 823.5 L240.9 832.5 L242.1 831.6 L243.3 820.3 L244.5 834.2 L245.7 831.1 L246.9 850.2 L248.1 848.8 L249.3 851.5 L250.5 856.2 L251.7 845.2 L252.9 861.1 L254.1 847.5 L255.3 861.1 L256.5 872 L257.7 872.4 L258.9 855.5 L260.1 857.5 L261.3 860 L262.5 873.1 L263.7 870.7 L264.9 855.8 L266.1 861.8 L267.3 862.1 L268.5 853 L269.7 859.3 L270.9 843.7 L272.1 838.3 L273.3 848.4 L274.5 845.9 L275.7 843.2 L276.9 845.2 L278.1 844.6 L279.3 826.8 L280.5 840.6 L281.7 826.2 L282.9 836.7 L284.1 832.9 L285.3 830.5 L286.5 833.9 L287.7 841.2 L288.9 837.5 L290.1 844.2 L291.3 830.2 L292.5 834.9 L293.7 836.7 L294.9 832.8 L296.1 841.8 L297.3 843.8 L298.5 837 L299.7 828.1 L300.9 836.4 L302.1 822.9 L303.3 825.5 L304.5 844.2 L305.7 839.1 L306.9 829.7 L308.1 822.8 L309.3 833.9 L310.5 829.2 L311.7 832 L312.9 836.7 L314.1 827.9 L315.3 838.3 L316.5 833.4 L317.7 824.8 L318.9 825.8 L320.1 835.1 L321.3 831.8 L322.5 831.3 L323.7 829.4 L324.9 833.1 L326.1 840.8 L327.3 833.4 L328.5 833.4 L329.7 843.5 L330.9 840.1 L332.1 834 L333.3 833.3 L334.5 829 L335.7 826.2 L336.9 827.2 L338.1 831 L339.3 828.1 L340.5 818.4 L341.7 827.5 L342.9 822.7 L344.1 828.3 L345.3 821.9 L346.5 834.6 L347.7 814.1 L348.9 828 L350.1 829.5 L351.3 839.8 L352.5 827.9 L353.7 829.6 L354.9 828.6 L356.1 834.5 L357.3 829.4 L358.5 816.2 L359.7 817.3 L360.9 810.3 L362.1 820.3 L363.3 819.8 L364.5 807 L365.7 811.5 L366.9 819.2 L368.1 817.6 L369.3 831.6 L370.5 876.7 L371.7 869.1 L372.9 873 L374.1 872.1 L375.3 868.4 L376.5 857.9 L377.7 861.2 L378.9 857 L380.1 870.4 L381.3 865.5 L382.5 870.4 L383.7 857.8 L384.9 861.2 L386.1 867.7 L387.3 880.2 L388.5 869.9 L389.7 876.6 L390.9 874 L392.1 873.4 L393.3 867.2 L394.5 871.5 L395.7 869.7 L396.9 854.7 L398.1 853.7 L399.3 841.4 L400.5 841.5 L401.7 830.7 L402.9 834.8 L404.1 819.3 L405.3 815.6 L406.5 815.6 L407.7 816.6 L408.9 814.4 L410.1 804.4 L411.3 806.2 L412.5 807.3 L413.7 817.7 L414.9 809.5 L416.1 804 L417.3 812.9 L418.5 812.5 L419.7 813 L420.9 825.1 L422.1 823 L423.3 824.8 L424.5 823.8 L425.7 822.7 L426.9 835.2 L428.1 844.8 L429.3 846.1 L430.5 855.8 L431.7 856.7 L432.9 862 L434.1 882.1 L435.3 878.9 L436.5 880.4 L437.7 887.3 L438.9 884.3 L440.1 884.4 L441.3 884.3 L442.5 883.7 L443.7 885.2 L444.9 876.8 L446.1 881.2 L447.3 882.4 L448.5 873.5 L449.7 873.2 L450.9 864.6 L452.1 870.5 L453.3 871 L454.5 871.7 L455.7 863.4 L456.9 863.7 L458.1 865.5 L459.3 864.1 L460.5 864.8 L461.7 868.5 L462.9 864.1 L464.1 865.7 L465.3 858.6 L466.5 862.8 L467.7 867.4 L468.9 861.6 L470.1 861.7 L471.3 869.2 L472.5 866.4 L473.7 880.8 L474.9 870.4 L476.1 866.3 L477.3 871.1 L478.5 859.6 L479.7 855.4 L480.9 852.1 L482.1 837.5 L483.3 839.8 L484.5 820.2 L485.7 819.2 L486.9 808 L488.1 809.8 L489.3 805.4 L490.5 795 L491.7 798.5 L492.9 781.7 L494.1 785.1 L495.3 779.8 L496.5 775.5 L497.7 774.5 L498.9 789.3 L500.1 792 L501.3 786.6 L502.5 792.1 L503.7 797.3 L504.9 797 L506.1 797.5 L507.3 801 L508.5 797.7 L509.7 815.6 L510.9 829.2 L512.1 834.9 L513.3 846.5 L514.5 864.4 L515.7 863.8 L516.9 878.6 L518.1 883.6 L519.3 878.3 L520.5 895.3 L521.7 886.5 L522.9 887.6 L524.1 882.1 L525.3 879.7 L526.5 865.3 L527.7 861.2 L528.9 861.1 L530.1 863 L531.3 866.7 L532.5 860 L533.7 875.1 L534.9 858.3 L536.1 849.4 L537.3 853 L538.5 848.7 L539.7 848.6 L540.9 846.5 L542.1 845 L543.3 843.8 L544.5 840.9 L545.7 838.4 L546.9 835.9 L548.1 840.8 L549.3 835.9 L550.5 835.2 L551.7 838.1 L552.9 833.4 L554.1 837.1 L555.3 827.4 L556.5 829.6 L557.7 828 L558.9 824.9 L560.1 820.9 L561.3 827 L562.5 820.9 L563.7 813.4 L564.9 817.8 L566.1 818.9 L567.3 814.6 L568.5 817.4 L569.7 821.9 L570.9 814.1 L572.1 815 L573.3 818.6 L574.5 814.8 L575.7 818.1 L576.9 815.1 L578.1 819.9 L579.3 820.8 L580.5 818.2 L581.7 819.4 L582.9 815.3 L584.1 828.4 L585.3 813.7 L586.5 812.7 L587.7 815.3 L588.9 818.3 L590.1 819.2 L591.3 818.6 L592.5 815.2 L593.7 813.9 L594.9 819.6 L596.1 823.7 L597.3 827.2 L598.5 834.3 L599.7 817.2 L600.9 819 L602.1 826.9 L603.3 827.3 L604.5 831.4 L605.7 837.2 L606.9 835.5 L608.1 841.9 L609.3 836.4 L610.5 836.4 L611.7 847.8 L612.9 842.4 L614.1 853.1 L615.3 847.4 L616.5 853.1 L617.7 854.5 L618.9 860.6 L620.1 864.4 L621.3 863.7 L622.5 852.7 L623.7 865.3 L624.9 859 L626.1 860.3 L627.3 850.2 L628.5 848.8 L629.7 829.4 L630.9 799.5 L632.1 790.3 L633.3 730.6 L634.5 753.7 L635.7 748.5 L636.9 759.3 L638.1 756.7 L639.3 807.5 L640.5 829.4 L641.7 845.6 L642.9 868.3 L644.1 870.6 L645.3 881 L646.5 878 L647.7 877.8 L648.9 867.8 L650.1 854.6 L651.3 869 L652.5 867.2 L653.7 876 L654.9 879.5 L656.1 882.6 L657.3 880.4 L658.5 870.7 L659.7 869.7 L660.9 865.8 L662.1 858.4 L663.3 856.1 L664.5 857.7 L665.7 847.9 L666.9 846.2 L668.1 855 L669.3 851.3 L670.5 864.4 L671.7 864.2 L672.9 858.8 L674.1 845.2 L675.3 844.9 L676.5 835.2 L677.7 839 L678.9 830.3 L680.1 822.4 L681.3 813.7 L682.5 813 L683.7 806.3 L684.9 802.6 L686.1 787.9 L687.3 796 L688.5 787.9 L689.7 781.1 L690.9 780 L692.1 790 L693.3 781.7 L694.5 797.2 L695.7 776.6 L696.9 788.1 L698.1 793.7 L699.3 786.3 L700.5 791.6 L701.7 781.2 L702.9 768.3 L704.1 779.9 L705.3 787.3 L706.5 797.1 L707.7 815 L708.9 807.3 L710.1 812.2 L711.3 810.2 L712.5 817.2 L713.7 821.4 L714.9 822.2 L716.1 834.1 L717.3 842.8 L718.5 845.4 L719.7 841.5 L720.9 850.5 L722.1 843.9 L723.3 849.3 L724.5 844.9 L725.7 845.2 L726.9 853 L728.1 850.3 L729.3 849.9 L730.5 853 L731.7 854.4 L732.9 861.1 L734.1 866.4 L735.3 870.4 L736.5 852.8 L737.7 858 L738.9 850.8 L740.1 854.1 L741.3 844.6 L742.5 839.5 L743.7 836 L744.9 834 L746.1 831.1 L747.3 836 L748.5 839.4 L749.7 835.7 L750.9 836.2 L752.1 841 L753.3 826.2 L754.5 836.6 L755.7 843.1 L756.9 845 L758.1 835.8 L759.3 843.4 L760.5 843.8 L761.7 845.4 L762.9 838.7 L764.1 833.4 L765.3 841.1 L766.5 836.5 L767.7 839.3 L768.9 836.3 L770.1 839.7 L771.3 837.9 L772.5 832.1 L773.7 838.3 L774.9 835.7 L776.1 830.6 L777.3 835.7 L778.5 847.9 L779.7 838 L780.9 844.1 L782.1 841.9 L783.3 842.1 L784.5 832.8 L785.7 835.1 L786.9 828.8 L788.1 826.2 L789.3 833.1 L790.5 839.5 L791.7 826.1 L792.9 834.2 L794.1 835.7 L795.3 829.4 L796.5 836 L797.7 835.3 L798.9 837.9 L800.1 839 L801.3 829 L802.5 853.1 L803.7 856.7 L804.9 868.2 L806.1 860.3 L807.3 865.9 L808.5 862.8 L809.7 873.5 L810.9 856 L812.1 862.9 L813.3 852.2 L814.5 878.8 L815.7 876.2 L816.9 868.4 L818.1 869.3 L819.3 878.7 L820.5 863.6 L821.7 869.8 L822.9 868 L824.1 877.3 L825.3 878.4 L826.5 883.1 L827.7 894.3 L828.9 889.9 L830.1 881.6 L831.3 877.4 L832.5 869.2 L833.7 889.3 L834.9 881.8 L836.1 884.7 L837.3 862.4 L838.5 881.6 L839.7 878.9 L840.9 862.7 L842.1 875.1 L843.3 885.7 L844.5 888.4 L845.7 889.5 L846.9 886.6 L848.1 889.5 L849.3 885.1 L850.5 891.6 L851.7 880.6 L852.9 884.5 L854.1 882 L855.3 873.6 L856.5 874.6 L857.7 860.1 L858.9 855 L860.1 872.1 L861.3 858 L862.5 862 L863.7 861.6 L864.9 851.9 L866.1 862.5 L867.3 840.7 L868.5 837.9 L869.7 815.9 L870.9 802.7 L872.1 811.9 L873.3 802.4 L874.5 798.2 L875.7 797 L876.9 809.6 L878.1 790.3 L879.3 817.5 L880.5 801.6 L881.7 811.6 L882.9 776.5 L884.1 790.4 L885.3 787.6 L886.5 775.8 L887.7 776.4 L888.9 762.1 L890.1 763.3" fill="none" stroke="#bcbcbc" stroke-width="1.8" stroke-linejoin="round" opacity="0.6"/>
<path d="M173.7 902.1 L174.9 889.5 L176.1 872.6 L177.3 895.5 L178.5 872.5 L179.7 850.3 L180.9 844.2 L182.1 832.7 L183.3 836.9 L184.5 831.1 L185.7 841.2 L186.9 832.9 L188.1 826.5 L189.3 831.7 L190.5 827.3 L191.7 816.5 L192.9 812.4 L194.1 798.6 L195.3 778.8 L196.5 784.1 L197.7 778 L198.9 822.4 L200.1 846.8 L201.3 855.3 L202.5 871.6 L203.7 835 L204.9 840.9 L206.1 855.2 L207.3 886.7 L208.5 869.1 L209.7 885.6 L210.9 868.7 L212.1 841.1 L213.3 820.6 L214.5 818.7 L215.7 817.3 L216.9 826 L218.1 827.3 L219.3 822.8 L220.5 830.8 L221.7 830.9 L222.9 842.4 L224.1 827.5 L225.3 827.7 L226.5 829.2 L227.7 832 L228.9 835.3 L230.1 826 L231.3 820 L232.5 816.7 L233.7 813.4 L234.9 824.7 L236.1 813 L237.3 823.3 L238.5 811.6 L239.7 823.6 L240.9 832.4 L242.1 815.5 L243.3 819.3 L244.5 823.1 L245.7 827.5 L246.9 821.6 L248.1 832 L249.3 840.5 L250.5 847 L251.7 839.4 L252.9 856.2 L254.1 847.3 L255.3 851.6 L256.5 848.2 L257.7 849 L258.9 860.4 L260.1 846.6 L261.3 871.1 L262.5 850.2 L263.7 857.6 L264.9 857.6 L266.1 842.2 L267.3 839.4 L268.5 834.7 L269.7 830 L270.9 836.9 L272.1 833.6 L273.3 825.8 L274.5 830 L275.7 823.2 L276.9 827.9 L278.1 825.4 L279.3 820.7 L280.5 822.2 L281.7 814.6 L282.9 824.5 L284.1 826.8 L285.3 823.4 L286.5 823 L287.7 811.7 L288.9 825.6 L290.1 815.8 L291.3 815.9 L292.5 821.2 L293.7 830 L294.9 817.2 L296.1 833.5 L297.3 828.5 L298.5 828.2 L299.7 815.9 L300.9 822.9 L302.1 821 L303.3 812.2 L304.5 822.1 L305.7 823.5 L306.9 822.6 L308.1 823.8 L309.3 826.2 L310.5 833.1 L311.7 827.7 L312.9 830.2 L314.1 837.7 L315.3 821.1 L316.5 830.8 L317.7 826.5 L318.9 829.5 L320.1 843 L321.3 853.8 L322.5 828.1 L323.7 832.1 L324.9 837.4 L326.1 846.9 L327.3 842.6 L328.5 844.2 L329.7 844.5 L330.9 835.1 L332.1 837.6 L333.3 839.7 L334.5 823.1 L335.7 835.1 L336.9 840.6 L338.1 828.7 L339.3 829.6 L340.5 831.8 L341.7 828 L342.9 822.2 L344.1 824.1 L345.3 825.5 L346.5 831.9 L347.7 832.6 L348.9 831.2 L350.1 827 L351.3 823.2 L352.5 828.1 L353.7 819.7 L354.9 817.8 L356.1 817.6 L357.3 805.6 L358.5 815.1 L359.7 804.1 L360.9 823.2 L362.1 816.5 L363.3 804.4 L364.5 804.9 L365.7 802 L366.9 800.8 L368.1 802.2 L369.3 826.5 L370.5 875.8 L371.7 867 L372.9 853.7 L374.1 865.1 L375.3 862.2 L376.5 854.7 L377.7 861 L378.9 856.6 L380.1 861.3 L381.3 852.3 L382.5 853.6 L383.7 852.9 L384.9 849.4 L386.1 865.7 L387.3 861.6 L388.5 856.9 L389.7 863.5 L390.9 864.8 L392.1 861.4 L393.3 863.4 L394.5 865.4 L395.7 857.2 L396.9 849.7 L398.1 849.7 L399.3 843.2 L400.5 832.8 L401.7 830.2 L402.9 825.7 L404.1 828.8 L405.3 818.1 L406.5 817.2 L407.7 816.9 L408.9 815.5 L410.1 812 L411.3 819.3 L412.5 809.9 L413.7 810.8 L414.9 805.2 L416.1 805.1 L417.3 812.4 L418.5 813.1 L419.7 823.3 L420.9 814.9 L422.1 822.4 L423.3 828.2 L424.5 830.8 L425.7 832.5 L426.9 838.4 L428.1 846.1 L429.3 847 L430.5 860.9 L431.7 861.2 L432.9 865.1 L434.1 875.8 L435.3 878.6 L436.5 873.5 L437.7 875.2 L438.9 880.1 L440.1 884.6 L441.3 880.6 L442.5 875.9 L443.7 875.2 L444.9 880.5 L446.1 865 L447.3 874.1 L448.5 862 L449.7 863.8 L450.9 859.6 L452.1 849.2 L453.3 865.9 L454.5 856.7 L455.7 862.1 L456.9 849.7 L458.1 849.6 L459.3 853 L460.5 849.8 L461.7 853 L462.9 853.9 L464.1 850 L465.3 847.1 L466.5 850.7 L467.7 853.2 L468.9 853.9 L470.1 856.4 L471.3 856.4 L472.5 864.3 L473.7 863.3 L474.9 863.2 L476.1 865.2 L477.3 856.8 L478.5 859.5 L479.7 849.9 L480.9 844.9 L482.1 834.3 L483.3 825.5 L484.5 823.1 L485.7 822 L486.9 813 L488.1 811.9 L489.3 812.1 L490.5 793.3 L491.7 793.8 L492.9 793.4 L494.1 796.7 L495.3 792.8 L496.5 790.5 L497.7 784.3 L498.9 785.1 L500.1 789.5 L501.3 786.8 L502.5 797.2 L503.7 800.2 L504.9 799.8 L506.1 807.4 L507.3 808.7 L508.5 809.7 L509.7 823 L510.9 838.1 L512.1 843.1 L513.3 850.2 L514.5 861.3 L515.7 874.8 L516.9 877.7 L518.1 872.8 L519.3 891.2 L520.5 889.4 L521.7 888.9 L522.9 884.8 L524.1 868.4 L525.3 871.3 L526.5 873.7 L527.7 868.1 L528.9 863.2 L530.1 855 L531.3 854 L532.5 867.3 L533.7 864.3 L534.9 855.3 L536.1 850.4 L537.3 853.9 L538.5 847.1 L539.7 840.1 L540.9 840.5 L542.1 842 L543.3 830.2 L544.5 829.5 L545.7 831 L546.9 836.5 L548.1 838.4 L549.3 845.8 L550.5 832 L551.7 832 L552.9 826.3 L554.1 829.6 L555.3 825.8 L556.5 834.6 L557.7 824.9 L558.9 821.8 L560.1 824 L561.3 812.4 L562.5 818.1 L563.7 818.7 L564.9 819.1 L566.1 810 L567.3 817.3 L568.5 819.4 L569.7 817.4 L570.9 811.6 L572.1 817.5 L573.3 820 L574.5 809.4 L575.7 809.9 L576.9 815.5 L578.1 816.5 L579.3 814.7 L580.5 821.3 L581.7 815.9 L582.9 813.1 L584.1 806.9 L585.3 810.5 L586.5 818.2 L587.7 807.8 L588.9 811.5 L590.1 812.3 L591.3 810.3 L592.5 810.4 L593.7 817.6 L594.9 814.2 L596.1 821.2 L597.3 823.5 L598.5 815.5 L599.7 815.6 L600.9 814 L602.1 829.7 L603.3 827.9 L604.5 821.7 L605.7 829.3 L606.9 823.3 L608.1 832.2 L609.3 834.5 L610.5 830.5 L611.7 838.1 L612.9 838.1 L614.1 837.2 L615.3 843.7 L616.5 850.2 L617.7 851.4 L618.9 848.6 L620.1 853.2 L621.3 850.1 L622.5 856.3 L623.7 861.3 L624.9 849.3 L626.1 841.8 L627.3 833.2 L628.5 835.1 L629.7 797.3 L630.9 770.2 L632.1 740.9 L633.3 701.1 L634.5 726.2 L635.7 717.9 L636.9 721.6 L638.1 744.5 L639.3 790.7 L640.5 824.6 L641.7 829.4 L642.9 840.6 L644.1 858.5 L645.3 856.1 L646.5 855.8 L647.7 847.4 L648.9 851.8 L650.1 859.7 L651.3 845.2 L652.5 855.7 L653.7 861.9 L654.9 869.8 L656.1 859.9 L657.3 852.5 L658.5 861.9 L659.7 845.5 L660.9 854.4 L662.1 842.7 L663.3 840.1 L664.5 842.7 L665.7 844.4 L666.9 836.8 L668.1 846.3 L669.3 844.5 L670.5 843.6 L671.7 857.4 L672.9 846.9 L674.1 831.7 L675.3 825.6 L676.5 831.4 L677.7 824.1 L678.9 808.1 L680.1 813.8 L681.3 805.1 L682.5 805.2 L683.7 798.2 L684.9 780.9 L686.1 776.6 L687.3 783.7 L688.5 781.1 L689.7 779.9 L690.9 773.9 L692.1 780 L693.3 774.4 L694.5 777.4 L695.7 773.2 L696.9 776.6 L698.1 770.3 L699.3 769.2 L700.5 776.6 L701.7 774.2 L702.9 773.2 L704.1 757.5 L705.3 776.7 L706.5 781.4 L707.7 791.3 L708.9 795.4 L710.1 798 L711.3 792.8 L712.5 809.5 L713.7 813.5 L714.9 819.8 L716.1 830 L717.3 837 L718.5 840.9 L719.7 838.5 L720.9 837 L722.1 834.4 L723.3 834.8 L724.5 848.5 L725.7 846.1 L726.9 849.4 L728.1 848.9 L729.3 846.4 L730.5 852.7 L731.7 852.1 L732.9 853.8 L734.1 863.1 L735.3 867.8 L736.5 857 L737.7 855 L738.9 853.1 L740.1 846.7 L741.3 845.3 L742.5 834 L743.7 841 L744.9 825.5 L746.1 838.6 L747.3 838.9 L748.5 834.6 L749.7 835.6 L750.9 828.2 L752.1 837.7 L753.3 835 L754.5 835.6 L755.7 839.8 L756.9 828.4 L758.1 838.2 L759.3 834.8 L760.5 851.4 L761.7 849.5 L762.9 845.6 L764.1 831.4 L765.3 844.3 L766.5 841.1 L767.7 828.6 L768.9 824 L770.1 847 L771.3 822.3 L772.5 831.6 L773.7 822.7 L774.9 835.1 L776.1 836.4 L777.3 834.2 L778.5 851.2 L779.7 838.1 L780.9 830 L782.1 831.9 L783.3 841.3 L784.5 837.1 L785.7 828.7 L786.9 836.3 L788.1 837.7 L789.3 836.5 L790.5 827.3 L791.7 836.1 L792.9 825.4 L794.1 836.1 L795.3 824.7 L796.5 831.2 L797.7 835.2 L798.9 829.1 L800.1 831.4 L801.3 839.6 L802.5 837.7 L803.7 849.1 L804.9 864.4 L806.1 847.4 L807.3 862 L808.5 853.8 L809.7 851.4 L810.9 853.2 L812.1 855 L813.3 853.1 L814.5 861.3 L815.7 846.4 L816.9 846.6 L818.1 859.2 L819.3 846.4 L820.5 859.1 L821.7 829.6 L822.9 846.2 L824.1 830.2 L825.3 843.1 L826.5 860 L827.7 867.7 L828.9 865.8 L830.1 859.8 L831.3 859.9 L832.5 856.2 L833.7 846.9 L834.9 837.7 L836.1 840.3 L837.3 832.3 L838.5 823.6 L839.7 844.2 L840.9 838.1 L842.1 846 L843.3 852.2 L844.5 854.8 L845.7 858.9 L846.9 868.2 L848.1 852 L849.3 863.2 L850.5 858.5 L851.7 854.3 L852.9 854.8 L854.1 847.5 L855.3 853.2 L856.5 835.4 L857.7 833.8 L858.9 835.2 L860.1 831.4 L861.3 819.1 L862.5 826.4 L863.7 834.2 L864.9 831.1 L866.1 822.8 L867.3 822.5 L868.5 812.9 L869.7 796.9 L870.9 786.8 L872.1 773 L873.3 765.9 L874.5 771.9 L875.7 768.7 L876.9 759 L878.1 769.3 L879.3 763.6 L880.5 763.2 L881.7 768.2 L882.9 754 L884.1 749 L885.3 735.7 L886.5 756.4 L887.7 725.2 L888.9 740.1 L890.1 741.4" fill="none" stroke="#bcbcbc" stroke-width="1.8" stroke-linejoin="round" opacity="0.6"/>
<path d="M173.7 899 L174.9 892 L176.1 898.8 L177.3 896.6 L178.5 880.1 L179.7 846.7 L180.9 847.1 L182.1 851.2 L183.3 839.3 L184.5 828.3 L185.7 830.7 L186.9 829.9 L188.1 832.1 L189.3 823.1 L190.5 836.1 L191.7 815.1 L192.9 808.2 L194.1 788.3 L195.3 796.5 L196.5 795.9 L197.7 790.4 L198.9 809 L200.1 834.6 L201.3 853.1 L202.5 864.4 L203.7 834.9 L204.9 834.9 L206.1 868.5 L207.3 887.8 L208.5 881.7 L209.7 900 L210.9 869.6 L212.1 842.9 L213.3 821.1 L214.5 837.8 L215.7 823.3 L216.9 824.9 L218.1 833.9 L219.3 818.1 L220.5 836 L221.7 843.4 L222.9 840.9 L224.1 839.3 L225.3 849.5 L226.5 828.4 L227.7 838.4 L228.9 837 L230.1 835.9 L231.3 832.1 L232.5 819.9 L233.7 838.5 L234.9 822.1 L236.1 828.5 L237.3 826 L238.5 830 L239.7 816.8 L240.9 810.9 L242.1 838.6 L243.3 831.3 L244.5 840.4 L245.7 844.4 L246.9 852.5 L248.1 853.5 L249.3 854.7 L250.5 853 L251.7 869.5 L252.9 872.3 L254.1 861.1 L255.3 867.5 L256.5 885.4 L257.7 879.7 L258.9 880 L260.1 880.5 L261.3 877.4 L262.5 878.4 L263.7 870.9 L264.9 874.3 L266.1 864.5 L267.3 870.1 L268.5 853.7 L269.7 872.5 L270.9 861.5 L272.1 869.6 L273.3 862.5 L274.5 861 L275.7 847.4 L276.9 849.6 L278.1 852 L279.3 855.5 L280.5 845 L281.7 857.9 L282.9 847.7 L284.1 843 L285.3 850.2 L286.5 850.9 L287.7 847.1 L288.9 851.4 L290.1 840.5 L291.3 851.6 L292.5 838.9 L293.7 834.5 L294.9 855.2 L296.1 856 L297.3 852.8 L298.5 841.3 L299.7 837 L300.9 829.5 L302.1 834.1 L303.3 829.5 L304.5 838.2 L305.7 841.5 L306.9 833.7 L308.1 827.9 L309.3 833.1 L310.5 838.7 L311.7 835.7 L312.9 830.4 L314.1 831.7 L315.3 825.6 L316.5 823.8 L317.7 829.6 L318.9 824.2 L320.1 827.9 L321.3 819.9 L322.5 822.9 L323.7 826.3 L324.9 825.3 L326.1 838.6 L327.3 837.9 L328.5 842 L329.7 830.8 L330.9 829.8 L332.1 822.7 L333.3 831.8 L334.5 828 L335.7 826.9 L336.9 818.4 L338.1 811.5 L339.3 818.5 L340.5 813.5 L341.7 805.3 L342.9 812.6 L344.1 816.6 L345.3 808.8 L346.5 816.1 L347.7 813.8 L348.9 817.8 L350.1 808.9 L351.3 810 L352.5 818.7 L353.7 816.8 L354.9 808.4 L356.1 811.2 L357.3 801.5 L358.5 798.4 L359.7 804.2 L360.9 797.4 L362.1 808.2 L363.3 788.9 L364.5 779.5 L365.7 778.3 L366.9 792.5 L368.1 785 L369.3 827.9 L370.5 866.7 L371.7 858.9 L372.9 863.7 L374.1 855 L375.3 848.6 L376.5 853.5 L377.7 853 L378.9 855.3 L380.1 848.4 L381.3 860.2 L382.5 857.5 L383.7 857.9 L384.9 862.9 L386.1 861.4 L387.3 869.1 L388.5 866.4 L389.7 866.8 L390.9 870.5 L392.1 872 L393.3 867.8 L394.5 864.9 L395.7 863.9 L396.9 859 L398.1 858.7 L399.3 845.7 L400.5 845 L401.7 829.9 L402.9 829.5 L404.1 821.8 L405.3 816.2 L406.5 823.6 L407.7 816.8 L408.9 814.2 L410.1 821.1 L411.3 817.7 L412.5 806.6 L413.7 809.4 L414.9 803.9 L416.1 811.6 L417.3 800.6 L418.5 810 L419.7 811.3 L420.9 820.8 L422.1 820.5 L423.3 814.3 L424.5 815.1 L425.7 822.1 L426.9 828.3 L428.1 828.9 L429.3 836.1 L430.5 847.2 L431.7 849.5 L432.9 859.4 L434.1 854.9 L435.3 863.4 L436.5 860.5 L437.7 868.8 L438.9 866.4 L440.1 867.5 L441.3 871.7 L442.5 861.8 L443.7 870.7 L444.9 861.8 L446.1 861.7 L447.3 857.4 L448.5 852.8 L449.7 864.6 L450.9 855.9 L452.1 849 L453.3 848.4 L454.5 854.6 L455.7 849.8 L456.9 849.8 L458.1 841 L459.3 844.6 L460.5 845.3 L461.7 850.3 L462.9 851.1 L464.1 851.3 L465.3 846.5 L466.5 845.4 L467.7 848.8 L468.9 850.1 L470.1 855.1 L471.3 859.3 L472.5 861.9 L473.7 866.9 L474.9 866.3 L476.1 859.3 L477.3 858.2 L478.5 856.2 L479.7 849 L480.9 837.8 L482.1 841.4 L483.3 825.5 L484.5 809.9 L485.7 822.3 L486.9 811.4 L488.1 805.2 L489.3 801.9 L490.5 800.1 L491.7 785.3 L492.9 773 L494.1 784.4 L495.3 775.1 L496.5 785.7 L497.7 769.5 L498.9 782.7 L500.1 787 L501.3 784.3 L502.5 786.6 L503.7 790.7 L504.9 793.9 L506.1 793.5 L507.3 805.9 L508.5 801.5 L509.7 817.2 L510.9 825.6 L512.1 833.5 L513.3 831.5 L514.5 856.7 L515.7 868.2 L516.9 856.5 L518.1 869.4 L519.3 874.6 L520.5 877.3 L521.7 877.7 L522.9 867.4 L524.1 878.9 L525.3 869.3 L526.5 858.2 L527.7 850.9 L528.9 861.8 L530.1 856.4 L531.3 858.4 L532.5 853.1 L533.7 861.1 L534.9 859.7 L536.1 853.9 L537.3 852 L538.5 850.2 L539.7 842.4 L540.9 840.8 L542.1 834.7 L543.3 835.8 L544.5 839.8 L545.7 837.1 L546.9 830 L548.1 834.6 L549.3 833.2 L550.5 830.2 L551.7 833 L552.9 833.2 L554.1 832.9 L555.3 824.8 L556.5 833.2 L557.7 820.7 L558.9 820.1 L560.1 822.6 L561.3 824.5 L562.5 813.5 L563.7 814.7 L564.9 816.7 L566.1 819 L567.3 817.8 L568.5 823.8 L569.7 825.5 L570.9 809.6 L572.1 824.7 L573.3 823.5 L574.5 825.6 L575.7 823.7 L576.9 818.5 L578.1 822.6 L579.3 820.3 L580.5 818.7 L581.7 821.8 L582.9 809.8 L584.1 814 L585.3 816.3 L586.5 821.1 L587.7 809.2 L588.9 812.9 L590.1 815.3 L591.3 815.8 L592.5 818.9 L593.7 817.1 L594.9 817.2 L596.1 823.5 L597.3 819.4 L598.5 822.2 L599.7 829.2 L600.9 832.9 L602.1 824.3 L603.3 830.9 L604.5 836.5 L605.7 836.3 L606.9 837.8 L608.1 832.5 L609.3 833.8 L610.5 845.2 L611.7 842.6 L612.9 841.5 L614.1 854.2 L615.3 851.4 L616.5 851.6 L617.7 857.2 L618.9 853.2 L620.1 853.8 L621.3 859.3 L622.5 857.6 L623.7 860.9 L624.9 858 L626.1 847.8 L627.3 849.6 L628.5 828.8 L629.7 823.5 L630.9 806.6 L632.1 758.7 L633.3 747.4 L634.5 741.8 L635.7 737.2 L636.9 733.5 L638.1 756.5 L639.3 798.1 L640.5 833.6 L641.7 849.9 L642.9 860.6 L644.1 854.2 L645.3 859 L646.5 868.7 L647.7 866.1 L648.9 863.8 L650.1 852 L651.3 862.6 L652.5 855.1 L653.7 862.3 L654.9 866.3 L656.1 880.9 L657.3 867.8 L658.5 868.7 L659.7 859.6 L660.9 860.4 L662.1 858.9 L663.3 850.3 L664.5 848.7 L665.7 832.9 L666.9 833.9 L668.1 850.7 L669.3 855 L670.5 841.8 L671.7 854.3 L672.9 858.8 L674.1 837.5 L675.3 831.1 L676.5 826.5 L677.7 819.2 L678.9 815.8 L680.1 821.5 L681.3 800.1 L682.5 799.4 L683.7 784.8 L684.9 787.4 L686.1 784 L687.3 790.5 L688.5 788.7 L689.7 779.3 L690.9 782.7 L692.1 778.6 L693.3 774.4 L694.5 774.8 L695.7 785.6 L696.9 775.8 L698.1 781.4 L699.3 772.5 L700.5 777.8 L701.7 781.3 L702.9 788.4 L704.1 764.1 L705.3 788.6 L706.5 795.2 L707.7 794.4 L708.9 808.8 L710.1 802 L711.3 793.3 L712.5 804.7 L713.7 819.9 L714.9 817.9 L716.1 823.6 L717.3 839.3 L718.5 839.3 L719.7 831.7 L720.9 840.6 L722.1 849.6 L723.3 840.4 L724.5 840.4 L725.7 846.7 L726.9 838.6 L728.1 839.8 L729.3 850.3 L730.5 844.9 L731.7 860.7 L732.9 852.3 L734.1 859.1 L735.3 866.4 L736.5 855.2 L737.7 851.5 L738.9 840.3 L740.1 843.1 L741.3 837.3 L742.5 829.5 L743.7 819.8 L744.9 825.8 L746.1 833.8 L747.3 828.8 L748.5 831.2 L749.7 822.3 L750.9 819.7 L752.1 832.1 L753.3 826.2 L754.5 833 L755.7 818.6 L756.9 836 L758.1 830.6 L759.3 840.4 L760.5 821.6 L761.7 832.9 L762.9 831 L764.1 828.4 L765.3 840.1 L766.5 833.2 L767.7 822.1 L768.9 819.2 L770.1 825.7 L771.3 831.2 L772.5 827 L773.7 831.5 L774.9 822.1 L776.1 835.5 L777.3 834.6 L778.5 840.4 L779.7 833.4 L780.9 836.5 L782.1 835.8 L783.3 818.6 L784.5 838.2 L785.7 830.9 L786.9 844.1 L788.1 829.7 L789.3 833.8 L790.5 832.4 L791.7 823 L792.9 823.3 L794.1 830.9 L795.3 828.5 L796.5 834.4 L797.7 823.3 L798.9 829 L800.1 847.2 L801.3 852.9 L802.5 848.5 L803.7 853.9 L804.9 862.9 L806.1 856.5 L807.3 859.7 L808.5 858.1 L809.7 869.1 L810.9 862.4 L812.1 863.4 L813.3 872.5 L814.5 866.1 L815.7 874.3 L816.9 860.4 L818.1 867.7 L819.3 860.1 L820.5 872 L821.7 859.4 L822.9 866.5 L824.1 859.7 L825.3 857.9 L826.5 874.5 L827.7 878.2 L828.9 890.4 L830.1 888 L831.3 880.6 L832.5 873 L833.7 877.4 L834.9 865.4 L836.1 862.7 L837.3 873.4 L838.5 865.5 L839.7 864.8 L840.9 870 L842.1 883.9 L843.3 878 L844.5 880 L845.7 891.9 L846.9 865.2 L848.1 876.2 L849.3 888.4 L850.5 886.2 L851.7 886.4 L852.9 877.3 L854.1 867.8 L855.3 861.3 L856.5 872.6 L857.7 858.4 L858.9 864.4 L860.1 851.4 L861.3 851.5 L862.5 841.8 L863.7 847.5 L864.9 854.6 L866.1 849.2 L867.3 831.6 L868.5 823.6 L869.7 804.3 L870.9 800 L872.1 805.6 L873.3 795.4 L874.5 794.9 L875.7 793.4 L876.9 796.7 L878.1 802 L879.3 792.4 L880.5 779 L881.7 785.7 L882.9 773.2 L884.1 773.4 L885.3 772.5 L886.5 769.2 L887.7 757.6 L888.9 757.7 L890.1 766.2" fill="none" stroke="#bcbcbc" stroke-width="1.8" stroke-linejoin="round" opacity="0.6"/>
<path d="M173.7 897.6 L174.9 897.4 L176.1 898.4 L177.3 903.1 L178.5 887.6 L179.7 867.7 L180.9 853.9 L182.1 846.3 L183.3 860 L184.5 846.9 L185.7 846 L186.9 848.3 L188.1 834.7 L189.3 846.5 L190.5 823.5 L191.7 830.8 L192.9 817.5 L194.1 797.6 L195.3 793 L196.5 789.4 L197.7 796 L198.9 823.6 L200.1 846.4 L201.3 855.8 L202.5 867.4 L203.7 862.2 L204.9 852 L206.1 871.9 L207.3 892 L208.5 883.5 L209.7 876.9 L210.9 871.9 L212.1 843 L213.3 829.7 L214.5 829 L215.7 825.2 L216.9 810.3 L218.1 815.8 L219.3 827.3 L220.5 826.7 L221.7 833.7 L222.9 837.2 L224.1 844.5 L225.3 843.9 L226.5 833.8 L227.7 830.9 L228.9 826.9 L230.1 838.9 L231.3 820.1 L232.5 829.3 L233.7 814.6 L234.9 806.1 L236.1 829.1 L237.3 805 L238.5 808.5 L239.7 823 L240.9 829.4 L242.1 821.8 L243.3 813.2 L244.5 824.6 L245.7 834.1 L246.9 828.7 L248.1 832 L249.3 846.4 L250.5 850.6 L251.7 841.7 L252.9 855.3 L254.1 854 L255.3 843.5 L256.5 859.7 L257.7 853.4 L258.9 853.5 L260.1 866.1 L261.3 864.5 L262.5 863.7 L263.7 867.7 L264.9 875.2 L266.1 867.7 L267.3 857.5 L268.5 861 L269.7 844.5 L270.9 846.1 L272.1 856.6 L273.3 859.5 L274.5 847.8 L275.7 837.3 L276.9 842.1 L278.1 841.7 L279.3 848.8 L280.5 846.9 L281.7 844.7 L282.9 852.1 L284.1 842 L285.3 848.1 L286.5 824 L287.7 839.7 L288.9 846.8 L290.1 842 L291.3 843.5 L292.5 850.5 L293.7 844.3 L294.9 847.1 L296.1 858.6 L297.3 847.3 L298.5 851.7 L299.7 845.8 L300.9 853.7 L302.1 839.6 L303.3 842.4 L304.5 841.8 L305.7 844.1 L306.9 849.9 L308.1 848 L309.3 848.4 L310.5 848.4 L311.7 842.5 L312.9 845.6 L314.1 847.4 L315.3 853.8 L316.5 839.1 L317.7 844 L318.9 838.7 L320.1 837 L321.3 848.5 L322.5 840.5 L323.7 842.8 L324.9 838.2 L326.1 850.9 L327.3 848.2 L328.5 845.2 L329.7 841.7 L330.9 845.9 L332.1 839.4 L333.3 835.7 L334.5 836.8 L335.7 830.5 L336.9 833.8 L338.1 826.2 L339.3 824.9 L340.5 821.9 L341.7 824.5 L342.9 827.1 L344.1 826.2 L345.3 836.1 L346.5 831 L347.7 833.2 L348.9 825 L350.1 825.6 L351.3 822.3 L352.5 826.3 L353.7 824.5 L354.9 814.3 L356.1 818.1 L357.3 818.7 L358.5 810.8 L359.7 805.5 L360.9 822.5 L362.1 807.9 L363.3 810.9 L364.5 810.7 L365.7 808.8 L366.9 802.5 L368.1 807.5 L369.3 813 L370.5 865.3 L371.7 873.1 L372.9 854.1 L374.1 864 L375.3 864.9 L376.5 853.6 L377.7 849.2 L378.9 849.8 L380.1 849.7 L381.3 859.6 L382.5 858.3 L383.7 855.6 L384.9 859 L386.1 861.5 L387.3 864.3 L388.5 871.8 L389.7 868.5 L390.9 865.1 L392.1 867.1 L393.3 861.2 L394.5 864.9 L395.7 858.6 L396.9 846.4 L398.1 846.2 L399.3 843 L400.5 831.3 L401.7 823.5 L402.9 833.1 L404.1 816.5 L405.3 811.8 L406.5 806.9 L407.7 815.1 L408.9 813 L410.1 807.4 L411.3 812.1 L412.5 810.3 L413.7 798.8 L414.9 806.5 L416.1 810.6 L417.3 808.1 L418.5 808.9 L419.7 814.6 L420.9 820.5 L422.1 819.3 L423.3 823.9 L424.5 826 L425.7 820.5 L426.9 838.6 L428.1 841.4 L429.3 839.2 L430.5 855.7 L431.7 856.5 L432.9 864.3 L434.1 871.8 L435.3 875.3 L436.5 881.6 L437.7 878.6 L438.9 884.3 L440.1 876.5 L441.3 878.1 L442.5 875.4 L443.7 877.3 L444.9 875 L446.1 874.2 L447.3 872.6 L448.5 871 L449.7 862.8 L450.9 863.1 L452.1 859.4 L453.3 860.3 L454.5 865 L455.7 866.7 L456.9 856.8 L458.1 854.4 L459.3 860.7 L460.5 858.4 L461.7 856.5 L462.9 858.7 L464.1 859.9 L465.3 855 L466.5 852.6 L467.7 852.8 L468.9 853.5 L470.1 858.1 L471.3 862.5 L472.5 860.8 L473.7 869.1 L474.9 864.7 L476.1 858.4 L477.3 857.6 L478.5 850.7 L479.7 849 L480.9 849.8 L482.1 832.4 L483.3 824.3 L484.5 817.9 L485.7 816.2 L486.9 801.1 L488.1 794.2 L489.3 783.1 L490.5 776.4 L491.7 777.8 L492.9 770.3 L494.1 760.8 L495.3 762.6 L496.5 766.9 L497.7 762.3 L498.9 759 L500.1 774 L501.3 773.5 L502.5 776.1 L503.7 777.4 L504.9 781.1 L506.1 784.7 L507.3 794.6 L508.5 795.4 L509.7 811.1 L510.9 820.4 L512.1 823.1 L513.3 836 L514.5 846 L515.7 852.4 L516.9 858.5 L518.1 870.3 L519.3 878.7 L520.5 885.1 L521.7 881.4 L522.9 875.3 L524.1 873.2 L525.3 870.7 L526.5 860.9 L527.7 867.6 L528.9 864.2 L530.1 866.7 L531.3 867.1 L532.5 871 L533.7 868.1 L534.9 867.4 L536.1 866.6 L537.3 863.5 L538.5 846 L539.7 847.8 L540.9 855.4 L542.1 850.4 L543.3 851.6 L544.5 847.9 L545.7 847.4 L546.9 843.9 L548.1 841 L549.3 840.3 L550.5 843.5 L551.7 833.5 L552.9 836.8 L554.1 835.7 L555.3 833.5 L556.5 830.9 L557.7 828.9 L558.9 822.3 L560.1 814.6 L561.3 819.8 L562.5 818.8 L563.7 818.4 L564.9 812.2 L566.1 815.7 L567.3 812.2 L568.5 818.1 L569.7 809.1 L570.9 814.8 L572.1 812.2 L573.3 815.6 L574.5 808.4 L575.7 810.5 L576.9 815.3 L578.1 816.7 L579.3 808 L580.5 816.3 L581.7 812.8 L582.9 814.6 L584.1 809.7 L585.3 810.1 L586.5 808.1 L587.7 816.1 L588.9 803.5 L590.1 802.8 L591.3 814.2 L592.5 813.1 L593.7 812.2 L594.9 821.5 L596.1 822 L597.3 825.3 L598.5 818.7 L599.7 825.2 L600.9 823.1 L602.1 828.9 L603.3 828 L604.5 832.3 L605.7 829.8 L606.9 834.3 L608.1 834.4 L609.3 839.9 L610.5 835 L611.7 844.7 L612.9 852.4 L614.1 851.4 L615.3 863.3 L616.5 863.2 L617.7 858.5 L618.9 859.6 L620.1 864.3 L621.3 873 L622.5 869.9 L623.7 865.7 L624.9 872.4 L626.1 866.5 L627.3 859.6 L628.5 857.5 L629.7 840.8 L630.9 802 L632.1 804.1 L633.3 784.3 L634.5 769.3 L635.7 766.8 L636.9 754.2 L638.1 790.7 L639.3 815.5 L640.5 857.5 L641.7 860.4 L642.9 869.8 L644.1 880.4 L645.3 889 L646.5 880.9 L647.7 883.3 L648.9 873.5 L650.1 878.5 L651.3 877.8 L652.5 871.7 L653.7 879.4 L654.9 880.3 L656.1 889.1 L657.3 888.7 L658.5 881.6 L659.7 879.3 L660.9 880.4 L662.1 878.9 L663.3 863.9 L664.5 856.4 L665.7 849.6 L666.9 869.6 L668.1 858 L669.3 862.9 L670.5 862.9 L671.7 877.1 L672.9 852.9 L674.1 855.7 L675.3 847.3 L676.5 843 L677.7 830.6 L678.9 829.3 L680.1 819.7 L681.3 810.6 L682.5 812.5 L683.7 806.1 L684.9 815 L686.1 794.3 L687.3 801.9 L688.5 796.9 L689.7 785.8 L690.9 793.6 L692.1 779.4 L693.3 787.1 L694.5 781.9 L695.7 788.8 L696.9 785.2 L698.1 782.4 L699.3 788.7 L700.5 780.3 L701.7 769.7 L702.9 787.4 L704.1 786.1 L705.3 791.6 L706.5 784.4 L707.7 802.1 L708.9 802.5 L710.1 804.5 L711.3 812.2 L712.5 812.6 L713.7 820.6 L714.9 821.2 L716.1 834.2 L717.3 834.4 L718.5 841.4 L719.7 842.7 L720.9 841.3 L722.1 844.3 L723.3 853.9 L724.5 839.8 L725.7 849.1 L726.9 846.1 L728.1 844.6 L729.3 849.7 L730.5 853.6 L731.7 853.4 L732.9 856.1 L734.1 854.7 L735.3 864.2 L736.5 856 L737.7 844.6 L738.9 854.4 L740.1 842.6 L741.3 836.3 L742.5 831.3 L743.7 827.1 L744.9 826.9 L746.1 835 L747.3 829.7 L748.5 840 L749.7 835.7 L750.9 837.5 L752.1 828.7 L753.3 830 L754.5 838.3 L755.7 833.4 L756.9 830.4 L758.1 837.9 L759.3 835.7 L760.5 848.7 L761.7 843.1 L762.9 839.9 L764.1 837.6 L765.3 847.4 L766.5 844.3 L767.7 834.1 L768.9 837.8 L770.1 839.2 L771.3 838.1 L772.5 834.8 L773.7 829.5 L774.9 838.1 L776.1 834.5 L777.3 852.3 L778.5 847 L779.7 844.9 L780.9 839.5 L782.1 830.5 L783.3 842.1 L784.5 841.8 L785.7 838.1 L786.9 835.6 L788.1 833.3 L789.3 834.4 L790.5 834.6 L791.7 828.5 L792.9 828.2 L794.1 842.6 L795.3 831 L796.5 828.3 L797.7 837.4 L798.9 829.9 L800.1 827.7 L801.3 822.1 L802.5 849.2 L803.7 851.9 L804.9 859.5 L806.1 867.4 L807.3 867.6 L808.5 867.4 L809.7 860.8 L810.9 862.6 L812.1 865.6 L813.3 859.5 L814.5 858.2 L815.7 857.8 L816.9 866.4 L818.1 860.7 L819.3 863 L820.5 865.3 L821.7 856 L822.9 868.2 L824.1 861.6 L825.3 865.4 L826.5 878.9 L827.7 878.6 L828.9 891.9 L830.1 878 L831.3 880.6 L832.5 868.4 L833.7 866.6 L834.9 857.3 L836.1 875.1 L837.3 869.6 L838.5 866 L839.7 879.9 L840.9 865.6 L842.1 878.4 L843.3 889.4 L844.5 887.5 L845.7 884.3 L846.9 893.2 L848.1 890.1 L849.3 884.5 L850.5 886.2 L851.7 882.9 L852.9 877.4 L854.1 877.3 L855.3 868.1 L856.5 858.8 L857.7 869.7 L858.9 865.6 L860.1 855.2 L861.3 849.7 L862.5 859 L863.7 861.3 L864.9 861.8 L866.1 867.3 L867.3 857.4 L868.5 835.8 L869.7 821.3 L870.9 804.2 L872.1 805.6 L873.3 799.2 L874.5 795.1 L875.7 798.6 L876.9 801 L878.1 802.9 L879.3 809.1 L880.5 805.6 L881.7 787 L882.9 795.3 L884.1 781.5 L885.3 790.5 L886.5 767.8 L887.7 778.8 L888.9 785.4 L890.1 760.2" fill="none" stroke="#bcbcbc" stroke-width="1.8" stroke-linejoin="round" opacity="0.6"/>
<path d="M173.7 891.7 L174.9 867.9 L176.1 876.9 L177.3 882.5 L178.5 876.8 L179.7 843.2 L180.9 842.7 L182.1 834.2 L183.3 836.3 L184.5 828.2 L185.7 821.2 L186.9 821.1 L188.1 827.7 L189.3 820.4 L190.5 813.5 L191.7 814.1 L192.9 810.2 L194.1 781.3 L195.3 790.2 L196.5 776.2 L197.7 775.4 L198.9 803.9 L200.1 809.4 L201.3 825.4 L202.5 847.8 L203.7 834.3 L204.9 834.8 L206.1 848.8 L207.3 857.8 L208.5 886.6 L209.7 849.7 L210.9 845.4 L212.1 819.4 L213.3 813.1 L214.5 804.1 L215.7 817 L216.9 806.5 L218.1 809.5 L219.3 814.8 L220.5 820.1 L221.7 827.4 L222.9 819.2 L224.1 817.5 L225.3 826.6 L226.5 818.2 L227.7 836.3 L228.9 820.8 L230.1 814.7 L231.3 817 L232.5 804.7 L233.7 804.3 L234.9 801.1 L236.1 799.7 L237.3 804.5 L238.5 804.2 L239.7 810.3 L240.9 807.8 L242.1 800.4 L243.3 816.8 L244.5 813.7 L245.7 815.8 L246.9 834.2 L248.1 824.3 L249.3 832.7 L250.5 845.2 L251.7 834.7 L252.9 844.1 L254.1 838.9 L255.3 852.1 L256.5 846.9 L257.7 851.5 L258.9 866.5 L260.1 855.5 L261.3 852.7 L262.5 848.2 L263.7 859.2 L264.9 854.4 L266.1 854.1 L267.3 845.4 L268.5 840.5 L269.7 845.6 L270.9 833.9 L272.1 837.6 L273.3 839.3 L274.5 833.9 L275.7 839.7 L276.9 830.6 L278.1 829.8 L279.3 828.5 L280.5 838.1 L281.7 843.8 L282.9 826 L284.1 819.2 L285.3 819.4 L286.5 820.1 L287.7 830.3 L288.9 825.3 L290.1 825.5 L291.3 826.3 L292.5 831 L293.7 825.1 L294.9 830.6 L296.1 840.3 L297.3 835.9 L298.5 833.5 L299.7 825 L300.9 826.4 L302.1 821.9 L303.3 812.2 L304.5 822.4 L305.7 820.7 L306.9 834.9 L308.1 830.3 L309.3 814.7 L310.5 827.7 L311.7 830.8 L312.9 814.2 L314.1 826.1 L315.3 824.8 L316.5 816.4 L317.7 822.3 L318.9 827.8 L320.1 826 L321.3 825.4 L322.5 828.6 L323.7 825.5 L324.9 829.3 L326.1 818 L327.3 829.8 L328.5 825.1 L329.7 820.3 L330.9 829.5 L332.1 823.1 L333.3 832.4 L334.5 817.7 L335.7 813.3 L336.9 816.7 L338.1 821.7 L339.3 819.8 L340.5 813.8 L341.7 815.2 L342.9 812.7 L344.1 815.3 L345.3 818.4 L346.5 815.9 L347.7 817.3 L348.9 816.3 L350.1 816.6 L351.3 816.7 L352.5 807.8 L353.7 805.9 L354.9 805.8 L356.1 801.1 L357.3 793.9 L358.5 798.6 L359.7 792.4 L360.9 805.9 L362.1 794.9 L363.3 792 L364.5 786.2 L365.7 782.7 L366.9 786 L368.1 797.7 L369.3 800.4 L370.5 840.8 L371.7 849.5 L372.9 837.1 L374.1 845.4 L375.3 844.9 L376.5 836.1 L377.7 828.8 L378.9 838.4 L380.1 834.3 L381.3 834.5 L382.5 840.7 L383.7 833 L384.9 840 L386.1 843.1 L387.3 845.4 L388.5 841.9 L389.7 848.4 L390.9 841 L392.1 851 L393.3 847.4 L394.5 846.8 L395.7 843 L396.9 839.5 L398.1 836.2 L399.3 822.8 L400.5 820.7 L401.7 813.8 L402.9 810.5 L404.1 810.9 L405.3 798.8 L406.5 797.5 L407.7 801 L408.9 797.8 L410.1 795.1 L411.3 805 L412.5 794.2 L413.7 802.6 L414.9 796.7 L416.1 796.1 L417.3 800.4 L418.5 799.4 L419.7 797.2 L420.9 808 L422.1 810.3 L423.3 819.3 L424.5 815.5 L425.7 815.8 L426.9 825.1 L428.1 829.8 L429.3 836.2 L430.5 844.3 L431.7 850 L432.9 860.7 L434.1 864.3 L435.3 865.1 L436.5 863.5 L437.7 865.6 L438.9 868.8 L440.1 870.3 L441.3 869.5 L442.5 861.7 L443.7 861.3 L444.9 863.4 L446.1 855.7 L447.3 858.7 L448.5 857 L449.7 851.9 L450.9 851.2 L452.1 844.6 L453.3 850.7 L454.5 846.3 L455.7 846.5 L456.9 848.6 L458.1 847.4 L459.3 841 L460.5 847.1 L461.7 844.3 L462.9 842.3 L464.1 841.7 L465.3 848.3 L466.5 848 L467.7 845.6 L468.9 843.4 L470.1 844.5 L471.3 850.5 L472.5 854.3 L473.7 856.2 L474.9 859 L476.1 854.9 L477.3 852.3 L478.5 849.8 L479.7 845 L480.9 829.7 L482.1 834 L483.3 824.5 L484.5 820.4 L485.7 816.5 L486.9 807.9 L488.1 796.4 L489.3 795.8 L490.5 786.2 L491.7 779.8 L492.9 772.4 L494.1 785.1 L495.3 777.1 L496.5 771.1 L497.7 762.5 L498.9 771.2 L500.1 786.7 L501.3 774.5 L502.5 787.3 L503.7 783.9 L504.9 785.3 L506.1 804 L507.3 787.5 L508.5 800.3 L509.7 802.9 L510.9 816.1 L512.1 819.7 L513.3 824.4 L514.5 846.6 L515.7 857.6 L516.9 861.3 L518.1 861.4 L519.3 866.9 L520.5 859.8 L521.7 861.2 L522.9 860.4 L524.1 863 L525.3 858.2 L526.5 850.2 L527.7 847.5 L528.9 845.7 L530.1 843.5 L531.3 834.7 L532.5 839.9 L533.7 856.9 L534.9 841.3 L536.1 852.2 L537.3 834.6 L538.5 829.4 L539.7 834.1 L540.9 828.2 L542.1 830.5 L543.3 826.8 L544.5 827.9 L545.7 828.4 L546.9 828 L548.1 824.5 L549.3 824.7 L550.5 826.8 L551.7 824.5 L552.9 815.2 L554.1 814.4 L555.3 817.6 L556.5 816.9 L557.7 813.3 L558.9 816.2 L560.1 814.9 L561.3 806.4 L562.5 802.1 L563.7 799.5 L564.9 806.8 L566.1 804.6 L567.3 800.2 L568.5 804.8 L569.7 807.9 L570.9 808.9 L572.1 811.1 L573.3 802.7 L574.5 809.9 L575.7 808.2 L576.9 813.4 L578.1 812.7 L579.3 797.2 L580.5 812.2 L581.7 815.8 L582.9 813 L584.1 799.9 L585.3 806.5 L586.5 798.4 L587.7 803.3 L588.9 798.7 L590.1 804.3 L591.3 806.8 L592.5 805.8 L593.7 813.1 L594.9 807.6 L596.1 806.5 L597.3 817.3 L598.5 813 L599.7 820.9 L600.9 821.7 L602.1 818 L603.3 827.5 L604.5 822 L605.7 826 L606.9 830.4 L608.1 827.3 L609.3 824.3 L610.5 834.5 L611.7 834.9 L612.9 833.9 L614.1 847.6 L615.3 844 L616.5 845.3 L617.7 844.9 L618.9 857.3 L620.1 846.4 L621.3 850.1 L622.5 858.9 L623.7 855.9 L624.9 854.8 L626.1 841.5 L627.3 832.6 L628.5 833.1 L629.7 804.9 L630.9 765.5 L632.1 737.8 L633.3 719.7 L634.5 705.1 L635.7 718.9 L636.9 712.6 L638.1 751.8 L639.3 782.7 L640.5 801.9 L641.7 830.7 L642.9 838.6 L644.1 855.9 L645.3 874 L646.5 855.5 L647.7 839.8 L648.9 840 L650.1 835.3 L651.3 843.9 L652.5 840.5 L653.7 839.4 L654.9 851.1 L656.1 859.8 L657.3 855.7 L658.5 846.8 L659.7 850.9 L660.9 826.8 L662.1 834.2 L663.3 823.1 L664.5 827.5 L665.7 833.6 L666.9 834.7 L668.1 819.9 L669.3 830.8 L670.5 827 L671.7 852 L672.9 838 L674.1 827.8 L675.3 829.7 L676.5 805.6 L677.7 799 L678.9 805.3 L680.1 799.8 L681.3 792 L682.5 792.2 L683.7 777.3 L684.9 781.7 L686.1 770.7 L687.3 760.1 L688.5 762.7 L689.7 754 L690.9 766.8 L692.1 748.3 L693.3 748.8 L694.5 757.2 L695.7 756.4 L696.9 759.6 L698.1 758 L699.3 751.2 L700.5 756.6 L701.7 755.4 L702.9 757 L704.1 762.7 L705.3 764.5 L706.5 774.6 L707.7 780.6 L708.9 775.1 L710.1 795.6 L711.3 791.2 L712.5 786.7 L713.7 797.2 L714.9 806.1 L716.1 815 L717.3 827.3 L718.5 815.3 L719.7 830.7 L720.9 835.5 L722.1 833.3 L723.3 831.4 L724.5 823.4 L725.7 839.6 L726.9 824.1 L728.1 831.3 L729.3 834.8 L730.5 834.5 L731.7 834.9 L732.9 835.1 L734.1 850.1 L735.3 856.5 L736.5 841.8 L737.7 833.9 L738.9 830.1 L740.1 837.2 L741.3 826.3 L742.5 808.9 L743.7 819.8 L744.9 822.4 L746.1 817.9 L747.3 807.9 L748.5 813.9 L749.7 814.2 L750.9 820.9 L752.1 807.5 L753.3 801 L754.5 805.7 L755.7 816 L756.9 817.4 L758.1 816.8 L759.3 820.1 L760.5 824.7 L761.7 819.8 L762.9 829.3 L764.1 825.5 L765.3 821.7 L766.5 831.8 L767.7 823.3 L768.9 819.2 L770.1 825 L771.3 821.6 L772.5 824.4 L773.7 824.6 L774.9 828.6 L776.1 831 L777.3 824.3 L778.5 836.7 L779.7 837.4 L780.9 833.4 L782.1 825.8 L783.3 830.5 L784.5 838.5 L785.7 817.8 L786.9 831.4 L788.1 830.3 L789.3 816.3 L790.5 820.5 L791.7 815.2 L792.9 830 L794.1 831.9 L795.3 823.7 L796.5 818 L797.7 820.8 L798.9 831.3 L800.1 822.3 L801.3 821.4 L802.5 830.7 L803.7 834.2 L804.9 845.3 L806.1 838.6 L807.3 847.5 L808.5 851.9 L809.7 845.1 L810.9 842 L812.1 838.7 L813.3 844.1 L814.5 848 L815.7 840.5 L816.9 833.8 L818.1 834.6 L819.3 829.6 L820.5 834.3 L821.7 819.3 L822.9 826 L824.1 823.7 L825.3 827.6 L826.5 851 L827.7 843.6 L828.9 844.5 L830.1 835.6 L831.3 840.9 L832.5 826.9 L833.7 829 L834.9 826.2 L836.1 834.5 L837.3 824.5 L838.5 819.5 L839.7 825.7 L840.9 826.8 L842.1 837.2 L843.3 838.5 L844.5 847.2 L845.7 856.1 L846.9 841.7 L848.1 846.9 L849.3 855.5 L850.5 852.9 L851.7 846.2 L852.9 840.1 L854.1 845.5 L855.3 832.8 L856.5 835.2 L857.7 824.4 L858.9 839.6 L860.1 822.5 L861.3 827.1 L862.5 836.9 L863.7 830.2 L864.9 832 L866.1 828.8 L867.3 821.9 L868.5 810.9 L869.7 800 L870.9 788 L872.1 782.5 L873.3 779.4 L874.5 780.9 L875.7 778.1 L876.9 783.7 L878.1 776.1 L879.3 792 L880.5 782 L881.7 766.6 L882.9 767.4 L884.1 769.5 L885.3 765.1 L886.5 761 L887.7 746.9 L888.9 739.8 L890.1 717.5" fill="none" stroke="#bcbcbc" stroke-width="1.8" stroke-linejoin="round" opacity="0.6"/>
<path d="M173.7 908.9 L174.9 908.2 L176.1 883.8 L177.3 904.2 L178.5 887.7 L179.7 861.6 L180.9 858.2 L182.1 849 L183.3 836.8 L184.5 842.5 L185.7 832.6 L186.9 847.8 L188.1 841.8 L189.3 824.4 L190.5 832.9 L191.7 811.9 L192.9 828.9 L194.1 803.5 L195.3 784.2 L196.5 797.1 L197.7 774.7 L198.9 801.8 L200.1 822.3 L201.3 828.9 L202.5 863.9 L203.7 829.4 L204.9 830 L206.1 860.8 L207.3 865.5 L208.5 875.7 L209.7 883.6 L210.9 877 L212.1 824.1 L213.3 809.9 L214.5 816.2 L215.7 816.6 L216.9 811.9 L218.1 817 L219.3 814.7 L220.5 829.8 L221.7 824.6 L222.9 835.4 L224.1 821.6 L225.3 835.6 L226.5 835.3 L227.7 818.1 L228.9 824.5 L230.1 826.1 L231.3 833.1 L232.5 823.7 L233.7 829 L234.9 819.2 L236.1 822.9 L237.3 819.6 L238.5 809.3 L239.7 817.4 L240.9 827 L242.1 826.9 L243.3 821.9 L244.5 829.5 L245.7 838.8 L246.9 829 L248.1 837 L249.3 847.8 L250.5 859.7 L251.7 861.1 L252.9 851.5 L254.1 861.1 L255.3 864.2 L256.5 872.8 L257.7 865.5 L258.9 880.7 L260.1 873.8 L261.3 874.8 L262.5 876.7 L263.7 865.2 L264.9 864.4 L266.1 864.6 L267.3 874.1 L268.5 857.2 L269.7 870.4 L270.9 847.5 L272.1 855 L273.3 843.4 L274.5 844.9 L275.7 848.8 L276.9 853.6 L278.1 850.5 L279.3 849.6 L280.5 833.8 L281.7 849.6 L282.9 842.9 L284.1 840.1 L285.3 833.9 L286.5 825 L287.7 834.7 L288.9 832.5 L290.1 834.3 L291.3 836.4 L292.5 831.5 L293.7 836.4 L294.9 833.6 L296.1 841.4 L297.3 850.1 L298.5 833 L299.7 838.1 L300.9 835.9 L302.1 823.1 L303.3 835.8 L304.5 838.2 L305.7 840.2 L306.9 834.9 L308.1 831.2 L309.3 832.5 L310.5 833.5 L311.7 840.5 L312.9 833.1 L314.1 822.5 L315.3 835.6 L316.5 824.2 L317.7 839.9 L318.9 828.6 L320.1 832.3 L321.3 825.4 L322.5 818.5 L323.7 837.7 L324.9 830.7 L326.1 834 L327.3 841.6 L328.5 840.2 L329.7 832.9 L330.9 824.7 L332.1 834 L333.3 837.1 L334.5 836.9 L335.7 837 L336.9 818.9 L338.1 817.8 L339.3 826.3 L340.5 823.2 L341.7 828 L342.9 829.3 L344.1 830 L345.3 828.1 L346.5 829.2 L347.7 830.9 L348.9 839.8 L350.1 837 L351.3 829 L352.5 825.5 L353.7 833.4 L354.9 817.8 L356.1 818.1 L357.3 810.9 L358.5 813.4 L359.7 818.2 L360.9 810.9 L362.1 811.8 L363.3 820.5 L364.5 818.2 L365.7 802.3 L366.9 813.1 L368.1 816.3 L369.3 837.3 L370.5 878.5 L371.7 880.3 L372.9 863.8 L374.1 873.4 L375.3 864.8 L376.5 863.8 L377.7 870.4 L378.9 862.3 L380.1 862.3 L381.3 863.1 L382.5 868.2 L383.7 870.6 L384.9 871 L386.1 870.8 L387.3 872.3 L388.5 879.8 L389.7 878.6 L390.9 881.8 L392.1 877.9 L393.3 865.6 L394.5 875.5 L395.7 856.1 L396.9 863.8 L398.1 860.8 L399.3 850.6 L400.5 842.4 L401.7 839.3 L402.9 835.9 L404.1 826.4 L405.3 824.4 L406.5 818.8 L407.7 815 L408.9 813 L410.1 823.9 L411.3 811.9 L412.5 814.4 L413.7 814.6 L414.9 811.6 L416.1 809.9 L417.3 814.3 L418.5 813.2 L419.7 813.4 L420.9 820.2 L422.1 823.7 L423.3 821.3 L424.5 829.2 L425.7 833.7 L426.9 839.5 L428.1 837.2 L429.3 835.8 L430.5 854.6 L431.7 858.8 L432.9 856.5 L434.1 860.8 L435.3 871.8 L436.5 866.5 L437.7 873.8 L438.9 881.5 L440.1 877.4 L441.3 876.8 L442.5 873.4 L443.7 869.9 L444.9 873.8 L446.1 873.2 L447.3 864.7 L448.5 865.5 L449.7 863.5 L450.9 860.4 L452.1 860.3 L453.3 854.3 L454.5 860.1 L455.7 856.7 L456.9 858 L458.1 845.9 L459.3 854.9 L460.5 851.5 L461.7 854.8 L462.9 856.7 L464.1 848.9 L465.3 858.7 L466.5 855 L467.7 856.8 L468.9 858 L470.1 859.3 L471.3 861.2 L472.5 860.1 L473.7 866.9 L474.9 865.4 L476.1 860.8 L477.3 866.6 L478.5 863 L479.7 851.7 L480.9 842.5 L482.1 839.2 L483.3 838.9 L484.5 829.8 L485.7 813.9 L486.9 807.9 L488.1 801.8 L489.3 802.6 L490.5 798.6 L491.7 786.9 L492.9 784 L494.1 779.6 L495.3 775.1 L496.5 780.4 L497.7 778.7 L498.9 781.1 L500.1 793.9 L501.3 776.8 L502.5 788.2 L503.7 792 L504.9 798.3 L506.1 805.4 L507.3 808.5 L508.5 807.7 L509.7 822.8 L510.9 822.1 L512.1 837.8 L513.3 840.3 L514.5 860.2 L515.7 870.6 L516.9 869.1 L518.1 882.8 L519.3 885.3 L520.5 891.1 L521.7 879.1 L522.9 889.6 L524.1 880.6 L525.3 877.8 L526.5 870.4 L527.7 866.4 L528.9 852.2 L530.1 857.8 L531.3 855.9 L532.5 868 L533.7 854.9 L534.9 865.2 L536.1 852 L537.3 857.3 L538.5 844.2 L539.7 841.3 L540.9 848.9 L542.1 836.1 L543.3 836.6 L544.5 837.1 L545.7 834.1 L546.9 840.4 L548.1 839.3 L549.3 832 L550.5 828.9 L551.7 828.9 L552.9 831.8 L554.1 832 L555.3 834.2 L556.5 822.3 L557.7 825.6 L558.9 817.9 L560.1 817.5 L561.3 821.2 L562.5 814.9 L563.7 811.6 L564.9 805.9 L566.1 811.3 L567.3 824.4 L568.5 814.7 L569.7 812.3 L570.9 807.1 L572.1 812 L573.3 807.2 L574.5 813.6 L575.7 812.8 L576.9 816.5 L578.1 817.4 L579.3 817.2 L580.5 825.1 L581.7 822.4 L582.9 820.5 L584.1 810.9 L585.3 811.4 L586.5 819.6 L587.7 812.3 L588.9 807.1 L590.1 821.2 L591.3 814.3 L592.5 820.1 L593.7 824.3 L594.9 819.6 L596.1 826.8 L597.3 819.1 L598.5 828.7 L599.7 830.2 L600.9 826.7 L602.1 828.2 L603.3 829.9 L604.5 836.3 L605.7 834.2 L606.9 833.7 L608.1 834 L609.3 845.7 L610.5 839.6 L611.7 844.6 L612.9 847.9 L614.1 852.5 L615.3 854.9 L616.5 854.9 L617.7 858.7 L618.9 865.4 L620.1 863.7 L621.3 860.6 L622.5 861.2 L623.7 867.6 L624.9 869.1 L626.1 846.7 L627.3 861 L628.5 853.2 L629.7 820.1 L630.9 812 L632.1 788.1 L633.3 754.5 L634.5 761.3 L635.7 753.1 L636.9 736.1 L638.1 772.2 L639.3 811.5 L640.5 821.4 L641.7 853.5 L642.9 867.7 L644.1 874.6 L645.3 875.5 L646.5 866.8 L647.7 868.5 L648.9 870.8 L650.1 866.7 L651.3 852.2 L652.5 874.3 L653.7 863 L654.9 870.1 L656.1 882.1 L657.3 875.4 L658.5 856.7 L659.7 852.1 L660.9 857.4 L662.1 843.4 L663.3 848.4 L664.5 861.4 L665.7 838.5 L666.9 844.3 L668.1 845 L669.3 838.1 L670.5 850.1 L671.7 848.4 L672.9 853 L674.1 840.4 L675.3 825.8 L676.5 817.7 L677.7 818 L678.9 820.2 L680.1 812 L681.3 801.2 L682.5 799.8 L683.7 791.2 L684.9 778.6 L686.1 783.2 L687.3 773.5 L688.5 770.8 L689.7 769.5 L690.9 772.4 L692.1 763.3 L693.3 782.5 L694.5 762.1 L695.7 772.5 L696.9 769.5 L698.1 772.6 L699.3 769.2 L700.5 764.5 L701.7 783.3 L702.9 767.5 L704.1 754.1 L705.3 762.7 L706.5 779.5 L707.7 787.3 L708.9 800.3 L710.1 793.7 L711.3 810.2 L712.5 802.8 L713.7 815.9 L714.9 816.8 L716.1 825.7 L717.3 830.6 L718.5 834.3 L719.7 838.1 L720.9 845.6 L722.1 836.5 L723.3 844.5 L724.5 843.7 L725.7 846.3 L726.9 852.1 L728.1 844.2 L729.3 857.5 L730.5 849.7 L731.7 864.9 L732.9 860.1 L734.1 863.4 L735.3 852.3 L736.5 851.8 L737.7 858 L738.9 847.7 L740.1 852.9 L741.3 839.2 L742.5 834.8 L743.7 833.9 L744.9 841.2 L746.1 836.9 L747.3 830 L748.5 835.6 L749.7 838.1 L750.9 825.1 L752.1 844.7 L753.3 835.6 L754.5 840.9 L755.7 833.3 L756.9 831.8 L758.1 830.6 L759.3 835.9 L760.5 842.3 L761.7 845.4 L762.9 851.3 L764.1 844.3 L765.3 848.8 L766.5 850 L767.7 842 L768.9 852.7 L770.1 843.4 L771.3 834.6 L772.5 841.5 L773.7 837.1 L774.9 840 L776.1 838.6 L777.3 858.1 L778.5 848.8 L779.7 849.2 L780.9 844.4 L782.1 852.6 L783.3 842.3 L784.5 834.7 L785.7 843.5 L786.9 831.7 L788.1 847.4 L789.3 856.7 L790.5 847.5 L791.7 839.3 L792.9 850.5 L794.1 844.5 L795.3 839.2 L796.5 841.7 L797.7 839.5 L798.9 835.2 L800.1 853.8 L801.3 847.1 L802.5 858.1 L803.7 873.2 L804.9 872.1 L806.1 880.2 L807.3 875.7 L808.5 872.6 L809.7 883.1 L810.9 865.2 L812.1 880.7 L813.3 879.2 L814.5 884.7 L815.7 876.4 L816.9 872.7 L818.1 882.2 L819.3 887.1 L820.5 883.7 L821.7 873.3 L822.9 862 L824.1 875.9 L825.3 889.7 L826.5 885.2 L827.7 892.4 L828.9 905.5 L830.1 882.1 L831.3 891.2 L832.5 880 L833.7 885.2 L834.9 881.7 L836.1 860.8 L837.3 878.5 L838.5 878.2 L839.7 868.9 L840.9 872.3 L842.1 877.8 L843.3 886.2 L844.5 889.4 L845.7 887.3 L846.9 891.6 L848.1 887.2 L849.3 891.7 L850.5 883.5 L851.7 881.4 L852.9 883.9 L854.1 879.9 L855.3 873.3 L856.5 863 L857.7 854.1 L858.9 859.2 L860.1 852.3 L861.3 844.2 L862.5 858.7 L863.7 858.4 L864.9 845.2 L866.1 862.7 L867.3 856.3 L868.5 828.2 L869.7 811.6 L870.9 813.4 L872.1 792.5 L873.3 800.7 L874.5 793.2 L875.7 789.7 L876.9 803.1 L878.1 802 L879.3 808.3 L880.5 802.5 L881.7 797.4 L882.9 778.5 L884.1 786.1 L885.3 778.3 L886.5 784 L887.7 771.3 L888.9 778.4 L890.1 765.3" fill="none" stroke="#bcbcbc" stroke-width="1.8" stroke-linejoin="round" opacity="0.6"/>
<path d="M173.7 890.5 L174.9 869.2 L176.1 877.4 L177.3 865.4 L178.5 875.8 L179.7 856.4 L180.9 827.1 L182.1 825.8 L183.3 819.7 L184.5 831.5 L185.7 834 L186.9 830.8 L188.1 835.8 L189.3 826.8 L190.5 825.4 L191.7 819.3 L192.9 796.9 L194.1 782.7 L195.3 773.9 L196.5 775.1 L197.7 766.7 L198.9 807.2 L200.1 828.2 L201.3 833.2 L202.5 843 L203.7 825.3 L204.9 826.4 L206.1 855.2 L207.3 875.3 L208.5 863.8 L209.7 856.6 L210.9 837.4 L212.1 827.9 L213.3 807.1 L214.5 798.1 L215.7 807 L216.9 794.8 L218.1 801.4 L219.3 805.2 L220.5 813.7 L221.7 812 L222.9 820.8 L224.1 816 L225.3 822.1 L226.5 812.1 L227.7 813.7 L228.9 807.3 L230.1 812.7 L231.3 811.8 L232.5 806.3 L233.7 802.4 L234.9 809.1 L236.1 790.4 L237.3 785.7 L238.5 787 L239.7 790.5 L240.9 786.5 L242.1 807.2 L243.3 802.3 L244.5 806.9 L245.7 812.5 L246.9 816.1 L248.1 822.8 L249.3 826.4 L250.5 824.4 L251.7 842.8 L252.9 829.9 L254.1 839.2 L255.3 846.5 L256.5 849.3 L257.7 849.5 L258.9 849.3 L260.1 842.8 L261.3 864.4 L262.5 843.7 L263.7 833.9 L264.9 848.9 L266.1 837.7 L267.3 826.4 L268.5 840.9 L269.7 823.8 L270.9 835.8 L272.1 835.9 L273.3 836.7 L274.5 830.1 L275.7 829.6 L276.9 830 L278.1 831.2 L279.3 831 L280.5 831.1 L281.7 826.3 L282.9 826.9 L284.1 814 L285.3 827.3 L286.5 821.5 L287.7 823 L288.9 820.7 L290.1 822.2 L291.3 817.2 L292.5 825.3 L293.7 827.7 L294.9 828.5 L296.1 827.8 L297.3 830.7 L298.5 820 L299.7 820.4 L300.9 819 L302.1 813.9 L303.3 818.1 L304.5 821.1 L305.7 828.4 L306.9 824.4 L308.1 824.6 L309.3 828.2 L310.5 825.5 L311.7 826.2 L312.9 814.9 L314.1 832.9 L315.3 818.7 L316.5 821.6 L317.7 823.1 L318.9 818.3 L320.1 817.6 L321.3 822.6 L322.5 829 L323.7 829.4 L324.9 830.4 L326.1 827.1 L327.3 846 L328.5 830.8 L329.7 831.4 L330.9 825.7 L332.1 827.2 L333.3 831.9 L334.5 819.2 L335.7 829 L336.9 821 L338.1 807.8 L339.3 814.6 L340.5 825.6 L341.7 810.1 L342.9 820.4 L344.1 818.9 L345.3 817.4 L346.5 817.9 L347.7 828.7 L348.9 819 L350.1 825 L351.3 815 L352.5 827.5 L353.7 809.9 L354.9 816.4 L356.1 803 L357.3 801.4 L358.5 812.7 L359.7 802 L360.9 815.5 L362.1 801 L363.3 795 L364.5 791.2 L365.7 788.7 L366.9 792.5 L368.1 814.8 L369.3 810.2 L370.5 870.2 L371.7 864.5 L372.9 857.1 L374.1 859.9 L375.3 861.5 L376.5 857.2 L377.7 848.3 L378.9 850.4 L380.1 848.5 L381.3 854.3 L382.5 852.5 L383.7 850.1 L384.9 852.4 L386.1 863.5 L387.3 852.1 L388.5 868.6 L389.7 851.1 L390.9 858.9 L392.1 853.9 L393.3 864.4 L394.5 857.8 L395.7 850.2 L396.9 842.9 L398.1 847.8 L399.3 836.4 L400.5 830 L401.7 823.4 L402.9 813.6 L404.1 808.4 L405.3 806.3 L406.5 810 L407.7 806.6 L408.9 797.1 L410.1 812.6 L411.3 802.2 L412.5 800.3 L413.7 799.5 L414.9 802.5 L416.1 802 L417.3 806.7 L418.5 800.9 L419.7 808 L420.9 811.8 L422.1 811.8 L423.3 818.4 L424.5 812.5 L425.7 819 L426.9 830.5 L428.1 832.4 L429.3 836.2 L430.5 843.4 L431.7 846.5 L432.9 849.3 L434.1 861.2 L435.3 858.7 L436.5 863.3 L437.7 867.3 L438.9 870.2 L440.1 875.3 L441.3 868.4 L442.5 864.8 L443.7 862 L444.9 862.6 L446.1 868 L447.3 865 L448.5 853.7 L449.7 851.3 L450.9 854.9 L452.1 846.5 L453.3 847.8 L454.5 844.9 L455.7 848.9 L456.9 846.4 L458.1 842.5 L459.3 842.5 L460.5 842.6 L461.7 841.8 L462.9 842.8 L464.1 850.8 L465.3 841.2 L466.5 844.6 L467.7 843.1 L468.9 849.4 L470.1 850.2 L471.3 854.7 L472.5 852.8 L473.7 854.9 L474.9 861.1 L476.1 851.8 L477.3 842.5 L478.5 846.7 L479.7 847 L480.9 830.3 L482.1 823.6 L483.3 821.6 L484.5 815.5 L485.7 808.1 L486.9 806.9 L488.1 793.7 L489.3 784.4 L490.5 786.1 L491.7 771 L492.9 770.6 L494.1 770.9 L495.3 768.9 L496.5 755.3 L497.7 760.9 L498.9 771.6 L500.1 773.2 L501.3 766.6 L502.5 780.2 L503.7 783.2 L504.9 786.2 L506.1 780.6 L507.3 786.6 L508.5 800.5 L509.7 801 L510.9 815.3 L512.1 817.1 L513.3 830.6 L514.5 845.8 L515.7 859.8 L516.9 853.7 L518.1 867.1 L519.3 873.6 L520.5 873.5 L521.7 872 L522.9 868.2 L524.1 865.8 L525.3 854 L526.5 850.3 L527.7 853.2 L528.9 844.8 L530.1 847.2 L531.3 846.1 L532.5 845.1 L533.7 851.5 L534.9 848.8 L536.1 840.2 L537.3 834.9 L538.5 840.2 L539.7 831.1 L540.9 832.2 L542.1 834 L543.3 832.2 L544.5 825.2 L545.7 832.8 L546.9 830 L548.1 827 L549.3 827.6 L550.5 821.9 L551.7 813.4 L552.9 827.8 L554.1 823.4 L555.3 822.6 L556.5 823.8 L557.7 819.5 L558.9 811.7 L560.1 808.2 L561.3 804.2 L562.5 806.5 L563.7 808 L564.9 809.7 L566.1 809.9 L567.3 814.5 L568.5 808.7 L569.7 811.8 L570.9 809.9 L572.1 811.2 L573.3 809.9 L574.5 805.3 L575.7 807.1 L576.9 814.7 L578.1 812.1 L579.3 818.3 L580.5 811.1 L581.7 807 L582.9 804.4 L584.1 803.2 L585.3 810.6 L586.5 803.4 L587.7 811 L588.9 809.1 L590.1 810.4 L591.3 815.3 L592.5 809.7 L593.7 807.4 L594.9 814.7 L596.1 812.6 L597.3 816.9 L598.5 820.4 L599.7 824.4 L600.9 822.7 L602.1 823.7 L603.3 827.1 L604.5 814.8 L605.7 826 L606.9 828.2 L608.1 815.1 L609.3 830.1 L610.5 824.5 L611.7 830.3 L612.9 836.8 L614.1 838.9 L615.3 841 L616.5 844.1 L617.7 852.4 L618.9 836.8 L620.1 846.8 L621.3 846.3 L622.5 846.3 L623.7 847 L624.9 836.1 L626.1 848.1 L627.3 819.6 L628.5 823.7 L629.7 802.1 L630.9 760 L632.1 729.9 L633.3 701.8 L634.5 680 L635.7 706.9 L636.9 687 L638.1 738.7 L639.3 780 L640.5 805 L641.7 812.5 L642.9 843.3 L644.1 848.1 L645.3 860.5 L646.5 847.7 L647.7 840.5 L648.9 834.4 L650.1 836.9 L651.3 831.6 L652.5 846.5 L653.7 853.1 L654.9 854.4 L656.1 858 L657.3 851.5 L658.5 851.9 L659.7 847.3 L660.9 835.3 L662.1 835.9 L663.3 824.6 L664.5 837.3 L665.7 833.6 L666.9 826.5 L668.1 826.7 L669.3 829.8 L670.5 833.3 L671.7 843.4 L672.9 842.3 L674.1 825.4 L675.3 817.8 L676.5 810.6 L677.7 809.3 L678.9 800.2 L680.1 799.3 L681.3 793.7 L682.5 792.1 L683.7 789.9 L684.9 783.8 L686.1 773 L687.3 776.1 L688.5 758.8 L689.7 774.4 L690.9 777.7 L692.1 752.3 L693.3 762.9 L694.5 764.3 L695.7 764.3 L696.9 763 L698.1 758.2 L699.3 762.7 L700.5 753 L701.7 763.2 L702.9 754.9 L704.1 753 L705.3 751.4 L706.5 765.6 L707.7 791.6 L708.9 786.6 L710.1 782.7 L711.3 790.5 L712.5 792.6 L713.7 808.7 L714.9 811.7 L716.1 817.2 L717.3 820.2 L718.5 822.4 L719.7 826.5 L720.9 831.9 L722.1 832.3 L723.3 832.6 L724.5 840 L725.7 836.2 L726.9 834.4 L728.1 833.2 L729.3 840.4 L730.5 833.4 L731.7 840.9 L732.9 852.2 L734.1 852.1 L735.3 854 L736.5 839.3 L737.7 833.1 L738.9 830.8 L740.1 826.1 L741.3 819.7 L742.5 810.2 L743.7 814.1 L744.9 820.8 L746.1 812.8 L747.3 820.7 L748.5 809.9 L749.7 813.5 L750.9 814.4 L752.1 810.6 L753.3 809.6 L754.5 806.6 L755.7 822.6 L756.9 817.4 L758.1 821.9 L759.3 821.6 L760.5 821.7 L761.7 818.2 L762.9 827.5 L764.1 820.5 L765.3 821 L766.5 822 L767.7 819.9 L768.9 819.6 L770.1 823.1 L771.3 816.5 L772.5 817.4 L773.7 820.2 L774.9 820.9 L776.1 825.5 L777.3 835 L778.5 830.6 L779.7 833.5 L780.9 828.8 L782.1 823.7 L783.3 823 L784.5 830.2 L785.7 833.1 L786.9 825 L788.1 823.3 L789.3 819.4 L790.5 826.1 L791.7 830.4 L792.9 831.8 L794.1 832.2 L795.3 830.4 L796.5 825.6 L797.7 829.5 L798.9 831.7 L800.1 834.8 L801.3 836.1 L802.5 843.9 L803.7 847.1 L804.9 858.1 L806.1 852.3 L807.3 851.9 L808.5 861.2 L809.7 856.4 L810.9 865.6 L812.1 855 L813.3 854.6 L814.5 858.1 L815.7 860.3 L816.9 856.9 L818.1 858.1 L819.3 855.9 L820.5 844 L821.7 853.8 L822.9 836.8 L824.1 846.2 L825.3 850.8 L826.5 843.2 L827.7 852.2 L828.9 863.2 L830.1 862 L831.3 864.2 L832.5 856.8 L833.7 851.4 L834.9 845.7 L836.1 851.2 L837.3 855.4 L838.5 839.2 L839.7 854.8 L840.9 845.8 L842.1 866.5 L843.3 860.9 L844.5 879 L845.7 859.1 L846.9 861.6 L848.1 882.2 L849.3 871.1 L850.5 877.3 L851.7 876.6 L852.9 865.2 L854.1 866.8 L855.3 848 L856.5 848.5 L857.7 853.3 L858.9 844.4 L860.1 846.2 L861.3 847.9 L862.5 850.6 L863.7 842.2 L864.9 858.3 L866.1 845.6 L867.3 842.2 L868.5 828.2 L869.7 792.9 L870.9 798 L872.1 803.9 L873.3 797.8 L874.5 788 L875.7 789.9 L876.9 798.6 L878.1 783.5 L879.3 790.8 L880.5 787.1 L881.7 781.4 L882.9 778.4 L884.1 774.4 L885.3 774.8 L886.5 768.2 L887.7 755.1 L888.9 773 L890.1 760.5" fill="none" stroke="#bcbcbc" stroke-width="1.8" stroke-linejoin="round" opacity="0.6"/>
<path d="M173.7 899.5 L174.9 907.6 L176.1 901.4 L177.3 893.6 L178.5 882.1 L179.7 854.9 L180.9 850.5 L182.1 838.5 L183.3 847.3 L184.5 830.7 L185.7 840.1 L186.9 836.6 L188.1 837.2 L189.3 836.9 L190.5 831.9 L191.7 812.6 L192.9 814.2 L194.1 802 L195.3 795.6 L196.5 788.4 L197.7 792.4 L198.9 824 L200.1 825.8 L201.3 858.6 L202.5 882.4 L203.7 847 L204.9 858.8 L206.1 876.7 L207.3 894.8 L208.5 895.7 L209.7 903.2 L210.9 889.7 L212.1 869.5 L213.3 829.1 L214.5 833.6 L215.7 834.8 L216.9 825.1 L218.1 836.7 L219.3 849.1 L220.5 846.8 L221.7 853.4 L222.9 853.9 L224.1 848.6 L225.3 849.3 L226.5 841.7 L227.7 851.2 L228.9 844.1 L230.1 842.8 L231.3 856.2 L232.5 831.9 L233.7 828.4 L234.9 829.5 L236.1 829 L237.3 831.2 L238.5 816.3 L239.7 828.1 L240.9 826.9 L242.1 830.9 L243.3 827 L244.5 838.3 L245.7 839.7 L246.9 834.3 L248.1 852.3 L249.3 849.7 L250.5 850.2 L251.7 857.4 L252.9 843.8 L254.1 861 L255.3 861 L256.5 859.6 L257.7 866.3 L258.9 869.5 L260.1 866.5 L261.3 865.5 L262.5 877.8 L263.7 865.2 L264.9 873.4 L266.1 867.3 L267.3 863.5 L268.5 863 L269.7 853.8 L270.9 860.3 L272.1 861.8 L273.3 854.1 L274.5 842.5 L275.7 852.2 L276.9 838.1 L278.1 846.3 L279.3 855.3 L280.5 841.6 L281.7 840.4 L282.9 836.1 L284.1 841.5 L285.3 822.8 L286.5 829.9 L287.7 846 L288.9 850.4 L290.1 838.8 L291.3 834.8 L292.5 834.2 L293.7 841.9 L294.9 849.4 L296.1 842.4 L297.3 838.3 L298.5 832.7 L299.7 838.9 L300.9 817.3 L302.1 826.7 L303.3 832.6 L304.5 835.7 L305.7 836 L306.9 829.1 L308.1 844.5 L309.3 838.3 L310.5 826.7 L311.7 842.9 L312.9 833.8 L314.1 839.5 L315.3 830.4 L316.5 826.8 L317.7 838.4 L318.9 843.4 L320.1 830.9 L321.3 848.3 L322.5 833.8 L323.7 832.9 L324.9 837.4 L326.1 843.3 L327.3 841.6 L328.5 847.6 L329.7 842.8 L330.9 838.6 L332.1 846.6 L333.3 842.4 L334.5 841.9 L335.7 843.4 L336.9 834.6 L338.1 831.3 L339.3 839.1 L340.5 822.2 L341.7 834.4 L342.9 828.4 L344.1 834.1 L345.3 824.3 L346.5 833.4 L347.7 839.6 L348.9 845.6 L350.1 832.1 L351.3 826.7 L352.5 826.8 L353.7 832.3 L354.9 824.8 L356.1 823.8 L357.3 820.5 L358.5 830.8 L359.7 831.8 L360.9 828.2 L362.1 831.4 L363.3 816.4 L364.5 807.6 L365.7 803 L366.9 823.2 L368.1 814.2 L369.3 829.6 L370.5 882.5 L371.7 879.3 L372.9 865 L374.1 877.6 L375.3 873.9 L376.5 866 L377.7 867.4 L378.9 868.1 L380.1 854.8 L381.3 864.2 L382.5 873.4 L383.7 863.3 L384.9 868.8 L386.1 884.2 L387.3 872.5 L388.5 883.3 L389.7 877.5 L390.9 869.7 L392.1 873 L393.3 873.5 L394.5 873.8 L395.7 871.9 L396.9 858.5 L398.1 856.6 L399.3 856.5 L400.5 841.2 L401.7 835.5 L402.9 839.1 L404.1 830.4 L405.3 821.1 L406.5 819.2 L407.7 816.8 L408.9 821 L410.1 820.2 L411.3 821.4 L412.5 820.8 L413.7 817.5 L414.9 813.6 L416.1 818.9 L417.3 812.1 L418.5 821.4 L419.7 816.8 L420.9 821.3 L422.1 827.4 L423.3 820.7 L424.5 827.2 L425.7 832.7 L426.9 835.8 L428.1 840.1 L429.3 848.6 L430.5 857.4 L431.7 868.3 L432.9 868.8 L434.1 878.6 L435.3 880.4 L436.5 884.3 L437.7 883.7 L438.9 869.7 L440.1 884.8 L441.3 881.5 L442.5 881.5 L443.7 879 L444.9 874.3 L446.1 878.6 L447.3 874.3 L448.5 869.1 L449.7 863.2 L450.9 861 L452.1 864.9 L453.3 867.3 L454.5 857.3 L455.7 857 L456.9 859.7 L458.1 857.3 L459.3 859.5 L460.5 858.1 L461.7 850.1 L462.9 851.4 L464.1 859 L465.3 852.8 L466.5 850.5 L467.7 854.1 L468.9 856.5 L470.1 862.5 L471.3 862.8 L472.5 865.6 L473.7 863.4 L474.9 863 L476.1 859.8 L477.3 862.3 L478.5 859.9 L479.7 846.7 L480.9 843.1 L482.1 837.1 L483.3 832.2 L484.5 817.3 L485.7 823.4 L486.9 805.9 L488.1 810.4 L489.3 793.2 L490.5 792.6 L491.7 795.7 L492.9 787.5 L494.1 786.3 L495.3 784.8 L496.5 782.9 L497.7 787.8 L498.9 794.5 L500.1 787.1 L501.3 776.6 L502.5 799 L503.7 803.4 L504.9 799.1 L506.1 801.6 L507.3 815.7 L508.5 819.6 L509.7 823.5 L510.9 828.3 L512.1 841.2 L513.3 854.3 L514.5 858.1 L515.7 875.7 L516.9 876.3 L518.1 889.2 L519.3 913.6 L520.5 897 L521.7 901.3 L522.9 888.7 L524.1 900 L525.3 884.6 L526.5 896.7 L527.7 881.9 L528.9 882.8 L530.1 874.4 L531.3 866 L532.5 878.1 L533.7 876.3 L534.9 868.2 L536.1 877.4 L537.3 874.1 L538.5 862.5 L539.7 856.6 L540.9 863.6 L542.1 863 L543.3 855.8 L544.5 856.8 L545.7 854.2 L546.9 846 L548.1 846.6 L549.3 853.5 L550.5 841.9 L551.7 843.6 L552.9 841 L554.1 841.5 L555.3 844 L556.5 837.3 L557.7 838.9 L558.9 831.6 L560.1 831 L561.3 827.3 L562.5 819.8 L563.7 826.3 L564.9 820.4 L566.1 816.8 L567.3 822.8 L568.5 824.9 L569.7 819.7 L570.9 823.3 L572.1 825.6 L573.3 825.1 L574.5 816.2 L575.7 824.3 L576.9 817.9 L578.1 822.2 L579.3 822.1 L580.5 821.8 L581.7 830.1 L582.9 818.7 L584.1 835.4 L585.3 821 L586.5 812.8 L587.7 817.9 L588.9 817.5 L590.1 817.2 L591.3 817.5 L592.5 824.9 L593.7 825.8 L594.9 831.7 L596.1 828.9 L597.3 824.2 L598.5 824.6 L599.7 830.7 L600.9 837.8 L602.1 834.5 L603.3 838.1 L604.5 837.3 L605.7 840.8 L606.9 845.9 L608.1 851.6 L609.3 844.3 L610.5 845.2 L611.7 848.5 L612.9 853.1 L614.1 862.5 L615.3 861.4 L616.5 866.3 L617.7 867.4 L618.9 870.9 L620.1 869.2 L621.3 864.6 L622.5 868 L623.7 865.7 L624.9 867.1 L626.1 871.4 L627.3 869.1 L628.5 860 L629.7 852.8 L630.9 831.5 L632.1 800.8 L633.3 787.3 L634.5 785.3 L635.7 762.5 L636.9 766.7 L638.1 791.8 L639.3 828.4 L640.5 851.1 L641.7 883.7 L642.9 884.5 L644.1 882.9 L645.3 906 L646.5 890.4 L647.7 876.9 L648.9 885.2 L650.1 882.5 L651.3 886.6 L652.5 900 L653.7 894.7 L654.9 896.9 L656.1 895.2 L657.3 899.9 L658.5 891.9 L659.7 886.2 L660.9 884.5 L662.1 879.8 L663.3 869.5 L664.5 871 L665.7 851.9 L666.9 867.2 L668.1 871.8 L669.3 865.7 L670.5 869.1 L671.7 879.4 L672.9 857.9 L674.1 856.4 L675.3 867.1 L676.5 842.3 L677.7 835.1 L678.9 822 L680.1 823.3 L681.3 822.7 L682.5 817.7 L683.7 816.6 L684.9 802.4 L686.1 799.1 L687.3 793.1 L688.5 795.4 L689.7 785.7 L690.9 791.1 L692.1 796.3 L693.3 784.7 L694.5 781.6 L695.7 790.5 L696.9 780.9 L698.1 793.7 L699.3 788.4 L700.5 795.6 L701.7 791.4 L702.9 775.1 L704.1 784.1 L705.3 789.9 L706.5 798.5 L707.7 805.6 L708.9 807 L710.1 813.8 L711.3 811.6 L712.5 810.4 L713.7 817.4 L714.9 820.9 L716.1 823.6 L717.3 843.5 L718.5 841 L719.7 840.5 L720.9 841.3 L722.1 842.9 L723.3 842.4 L724.5 853 L725.7 856.2 L726.9 844.2 L728.1 853.8 L729.3 853.6 L730.5 856.6 L731.7 853.4 L732.9 856.5 L734.1 860.4 L735.3 863.7 L736.5 856.8 L737.7 849.2 L738.9 844.9 L740.1 847.3 L741.3 840.7 L742.5 839.4 L743.7 837.2 L744.9 831.9 L746.1 828 L747.3 824.5 L748.5 824.5 L749.7 826.1 L750.9 832.9 L752.1 826.8 L753.3 825.1 L754.5 828.1 L755.7 824.5 L756.9 845.1 L758.1 826.8 L759.3 834.8 L760.5 842.3 L761.7 838.2 L762.9 849 L764.1 836.4 L765.3 839.3 L766.5 839.1 L767.7 839.8 L768.9 836 L770.1 840.6 L771.3 833.7 L772.5 838.9 L773.7 844.4 L774.9 831.5 L776.1 848.3 L777.3 853 L778.5 850 L779.7 849.3 L780.9 857.5 L782.1 844.5 L783.3 844.6 L784.5 854.5 L785.7 838.7 L786.9 850.7 L788.1 846.6 L789.3 849.7 L790.5 842.1 L791.7 844.7 L792.9 843.3 L794.1 858.6 L795.3 844.3 L796.5 846.3 L797.7 854.3 L798.9 857.7 L800.1 845.2 L801.3 864.3 L802.5 863.2 L803.7 870.3 L804.9 878.9 L806.1 882.5 L807.3 880.3 L808.5 882.4 L809.7 879.2 L810.9 880.4 L812.1 878.5 L813.3 883.3 L814.5 886.5 L815.7 871.4 L816.9 877.2 L818.1 879.2 L819.3 876 L820.5 875.4 L821.7 867.2 L822.9 875.8 L824.1 875.2 L825.3 870.7 L826.5 890.4 L827.7 884.5 L828.9 896.8 L830.1 881.3 L831.3 880.4 L832.5 883.6 L833.7 870.7 L834.9 883 L836.1 868.8 L837.3 869.4 L838.5 866.1 L839.7 872.5 L840.9 872.5 L842.1 886.6 L843.3 890.7 L844.5 874.7 L845.7 891 L846.9 895.3 L848.1 897.9 L849.3 896.1 L850.5 898.5 L851.7 882.9 L852.9 881.8 L854.1 882.2 L855.3 879.1 L856.5 863.9 L857.7 867 L858.9 864.3 L860.1 865.4 L861.3 855.9 L862.5 863.8 L863.7 853 L864.9 860.5 L866.1 865 L867.3 854.6 L868.5 829.6 L869.7 827.7 L870.9 823.1 L872.1 807 L873.3 799.6 L874.5 803.6 L875.7 815.4 L876.9 794.1 L878.1 811.4 L879.3 812 L880.5 814 L881.7 798.1 L882.9 815.8 L884.1 788.3 L885.3 802.3 L886.5 791.1 L887.7 785.8 L888.9 775.9 L890.1 770.3" fill="none" stroke="#bcbcbc" stroke-width="1.8" stroke-linejoin="round" opacity="0.6"/>
<path d="M173.7 888.4 L174.9 891.6 L176.1 900 L177.3 893.9 L178.5 896.9 L179.7 862.3 L180.9 847.3 L182.1 848.8 L183.3 844.9 L184.5 851.7 L185.7 830.5 L186.9 842.8 L188.1 842.2 L189.3 844.2 L190.5 830.3 L191.7 822.5 L192.9 813.7 L194.1 811.6 L195.3 789.3 L196.5 799.3 L197.7 787.9 L198.9 822.3 L200.1 839.1 L201.3 857.7 L202.5 861.9 L203.7 847.7 L204.9 849.9 L206.1 868.1 L207.3 893.5 L208.5 889.2 L209.7 890.2 L210.9 878 L212.1 838.7 L213.3 832.9 L214.5 822.4 L215.7 825.8 L216.9 828.4 L218.1 829.2 L219.3 826 L220.5 830.5 L221.7 847.3 L222.9 829.2 L224.1 836.1 L225.3 833.4 L226.5 829.2 L227.7 825.5 L228.9 840.2 L230.1 831.2 L231.3 830.1 L232.5 833.7 L233.7 815.7 L234.9 804.7 L236.1 820.4 L237.3 821.6 L238.5 801.6 L239.7 812.9 L240.9 817 L242.1 827.5 L243.3 806.2 L244.5 832.8 L245.7 820.1 L246.9 818.8 L248.1 832.5 L249.3 836.8 L250.5 840.1 L251.7 837.9 L252.9 839.7 L254.1 843.2 L255.3 852 L256.5 845.6 L257.7 857.9 L258.9 861 L260.1 853.4 L261.3 864 L262.5 858.5 L263.7 859.9 L264.9 863.4 L266.1 846.4 L267.3 839.2 L268.5 848.7 L269.7 843.2 L270.9 834.3 L272.1 827.5 L273.3 837.1 L274.5 844.7 L275.7 828.8 L276.9 844.2 L278.1 845.3 L279.3 835.2 L280.5 833.6 L281.7 841.6 L282.9 826.6 L284.1 832.3 L285.3 843.7 L286.5 827.3 L287.7 833.3 L288.9 839.6 L290.1 833.2 L291.3 837.1 L292.5 833.5 L293.7 832.4 L294.9 838.3 L296.1 847.3 L297.3 842.5 L298.5 834.1 L299.7 827.2 L300.9 832.4 L302.1 837.2 L303.3 841.6 L304.5 837.4 L305.7 847.4 L306.9 842.7 L308.1 847.4 L309.3 841.9 L310.5 855.1 L311.7 834.5 L312.9 853.1 L314.1 844.1 L315.3 841.2 L316.5 839.5 L317.7 841.1 L318.9 849.7 L320.1 845.3 L321.3 840.2 L322.5 844.2 L323.7 834.6 L324.9 845.6 L326.1 858.8 L327.3 853.1 L328.5 852 L329.7 844.1 L330.9 846.9 L332.1 840.6 L333.3 834.3 L334.5 841.5 L335.7 831.4 L336.9 832.6 L338.1 831.1 L339.3 819.5 L340.5 833.6 L341.7 821.8 L342.9 825.8 L344.1 828.5 L345.3 820.2 L346.5 832.1 L347.7 828.8 L348.9 827.3 L350.1 830.8 L351.3 837 L352.5 827.8 L353.7 819.8 L354.9 827.9 L356.1 808.5 L357.3 812.3 L358.5 813.6 L359.7 811.3 L360.9 809.4 L362.1 819.6 L363.3 812.4 L364.5 791.1 L365.7 803.9 L366.9 793.3 L368.1 802.2 L369.3 815.3 L370.5 874.6 L371.7 857.6 L372.9 865.2 L374.1 857.8 L375.3 860.1 L376.5 854.3 L377.7 860.5 L378.9 857.8 L380.1 848.2 L381.3 862.8 L382.5 859.5 L383.7 848.5 L384.9 861.2 L386.1 873 L387.3 866.6 L388.5 874.8 L389.7 872.1 L390.9 867.9 L392.1 866.2 L393.3 859.3 L394.5 867.7 L395.7 864.4 L396.9 860.8 L398.1 855.7 L399.3 843.1 L400.5 837.7 L401.7 825.7 L402.9 826.2 L404.1 827.7 L405.3 814.8 L406.5 808.8 L407.7 816.7 L408.9 811.3 L410.1 814.2 L411.3 811.6 L412.5 814.1 L413.7 802.3 L414.9 807.9 L416.1 812.4 L417.3 811.8 L418.5 812.8 L419.7 814.9 L420.9 816.8 L422.1 822 L423.3 822.2 L424.5 823.3 L425.7 827.9 L426.9 837.2 L428.1 842.4 L429.3 841.4 L430.5 854.8 L431.7 859.7 L432.9 856 L434.1 872.8 L435.3 872.6 L436.5 873.2 L437.7 872.2 L438.9 875.7 L440.1 876 L441.3 873 L442.5 872.9 L443.7 869.5 L444.9 873.8 L446.1 873.5 L447.3 867.5 L448.5 865.5 L449.7 865.3 L450.9 854 L452.1 859.4 L453.3 857.2 L454.5 851.7 L455.7 854.4 L456.9 850.9 L458.1 849.3 L459.3 847.4 L460.5 854.7 L461.7 842.5 L462.9 845.8 L464.1 847.6 L465.3 846.9 L466.5 848.3 L467.7 851 L468.9 847.8 L470.1 856.2 L471.3 853.9 L472.5 863.4 L473.7 867.4 L474.9 858.2 L476.1 857.1 L477.3 856.6 L478.5 850.5 L479.7 848.6 L480.9 834.7 L482.1 835.3 L483.3 821.1 L484.5 812.8 L485.7 806.9 L486.9 801.4 L488.1 800.4 L489.3 806.7 L490.5 786.3 L491.7 776 L492.9 774.1 L494.1 774 L495.3 774 L496.5 771.6 L497.7 768.8 L498.9 769.6 L500.1 775.2 L501.3 785.4 L502.5 777.1 L503.7 785.4 L504.9 776.2 L506.1 788.8 L507.3 785.7 L508.5 803.9 L509.7 808.1 L510.9 814.2 L512.1 821.3 L513.3 821 L514.5 836 L515.7 850.4 L516.9 849.4 L518.1 862.9 L519.3 853.9 L520.5 863.8 L521.7 853.3 L522.9 858.1 L524.1 860 L525.3 855.8 L526.5 849 L527.7 851.7 L528.9 835.2 L530.1 836.8 L531.3 841.7 L532.5 845.9 L533.7 841.7 L534.9 843.4 L536.1 851 L537.3 830.6 L538.5 835.3 L539.7 825.1 L540.9 829.2 L542.1 825.6 L543.3 831.1 L544.5 829.6 L545.7 826.7 L546.9 826.9 L548.1 830.5 L549.3 823 L550.5 826.9 L551.7 820.8 L552.9 819.8 L554.1 823.5 L555.3 829.1 L556.5 812.9 L557.7 820.6 L558.9 822.1 L560.1 809.8 L561.3 815.2 L562.5 808.9 L563.7 818.3 L564.9 812.9 L566.1 816.7 L567.3 814.9 L568.5 811.5 L569.7 819.2 L570.9 817.4 L572.1 813.6 L573.3 827 L574.5 821.3 L575.7 827 L576.9 821.2 L578.1 817.4 L579.3 816 L580.5 820.1 L581.7 816.6 L582.9 817.2 L584.1 822.8 L585.3 822 L586.5 818.7 L587.7 822 L588.9 822.1 L590.1 818.9 L591.3 823.3 L592.5 822.8 L593.7 824.9 L594.9 823.4 L596.1 822.3 L597.3 823.5 L598.5 825.4 L599.7 821.6 L600.9 827 L602.1 825.1 L603.3 835.6 L604.5 834.5 L605.7 832.2 L606.9 837.7 L608.1 841 L609.3 842.7 L610.5 839.3 L611.7 844.8 L612.9 852.6 L614.1 847.6 L615.3 859 L616.5 857 L617.7 860.3 L618.9 861.3 L620.1 857.4 L621.3 855.1 L622.5 859.9 L623.7 862.8 L624.9 869.6 L626.1 858.9 L627.3 849.7 L628.5 854.7 L629.7 817.3 L630.9 804.6 L632.1 784.7 L633.3 723.6 L634.5 769.6 L635.7 751.2 L636.9 746.5 L638.1 768.7 L639.3 806.3 L640.5 842.7 L641.7 854.6 L642.9 861.6 L644.1 881.5 L645.3 871.8 L646.5 872.4 L647.7 867.2 L648.9 877.2 L650.1 866.4 L651.3 870.6 L652.5 880 L653.7 883.6 L654.9 888.7 L656.1 873.1 L657.3 886.8 L658.5 884.7 L659.7 862.1 L660.9 869.8 L662.1 867.5 L663.3 856.9 L664.5 849.1 L665.7 849.2 L666.9 848.7 L668.1 850.6 L669.3 855.6 L670.5 860 L671.7 871 L672.9 867.2 L674.1 845.8 L675.3 847.1 L676.5 835.3 L677.7 824.4 L678.9 814.9 L680.1 829.3 L681.3 820.3 L682.5 809.4 L683.7 801.6 L684.9 796.7 L686.1 788.2 L687.3 791.3 L688.5 781.3 L689.7 771.5 L690.9 780.7 L692.1 776.8 L693.3 781.4 L694.5 778.4 L695.7 782.8 L696.9 773.8 L698.1 787.2 L699.3 784.3 L700.5 787.5 L701.7 792.7 L702.9 780.9 L704.1 779.6 L705.3 778.1 L706.5 788.2 L707.7 791.7 L708.9 808.8 L710.1 800.6 L711.3 807.1 L712.5 806.7 L713.7 813.6 L714.9 814.4 L716.1 825.1 L717.3 840.3 L718.5 849.3 L719.7 842.6 L720.9 841.3 L722.1 844.9 L723.3 844.5 L724.5 842.4 L725.7 844.5 L726.9 848.5 L728.1 852.1 L729.3 858.9 L730.5 853.7 L731.7 855.4 L732.9 854.6 L734.1 862.2 L735.3 865.7 L736.5 860 L737.7 856 L738.9 850.5 L740.1 841.2 L741.3 835.9 L742.5 835.8 L743.7 829.9 L744.9 829.3 L746.1 841.7 L747.3 823.8 L748.5 826.3 L749.7 830.7 L750.9 825.3 L752.1 829.8 L753.3 825.7 L754.5 824.8 L755.7 824.6 L756.9 829.9 L758.1 846.9 L759.3 831.5 L760.5 830.1 L761.7 836.2 L762.9 839.7 L764.1 833 L765.3 835 L766.5 829.2 L767.7 836.1 L768.9 832.6 L770.1 828.1 L771.3 844 L772.5 817.4 L773.7 833 L774.9 826.6 L776.1 834.1 L777.3 834.9 L778.5 839.2 L779.7 832.6 L780.9 845.3 L782.1 835.4 L783.3 829.2 L784.5 843.5 L785.7 835.3 L786.9 831.7 L788.1 827.1 L789.3 836.2 L790.5 829 L791.7 825.3 L792.9 832.5 L794.1 835.2 L795.3 836.2 L796.5 831.5 L797.7 844.3 L798.9 833.7 L800.1 836.9 L801.3 838.3 L802.5 847.9 L803.7 864.2 L804.9 851.3 L806.1 869.2 L807.3 858.3 L808.5 860.4 L809.7 861.6 L810.9 860.3 L812.1 873.4 L813.3 864.3 L814.5 864.9 L815.7 867.6 L816.9 862.6 L818.1 875.2 L819.3 867.8 L820.5 862.2 L821.7 864.4 L822.9 853.7 L824.1 866.8 L825.3 874.1 L826.5 878.2 L827.7 870.9 L828.9 894.3 L830.1 885.1 L831.3 883 L832.5 877.9 L833.7 865 L834.9 870.7 L836.1 871.5 L837.3 862.9 L838.5 869.7 L839.7 863.5 L840.9 862.8 L842.1 867.4 L843.3 876.1 L844.5 874.5 L845.7 885.2 L846.9 873.6 L848.1 893.2 L849.3 886.8 L850.5 897.5 L851.7 874.2 L852.9 863.5 L854.1 859.2 L855.3 873.2 L856.5 861.5 L857.7 857.8 L858.9 853.1 L860.1 843.9 L861.3 841.5 L862.5 854.4 L863.7 850.9 L864.9 845.2 L866.1 847.3 L867.3 852.8 L868.5 823.2 L869.7 808.2 L870.9 811.2 L872.1 790.5 L873.3 800 L874.5 802.9 L875.7 788.5 L876.9 787.8 L878.1 798.2 L879.3 799.8 L880.5 789.8 L881.7 792.7 L882.9 788.3 L884.1 786.2 L885.3 772.8 L886.5 796.1 L887.7 785.1 L888.9 764.8 L890.1 767.6" fill="none" stroke="#bcbcbc" stroke-width="1.8" stroke-linejoin="round" opacity="0.6"/>
<path d="M173.7 875.8 L174.9 867.6 L176.1 858 L177.3 872.6 L178.5 858.1 L179.7 850 L180.9 819.6 L182.1 819.5 L183.3 820.1 L184.5 827 L185.7 817 L186.9 815.4 L188.1 824.5 L189.3 817.5 L190.5 813.2 L191.7 807.4 L192.9 795.9 L194.1 775.2 L195.3 775.1 L196.5 768.6 L197.7 775.5 L198.9 807.8 L200.1 823.2 L201.3 840.3 L202.5 830.5 L203.7 826.2 L204.9 821.9 L206.1 834.2 L207.3 861.4 L208.5 872.4 L209.7 875.1 L210.9 859.2 L212.1 821.4 L213.3 814.3 L214.5 803.7 L215.7 812.2 L216.9 811.2 L218.1 814.2 L219.3 818.4 L220.5 825.2 L221.7 807.1 L222.9 822.4 L224.1 819.1 L225.3 824.6 L226.5 807.4 L227.7 811.2 L228.9 819.9 L230.1 821.7 L231.3 827.7 L232.5 796.6 L233.7 817.9 L234.9 800.1 L236.1 796.2 L237.3 807.5 L238.5 805.8 L239.7 808 L240.9 805.1 L242.1 805.7 L243.3 807.9 L244.5 804.9 L245.7 810.3 L246.9 831.9 L248.1 831.5 L249.3 826.1 L250.5 838.3 L251.7 821.4 L252.9 835.8 L254.1 839.7 L255.3 834.1 L256.5 837.4 L257.7 856.9 L258.9 845 L260.1 844.7 L261.3 841.9 L262.5 844.5 L263.7 841.1 L264.9 846.9 L266.1 842.9 L267.3 833.3 L268.5 828.5 L269.7 834.9 L270.9 829 L272.1 822 L273.3 834 L274.5 837.7 L275.7 822.1 L276.9 818.3 L278.1 835.7 L279.3 832.7 L280.5 821.8 L281.7 818.3 L282.9 825.9 L284.1 822.9 L285.3 822.1 L286.5 811.9 L287.7 829.2 L288.9 826.6 L290.1 825.5 L291.3 814.8 L292.5 832.5 L293.7 837.8 L294.9 824.1 L296.1 839.1 L297.3 829.6 L298.5 818.1 L299.7 816.9 L300.9 826.6 L302.1 815.2 L303.3 825.5 L304.5 823.5 L305.7 828.7 L306.9 818.6 L308.1 823.8 L309.3 826.1 L310.5 824.7 L311.7 825.2 L312.9 834.3 L314.1 831.9 L315.3 822.5 L316.5 819.9 L317.7 819 L318.9 815.4 L320.1 824.4 L321.3 828.7 L322.5 832.9 L323.7 821.7 L324.9 828.3 L326.1 831.7 L327.3 832 L328.5 823.3 L329.7 826.5 L330.9 828.4 L332.1 827.2 L333.3 821.3 L334.5 812.9 L335.7 824.4 L336.9 820.7 L338.1 815.9 L339.3 808.8 L340.5 806.8 L341.7 805.2 L342.9 812.8 L344.1 809.4 L345.3 807.2 L346.5 801.6 L347.7 815.6 L348.9 808.7 L350.1 812.9 L351.3 803.6 L352.5 802.7 L353.7 807.9 L354.9 808.1 L356.1 800.4 L357.3 793.9 L358.5 790.2 L359.7 796.4 L360.9 790 L362.1 795.3 L363.3 788 L364.5 777.7 L365.7 792.9 L366.9 777.9 L368.1 783.3 L369.3 790.8 L370.5 854.1 L371.7 846.2 L372.9 849.9 L374.1 842 L375.3 837.8 L376.5 843.1 L377.7 840.5 L378.9 834.2 L380.1 839.8 L381.3 843 L382.5 837.8 L383.7 845.5 L384.9 854 L386.1 842.4 L387.3 851.7 L388.5 843.9 L389.7 846.6 L390.9 850 L392.1 852.2 L393.3 850.4 L394.5 857 L395.7 841.3 L396.9 835.3 L398.1 832.7 L399.3 824.9 L400.5 820.6 L401.7 811.1 L402.9 814.1 L404.1 804.1 L405.3 806.6 L406.5 799.4 L407.7 791.4 L408.9 798.2 L410.1 789.8 L411.3 798 L412.5 799.3 L413.7 789.2 L414.9 791.2 L416.1 791.2 L417.3 798 L418.5 794.3 L419.7 796.2 L420.9 798.4 L422.1 808.5 L423.3 814.3 L424.5 811.9 L425.7 810.3 L426.9 818.6 L428.1 826.5 L429.3 828.2 L430.5 837.6 L431.7 848.6 L432.9 847 L434.1 849 L435.3 858 L436.5 857.9 L437.7 863.7 L438.9 860.5 L440.1 865.8 L441.3 861.7 L442.5 863.2 L443.7 858.6 L444.9 859.2 L446.1 861.3 L447.3 854.9 L448.5 851.5 L449.7 843.3 L450.9 852.1 L452.1 850.4 L453.3 846.9 L454.5 837.8 L455.7 843 L456.9 838.6 L458.1 840.1 L459.3 840.1 L460.5 841.3 L461.7 848.9 L462.9 838.3 L464.1 849.1 L465.3 846.3 L466.5 844.4 L467.7 844.6 L468.9 848.1 L470.1 846 L471.3 854.8 L472.5 856.3 L473.7 851.7 L474.9 852.1 L476.1 856.4 L477.3 858 L478.5 859.7 L479.7 846.5 L480.9 831.1 L482.1 825.2 L483.3 824.5 L484.5 818.7 L485.7 807.3 L486.9 804.1 L488.1 799.6 L489.3 799.5 L490.5 789.5 L491.7 792.6 L492.9 776.4 L494.1 788.7 L495.3 775.4 L496.5 763.8 L497.7 774.5 L498.9 785.9 L500.1 790 L501.3 789.6 L502.5 782.4 L503.7 787.3 L504.9 800.4 L506.1 802.9 L507.3 789.8 L508.5 801.6 L509.7 809.5 L510.9 821.7 L512.1 829.7 L513.3 841.7 L514.5 863.1 L515.7 862.7 L516.9 864 L518.1 877.4 L519.3 870.4 L520.5 893.8 L521.7 880.1 L522.9 858.6 L524.1 870.6 L525.3 856.9 L526.5 863.1 L527.7 861.1 L528.9 856.4 L530.1 847.4 L531.3 856 L532.5 848.3 L533.7 855 L534.9 847 L536.1 847.4 L537.3 843 L538.5 842.9 L539.7 836.5 L540.9 840.1 L542.1 835.1 L543.3 831.2 L544.5 834.3 L545.7 834.7 L546.9 832.2 L548.1 832.4 L549.3 829 L550.5 826.4 L551.7 825.8 L552.9 819.6 L554.1 812.6 L555.3 818.1 L556.5 820.5 L557.7 812.8 L558.9 818.2 L560.1 815.8 L561.3 809.7 L562.5 805 L563.7 812.1 L564.9 802.8 L566.1 809.7 L567.3 814.5 L568.5 807.9 L569.7 802.8 L570.9 812.8 L572.1 811.4 L573.3 810.8 L574.5 807.6 L575.7 802.9 L576.9 819.5 L578.1 805 L579.3 813.2 L580.5 814.5 L581.7 810.7 L582.9 809.8 L584.1 806.3 L585.3 803.4 L586.5 798 L587.7 798.7 L588.9 800.9 L590.1 804.8 L591.3 808.4 L592.5 805.2 L593.7 815.5 L594.9 815.2 L596.1 815.1 L597.3 814.4 L598.5 815.4 L599.7 823.4 L600.9 816.4 L602.1 818.8 L603.3 827.9 L604.5 818.9 L605.7 822.4 L606.9 820.5 L608.1 830 L609.3 826 L610.5 828.1 L611.7 830.4 L612.9 836 L614.1 836.4 L615.3 848.9 L616.5 843.3 L617.7 848.2 L618.9 850 L620.1 850.2 L621.3 847.8 L622.5 851.7 L623.7 853.1 L624.9 848 L626.1 836.1 L627.3 843.8 L628.5 831.7 L629.7 803.6 L630.9 768.4 L632.1 727.6 L633.3 704.8 L634.5 703.4 L635.7 715.5 L636.9 706.9 L638.1 753.2 L639.3 777.9 L640.5 820.2 L641.7 826.5 L642.9 850.5 L644.1 852.4 L645.3 856.8 L646.5 845.9 L647.7 855.5 L648.9 836.4 L650.1 846.9 L651.3 840.2 L652.5 857.7 L653.7 855.2 L654.9 837.6 L656.1 865.6 L657.3 854.8 L658.5 840.3 L659.7 837.5 L660.9 849.3 L662.1 835.8 L663.3 832.2 L664.5 828.2 L665.7 822.8 L666.9 828.4 L668.1 817.3 L669.3 834.2 L670.5 840.7 L671.7 838.7 L672.9 833.7 L674.1 829.9 L675.3 817.2 L676.5 804.6 L677.7 801.1 L678.9 813.2 L680.1 781.6 L681.3 793.6 L682.5 775.6 L683.7 784.6 L684.9 774.8 L686.1 765.5 L687.3 758.5 L688.5 770.2 L689.7 761.3 L690.9 749.9 L692.1 757.8 L693.3 753.8 L694.5 759.5 L695.7 761.5 L696.9 752.5 L698.1 754.3 L699.3 753.4 L700.5 755.1 L701.7 747.6 L702.9 744 L704.1 746.3 L705.3 735.9 L706.5 753.8 L707.7 774 L708.9 765.5 L710.1 780.8 L711.3 782 L712.5 785.7 L713.7 803.3 L714.9 806.2 L716.1 808.1 L717.3 815.7 L718.5 822.7 L719.7 826.7 L720.9 821.8 L722.1 829.7 L723.3 826 L724.5 817.5 L725.7 826.7 L726.9 826.4 L728.1 827.5 L729.3 829.7 L730.5 831.8 L731.7 833.6 L732.9 836.4 L734.1 838.4 L735.3 842.6 L736.5 837.1 L737.7 837.1 L738.9 824.6 L740.1 825.6 L741.3 827.5 L742.5 815 L743.7 818.6 L744.9 808.5 L746.1 818.2 L747.3 812.4 L748.5 823.4 L749.7 808 L750.9 816.1 L752.1 819.7 L753.3 820.4 L754.5 818.4 L755.7 822.6 L756.9 815.7 L758.1 823.7 L759.3 816.9 L760.5 818 L761.7 824.4 L762.9 822.4 L764.1 828.7 L765.3 834.5 L766.5 826.7 L767.7 820.6 L768.9 814.4 L770.1 812.9 L771.3 825.1 L772.5 818.3 L773.7 816.5 L774.9 813 L776.1 815.1 L777.3 829 L778.5 827.5 L779.7 836.3 L780.9 821.7 L782.1 820.1 L783.3 816 L784.5 814.8 L785.7 822.3 L786.9 821.2 L788.1 813.2 L789.3 808.3 L790.5 818.1 L791.7 811.4 L792.9 805.7 L794.1 813.2 L795.3 808.7 L796.5 815.6 L797.7 800.5 L798.9 806.2 L800.1 807.3 L801.3 812 L802.5 819.5 L803.7 838.5 L804.9 838.9 L806.1 837.9 L807.3 837.3 L808.5 832.4 L809.7 846.5 L810.9 830.6 L812.1 829.9 L813.3 840.2 L814.5 835.5 L815.7 836.7 L816.9 835.8 L818.1 835.1 L819.3 839.9 L820.5 833.4 L821.7 830.9 L822.9 835.9 L824.1 831.7 L825.3 837.4 L826.5 844.3 L827.7 850.1 L828.9 860.1 L830.1 860 L831.3 852.7 L832.5 846.4 L833.7 840.5 L834.9 843.7 L836.1 825 L837.3 848.4 L838.5 836 L839.7 840 L840.9 837.5 L842.1 842.4 L843.3 846.1 L844.5 853 L845.7 852.3 L846.9 855 L848.1 862.1 L849.3 856.5 L850.5 856.2 L851.7 844.4 L852.9 855.7 L854.1 842.7 L855.3 837 L856.5 830.3 L857.7 842.1 L858.9 830.1 L860.1 831.7 L861.3 828.6 L862.5 830.4 L863.7 823.2 L864.9 824.7 L866.1 826.2 L867.3 815.6 L868.5 802.4 L869.7 776.7 L870.9 782.7 L872.1 776.7 L873.3 792.4 L874.5 766.5 L875.7 774.8 L876.9 770.5 L878.1 773.2 L879.3 782.9 L880.5 758.1 L881.7 771.6 L882.9 777.9 L884.1 742.1 L885.3 744.4 L886.5 757.9 L887.7 726.3 L888.9 728.1 L890.1 717.7" fill="none" stroke="#bcbcbc" stroke-width="1.8" stroke-linejoin="round" opacity="0.6"/>
<line x1="194.9" y1="748" x2="194.9" y2="780" stroke="#c6c6c6" stroke-width="3.4"/>
<line x1="365" y1="757" x2="365" y2="795" stroke="#c6c6c6" stroke-width="3.4"/>
<line x1="497" y1="741" x2="497" y2="775" stroke="#c6c6c6" stroke-width="3.4"/>
<line x1="635" y1="650" x2="635" y2="725" stroke="#c6c6c6" stroke-width="3.4"/>
<line x1="890.5" y1="698" x2="890.5" y2="752" stroke="#c6c6c6" stroke-width="3.4"/>
<line x1="176" y1="886" x2="176" y2="931" stroke="#c6c6c6" stroke-width="3.4"/>
<line x1="209" y1="874" x2="209" y2="914" stroke="#c6c6c6" stroke-width="3.4"/>
<line x1="202.5" y1="855" x2="202.5" y2="893" stroke="#c6c6c6" stroke-width="3.4"/>
<line x1="370.5" y1="870" x2="370.5" y2="896" stroke="#c6c6c6" stroke-width="3.4"/>
<line x1="520.5" y1="875" x2="520.5" y2="915" stroke="#c6c6c6" stroke-width="3.4"/>
<line x1="647" y1="865" x2="647" y2="902" stroke="#c6c6c6" stroke-width="3.4"/>
<line x1="830" y1="876" x2="830" y2="904" stroke="#c6c6c6" stroke-width="3.4"/>
<line x1="850" y1="876" x2="850" y2="903" stroke="#c6c6c6" stroke-width="3.4"/>
<line x1="703" y1="730" x2="703" y2="765" stroke="#c6c6c6" stroke-width="3.4"/>
<line x1="259.5" y1="862" x2="259.5" y2="895" stroke="#c6c6c6" stroke-width="3.4"/>
<path d="M173.7 887.3 L174.9 882.5 L176.1 892.9 L177.3 884.9 L178.5 878.2 L179.7 851.2 L180.9 846.2 L182.1 830.5 L183.3 838.4 L184.5 827.2 L185.7 839.9 L186.9 826.4 L188.1 836.4 L189.3 829.8 L190.5 831.7 L191.7 816.6 L192.9 813 L194.1 790.5 L195.3 788.8 L196.5 779.7 L197.7 786.7 L198.9 807.8 L200.1 829.4 L201.3 838.4 L202.5 859.7 L203.7 835.3 L204.9 838 L206.1 846.9 L207.3 876.2 L208.5 867.4 L209.7 880.9 L210.9 860 L212.1 839 L213.3 808.4 L214.5 818.1 L215.7 805.7 L216.9 817 L218.1 813.4 L219.3 824.3 L220.5 820.5 L221.7 834.2 L222.9 823.1 L224.1 835 L225.3 825.3 L226.5 832.2 L227.7 820.2 L228.9 826.5 L230.1 816.6 L231.3 823.7 L232.5 810.8 L233.7 815.2 L234.9 805 L236.1 810.8 L237.3 805.7 L238.5 808.8 L239.7 803 L240.9 813.2 L242.1 810.4 L243.3 817.6 L244.5 815.2 L245.7 828.5 L246.9 823 L248.1 837.1 L249.3 830.3 L250.5 842.1 L251.7 839.2 L252.9 848.1 L254.1 844.4 L255.3 856.6 L256.5 850.2 L257.7 854.6 L258.9 854.6 L260.1 864.4 L261.3 854 L262.5 863.7 L263.7 854.3 L264.9 864.4 L266.1 849.4 L267.3 856.5 L268.5 843.3 L269.7 852.7 L270.9 839.9 L272.1 848.7 L273.3 836.1 L274.5 837.3 L275.7 829.4 L276.9 843.5 L278.1 829.1 L279.3 840.1 L280.5 830.7 L281.7 837.7 L282.9 832.6 L284.1 835.1 L285.3 827.5 L286.5 838.2 L287.7 828.8 L288.9 839.2 L290.1 822.4 L291.3 831.2 L292.5 821.9 L293.7 835.5 L294.9 836.1 L296.1 850 L297.3 832.4 L298.5 842.9 L299.7 827.7 L300.9 832.2 L302.1 821.7 L303.3 832.1 L304.5 825 L305.7 836.4 L306.9 831.2 L308.1 838.6 L309.3 829.7 L310.5 840.2 L311.7 832.2 L312.9 841.3 L314.1 828.8 L315.3 835 L316.5 831.4 L317.7 836.6 L318.9 826.2 L320.1 833.9 L321.3 829.9 L322.5 838.4 L323.7 829.1 L324.9 838.4 L326.1 831.6 L327.3 837.8 L328.5 828.4 L329.7 835.8 L330.9 826 L332.1 828.4 L333.3 822.6 L334.5 832.1 L335.7 820.2 L336.9 826 L338.1 816.9 L339.3 824.4 L340.5 814.2 L341.7 823.9 L342.9 814.5 L344.1 823.9 L345.3 817.6 L346.5 825.4 L347.7 821.9 L348.9 827.3 L350.1 819.1 L351.3 822.8 L352.5 814.8 L353.7 819.5 L354.9 807.7 L356.1 816.8 L357.3 803.1 L358.5 813 L359.7 805 L360.9 810.4 L362.1 802.9 L363.3 803.9 L364.5 787.3 L365.7 794 L366.9 791.3 L368.1 801.3 L369.3 811.6 L370.5 872.8 L371.7 861.6 L372.9 864 L374.1 857.1 L375.3 858.2 L376.5 854.6 L377.7 854.9 L378.9 850.8 L380.1 852.5 L381.3 852.5 L382.5 856.2 L383.7 855.5 L384.9 859.4 L386.1 860.7 L387.3 864.2 L388.5 864.7 L389.7 866.6 L390.9 863.9 L392.1 864.4 L393.3 861.3 L394.5 862.1 L395.7 856.1 L396.9 852.1 L398.1 845.3 L399.3 841.1 L400.5 833.6 L401.7 828.9 L402.9 821.3 L404.1 819.6 L405.3 816 L406.5 813.4 L407.7 809.8 L408.9 810.2 L410.1 806.4 L411.3 807.3 L412.5 805 L413.7 805.2 L414.9 804.3 L416.1 806.2 L417.3 805 L418.5 807.1 L419.7 808.2 L420.9 813.1 L422.1 815.1 L423.3 818.4 L424.5 820.2 L425.7 824.6 L426.9 829.5 L428.1 836.5 L429.3 840.2 L430.5 847.8 L431.7 851.8 L432.9 859.8 L434.1 864.1 L435.3 868.7 L436.5 868.8 L437.7 871.9 L438.9 872 L440.1 875 L441.3 871.2 L442.5 870.8 L443.7 868.1 L444.9 869.2 L446.1 865.4 L447.3 864.2 L448.5 861 L449.7 860.5 L450.9 856.2 L452.1 855.2 L453.3 853.3 L454.5 854.1 L455.7 850.3 L456.9 851.6 L458.1 849.1 L459.3 850.5 L460.5 847.7 L461.7 849.4 L462.9 847.8 L464.1 849.2 L465.3 847.9 L466.5 848.4 L467.7 847.2 L468.9 851.1 L470.1 851.6 L471.3 855.4 L472.5 857 L473.7 861.5 L474.9 857.5 L476.1 857.8 L477.3 855.4 L478.5 854 L479.7 845.9 L480.9 840.1 L482.1 831.3 L483.3 827 L484.5 817.9 L485.7 813.3 L486.9 805.4 L488.1 800.2 L489.3 792.4 L490.5 788.8 L491.7 781.6 L492.9 779.4 L494.1 775.3 L495.3 775.8 L496.5 772 L497.7 775.3 L498.9 776.4 L500.1 781.1 L501.3 781.3 L502.5 786.1 L503.7 788.5 L504.9 795.2 L506.1 795.4 L507.3 802 L508.5 805.2 L509.7 816.8 L510.9 819.5 L512.1 830 L513.3 837.2 L514.5 850.7 L515.7 858.7 L516.9 867.3 L518.1 866.6 L519.3 874.9 L520.5 876 L521.7 874.6 L522.9 866.9 L524.1 867.1 L525.3 858.6 L526.5 861 L527.7 853.1 L528.9 853.1 L530.1 847.8 L531.3 852 L532.5 848.8 L533.7 853.6 L534.9 851 L536.1 855.1 L537.3 846.1 L538.5 848.7 L539.7 839.8 L540.9 839.1 L542.1 834.5 L543.3 836.2 L544.5 831.7 L545.7 835.7 L546.9 830.1 L548.1 835.8 L549.3 827.8 L550.5 833.5 L551.7 826.2 L552.9 827.8 L554.1 823.2 L555.3 826.4 L556.5 820.7 L557.7 823.6 L558.9 816.1 L560.1 820.2 L561.3 812.8 L562.5 817.7 L563.7 810 L564.9 816.6 L566.1 814 L567.3 816.9 L568.5 813.8 L569.7 819.3 L570.9 813.8 L572.1 820.2 L573.3 817.1 L574.5 817.6 L575.7 815.7 L576.9 817.6 L578.1 814.6 L579.3 820.1 L580.5 812.5 L581.7 817.3 L582.9 812.5 L584.1 816.6 L585.3 810.9 L586.5 814.4 L587.7 808.2 L588.9 811.7 L590.1 809.1 L591.3 816.1 L592.5 813.7 L593.7 818.1 L594.9 815.4 L596.1 821.9 L597.3 817.7 L598.5 823.4 L599.7 817.3 L600.9 824 L602.1 821.1 L603.3 825.9 L604.5 823.6 L605.7 833.2 L606.9 831.3 L608.1 836.4 L609.3 834 L610.5 841.8 L611.7 837.9 L612.9 845.4 L614.1 841.5 L615.3 850.4 L616.5 848.6 L617.7 853 L618.9 851.9 L620.1 854.4 L621.3 851.6 L622.5 856 L623.7 851.3 L624.9 857.4 L626.1 846 L627.3 845.5 L628.5 830.8 L629.7 810.7 L630.9 781 L632.1 759.7 L633.3 721.2 L634.5 725.7 L635.7 717.6 L636.9 726.7 L638.1 747.9 L639.3 799 L640.5 817.7 L641.7 842.5 L642.9 850.3 L644.1 863.2 L645.3 861.2 L646.5 864 L647.7 855.2 L648.9 855.7 L650.1 850.6 L651.3 860 L652.5 857.2 L653.7 864 L654.9 860.8 L656.1 868.8 L657.3 858.2 L658.5 865.1 L659.7 850.2 L660.9 854.6 L662.1 841.3 L663.3 843.6 L664.5 836.3 L665.7 839.5 L666.9 831.2 L668.1 842.6 L669.3 839.3 L670.5 848.6 L671.7 849.7 L672.9 850.6 L674.1 833.6 L675.3 832 L676.5 814.9 L677.7 816 L678.9 804.9 L680.1 808.8 L681.3 798.4 L682.5 800.9 L683.7 787.8 L684.9 789.3 L686.1 777.7 L687.3 781.8 L688.5 771.8 L689.7 780.1 L690.9 772.1 L692.1 776.4 L693.3 772.5 L694.5 777.9 L695.7 771.8 L696.9 776.7 L698.1 773.2 L699.3 777.7 L700.5 771.9 L701.7 773.9 L702.9 765.8 L704.1 767.5 L705.3 767.1 L706.5 785.9 L707.7 792.5 L708.9 796.8 L710.1 794.1 L711.3 801.3 L712.5 797.9 L713.7 810.3 L714.9 815 L716.1 826.1 L717.3 829.2 L718.5 835.4 L719.7 829.6 L720.9 835.8 L722.1 834.7 L723.3 839.2 L724.5 835.9 L725.7 846.8 L726.9 840.5 L728.1 845.4 L729.3 840.5 L730.5 846.4 L731.7 846.4 L732.9 852.1 L734.1 851.8 L735.3 857.5 L736.5 851.2 L737.7 847.9 L738.9 838.5 L740.1 839.5 L741.3 826.1 L742.5 832 L743.7 827.6 L744.9 830.8 L746.1 822 L747.3 828.5 L748.5 825.4 L749.7 828.6 L750.9 825 L752.1 827.5 L753.3 820.7 L754.5 827.3 L755.7 822.8 L756.9 828.9 L758.1 823.5 L759.3 832.3 L760.5 826.6 L761.7 834.8 L762.9 829.4 L764.1 834.5 L765.3 827.4 L766.5 834.3 L767.7 826.7 L768.9 834.4 L770.1 825.9 L771.3 828.9 L772.5 824.7 L773.7 830.9 L774.9 826.6 L776.1 835.5 L777.3 835 L778.5 842.2 L779.7 833.6 L780.9 837.6 L782.1 831.6 L783.3 836 L784.5 825.2 L785.7 828.3 L786.9 824.9 L788.1 830.8 L789.3 824.9 L790.5 832.1 L791.7 827.5 L792.9 834.5 L794.1 827.5 L795.3 834 L796.5 828.7 L797.7 834.9 L798.9 830.1 L800.1 835.4 L801.3 833.4 L802.5 847.6 L803.7 846.8 L804.9 860.2 L806.1 851.9 L807.3 859.9 L808.5 853.3 L809.7 859.5 L810.9 853.9 L812.1 861.8 L813.3 853.6 L814.5 862.7 L815.7 856.4 L816.9 860.3 L818.1 856.6 L819.3 860.4 L820.5 853.8 L821.7 859 L822.9 850.8 L824.1 856.5 L825.3 855.7 L826.5 866.1 L827.7 868 L828.9 878.1 L830.1 871.3 L831.3 876 L832.5 862.9 L833.7 865.3 L834.9 852.3 L836.1 857.7 L837.3 851.3 L838.5 859.9 L839.7 854.3 L840.9 858.7 L842.1 858.4 L843.3 866.6 L844.5 868.8 L845.7 876.7 L846.9 870.5 L848.1 879.7 L849.3 874.4 L850.5 876.6 L851.7 869.4 L852.9 873.2 L854.1 861.6 L855.3 864.4 L856.5 852.5 L857.7 857.1 L858.9 847 L860.1 848.1 L861.3 841.8 L862.5 846.9 L863.7 840.8 L864.9 849.8 L866.1 846.1 L867.3 837.8 L868.5 817 L869.7 810.4 L870.9 794.4 L872.1 796.5 L873.3 788.7 L874.5 792 L875.7 786.5 L876.9 791.6 L878.1 786.8 L879.3 792.5 L880.5 781.1 L881.7 781.8 L882.9 771.7 L884.1 771.3 L885.3 764.3 L886.5 766.8 L887.7 759.8 L888.9 760.8 L890.1 752.2" fill="none" stroke="#000" stroke-width="5.3" stroke-linejoin="round"/>
<line x1="677.5" y1="856" x2="682" y2="802" stroke="#000" stroke-width="8.5" stroke-linecap="round"/>
<line x1="873" y1="799" x2="882" y2="781" stroke="#000" stroke-width="8.5" stroke-linecap="round"/>
<line x1="866" y1="857" x2="866.5" y2="837" stroke="#000" stroke-width="6.5" stroke-linecap="round"/>
<line x1="206" y1="868" x2="210.5" y2="872" stroke="#000" stroke-width="7" stroke-linecap="round"/>
<line x1="203" y1="845" x2="203" y2="812" stroke="#000" stroke-width="7" stroke-linecap="round"/>
<rect x="147.6" y="641.2" width="772.6" height="341.3" fill="none" stroke="#000" stroke-width="2.4"/>
<line x1="175.7" y1="982.5" x2="175.7" y2="1002.5" stroke="#000" stroke-width="2.4"/>
<text x="174.2" y="1049.3" font-size="31" text-anchor="middle" textLength="49.4" lengthAdjust="spacingAndGlyphs">500</text>
<line x1="371" y1="982.5" x2="371" y2="1002.5" stroke="#000" stroke-width="2.4"/>
<text x="369.5" y="1049.3" font-size="31" text-anchor="middle" textLength="65.8" lengthAdjust="spacingAndGlyphs">1000</text>
<line x1="563.3" y1="982.5" x2="563.3" y2="1002.5" stroke="#000" stroke-width="2.4"/>
<text x="561.8" y="1049.3" font-size="31" text-anchor="middle" textLength="65.8" lengthAdjust="spacingAndGlyphs">1500</text>
<line x1="755.9" y1="982.5" x2="755.9" y2="1002.5" stroke="#000" stroke-width="2.4"/>
<text x="754.4" y="1049.3" font-size="31" text-anchor="middle" textLength="65.8" lengthAdjust="spacingAndGlyphs">2000</text>
<line x1="127.8" y1="968.9" x2="147.6" y2="968.9" stroke="#000" stroke-width="2.4"/>
<text transform="translate(103.5 968.4) rotate(-90)" font-size="31" text-anchor="middle" textLength="42.8" lengthAdjust="spacingAndGlyphs">-10</text>
<line x1="127.8" y1="900.2" x2="147.6" y2="900.2" stroke="#000" stroke-width="2.4"/>
<text transform="translate(103.5 899.7) rotate(-90)" font-size="31" text-anchor="middle" textLength="26.3" lengthAdjust="spacingAndGlyphs">-5</text>
<line x1="127.8" y1="833.4" x2="147.6" y2="833.4" stroke="#000" stroke-width="2.4"/>
<text transform="translate(103.5 832.9) rotate(-90)" font-size="31" text-anchor="middle" textLength="16.5" lengthAdjust="spacingAndGlyphs">0</text>
<line x1="127.8" y1="764.2" x2="147.6" y2="764.2" stroke="#000" stroke-width="2.4"/>
<text transform="translate(103.5 763.7) rotate(-90)" font-size="31" text-anchor="middle" textLength="16.5" lengthAdjust="spacingAndGlyphs">5</text>
<line x1="127.8" y1="695.6" x2="147.6" y2="695.6" stroke="#000" stroke-width="2.4"/>
<text transform="translate(103.5 695.1) rotate(-90)" font-size="31" text-anchor="middle" textLength="32.9" lengthAdjust="spacingAndGlyphs">10</text>
<text x="529.3" y="1125.6" font-size="31" text-anchor="middle" textLength="148" lengthAdjust="spacingAndGlyphs">wavelength</text>
<text transform="translate(27.8 810.2) rotate(-90)" font-size="31" text-anchor="middle" textLength="257" lengthAdjust="spacingAndGlyphs">coefficient function</text>
<text x="224.2" y="694.4" font-size="32">B</text>
<line x1="553.5" y1="958" x2="593" y2="958" stroke="#000" stroke-width="4.4"/>
<text x="619.6" y="969.4" font-size="24" textLength="289" lengthAdjust="spacing">mean coefficient function</text>
</g>
<g id="panelC">
<rect x="1455.3" y="929.8" width="21.7" height="14" fill="#80fc80"/>
<rect x="1479.1" y="853.7" width="21.6" height="87.7" fill="#80fc80"/>
<rect x="1503.1" y="693.7" width="23.7" height="228.5" fill="#80fc80"/>
<rect x="1528.9" y="412.2" width="21.5" height="455.6" fill="#80fc80"/>
<rect x="1553.1" y="69.6" width="21.2" height="614.8" fill="#80fc80"/>
<rect x="1576.8" y="67.5" width="19.7" height="283.5" fill="#80fc80"/>
<rect x="1503.1" y="925" width="23.7" height="18.8" fill="#3b74c4"/>
<rect x="1528.9" y="870.4" width="21.5" height="73.4" fill="#3b74c4"/>
<rect x="1553.1" y="687.6" width="21.2" height="256.2" fill="#3b74c4"/>
<rect x="1576.8" y="353.4" width="19.7" height="590.4" fill="#3b74c4"/>
<rect x="1599.5" y="95.9" width="22.1" height="847.9" fill="#7573fa"/>
<rect x="1624.3" y="136.4" width="18.6" height="807.4" fill="#7573fa"/>
<rect x="1645.7" y="335.8" width="18.6" height="608" fill="#7573fa"/>
<rect x="1667" y="566.3" width="18.8" height="377.5" fill="#7573fa"/>
<rect x="1688.3" y="749.2" width="21.3" height="194.6" fill="#7573fa"/>
<rect x="1712.3" y="860.9" width="18.7" height="82.9" fill="#7573fa"/>
<rect x="1733.6" y="894" width="18.8" height="49.8" fill="#7573fa"/>
<rect x="1755" y="929.5" width="21" height="14.3" fill="#7573fa"/>
<rect x="1778.7" y="941.6" width="18.7" height="2.2" fill="#7573fa"/>
<rect x="1599.5" y="373.8" width="22.1" height="570" fill="#3b74c4"/>
<rect x="1624.3" y="625.4" width="18.6" height="318.4" fill="#3b74c4"/>
<rect x="1645.7" y="792" width="18.6" height="151.8" fill="#3b74c4"/>
<rect x="1667" y="891.8" width="18.8" height="52" fill="#3b74c4"/>
<rect x="1688.3" y="931.8" width="21.3" height="12" fill="#3b74c4"/>
<rect x="1712.3" y="939" width="18.7" height="4.8" fill="#3b74c4"/>
<line x1="1598" y1="0" x2="1598" y2="984.2" stroke="#000" stroke-width="4.4"/>
<line x1="1216.8" y1="944.2" x2="1216.8" y2="38.8" stroke="#000" stroke-width="2.4"/>
<line x1="1196.6" y1="943" x2="1216.8" y2="943" stroke="#000" stroke-width="2.4"/>
<text transform="translate(1173 943.5) rotate(-90)" font-size="31" text-anchor="middle" textLength="57.6" lengthAdjust="spacingAndGlyphs">0.00</text>
<line x1="1196.6" y1="794.2" x2="1216.8" y2="794.2" stroke="#000" stroke-width="2.4"/>
<text transform="translate(1173 794.7) rotate(-90)" font-size="31" text-anchor="middle" textLength="57.6" lengthAdjust="spacingAndGlyphs">0.05</text>
<line x1="1196.6" y1="642.7" x2="1216.8" y2="642.7" stroke="#000" stroke-width="2.4"/>
<text transform="translate(1173 643.2) rotate(-90)" font-size="31" text-anchor="middle" textLength="57.6" lengthAdjust="spacingAndGlyphs">0.10</text>
<line x1="1196.6" y1="491.3" x2="1216.8" y2="491.3" stroke="#000" stroke-width="2.4"/>
<text transform="translate(1173 491.8) rotate(-90)" font-size="31" text-anchor="middle" textLength="57.6" lengthAdjust="spacingAndGlyphs">0.15</text>
<line x1="1196.6" y1="341.4" x2="1216.8" y2="341.4" stroke="#000" stroke-width="2.4"/>
<text transform="translate(1173 341.9) rotate(-90)" font-size="31" text-anchor="middle" textLength="57.6" lengthAdjust="spacingAndGlyphs">0.20</text>
<line x1="1196.6" y1="189.7" x2="1216.8" y2="189.7" stroke="#000" stroke-width="2.4"/>
<text transform="translate(1173 190.2) rotate(-90)" font-size="31" text-anchor="middle" textLength="57.6" lengthAdjust="spacingAndGlyphs">0.25</text>
<line x1="1196.6" y1="40" x2="1216.8" y2="40" stroke="#000" stroke-width="2.4"/>
<text transform="translate(1173 40.5) rotate(-90)" font-size="31" text-anchor="middle" textLength="57.6" lengthAdjust="spacingAndGlyphs">0.30</text>
<line x1="1302.8" y1="983" x2="1901.9" y2="983" stroke="#000" stroke-width="2.4"/>
<line x1="1304" y1="983" x2="1304" y2="1002.8" stroke="#000" stroke-width="2.4"/>
<text x="1302.5" y="1049.3" font-size="31" text-anchor="middle" textLength="42.8" lengthAdjust="spacingAndGlyphs">-10</text>
<line x1="1454" y1="983" x2="1454" y2="1002.8" stroke="#000" stroke-width="2.4"/>
<text x="1452.5" y="1049.3" font-size="31" text-anchor="middle" textLength="26.3" lengthAdjust="spacingAndGlyphs">-5</text>
<line x1="1601.2" y1="983" x2="1601.2" y2="1002.8" stroke="#000" stroke-width="2.4"/>
<text x="1600.7" y="1049.3" font-size="31" text-anchor="middle" textLength="16.5" lengthAdjust="spacingAndGlyphs">0</text>
<line x1="1751.3" y1="983" x2="1751.3" y2="1002.8" stroke="#000" stroke-width="2.4"/>
<text x="1750.8" y="1049.3" font-size="31" text-anchor="middle" textLength="16.5" lengthAdjust="spacingAndGlyphs">5</text>
<line x1="1900.7" y1="983" x2="1900.7" y2="1002.8" stroke="#000" stroke-width="2.4"/>
<text x="1900.2" y="1049.3" font-size="31" text-anchor="middle" textLength="32.9" lengthAdjust="spacingAndGlyphs">10</text>
<text x="1599.4" y="1125.8" font-size="31" text-anchor="middle" textLength="202" lengthAdjust="spacingAndGlyphs">linear predictor</text>
<text transform="translate(1097.2 490.3) rotate(-90)" font-size="31" text-anchor="middle" textLength="94.5" lengthAdjust="spacingAndGlyphs">density</text>
<text x="1291" y="55.5" font-size="32">C</text>
<line x1="1225" y1="818" x2="1260.6" y2="818" stroke="#000" stroke-width="4.4"/>
<rect x="1237" y="842" width="9.6" height="9.5" fill="#80fc80"/>
<rect x="1237" y="870.8" width="9.6" height="9.4" fill="#8080ff"/>
<rect x="1237" y="899.3" width="9.6" height="9.3" fill="#2f6eb4"/>
<text x="1287" y="829" font-size="21" textLength="155" lengthAdjust="spacingAndGlyphs">optimal cutoff</text>
<text x="1287" y="857" font-size="21" textLength="188.6" lengthAdjust="spacingAndGlyphs">obs. uninfectious</text>
<text x="1287" y="886" font-size="21" textLength="159.4" lengthAdjust="spacingAndGlyphs">obs. infectious</text>
<text x="1287" y="914.4" font-size="21" textLength="190.6" lengthAdjust="spacingAndGlyphs">obs. misclassified</text>
<rect x="1729.4" y="121.1" width="118.8" height="120" fill="#e5e5e5"/>
<rect x="1729.4" y="241.1" width="118.8" height="48.7" fill="#999"/>
<rect x="1848.2" y="121.1" width="120" height="42.7" fill="#999"/>
<rect x="1848.2" y="163.8" width="120" height="126" fill="#e5e5e5"/>
<line x1="1729.4" y1="241.1" x2="1848.2" y2="241.1" stroke="#000" stroke-width="2.4"/>
<line x1="1848.2" y1="163.8" x2="1968.2" y2="163.8" stroke="#000" stroke-width="2.4"/>
<line x1="1848.2" y1="121.1" x2="1848.2" y2="289.8" stroke="#000" stroke-width="2.4"/>
<rect x="1729.4" y="121.1" width="238.8" height="168.7" fill="none" stroke="#000" stroke-width="2.4"/>
<text x="1732.2" y="114" font-size="28.5" textLength="227.6" lengthAdjust="spacingAndGlyphs">predicted class: 0</text>
<text x="1732.2" y="320.7" font-size="28.5" textLength="226.5" lengthAdjust="spacingAndGlyphs">predicted class: 1</text>
<text x="1733.7" y="194.7" font-size="28.5" textLength="106.2" lengthAdjust="spacingAndGlyphs">tnr=0.72</text>
<text x="1733.7" y="274.8" font-size="28.5" textLength="104.5" lengthAdjust="spacingAndGlyphs">fpr=0.28</text>
<text x="1852.5" y="154.3" font-size="28.5" textLength="104.5" lengthAdjust="spacingAndGlyphs">fnr=0.26</text>
<text x="1852.5" y="237.5" font-size="28.5" textLength="106.2" lengthAdjust="spacingAndGlyphs">tpr=0.74</text>
<text transform="translate(1714 314.7) rotate(-90)" font-size="28.5" textLength="221" lengthAdjust="spacingAndGlyphs">observed class: 0</text>
<text transform="translate(2006.9 314.7) rotate(-90)" font-size="28.5" textLength="216.2" lengthAdjust="spacingAndGlyphs">observed class: 1</text>
</g>
</svg>
</body>
</html>
